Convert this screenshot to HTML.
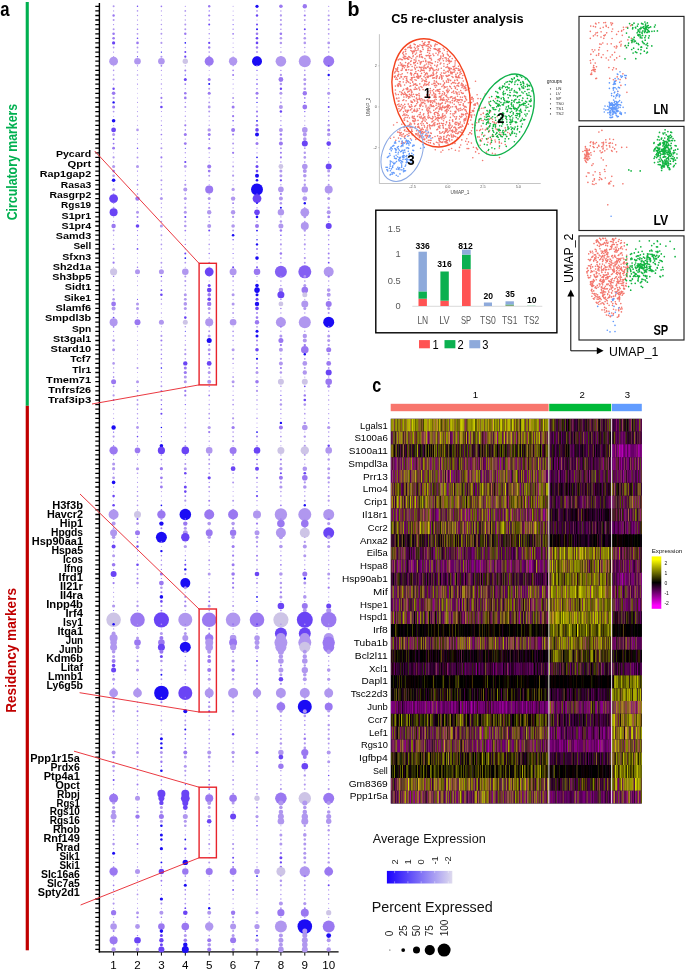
<!DOCTYPE html>
<html lang="en"><head><meta charset="utf-8"><title>Figure</title>
<style>html,body{margin:0;padding:0;background:#fff}body{width:685px;height:971px;overflow:hidden;font-family:"Liberation Sans",Arial,sans-serif}svg{display:block}</style>
</head><body><svg width="685" height="971" viewBox="0 0 685 971"><g id="pa">
<rect x="25.7" y="2" width="3.1" height="403.8" fill="#00b050"/>
<rect x="25.7" y="405.8" width="3.2" height="544.5" fill="#c00000"/>
<text x="0.3" y="15.5" font-family="Liberation Sans, Arial, sans-serif" font-weight="700" font-size="20" textLength="9.3" lengthAdjust="spacingAndGlyphs">a</text>
<text transform="translate(17.3,220.3) rotate(-90)" font-family="Liberation Sans, Arial, sans-serif" font-weight="700" font-size="13.8" fill="#00b050" textLength="116.5" lengthAdjust="spacingAndGlyphs">Circulatory markers</text>
<text transform="translate(16,712.8) rotate(-90)" font-family="Liberation Sans, Arial, sans-serif" font-weight="700" font-size="14" fill="#c00000" textLength="124.8" lengthAdjust="spacingAndGlyphs">Residency markers</text>
<path d="M99.4 3V952.4" stroke="#000" stroke-width="1.4" fill="none"/>
<path d="M95.3 6.3H99M95.3 10.9H99M95.3 15.5H99M95.3 20H99M95.3 24.6H99M95.3 29.2H99M95.3 33.8H99M95.3 38.3H99M95.3 42.9H99M95.3 47.5H99M95.3 52.1H99M95.3 56.7H99M95.3 61.2H99M95.3 65.8H99M95.3 70.4H99M95.3 75H99M95.3 79.5H99M95.3 84.1H99M95.3 88.7H99M95.3 93.3H99M95.3 97.9H99M95.3 102.4H99M95.3 107H99M95.3 111.6H99M95.3 116.2H99M95.3 120.8H99M95.3 125.3H99M95.3 129.9H99M95.3 134.5H99M95.3 139.1H99M95.3 143.6H99M95.3 148.2H99M95.3 152.8H99M95.3 157.4H99M95.3 162H99M95.3 166.5H99M95.3 171.1H99M95.3 175.7H99M95.3 180.3H99M95.3 184.8H99M95.3 189.4H99M95.3 194H99M95.3 198.6H99M95.3 203.2H99M95.3 207.7H99M95.3 212.3H99M95.3 216.9H99M95.3 221.5H99M95.3 226H99M95.3 230.6H99M95.3 235.2H99M95.3 239.8H99M95.3 244.4H99M95.3 248.9H99M95.3 253.5H99M95.3 258.1H99M95.3 262.7H99M95.3 267.2H99M95.3 271.8H99M95.3 276.4H99M95.3 281H99M95.3 285.6H99M95.3 290.1H99M95.3 294.7H99M95.3 299.3H99M95.3 303.9H99M95.3 308.4H99M95.3 313H99M95.3 317.6H99M95.3 322.2H99M95.3 326.8H99M95.3 331.3H99M95.3 335.9H99M95.3 340.5H99M95.3 345.1H99M95.3 349.7H99M95.3 354.2H99M95.3 358.8H99M95.3 363.4H99M95.3 368H99M95.3 372.5H99M95.3 377.1H99M95.3 381.7H99M95.3 386.3H99M95.3 390.9H99M95.3 395.4H99M95.3 400H99M95.3 404.6H99M95.3 409.2H99M95.3 413.7H99M95.3 418.3H99M95.3 422.9H99M95.3 427.5H99M95.3 432.1H99M95.3 436.6H99M95.3 441.2H99M95.3 445.8H99M95.3 450.4H99M95.3 454.9H99M95.3 459.5H99M95.3 464.1H99M95.3 468.7H99M95.3 473.3H99M95.3 477.8H99M95.3 482.4H99M95.3 487H99M95.3 491.6H99M95.3 496.1H99M95.3 500.7H99M95.3 505.3H99M95.3 509.9H99M95.3 514.5H99M95.3 519H99M95.3 523.6H99M95.3 528.2H99M95.3 532.8H99M95.3 537.3H99M95.3 541.9H99M95.3 546.5H99M95.3 551.1H99M95.3 555.7H99M95.3 560.2H99M95.3 564.8H99M95.3 569.4H99M95.3 574H99M95.3 578.5H99M95.3 583.1H99M95.3 587.7H99M95.3 592.3H99M95.3 596.9H99M95.3 601.4H99M95.3 606H99M95.3 610.6H99M95.3 615.2H99M95.3 619.8H99M95.3 624.3H99M95.3 628.9H99M95.3 633.5H99M95.3 638.1H99M95.3 642.6H99M95.3 647.2H99M95.3 651.8H99M95.3 656.4H99M95.3 661H99M95.3 665.5H99M95.3 670.1H99M95.3 674.7H99M95.3 679.3H99M95.3 683.8H99M95.3 688.4H99M95.3 693H99M95.3 697.6H99M95.3 702.2H99M95.3 706.7H99M95.3 711.3H99M95.3 715.9H99M95.3 720.5H99M95.3 725H99M95.3 729.6H99M95.3 734.2H99M95.3 738.8H99M95.3 743.4H99M95.3 747.9H99M95.3 752.5H99M95.3 757.1H99M95.3 761.7H99M95.3 766.2H99M95.3 770.8H99M95.3 775.4H99M95.3 780H99M95.3 784.6H99M95.3 789.1H99M95.3 793.7H99M95.3 798.3H99M95.3 802.9H99M95.3 807.5H99M95.3 812H99M95.3 816.6H99M95.3 821.2H99M95.3 825.8H99M95.3 830.3H99M95.3 834.9H99M95.3 839.5H99M95.3 844.1H99M95.3 848.7H99M95.3 853.2H99M95.3 857.8H99M95.3 862.4H99M95.3 867H99M95.3 871.5H99M95.3 876.1H99M95.3 880.7H99M95.3 885.3H99M95.3 889.9H99M95.3 894.4H99M95.3 899H99M95.3 903.6H99M95.3 908.2H99M95.3 912.7H99M95.3 917.3H99M95.3 921.9H99M95.3 926.5H99M95.3 931.1H99M95.3 935.6H99M95.3 940.2H99M95.3 944.8H99M95.3 949.4H99" stroke="#000" stroke-width="1.3" fill="none"/>
<path d="M98.7 951.9H338.6" stroke="#000" stroke-width="1.1" fill="none"/>
<path d="M113.6 951.9V955.6M137.5 951.9V955.6M161.4 951.9V955.6M185.3 951.9V955.6M209.2 951.9V955.6M233.1 951.9V955.6M257 951.9V955.6M280.9 951.9V955.6M304.8 951.9V955.6M328.7 951.9V955.6" stroke="#000" stroke-width="1" fill="none"/>
<text x="113.6" y="969.4" font-family="Liberation Sans, Arial, sans-serif" font-size="11.6" text-anchor="middle">1</text>
<text x="137.5" y="969.4" font-family="Liberation Sans, Arial, sans-serif" font-size="11.6" text-anchor="middle">2</text>
<text x="161.4" y="969.4" font-family="Liberation Sans, Arial, sans-serif" font-size="11.6" text-anchor="middle">3</text>
<text x="185.3" y="969.4" font-family="Liberation Sans, Arial, sans-serif" font-size="11.6" text-anchor="middle">4</text>
<text x="209.2" y="969.4" font-family="Liberation Sans, Arial, sans-serif" font-size="11.6" text-anchor="middle">5</text>
<text x="233.1" y="969.4" font-family="Liberation Sans, Arial, sans-serif" font-size="11.6" text-anchor="middle">6</text>
<text x="257" y="969.4" font-family="Liberation Sans, Arial, sans-serif" font-size="11.6" text-anchor="middle">7</text>
<text x="280.9" y="969.4" font-family="Liberation Sans, Arial, sans-serif" font-size="11.6" text-anchor="middle">8</text>
<text x="304.8" y="969.4" font-family="Liberation Sans, Arial, sans-serif" font-size="11.6" text-anchor="middle">9</text>
<text x="328.7" y="969.4" font-family="Liberation Sans, Arial, sans-serif" font-size="11.6" text-anchor="middle">10</text>
<circle cx="113.6" cy="6.3" r="1.00" fill="#b097ef"/>
<circle cx="137.5" cy="6.3" r="0.72" fill="#6a44f5"/>
<circle cx="161.4" cy="6.3" r="0.85" fill="#9a78f1"/>
<circle cx="185.3" cy="6.3" r="0.55" fill="#9a78f1"/>
<circle cx="209.2" cy="6.3" r="1.20" fill="#9a78f1"/>
<circle cx="233.1" cy="6.3" r="0.55" fill="#b097ef"/>
<circle cx="257" cy="6.3" r="1.60" fill="#1b0cf4"/>
<circle cx="280.9" cy="6.3" r="1.80" fill="#9a78f1"/>
<circle cx="304.8" cy="6.3" r="2.20" fill="#9a78f1"/>
<circle cx="328.7" cy="6.3" r="0.55" fill="#9a78f1"/>
<circle cx="113.6" cy="10.9" r="0.65" fill="#b097ef"/>
<circle cx="137.5" cy="10.9" r="0.81" fill="#b097ef"/>
<circle cx="161.4" cy="10.9" r="0.62" fill="#b097ef"/>
<circle cx="185.3" cy="10.9" r="0.90" fill="#b097ef"/>
<circle cx="209.2" cy="10.9" r="0.55" fill="#6a44f5"/>
<circle cx="233.1" cy="10.9" r="0.50" fill="#b097ef"/>
<circle cx="257" cy="10.9" r="0.90" fill="#b097ef"/>
<circle cx="280.9" cy="10.9" r="0.75" fill="#b097ef"/>
<circle cx="304.8" cy="10.9" r="0.72" fill="#b097ef"/>
<circle cx="328.7" cy="10.9" r="0.66" fill="#b097ef"/>
<circle cx="113.6" cy="15.5" r="1.20" fill="#9a78f1"/>
<circle cx="137.5" cy="15.5" r="0.63" fill="#b097ef"/>
<circle cx="161.4" cy="15.5" r="0.57" fill="#b097ef"/>
<circle cx="185.3" cy="15.5" r="0.65" fill="#b097ef"/>
<circle cx="209.2" cy="15.5" r="1.10" fill="#9a78f1"/>
<circle cx="233.1" cy="15.5" r="0.50" fill="#b097ef"/>
<circle cx="257" cy="15.5" r="1.20" fill="#6a44f5"/>
<circle cx="280.9" cy="15.5" r="1.15" fill="#b097ef"/>
<circle cx="304.8" cy="15.5" r="1.08" fill="#9a78f1"/>
<circle cx="328.7" cy="15.5" r="1.10" fill="#b097ef"/>
<circle cx="113.6" cy="20" r="1.00" fill="#b097ef"/>
<circle cx="137.5" cy="20" r="0.59" fill="#9a78f1"/>
<circle cx="161.4" cy="20" r="0.62" fill="#b097ef"/>
<circle cx="185.3" cy="20" r="0.70" fill="#b097ef"/>
<circle cx="209.2" cy="20" r="0.80" fill="#9a78f1"/>
<circle cx="233.1" cy="20" r="0.70" fill="#b097ef"/>
<circle cx="257" cy="20" r="0.55" fill="#b097ef"/>
<circle cx="280.9" cy="20" r="1.03" fill="#b097ef"/>
<circle cx="304.8" cy="20" r="0.96" fill="#b097ef"/>
<circle cx="328.7" cy="20" r="1.10" fill="#b097ef"/>
<circle cx="113.6" cy="24.6" r="0.55" fill="#9a78f1"/>
<circle cx="137.5" cy="24.6" r="0.72" fill="#b097ef"/>
<circle cx="161.4" cy="24.6" r="0.76" fill="#b097ef"/>
<circle cx="185.3" cy="24.6" r="1.00" fill="#b097ef"/>
<circle cx="209.2" cy="24.6" r="1.00" fill="#6a44f5"/>
<circle cx="233.1" cy="24.6" r="0.55" fill="#6a44f5"/>
<circle cx="257" cy="24.6" r="1.00" fill="#6a44f5"/>
<circle cx="280.9" cy="24.6" r="1.15" fill="#b097ef"/>
<circle cx="304.8" cy="24.6" r="0.66" fill="#b097ef"/>
<circle cx="328.7" cy="24.6" r="0.77" fill="#b097ef"/>
<circle cx="113.6" cy="29.2" r="1.00" fill="#b097ef"/>
<circle cx="137.5" cy="29.2" r="0.81" fill="#9a78f1"/>
<circle cx="161.4" cy="29.2" r="0.76" fill="#b097ef"/>
<circle cx="185.3" cy="29.2" r="1.00" fill="#b097ef"/>
<circle cx="209.2" cy="29.2" r="0.55" fill="#b097ef"/>
<circle cx="233.1" cy="29.2" r="0.65" fill="#9a78f1"/>
<circle cx="257" cy="29.2" r="1.00" fill="#1b0cf4"/>
<circle cx="280.9" cy="29.2" r="0.69" fill="#9a78f1"/>
<circle cx="304.8" cy="29.2" r="1.00" fill="#6a44f5"/>
<circle cx="328.7" cy="29.2" r="0.99" fill="#b097ef"/>
<circle cx="113.6" cy="33.8" r="1.30" fill="#9a78f1"/>
<circle cx="137.5" cy="33.8" r="0.90" fill="#b097ef"/>
<circle cx="161.4" cy="33.8" r="0.95" fill="#b097ef"/>
<circle cx="185.3" cy="33.8" r="1.20" fill="#9a78f1"/>
<circle cx="209.2" cy="33.8" r="0.70" fill="#9a78f1"/>
<circle cx="233.1" cy="33.8" r="0.90" fill="#9a78f1"/>
<circle cx="257" cy="33.8" r="1.30" fill="#9a78f1"/>
<circle cx="280.9" cy="33.8" r="1.30" fill="#9a78f1"/>
<circle cx="304.8" cy="33.8" r="0.84" fill="#9a78f1"/>
<circle cx="328.7" cy="33.8" r="0.88" fill="#b097ef"/>
<circle cx="113.6" cy="38.3" r="1.30" fill="#9a78f1"/>
<circle cx="137.5" cy="38.3" r="0.81" fill="#6a44f5"/>
<circle cx="161.4" cy="38.3" r="0.57" fill="#b097ef"/>
<circle cx="185.3" cy="38.3" r="0.60" fill="#b097ef"/>
<circle cx="209.2" cy="38.3" r="0.65" fill="#b097ef"/>
<circle cx="233.1" cy="38.3" r="0.60" fill="#b097ef"/>
<circle cx="257" cy="38.3" r="1.30" fill="#6a44f5"/>
<circle cx="280.9" cy="38.3" r="1.30" fill="#b097ef"/>
<circle cx="304.8" cy="38.3" r="1.30" fill="#b097ef"/>
<circle cx="328.7" cy="38.3" r="0.55" fill="#b097ef"/>
<circle cx="113.6" cy="42.9" r="1.60" fill="#6a44f5"/>
<circle cx="137.5" cy="42.9" r="1.30" fill="#9a78f1"/>
<circle cx="161.4" cy="42.9" r="1.04" fill="#b097ef"/>
<circle cx="185.3" cy="42.9" r="0.80" fill="#1b0cf4"/>
<circle cx="209.2" cy="42.9" r="1.10" fill="#6a44f5"/>
<circle cx="233.1" cy="42.9" r="0.50" fill="#b097ef"/>
<circle cx="257" cy="42.9" r="1.30" fill="#6a44f5"/>
<circle cx="280.9" cy="42.9" r="1.26" fill="#b097ef"/>
<circle cx="304.8" cy="42.9" r="1.30" fill="#b097ef"/>
<circle cx="328.7" cy="42.9" r="1.40" fill="#b097ef"/>
<circle cx="113.6" cy="47.5" r="0.90" fill="#b097ef"/>
<circle cx="137.5" cy="47.5" r="0.90" fill="#b097ef"/>
<circle cx="161.4" cy="47.5" r="0.47" fill="#b097ef"/>
<circle cx="185.3" cy="47.5" r="0.65" fill="#b097ef"/>
<circle cx="209.2" cy="47.5" r="1.20" fill="#9a78f1"/>
<circle cx="233.1" cy="47.5" r="0.55" fill="#b097ef"/>
<circle cx="257" cy="47.5" r="1.20" fill="#9a78f1"/>
<circle cx="280.9" cy="47.5" r="0.57" fill="#b097ef"/>
<circle cx="304.8" cy="47.5" r="0.72" fill="#b097ef"/>
<circle cx="328.7" cy="47.5" r="0.88" fill="#b097ef"/>
<circle cx="113.6" cy="52.1" r="0.55" fill="#9a78f1"/>
<circle cx="137.5" cy="52.1" r="0.81" fill="#b097ef"/>
<circle cx="161.4" cy="52.1" r="0.66" fill="#1b0cf4"/>
<circle cx="185.3" cy="52.1" r="1.00" fill="#6a44f5"/>
<circle cx="209.2" cy="52.1" r="0.80" fill="#b097ef"/>
<circle cx="233.1" cy="52.1" r="0.55" fill="#9a78f1"/>
<circle cx="257" cy="52.1" r="1.00" fill="#b097ef"/>
<circle cx="280.9" cy="52.1" r="0.80" fill="#b097ef"/>
<circle cx="304.8" cy="52.1" r="0.66" fill="#9a78f1"/>
<circle cx="328.7" cy="52.1" r="0.77" fill="#b097ef"/>
<circle cx="113.6" cy="56.7" r="0.60" fill="#b097ef"/>
<circle cx="137.5" cy="56.7" r="0.59" fill="#6a44f5"/>
<circle cx="161.4" cy="56.7" r="1.04" fill="#b097ef"/>
<circle cx="185.3" cy="56.7" r="1.10" fill="#6a44f5"/>
<circle cx="209.2" cy="56.7" r="1.10" fill="#b097ef"/>
<circle cx="233.1" cy="56.7" r="0.55" fill="#b097ef"/>
<circle cx="257" cy="56.7" r="0.70" fill="#9a78f1"/>
<circle cx="280.9" cy="56.7" r="0.69" fill="#b097ef"/>
<circle cx="304.8" cy="56.7" r="0.78" fill="#b097ef"/>
<circle cx="328.7" cy="56.7" r="1.21" fill="#b097ef"/>
<circle cx="113.6" cy="61.2" r="4.40" fill="#b097ef"/>
<circle cx="137.5" cy="61.2" r="3.30" fill="#b097ef"/>
<circle cx="161.4" cy="61.2" r="3.30" fill="#b097ef"/>
<circle cx="185.3" cy="61.2" r="2.70" fill="#cdc4e6"/>
<circle cx="209.2" cy="61.2" r="4.50" fill="#9a78f1"/>
<circle cx="233.1" cy="61.2" r="4.20" fill="#b097ef"/>
<circle cx="257" cy="61.2" r="5.00" fill="#1b0cf4"/>
<circle cx="280.9" cy="61.2" r="5.30" fill="#b097ef"/>
<circle cx="304.8" cy="61.2" r="6.00" fill="#b097ef"/>
<circle cx="328.7" cy="61.2" r="5.50" fill="#9a78f1"/>
<circle cx="113.6" cy="65.8" r="0.65" fill="#b097ef"/>
<circle cx="137.5" cy="65.8" r="0.59" fill="#9a78f1"/>
<circle cx="161.4" cy="65.8" r="0.85" fill="#9a78f1"/>
<circle cx="185.3" cy="65.8" r="0.65" fill="#b097ef"/>
<circle cx="209.2" cy="65.8" r="1.00" fill="#b097ef"/>
<circle cx="233.1" cy="65.8" r="0.50" fill="#6a44f5"/>
<circle cx="257" cy="65.8" r="0.70" fill="#b097ef"/>
<circle cx="280.9" cy="65.8" r="0.75" fill="#b097ef"/>
<circle cx="304.8" cy="65.8" r="0.96" fill="#b097ef"/>
<circle cx="328.7" cy="65.8" r="0.88" fill="#6a44f5"/>
<circle cx="113.6" cy="70.4" r="0.80" fill="#b097ef"/>
<circle cx="137.5" cy="70.4" r="0.50" fill="#b097ef"/>
<circle cx="161.4" cy="70.4" r="0.62" fill="#b097ef"/>
<circle cx="185.3" cy="70.4" r="1.00" fill="#9a78f1"/>
<circle cx="209.2" cy="70.4" r="0.50" fill="#b097ef"/>
<circle cx="233.1" cy="70.4" r="0.80" fill="#9a78f1"/>
<circle cx="257" cy="70.4" r="0.55" fill="#6a44f5"/>
<circle cx="280.9" cy="70.4" r="0.63" fill="#9a78f1"/>
<circle cx="304.8" cy="70.4" r="0.78" fill="#b097ef"/>
<circle cx="328.7" cy="70.4" r="0.66" fill="#b097ef"/>
<circle cx="113.6" cy="75" r="0.80" fill="#b097ef"/>
<circle cx="137.5" cy="75" r="0.81" fill="#b097ef"/>
<circle cx="161.4" cy="75" r="0.52" fill="#9a78f1"/>
<circle cx="185.3" cy="75" r="0.60" fill="#1b0cf4"/>
<circle cx="209.2" cy="75" r="0.50" fill="#b097ef"/>
<circle cx="233.1" cy="75" r="1.00" fill="#9a78f1"/>
<circle cx="257" cy="75" r="0.60" fill="#9a78f1"/>
<circle cx="280.9" cy="75" r="1.15" fill="#b097ef"/>
<circle cx="304.8" cy="75" r="0.96" fill="#b097ef"/>
<circle cx="328.7" cy="75" r="1.20" fill="#1b0cf4"/>
<circle cx="113.6" cy="79.5" r="1.10" fill="#b097ef"/>
<circle cx="137.5" cy="79.5" r="0.45" fill="#9a78f1"/>
<circle cx="161.4" cy="79.5" r="0.52" fill="#b097ef"/>
<circle cx="185.3" cy="79.5" r="1.50" fill="#6a44f5"/>
<circle cx="209.2" cy="79.5" r="1.50" fill="#9a78f1"/>
<circle cx="233.1" cy="79.5" r="0.60" fill="#b097ef"/>
<circle cx="257" cy="79.5" r="0.65" fill="#6a44f5"/>
<circle cx="280.9" cy="79.5" r="2.40" fill="#9a78f1"/>
<circle cx="304.8" cy="79.5" r="1.50" fill="#b097ef"/>
<circle cx="328.7" cy="79.5" r="0.72" fill="#b097ef"/>
<circle cx="113.6" cy="84.1" r="0.65" fill="#b097ef"/>
<circle cx="137.5" cy="84.1" r="0.59" fill="#9a78f1"/>
<circle cx="161.4" cy="84.1" r="0.76" fill="#b097ef"/>
<circle cx="185.3" cy="84.1" r="0.90" fill="#9a78f1"/>
<circle cx="209.2" cy="84.1" r="1.00" fill="#1b0cf4"/>
<circle cx="233.1" cy="84.1" r="0.50" fill="#9a78f1"/>
<circle cx="257" cy="84.1" r="0.80" fill="#6a44f5"/>
<circle cx="280.9" cy="84.1" r="1.26" fill="#b097ef"/>
<circle cx="304.8" cy="84.1" r="1.32" fill="#b097ef"/>
<circle cx="328.7" cy="84.1" r="0.66" fill="#b097ef"/>
<circle cx="113.6" cy="88.7" r="1.20" fill="#6a44f5"/>
<circle cx="137.5" cy="88.7" r="0.45" fill="#9a78f1"/>
<circle cx="161.4" cy="88.7" r="0.57" fill="#9a78f1"/>
<circle cx="185.3" cy="88.7" r="0.60" fill="#b097ef"/>
<circle cx="209.2" cy="88.7" r="1.00" fill="#b097ef"/>
<circle cx="233.1" cy="88.7" r="0.55" fill="#b097ef"/>
<circle cx="257" cy="88.7" r="0.80" fill="#9a78f1"/>
<circle cx="280.9" cy="88.7" r="1.20" fill="#6a44f5"/>
<circle cx="304.8" cy="88.7" r="1.32" fill="#b097ef"/>
<circle cx="328.7" cy="88.7" r="0.61" fill="#9a78f1"/>
<circle cx="113.6" cy="93.3" r="1.80" fill="#9a78f1"/>
<circle cx="137.5" cy="93.3" r="0.45" fill="#b097ef"/>
<circle cx="161.4" cy="93.3" r="0.66" fill="#b097ef"/>
<circle cx="185.3" cy="93.3" r="1.30" fill="#9a78f1"/>
<circle cx="209.2" cy="93.3" r="1.50" fill="#9a78f1"/>
<circle cx="233.1" cy="93.3" r="0.55" fill="#b097ef"/>
<circle cx="257" cy="93.3" r="1.50" fill="#9a78f1"/>
<circle cx="280.9" cy="93.3" r="1.50" fill="#b097ef"/>
<circle cx="304.8" cy="93.3" r="2.20" fill="#9a78f1"/>
<circle cx="328.7" cy="93.3" r="1.60" fill="#b097ef"/>
<circle cx="113.6" cy="97.9" r="1.10" fill="#b097ef"/>
<circle cx="137.5" cy="97.9" r="0.50" fill="#b097ef"/>
<circle cx="161.4" cy="97.9" r="1.04" fill="#9a78f1"/>
<circle cx="185.3" cy="97.9" r="1.30" fill="#9a78f1"/>
<circle cx="209.2" cy="97.9" r="0.65" fill="#b097ef"/>
<circle cx="233.1" cy="97.9" r="1.00" fill="#b097ef"/>
<circle cx="257" cy="97.9" r="1.00" fill="#9a78f1"/>
<circle cx="280.9" cy="97.9" r="0.75" fill="#b097ef"/>
<circle cx="304.8" cy="97.9" r="0.84" fill="#9a78f1"/>
<circle cx="328.7" cy="97.9" r="0.72" fill="#9a78f1"/>
<circle cx="113.6" cy="102.4" r="1.20" fill="#1b0cf4"/>
<circle cx="137.5" cy="102.4" r="0.54" fill="#b097ef"/>
<circle cx="161.4" cy="102.4" r="0.85" fill="#b097ef"/>
<circle cx="185.3" cy="102.4" r="0.55" fill="#9a78f1"/>
<circle cx="209.2" cy="102.4" r="0.90" fill="#b097ef"/>
<circle cx="233.1" cy="102.4" r="0.70" fill="#9a78f1"/>
<circle cx="257" cy="102.4" r="0.60" fill="#1b0cf4"/>
<circle cx="280.9" cy="102.4" r="0.92" fill="#b097ef"/>
<circle cx="304.8" cy="102.4" r="0.72" fill="#6a44f5"/>
<circle cx="328.7" cy="102.4" r="0.72" fill="#9a78f1"/>
<circle cx="113.6" cy="107" r="1.50" fill="#9a78f1"/>
<circle cx="137.5" cy="107" r="0.50" fill="#b097ef"/>
<circle cx="161.4" cy="107" r="1.30" fill="#6a44f5"/>
<circle cx="185.3" cy="107" r="1.00" fill="#b097ef"/>
<circle cx="209.2" cy="107" r="1.40" fill="#b097ef"/>
<circle cx="233.1" cy="107" r="1.50" fill="#9a78f1"/>
<circle cx="257" cy="107" r="0.65" fill="#b097ef"/>
<circle cx="280.9" cy="107" r="2.00" fill="#b097ef"/>
<circle cx="304.8" cy="107" r="2.40" fill="#9a78f1"/>
<circle cx="328.7" cy="107" r="0.99" fill="#6a44f5"/>
<circle cx="113.6" cy="111.6" r="0.90" fill="#b097ef"/>
<circle cx="137.5" cy="111.6" r="0.59" fill="#b097ef"/>
<circle cx="161.4" cy="111.6" r="0.52" fill="#9a78f1"/>
<circle cx="185.3" cy="111.6" r="0.50" fill="#b097ef"/>
<circle cx="209.2" cy="111.6" r="1.00" fill="#b097ef"/>
<circle cx="233.1" cy="111.6" r="0.50" fill="#b097ef"/>
<circle cx="257" cy="111.6" r="1.10" fill="#9a78f1"/>
<circle cx="280.9" cy="111.6" r="1.26" fill="#6a44f5"/>
<circle cx="304.8" cy="111.6" r="0.66" fill="#6a44f5"/>
<circle cx="328.7" cy="111.6" r="0.72" fill="#6a44f5"/>
<circle cx="113.6" cy="116.2" r="0.55" fill="#b097ef"/>
<circle cx="137.5" cy="116.2" r="0.63" fill="#b097ef"/>
<circle cx="161.4" cy="116.2" r="0.57" fill="#b097ef"/>
<circle cx="185.3" cy="116.2" r="0.60" fill="#9a78f1"/>
<circle cx="209.2" cy="116.2" r="0.70" fill="#b097ef"/>
<circle cx="233.1" cy="116.2" r="1.10" fill="#9a78f1"/>
<circle cx="257" cy="116.2" r="1.00" fill="#9a78f1"/>
<circle cx="280.9" cy="116.2" r="0.63" fill="#b097ef"/>
<circle cx="304.8" cy="116.2" r="0.72" fill="#b097ef"/>
<circle cx="328.7" cy="116.2" r="0.61" fill="#b097ef"/>
<circle cx="113.6" cy="120.8" r="1.80" fill="#1b0cf4"/>
<circle cx="137.5" cy="120.8" r="0.45" fill="#b097ef"/>
<circle cx="161.4" cy="120.8" r="0.66" fill="#b097ef"/>
<circle cx="185.3" cy="120.8" r="0.65" fill="#b097ef"/>
<circle cx="209.2" cy="120.8" r="0.55" fill="#b097ef"/>
<circle cx="233.1" cy="120.8" r="0.80" fill="#6a44f5"/>
<circle cx="257" cy="120.8" r="0.90" fill="#1b0cf4"/>
<circle cx="280.9" cy="120.8" r="0.80" fill="#b097ef"/>
<circle cx="304.8" cy="120.8" r="0.60" fill="#b097ef"/>
<circle cx="328.7" cy="120.8" r="0.72" fill="#6a44f5"/>
<circle cx="113.6" cy="125.3" r="0.60" fill="#b097ef"/>
<circle cx="137.5" cy="125.3" r="0.54" fill="#b097ef"/>
<circle cx="161.4" cy="125.3" r="0.66" fill="#9a78f1"/>
<circle cx="185.3" cy="125.3" r="1.10" fill="#9a78f1"/>
<circle cx="209.2" cy="125.3" r="0.70" fill="#b097ef"/>
<circle cx="233.1" cy="125.3" r="0.60" fill="#b097ef"/>
<circle cx="257" cy="125.3" r="1.30" fill="#9a78f1"/>
<circle cx="280.9" cy="125.3" r="0.57" fill="#6a44f5"/>
<circle cx="304.8" cy="125.3" r="0.60" fill="#b097ef"/>
<circle cx="328.7" cy="125.3" r="1.21" fill="#b097ef"/>
<circle cx="113.6" cy="129.9" r="2.40" fill="#6a44f5"/>
<circle cx="137.5" cy="129.9" r="1.30" fill="#b097ef"/>
<circle cx="161.4" cy="129.9" r="0.62" fill="#b097ef"/>
<circle cx="185.3" cy="129.9" r="0.65" fill="#6a44f5"/>
<circle cx="209.2" cy="129.9" r="1.70" fill="#b097ef"/>
<circle cx="233.1" cy="129.9" r="2.00" fill="#9a78f1"/>
<circle cx="257" cy="129.9" r="1.80" fill="#6a44f5"/>
<circle cx="280.9" cy="129.9" r="2.00" fill="#b097ef"/>
<circle cx="304.8" cy="129.9" r="2.80" fill="#b097ef"/>
<circle cx="328.7" cy="129.9" r="1.50" fill="#9a78f1"/>
<circle cx="113.6" cy="134.5" r="1.50" fill="#b097ef"/>
<circle cx="137.5" cy="134.5" r="0.50" fill="#b097ef"/>
<circle cx="161.4" cy="134.5" r="0.85" fill="#9a78f1"/>
<circle cx="185.3" cy="134.5" r="1.50" fill="#9a78f1"/>
<circle cx="209.2" cy="134.5" r="1.50" fill="#9a78f1"/>
<circle cx="233.1" cy="134.5" r="1.10" fill="#9a78f1"/>
<circle cx="257" cy="134.5" r="2.00" fill="#1b0cf4"/>
<circle cx="280.9" cy="134.5" r="1.30" fill="#9a78f1"/>
<circle cx="304.8" cy="134.5" r="2.00" fill="#b097ef"/>
<circle cx="328.7" cy="134.5" r="1.70" fill="#b097ef"/>
<circle cx="113.6" cy="139.1" r="0.90" fill="#6a44f5"/>
<circle cx="137.5" cy="139.1" r="0.63" fill="#b097ef"/>
<circle cx="161.4" cy="139.1" r="0.62" fill="#b097ef"/>
<circle cx="185.3" cy="139.1" r="0.60" fill="#b097ef"/>
<circle cx="209.2" cy="139.1" r="0.80" fill="#6a44f5"/>
<circle cx="233.1" cy="139.1" r="0.60" fill="#b097ef"/>
<circle cx="257" cy="139.1" r="0.70" fill="#b097ef"/>
<circle cx="280.9" cy="139.1" r="1.30" fill="#b097ef"/>
<circle cx="304.8" cy="139.1" r="1.80" fill="#b097ef"/>
<circle cx="328.7" cy="139.1" r="0.55" fill="#b097ef"/>
<circle cx="113.6" cy="143.6" r="0.90" fill="#9a78f1"/>
<circle cx="137.5" cy="143.6" r="0.63" fill="#b097ef"/>
<circle cx="161.4" cy="143.6" r="0.66" fill="#b097ef"/>
<circle cx="185.3" cy="143.6" r="1.40" fill="#9a78f1"/>
<circle cx="209.2" cy="143.6" r="0.60" fill="#b097ef"/>
<circle cx="233.1" cy="143.6" r="1.00" fill="#b097ef"/>
<circle cx="257" cy="143.6" r="1.50" fill="#9a78f1"/>
<circle cx="280.9" cy="143.6" r="2.00" fill="#9a78f1"/>
<circle cx="304.8" cy="143.6" r="3.00" fill="#6a44f5"/>
<circle cx="328.7" cy="143.6" r="2.30" fill="#6a44f5"/>
<circle cx="113.6" cy="148.2" r="1.40" fill="#9a78f1"/>
<circle cx="137.5" cy="148.2" r="0.72" fill="#6a44f5"/>
<circle cx="161.4" cy="148.2" r="1.04" fill="#b097ef"/>
<circle cx="185.3" cy="148.2" r="0.50" fill="#1b0cf4"/>
<circle cx="209.2" cy="148.2" r="1.30" fill="#9a78f1"/>
<circle cx="233.1" cy="148.2" r="0.70" fill="#b097ef"/>
<circle cx="257" cy="148.2" r="0.60" fill="#b097ef"/>
<circle cx="280.9" cy="148.2" r="1.03" fill="#b097ef"/>
<circle cx="304.8" cy="148.2" r="0.84" fill="#b097ef"/>
<circle cx="328.7" cy="148.2" r="0.72" fill="#b097ef"/>
<circle cx="113.6" cy="152.8" r="0.50" fill="#b097ef"/>
<circle cx="137.5" cy="152.8" r="0.50" fill="#b097ef"/>
<circle cx="161.4" cy="152.8" r="0.47" fill="#b097ef"/>
<circle cx="185.3" cy="152.8" r="0.70" fill="#b097ef"/>
<circle cx="209.2" cy="152.8" r="0.65" fill="#b097ef"/>
<circle cx="233.1" cy="152.8" r="1.10" fill="#9a78f1"/>
<circle cx="257" cy="152.8" r="0.60" fill="#9a78f1"/>
<circle cx="280.9" cy="152.8" r="1.03" fill="#9a78f1"/>
<circle cx="304.8" cy="152.8" r="1.20" fill="#b097ef"/>
<circle cx="328.7" cy="152.8" r="0.66" fill="#b097ef"/>
<circle cx="113.6" cy="157.4" r="1.10" fill="#b097ef"/>
<circle cx="137.5" cy="157.4" r="0.99" fill="#b097ef"/>
<circle cx="161.4" cy="157.4" r="1.04" fill="#9a78f1"/>
<circle cx="185.3" cy="157.4" r="0.50" fill="#9a78f1"/>
<circle cx="209.2" cy="157.4" r="0.65" fill="#b097ef"/>
<circle cx="233.1" cy="157.4" r="0.50" fill="#b097ef"/>
<circle cx="257" cy="157.4" r="0.80" fill="#1b0cf4"/>
<circle cx="280.9" cy="157.4" r="1.03" fill="#9a78f1"/>
<circle cx="304.8" cy="157.4" r="1.32" fill="#b097ef"/>
<circle cx="328.7" cy="157.4" r="0.55" fill="#b097ef"/>
<circle cx="113.6" cy="162" r="0.65" fill="#b097ef"/>
<circle cx="137.5" cy="162" r="0.45" fill="#b097ef"/>
<circle cx="161.4" cy="162" r="0.52" fill="#9a78f1"/>
<circle cx="185.3" cy="162" r="1.10" fill="#6a44f5"/>
<circle cx="209.2" cy="162" r="0.55" fill="#b097ef"/>
<circle cx="233.1" cy="162" r="0.55" fill="#9a78f1"/>
<circle cx="257" cy="162" r="1.00" fill="#b097ef"/>
<circle cx="280.9" cy="162" r="0.63" fill="#9a78f1"/>
<circle cx="304.8" cy="162" r="0.78" fill="#9a78f1"/>
<circle cx="328.7" cy="162" r="0.72" fill="#b097ef"/>
<circle cx="113.6" cy="166.5" r="1.50" fill="#b097ef"/>
<circle cx="137.5" cy="166.5" r="1.50" fill="#b097ef"/>
<circle cx="161.4" cy="166.5" r="0.95" fill="#b097ef"/>
<circle cx="185.3" cy="166.5" r="1.40" fill="#b097ef"/>
<circle cx="209.2" cy="166.5" r="2.00" fill="#9a78f1"/>
<circle cx="233.1" cy="166.5" r="0.90" fill="#b097ef"/>
<circle cx="257" cy="166.5" r="1.50" fill="#6a44f5"/>
<circle cx="280.9" cy="166.5" r="2.40" fill="#cdc4e6"/>
<circle cx="304.8" cy="166.5" r="2.80" fill="#b097ef"/>
<circle cx="328.7" cy="166.5" r="3.00" fill="#6a44f5"/>
<circle cx="113.6" cy="171.1" r="1.30" fill="#9a78f1"/>
<circle cx="137.5" cy="171.1" r="0.63" fill="#9a78f1"/>
<circle cx="161.4" cy="171.1" r="0.62" fill="#b097ef"/>
<circle cx="185.3" cy="171.1" r="0.60" fill="#b097ef"/>
<circle cx="209.2" cy="171.1" r="1.40" fill="#9a78f1"/>
<circle cx="233.1" cy="171.1" r="0.70" fill="#b097ef"/>
<circle cx="257" cy="171.1" r="1.30" fill="#6a44f5"/>
<circle cx="280.9" cy="171.1" r="1.50" fill="#b097ef"/>
<circle cx="304.8" cy="171.1" r="2.00" fill="#b097ef"/>
<circle cx="328.7" cy="171.1" r="1.50" fill="#b097ef"/>
<circle cx="113.6" cy="175.7" r="1.30" fill="#b097ef"/>
<circle cx="137.5" cy="175.7" r="0.54" fill="#b097ef"/>
<circle cx="161.4" cy="175.7" r="0.47" fill="#b097ef"/>
<circle cx="185.3" cy="175.7" r="0.55" fill="#9a78f1"/>
<circle cx="209.2" cy="175.7" r="1.00" fill="#b097ef"/>
<circle cx="233.1" cy="175.7" r="1.10" fill="#b097ef"/>
<circle cx="257" cy="175.7" r="2.00" fill="#1b0cf4"/>
<circle cx="280.9" cy="175.7" r="1.50" fill="#b097ef"/>
<circle cx="304.8" cy="175.7" r="1.80" fill="#b097ef"/>
<circle cx="328.7" cy="175.7" r="1.10" fill="#b097ef"/>
<circle cx="113.6" cy="180.3" r="1.80" fill="#1b0cf4"/>
<circle cx="137.5" cy="180.3" r="0.50" fill="#6a44f5"/>
<circle cx="161.4" cy="180.3" r="1.04" fill="#b097ef"/>
<circle cx="185.3" cy="180.3" r="0.55" fill="#6a44f5"/>
<circle cx="209.2" cy="180.3" r="0.50" fill="#b097ef"/>
<circle cx="233.1" cy="180.3" r="0.55" fill="#9a78f1"/>
<circle cx="257" cy="180.3" r="1.30" fill="#1b0cf4"/>
<circle cx="280.9" cy="180.3" r="1.15" fill="#6a44f5"/>
<circle cx="304.8" cy="180.3" r="1.08" fill="#b097ef"/>
<circle cx="328.7" cy="180.3" r="0.72" fill="#b097ef"/>
<circle cx="113.6" cy="184.8" r="0.55" fill="#b097ef"/>
<circle cx="137.5" cy="184.8" r="0.99" fill="#b097ef"/>
<circle cx="161.4" cy="184.8" r="0.76" fill="#b097ef"/>
<circle cx="185.3" cy="184.8" r="1.10" fill="#b097ef"/>
<circle cx="209.2" cy="184.8" r="0.55" fill="#9a78f1"/>
<circle cx="233.1" cy="184.8" r="0.65" fill="#b097ef"/>
<circle cx="257" cy="184.8" r="1.00" fill="#b097ef"/>
<circle cx="280.9" cy="184.8" r="0.69" fill="#b097ef"/>
<circle cx="304.8" cy="184.8" r="1.20" fill="#b097ef"/>
<circle cx="328.7" cy="184.8" r="0.99" fill="#b097ef"/>
<circle cx="113.6" cy="189.4" r="1.50" fill="#b097ef"/>
<circle cx="137.5" cy="189.4" r="0.54" fill="#b097ef"/>
<circle cx="161.4" cy="189.4" r="0.85" fill="#b097ef"/>
<circle cx="185.3" cy="189.4" r="2.00" fill="#b097ef"/>
<circle cx="209.2" cy="189.4" r="4.00" fill="#9a78f1"/>
<circle cx="233.1" cy="189.4" r="1.60" fill="#b097ef"/>
<circle cx="257" cy="189.4" r="6.00" fill="#1b0cf4"/>
<circle cx="280.9" cy="189.4" r="2.80" fill="#b097ef"/>
<circle cx="304.8" cy="189.4" r="3.20" fill="#b097ef"/>
<circle cx="328.7" cy="189.4" r="4.00" fill="#b097ef"/>
<circle cx="113.6" cy="194" r="0.80" fill="#b097ef"/>
<circle cx="137.5" cy="194" r="0.72" fill="#9a78f1"/>
<circle cx="161.4" cy="194" r="0.52" fill="#6a44f5"/>
<circle cx="185.3" cy="194" r="0.65" fill="#9a78f1"/>
<circle cx="209.2" cy="194" r="0.70" fill="#b097ef"/>
<circle cx="233.1" cy="194" r="0.55" fill="#b097ef"/>
<circle cx="257" cy="194" r="0.55" fill="#b097ef"/>
<circle cx="280.9" cy="194" r="1.03" fill="#9a78f1"/>
<circle cx="304.8" cy="194" r="0.60" fill="#b097ef"/>
<circle cx="328.7" cy="194" r="0.55" fill="#9a78f1"/>
<circle cx="113.6" cy="198.6" r="4.40" fill="#6a44f5"/>
<circle cx="137.5" cy="198.6" r="2.20" fill="#9a78f1"/>
<circle cx="161.4" cy="198.6" r="1.50" fill="#b097ef"/>
<circle cx="185.3" cy="198.6" r="1.50" fill="#b097ef"/>
<circle cx="209.2" cy="198.6" r="1.50" fill="#b097ef"/>
<circle cx="233.1" cy="198.6" r="2.20" fill="#b097ef"/>
<circle cx="257" cy="198.6" r="4.40" fill="#6a44f5"/>
<circle cx="280.9" cy="198.6" r="2.00" fill="#b097ef"/>
<circle cx="304.8" cy="198.6" r="2.40" fill="#b097ef"/>
<circle cx="328.7" cy="198.6" r="1.50" fill="#b097ef"/>
<circle cx="113.6" cy="203.2" r="0.70" fill="#b097ef"/>
<circle cx="137.5" cy="203.2" r="0.54" fill="#b097ef"/>
<circle cx="161.4" cy="203.2" r="0.66" fill="#b097ef"/>
<circle cx="185.3" cy="203.2" r="0.80" fill="#b097ef"/>
<circle cx="209.2" cy="203.2" r="0.80" fill="#9a78f1"/>
<circle cx="233.1" cy="203.2" r="0.90" fill="#9a78f1"/>
<circle cx="257" cy="203.2" r="0.90" fill="#1b0cf4"/>
<circle cx="280.9" cy="203.2" r="1.26" fill="#b097ef"/>
<circle cx="304.8" cy="203.2" r="1.20" fill="#1b0cf4"/>
<circle cx="328.7" cy="203.2" r="0.61" fill="#b097ef"/>
<circle cx="113.6" cy="207.7" r="0.90" fill="#b097ef"/>
<circle cx="137.5" cy="207.7" r="0.54" fill="#b097ef"/>
<circle cx="161.4" cy="207.7" r="0.66" fill="#b097ef"/>
<circle cx="185.3" cy="207.7" r="1.10" fill="#b097ef"/>
<circle cx="209.2" cy="207.7" r="1.00" fill="#b097ef"/>
<circle cx="233.1" cy="207.7" r="0.70" fill="#b097ef"/>
<circle cx="257" cy="207.7" r="0.70" fill="#b097ef"/>
<circle cx="280.9" cy="207.7" r="1.00" fill="#1b0cf4"/>
<circle cx="304.8" cy="207.7" r="0.78" fill="#b097ef"/>
<circle cx="328.7" cy="207.7" r="1.21" fill="#b097ef"/>
<circle cx="113.6" cy="212.3" r="4.00" fill="#6a44f5"/>
<circle cx="137.5" cy="212.3" r="1.50" fill="#b097ef"/>
<circle cx="161.4" cy="212.3" r="0.52" fill="#b097ef"/>
<circle cx="185.3" cy="212.3" r="1.50" fill="#b097ef"/>
<circle cx="209.2" cy="212.3" r="2.20" fill="#b097ef"/>
<circle cx="233.1" cy="212.3" r="2.20" fill="#b097ef"/>
<circle cx="257" cy="212.3" r="2.80" fill="#6a44f5"/>
<circle cx="280.9" cy="212.3" r="3.20" fill="#b097ef"/>
<circle cx="304.8" cy="212.3" r="4.40" fill="#b097ef"/>
<circle cx="328.7" cy="212.3" r="2.00" fill="#b097ef"/>
<circle cx="113.6" cy="216.9" r="0.60" fill="#b097ef"/>
<circle cx="137.5" cy="216.9" r="0.99" fill="#9a78f1"/>
<circle cx="161.4" cy="216.9" r="0.95" fill="#b097ef"/>
<circle cx="185.3" cy="216.9" r="1.00" fill="#6a44f5"/>
<circle cx="209.2" cy="216.9" r="1.00" fill="#b097ef"/>
<circle cx="233.1" cy="216.9" r="1.10" fill="#b097ef"/>
<circle cx="257" cy="216.9" r="1.30" fill="#1b0cf4"/>
<circle cx="280.9" cy="216.9" r="0.63" fill="#b097ef"/>
<circle cx="304.8" cy="216.9" r="1.32" fill="#b097ef"/>
<circle cx="328.7" cy="216.9" r="1.30" fill="#9a78f1"/>
<circle cx="113.6" cy="221.5" r="0.65" fill="#b097ef"/>
<circle cx="137.5" cy="221.5" r="0.59" fill="#9a78f1"/>
<circle cx="161.4" cy="221.5" r="0.85" fill="#b097ef"/>
<circle cx="185.3" cy="221.5" r="1.10" fill="#b097ef"/>
<circle cx="209.2" cy="221.5" r="0.70" fill="#b097ef"/>
<circle cx="233.1" cy="221.5" r="0.50" fill="#b097ef"/>
<circle cx="257" cy="221.5" r="0.80" fill="#b097ef"/>
<circle cx="280.9" cy="221.5" r="1.26" fill="#b097ef"/>
<circle cx="304.8" cy="221.5" r="0.78" fill="#b097ef"/>
<circle cx="328.7" cy="221.5" r="0.72" fill="#b097ef"/>
<circle cx="113.6" cy="226" r="2.20" fill="#9a78f1"/>
<circle cx="137.5" cy="226" r="1.80" fill="#6a44f5"/>
<circle cx="161.4" cy="226" r="1.50" fill="#b097ef"/>
<circle cx="185.3" cy="226" r="1.30" fill="#b097ef"/>
<circle cx="209.2" cy="226" r="2.00" fill="#b097ef"/>
<circle cx="233.1" cy="226" r="1.80" fill="#b097ef"/>
<circle cx="257" cy="226" r="2.00" fill="#9a78f1"/>
<circle cx="280.9" cy="226" r="2.50" fill="#b097ef"/>
<circle cx="304.8" cy="226" r="4.00" fill="#b097ef"/>
<circle cx="328.7" cy="226" r="3.00" fill="#6a44f5"/>
<circle cx="113.6" cy="230.6" r="1.00" fill="#b097ef"/>
<circle cx="137.5" cy="230.6" r="0.63" fill="#9a78f1"/>
<circle cx="161.4" cy="230.6" r="0.47" fill="#b097ef"/>
<circle cx="185.3" cy="230.6" r="0.90" fill="#9a78f1"/>
<circle cx="209.2" cy="230.6" r="1.00" fill="#6a44f5"/>
<circle cx="233.1" cy="230.6" r="1.00" fill="#b097ef"/>
<circle cx="257" cy="230.6" r="0.90" fill="#1b0cf4"/>
<circle cx="280.9" cy="230.6" r="1.26" fill="#9a78f1"/>
<circle cx="304.8" cy="230.6" r="1.20" fill="#b097ef"/>
<circle cx="328.7" cy="230.6" r="0.61" fill="#b097ef"/>
<circle cx="113.6" cy="235.2" r="0.60" fill="#b097ef"/>
<circle cx="137.5" cy="235.2" r="0.50" fill="#6a44f5"/>
<circle cx="161.4" cy="235.2" r="0.95" fill="#b097ef"/>
<circle cx="185.3" cy="235.2" r="0.50" fill="#b097ef"/>
<circle cx="209.2" cy="235.2" r="0.60" fill="#b097ef"/>
<circle cx="233.1" cy="235.2" r="1.30" fill="#1b0cf4"/>
<circle cx="257" cy="235.2" r="0.50" fill="#9a78f1"/>
<circle cx="280.9" cy="235.2" r="0.80" fill="#6a44f5"/>
<circle cx="304.8" cy="235.2" r="0.84" fill="#b097ef"/>
<circle cx="328.7" cy="235.2" r="0.99" fill="#b097ef"/>
<circle cx="113.6" cy="239.8" r="0.55" fill="#b097ef"/>
<circle cx="137.5" cy="239.8" r="0.63" fill="#b097ef"/>
<circle cx="161.4" cy="239.8" r="0.62" fill="#b097ef"/>
<circle cx="185.3" cy="239.8" r="0.65" fill="#9a78f1"/>
<circle cx="209.2" cy="239.8" r="0.50" fill="#b097ef"/>
<circle cx="233.1" cy="239.8" r="0.70" fill="#6a44f5"/>
<circle cx="257" cy="239.8" r="0.70" fill="#1b0cf4"/>
<circle cx="280.9" cy="239.8" r="0.75" fill="#b097ef"/>
<circle cx="304.8" cy="239.8" r="0.78" fill="#b097ef"/>
<circle cx="328.7" cy="239.8" r="0.55" fill="#6a44f5"/>
<circle cx="113.6" cy="244.4" r="0.70" fill="#b097ef"/>
<circle cx="137.5" cy="244.4" r="0.59" fill="#b097ef"/>
<circle cx="161.4" cy="244.4" r="0.85" fill="#b097ef"/>
<circle cx="185.3" cy="244.4" r="0.65" fill="#9a78f1"/>
<circle cx="209.2" cy="244.4" r="0.80" fill="#b097ef"/>
<circle cx="233.1" cy="244.4" r="0.50" fill="#b097ef"/>
<circle cx="257" cy="244.4" r="1.20" fill="#1b0cf4"/>
<circle cx="280.9" cy="244.4" r="1.03" fill="#b097ef"/>
<circle cx="304.8" cy="244.4" r="1.08" fill="#b097ef"/>
<circle cx="328.7" cy="244.4" r="0.77" fill="#9a78f1"/>
<circle cx="113.6" cy="248.9" r="1.10" fill="#b097ef"/>
<circle cx="137.5" cy="248.9" r="0.90" fill="#6a44f5"/>
<circle cx="161.4" cy="248.9" r="0.66" fill="#9a78f1"/>
<circle cx="185.3" cy="248.9" r="0.65" fill="#b097ef"/>
<circle cx="209.2" cy="248.9" r="0.65" fill="#b097ef"/>
<circle cx="233.1" cy="248.9" r="0.70" fill="#b097ef"/>
<circle cx="257" cy="248.9" r="1.00" fill="#9a78f1"/>
<circle cx="280.9" cy="248.9" r="0.75" fill="#b097ef"/>
<circle cx="304.8" cy="248.9" r="0.60" fill="#6a44f5"/>
<circle cx="328.7" cy="248.9" r="0.66" fill="#9a78f1"/>
<circle cx="113.6" cy="253.5" r="0.50" fill="#b097ef"/>
<circle cx="137.5" cy="253.5" r="0.54" fill="#b097ef"/>
<circle cx="161.4" cy="253.5" r="0.47" fill="#b097ef"/>
<circle cx="185.3" cy="253.5" r="1.00" fill="#6a44f5"/>
<circle cx="209.2" cy="253.5" r="0.80" fill="#9a78f1"/>
<circle cx="233.1" cy="253.5" r="0.55" fill="#6a44f5"/>
<circle cx="257" cy="253.5" r="0.80" fill="#b097ef"/>
<circle cx="280.9" cy="253.5" r="1.26" fill="#9a78f1"/>
<circle cx="304.8" cy="253.5" r="0.60" fill="#b097ef"/>
<circle cx="328.7" cy="253.5" r="0.99" fill="#9a78f1"/>
<circle cx="113.6" cy="258.1" r="0.80" fill="#b097ef"/>
<circle cx="137.5" cy="258.1" r="0.50" fill="#b097ef"/>
<circle cx="161.4" cy="258.1" r="0.66" fill="#b097ef"/>
<circle cx="185.3" cy="258.1" r="0.90" fill="#1b0cf4"/>
<circle cx="209.2" cy="258.1" r="0.55" fill="#b097ef"/>
<circle cx="233.1" cy="258.1" r="0.65" fill="#b097ef"/>
<circle cx="257" cy="258.1" r="1.80" fill="#1b0cf4"/>
<circle cx="280.9" cy="258.1" r="0.80" fill="#9a78f1"/>
<circle cx="304.8" cy="258.1" r="1.08" fill="#b097ef"/>
<circle cx="328.7" cy="258.1" r="1.10" fill="#b097ef"/>
<circle cx="113.6" cy="262.7" r="1.10" fill="#9a78f1"/>
<circle cx="137.5" cy="262.7" r="0.59" fill="#b097ef"/>
<circle cx="161.4" cy="262.7" r="0.95" fill="#b097ef"/>
<circle cx="185.3" cy="262.7" r="0.90" fill="#b097ef"/>
<circle cx="209.2" cy="262.7" r="0.90" fill="#b097ef"/>
<circle cx="233.1" cy="262.7" r="0.50" fill="#b097ef"/>
<circle cx="257" cy="262.7" r="0.50" fill="#b097ef"/>
<circle cx="280.9" cy="262.7" r="0.63" fill="#9a78f1"/>
<circle cx="304.8" cy="262.7" r="0.96" fill="#b097ef"/>
<circle cx="328.7" cy="262.7" r="0.88" fill="#6a44f5"/>
<circle cx="113.6" cy="267.2" r="0.50" fill="#b097ef"/>
<circle cx="137.5" cy="267.2" r="0.72" fill="#9a78f1"/>
<circle cx="161.4" cy="267.2" r="0.66" fill="#b097ef"/>
<circle cx="185.3" cy="267.2" r="0.55" fill="#b097ef"/>
<circle cx="209.2" cy="267.2" r="0.65" fill="#b097ef"/>
<circle cx="233.1" cy="267.2" r="1.00" fill="#6a44f5"/>
<circle cx="257" cy="267.2" r="0.90" fill="#6a44f5"/>
<circle cx="280.9" cy="267.2" r="1.03" fill="#9a78f1"/>
<circle cx="304.8" cy="267.2" r="0.72" fill="#9a78f1"/>
<circle cx="328.7" cy="267.2" r="0.66" fill="#b097ef"/>
<circle cx="113.6" cy="271.8" r="3.60" fill="#cdc4e6"/>
<circle cx="137.5" cy="271.8" r="2.50" fill="#b097ef"/>
<circle cx="161.4" cy="271.8" r="2.50" fill="#b097ef"/>
<circle cx="185.3" cy="271.8" r="3.30" fill="#b097ef"/>
<circle cx="209.2" cy="271.8" r="4.40" fill="#6a44f5"/>
<circle cx="233.1" cy="271.8" r="3.50" fill="#b097ef"/>
<circle cx="257" cy="271.8" r="3.30" fill="#9a78f1"/>
<circle cx="280.9" cy="271.8" r="6.00" fill="#8460f3"/>
<circle cx="304.8" cy="271.8" r="6.50" fill="#8460f3"/>
<circle cx="328.7" cy="271.8" r="5.00" fill="#b097ef"/>
<circle cx="113.6" cy="276.4" r="0.70" fill="#9a78f1"/>
<circle cx="137.5" cy="276.4" r="0.54" fill="#b097ef"/>
<circle cx="161.4" cy="276.4" r="0.76" fill="#6a44f5"/>
<circle cx="185.3" cy="276.4" r="1.00" fill="#b097ef"/>
<circle cx="209.2" cy="276.4" r="0.55" fill="#b097ef"/>
<circle cx="233.1" cy="276.4" r="0.90" fill="#9a78f1"/>
<circle cx="257" cy="276.4" r="0.65" fill="#b097ef"/>
<circle cx="280.9" cy="276.4" r="0.57" fill="#b097ef"/>
<circle cx="304.8" cy="276.4" r="1.32" fill="#b097ef"/>
<circle cx="328.7" cy="276.4" r="0.99" fill="#9a78f1"/>
<circle cx="113.6" cy="281" r="0.55" fill="#b097ef"/>
<circle cx="137.5" cy="281" r="0.50" fill="#b097ef"/>
<circle cx="161.4" cy="281" r="0.85" fill="#b097ef"/>
<circle cx="185.3" cy="281" r="1.00" fill="#b097ef"/>
<circle cx="209.2" cy="281" r="0.60" fill="#b097ef"/>
<circle cx="233.1" cy="281" r="0.65" fill="#9a78f1"/>
<circle cx="257" cy="281" r="0.55" fill="#6a44f5"/>
<circle cx="280.9" cy="281" r="0.80" fill="#b097ef"/>
<circle cx="304.8" cy="281" r="0.84" fill="#b097ef"/>
<circle cx="328.7" cy="281" r="0.77" fill="#b097ef"/>
<circle cx="113.6" cy="285.6" r="0.65" fill="#b097ef"/>
<circle cx="137.5" cy="285.6" r="0.59" fill="#b097ef"/>
<circle cx="161.4" cy="285.6" r="0.62" fill="#b097ef"/>
<circle cx="185.3" cy="285.6" r="0.90" fill="#b097ef"/>
<circle cx="209.2" cy="285.6" r="1.50" fill="#6a44f5"/>
<circle cx="233.1" cy="285.6" r="0.65" fill="#b097ef"/>
<circle cx="257" cy="285.6" r="1.80" fill="#1b0cf4"/>
<circle cx="280.9" cy="285.6" r="0.75" fill="#b097ef"/>
<circle cx="304.8" cy="285.6" r="1.50" fill="#b097ef"/>
<circle cx="328.7" cy="285.6" r="0.61" fill="#b097ef"/>
<circle cx="113.6" cy="290.1" r="1.30" fill="#b097ef"/>
<circle cx="137.5" cy="290.1" r="0.45" fill="#b097ef"/>
<circle cx="161.4" cy="290.1" r="0.95" fill="#6a44f5"/>
<circle cx="185.3" cy="290.1" r="0.65" fill="#9a78f1"/>
<circle cx="209.2" cy="290.1" r="2.30" fill="#6a44f5"/>
<circle cx="233.1" cy="290.1" r="0.80" fill="#b097ef"/>
<circle cx="257" cy="290.1" r="2.80" fill="#1b0cf4"/>
<circle cx="280.9" cy="290.1" r="2.30" fill="#b097ef"/>
<circle cx="304.8" cy="290.1" r="3.30" fill="#9a78f1"/>
<circle cx="328.7" cy="290.1" r="1.80" fill="#b097ef"/>
<circle cx="113.6" cy="294.7" r="0.70" fill="#b097ef"/>
<circle cx="137.5" cy="294.7" r="0.45" fill="#b097ef"/>
<circle cx="161.4" cy="294.7" r="1.30" fill="#6a44f5"/>
<circle cx="185.3" cy="294.7" r="1.50" fill="#b097ef"/>
<circle cx="209.2" cy="294.7" r="1.80" fill="#9a78f1"/>
<circle cx="233.1" cy="294.7" r="1.50" fill="#b097ef"/>
<circle cx="257" cy="294.7" r="1.50" fill="#1b0cf4"/>
<circle cx="280.9" cy="294.7" r="3.50" fill="#6a44f5"/>
<circle cx="304.8" cy="294.7" r="2.50" fill="#cdc4e6"/>
<circle cx="328.7" cy="294.7" r="2.00" fill="#b097ef"/>
<circle cx="113.6" cy="299.3" r="1.30" fill="#b097ef"/>
<circle cx="137.5" cy="299.3" r="0.59" fill="#6a44f5"/>
<circle cx="161.4" cy="299.3" r="0.76" fill="#b097ef"/>
<circle cx="185.3" cy="299.3" r="1.40" fill="#b097ef"/>
<circle cx="209.2" cy="299.3" r="1.80" fill="#6a44f5"/>
<circle cx="233.1" cy="299.3" r="0.60" fill="#b097ef"/>
<circle cx="257" cy="299.3" r="1.50" fill="#6a44f5"/>
<circle cx="280.9" cy="299.3" r="0.80" fill="#9a78f1"/>
<circle cx="304.8" cy="299.3" r="0.60" fill="#b097ef"/>
<circle cx="328.7" cy="299.3" r="0.88" fill="#b097ef"/>
<circle cx="113.6" cy="303.9" r="2.40" fill="#9a78f1"/>
<circle cx="137.5" cy="303.9" r="1.50" fill="#b097ef"/>
<circle cx="161.4" cy="303.9" r="0.76" fill="#b097ef"/>
<circle cx="185.3" cy="303.9" r="1.80" fill="#b097ef"/>
<circle cx="209.2" cy="303.9" r="2.20" fill="#9a78f1"/>
<circle cx="233.1" cy="303.9" r="1.50" fill="#b097ef"/>
<circle cx="257" cy="303.9" r="2.20" fill="#1b0cf4"/>
<circle cx="280.9" cy="303.9" r="2.40" fill="#cdc4e6"/>
<circle cx="304.8" cy="303.9" r="3.50" fill="#b097ef"/>
<circle cx="328.7" cy="303.9" r="3.00" fill="#9a78f1"/>
<circle cx="113.6" cy="308.4" r="2.00" fill="#b097ef"/>
<circle cx="137.5" cy="308.4" r="1.50" fill="#b097ef"/>
<circle cx="161.4" cy="308.4" r="0.47" fill="#b097ef"/>
<circle cx="185.3" cy="308.4" r="1.50" fill="#b097ef"/>
<circle cx="209.2" cy="308.4" r="1.50" fill="#b097ef"/>
<circle cx="233.1" cy="308.4" r="0.70" fill="#b097ef"/>
<circle cx="257" cy="308.4" r="1.80" fill="#6a44f5"/>
<circle cx="280.9" cy="308.4" r="0.75" fill="#9a78f1"/>
<circle cx="304.8" cy="308.4" r="1.50" fill="#b097ef"/>
<circle cx="328.7" cy="308.4" r="1.50" fill="#b097ef"/>
<circle cx="113.6" cy="313" r="0.80" fill="#b097ef"/>
<circle cx="137.5" cy="313" r="0.72" fill="#b097ef"/>
<circle cx="161.4" cy="313" r="0.66" fill="#b097ef"/>
<circle cx="185.3" cy="313" r="0.50" fill="#9a78f1"/>
<circle cx="209.2" cy="313" r="1.10" fill="#b097ef"/>
<circle cx="233.1" cy="313" r="0.90" fill="#b097ef"/>
<circle cx="257" cy="313" r="0.90" fill="#9a78f1"/>
<circle cx="280.9" cy="313" r="0.69" fill="#b097ef"/>
<circle cx="304.8" cy="313" r="0.66" fill="#b097ef"/>
<circle cx="328.7" cy="313" r="0.99" fill="#b097ef"/>
<circle cx="113.6" cy="317.6" r="0.90" fill="#6a44f5"/>
<circle cx="137.5" cy="317.6" r="0.63" fill="#b097ef"/>
<circle cx="161.4" cy="317.6" r="0.47" fill="#b097ef"/>
<circle cx="185.3" cy="317.6" r="1.30" fill="#6a44f5"/>
<circle cx="209.2" cy="317.6" r="0.80" fill="#b097ef"/>
<circle cx="233.1" cy="317.6" r="0.50" fill="#9a78f1"/>
<circle cx="257" cy="317.6" r="1.30" fill="#9a78f1"/>
<circle cx="280.9" cy="317.6" r="0.92" fill="#b097ef"/>
<circle cx="304.8" cy="317.6" r="1.08" fill="#9a78f1"/>
<circle cx="328.7" cy="317.6" r="0.72" fill="#6a44f5"/>
<circle cx="113.6" cy="322.2" r="4.00" fill="#b097ef"/>
<circle cx="137.5" cy="322.2" r="3.00" fill="#9a78f1"/>
<circle cx="161.4" cy="322.2" r="2.50" fill="#b097ef"/>
<circle cx="185.3" cy="322.2" r="2.50" fill="#cdc4e6"/>
<circle cx="209.2" cy="322.2" r="4.00" fill="#b097ef"/>
<circle cx="233.1" cy="322.2" r="3.30" fill="#b097ef"/>
<circle cx="257" cy="322.2" r="2.20" fill="#9a78f1"/>
<circle cx="280.9" cy="322.2" r="5.00" fill="#b097ef"/>
<circle cx="304.8" cy="322.2" r="6.00" fill="#b097ef"/>
<circle cx="328.7" cy="322.2" r="5.50" fill="#1b0cf4"/>
<circle cx="113.6" cy="326.8" r="0.90" fill="#9a78f1"/>
<circle cx="137.5" cy="326.8" r="0.81" fill="#b097ef"/>
<circle cx="161.4" cy="326.8" r="0.52" fill="#b097ef"/>
<circle cx="185.3" cy="326.8" r="0.80" fill="#b097ef"/>
<circle cx="209.2" cy="326.8" r="0.60" fill="#b097ef"/>
<circle cx="233.1" cy="326.8" r="0.50" fill="#b097ef"/>
<circle cx="257" cy="326.8" r="0.90" fill="#b097ef"/>
<circle cx="280.9" cy="326.8" r="0.92" fill="#9a78f1"/>
<circle cx="304.8" cy="326.8" r="0.72" fill="#b097ef"/>
<circle cx="328.7" cy="326.8" r="0.77" fill="#b097ef"/>
<circle cx="113.6" cy="331.3" r="0.60" fill="#9a78f1"/>
<circle cx="137.5" cy="331.3" r="0.50" fill="#b097ef"/>
<circle cx="161.4" cy="331.3" r="0.62" fill="#b097ef"/>
<circle cx="185.3" cy="331.3" r="0.50" fill="#1b0cf4"/>
<circle cx="209.2" cy="331.3" r="1.00" fill="#b097ef"/>
<circle cx="233.1" cy="331.3" r="0.90" fill="#b097ef"/>
<circle cx="257" cy="331.3" r="1.50" fill="#1b0cf4"/>
<circle cx="280.9" cy="331.3" r="0.69" fill="#b097ef"/>
<circle cx="304.8" cy="331.3" r="0.78" fill="#b097ef"/>
<circle cx="328.7" cy="331.3" r="0.72" fill="#9a78f1"/>
<circle cx="113.6" cy="335.9" r="0.60" fill="#b097ef"/>
<circle cx="137.5" cy="335.9" r="0.45" fill="#b097ef"/>
<circle cx="161.4" cy="335.9" r="1.04" fill="#b097ef"/>
<circle cx="185.3" cy="335.9" r="0.80" fill="#b097ef"/>
<circle cx="209.2" cy="335.9" r="1.50" fill="#b097ef"/>
<circle cx="233.1" cy="335.9" r="0.65" fill="#6a44f5"/>
<circle cx="257" cy="335.9" r="1.50" fill="#1b0cf4"/>
<circle cx="280.9" cy="335.9" r="1.50" fill="#b097ef"/>
<circle cx="304.8" cy="335.9" r="2.20" fill="#b097ef"/>
<circle cx="328.7" cy="335.9" r="1.50" fill="#b097ef"/>
<circle cx="113.6" cy="340.5" r="1.30" fill="#b097ef"/>
<circle cx="137.5" cy="340.5" r="0.59" fill="#b097ef"/>
<circle cx="161.4" cy="340.5" r="1.04" fill="#9a78f1"/>
<circle cx="185.3" cy="340.5" r="0.50" fill="#9a78f1"/>
<circle cx="209.2" cy="340.5" r="2.50" fill="#1b0cf4"/>
<circle cx="233.1" cy="340.5" r="0.80" fill="#b097ef"/>
<circle cx="257" cy="340.5" r="1.00" fill="#9a78f1"/>
<circle cx="280.9" cy="340.5" r="2.50" fill="#9a78f1"/>
<circle cx="304.8" cy="340.5" r="2.00" fill="#b097ef"/>
<circle cx="328.7" cy="340.5" r="1.50" fill="#b097ef"/>
<circle cx="113.6" cy="345.1" r="0.70" fill="#b097ef"/>
<circle cx="137.5" cy="345.1" r="0.63" fill="#b097ef"/>
<circle cx="161.4" cy="345.1" r="0.85" fill="#b097ef"/>
<circle cx="185.3" cy="345.1" r="0.80" fill="#b097ef"/>
<circle cx="209.2" cy="345.1" r="1.00" fill="#b097ef"/>
<circle cx="233.1" cy="345.1" r="0.50" fill="#b097ef"/>
<circle cx="257" cy="345.1" r="1.00" fill="#b097ef"/>
<circle cx="280.9" cy="345.1" r="1.15" fill="#9a78f1"/>
<circle cx="304.8" cy="345.1" r="1.20" fill="#9a78f1"/>
<circle cx="328.7" cy="345.1" r="1.10" fill="#b097ef"/>
<circle cx="113.6" cy="349.7" r="1.50" fill="#b097ef"/>
<circle cx="137.5" cy="349.7" r="0.50" fill="#b097ef"/>
<circle cx="161.4" cy="349.7" r="0.85" fill="#b097ef"/>
<circle cx="185.3" cy="349.7" r="1.00" fill="#b097ef"/>
<circle cx="209.2" cy="349.7" r="1.50" fill="#b097ef"/>
<circle cx="233.1" cy="349.7" r="1.50" fill="#b097ef"/>
<circle cx="257" cy="349.7" r="1.80" fill="#6a44f5"/>
<circle cx="280.9" cy="349.7" r="2.00" fill="#b097ef"/>
<circle cx="304.8" cy="349.7" r="3.80" fill="#9a78f1"/>
<circle cx="328.7" cy="349.7" r="2.50" fill="#9a78f1"/>
<circle cx="113.6" cy="354.2" r="0.50" fill="#b097ef"/>
<circle cx="137.5" cy="354.2" r="0.54" fill="#b097ef"/>
<circle cx="161.4" cy="354.2" r="0.76" fill="#9a78f1"/>
<circle cx="185.3" cy="354.2" r="1.10" fill="#b097ef"/>
<circle cx="209.2" cy="354.2" r="1.10" fill="#9a78f1"/>
<circle cx="233.1" cy="354.2" r="0.60" fill="#b097ef"/>
<circle cx="257" cy="354.2" r="0.55" fill="#1b0cf4"/>
<circle cx="280.9" cy="354.2" r="0.63" fill="#b097ef"/>
<circle cx="304.8" cy="354.2" r="1.20" fill="#1b0cf4"/>
<circle cx="328.7" cy="354.2" r="1.10" fill="#b097ef"/>
<circle cx="113.6" cy="358.8" r="0.60" fill="#b097ef"/>
<circle cx="137.5" cy="358.8" r="0.59" fill="#b097ef"/>
<circle cx="161.4" cy="358.8" r="0.76" fill="#9a78f1"/>
<circle cx="185.3" cy="358.8" r="0.70" fill="#b097ef"/>
<circle cx="209.2" cy="358.8" r="0.70" fill="#9a78f1"/>
<circle cx="233.1" cy="358.8" r="1.00" fill="#b097ef"/>
<circle cx="257" cy="358.8" r="1.10" fill="#1b0cf4"/>
<circle cx="280.9" cy="358.8" r="1.15" fill="#b097ef"/>
<circle cx="304.8" cy="358.8" r="0.84" fill="#b097ef"/>
<circle cx="328.7" cy="358.8" r="0.72" fill="#b097ef"/>
<circle cx="113.6" cy="363.4" r="1.30" fill="#b097ef"/>
<circle cx="137.5" cy="363.4" r="0.45" fill="#b097ef"/>
<circle cx="161.4" cy="363.4" r="0.85" fill="#b097ef"/>
<circle cx="185.3" cy="363.4" r="2.20" fill="#6a44f5"/>
<circle cx="209.2" cy="363.4" r="2.40" fill="#6a44f5"/>
<circle cx="233.1" cy="363.4" r="0.70" fill="#b097ef"/>
<circle cx="257" cy="363.4" r="0.90" fill="#b097ef"/>
<circle cx="280.9" cy="363.4" r="2.00" fill="#b097ef"/>
<circle cx="304.8" cy="363.4" r="2.40" fill="#b097ef"/>
<circle cx="328.7" cy="363.4" r="2.40" fill="#9a78f1"/>
<circle cx="113.6" cy="368" r="0.70" fill="#b097ef"/>
<circle cx="137.5" cy="368" r="0.99" fill="#b097ef"/>
<circle cx="161.4" cy="368" r="0.76" fill="#1b0cf4"/>
<circle cx="185.3" cy="368" r="1.50" fill="#9a78f1"/>
<circle cx="209.2" cy="368" r="1.00" fill="#b097ef"/>
<circle cx="233.1" cy="368" r="0.55" fill="#b097ef"/>
<circle cx="257" cy="368" r="1.10" fill="#9a78f1"/>
<circle cx="280.9" cy="368" r="1.03" fill="#9a78f1"/>
<circle cx="304.8" cy="368" r="0.96" fill="#b097ef"/>
<circle cx="328.7" cy="368" r="0.88" fill="#b097ef"/>
<circle cx="113.6" cy="372.5" r="0.80" fill="#b097ef"/>
<circle cx="137.5" cy="372.5" r="0.50" fill="#b097ef"/>
<circle cx="161.4" cy="372.5" r="0.57" fill="#9a78f1"/>
<circle cx="185.3" cy="372.5" r="1.60" fill="#9a78f1"/>
<circle cx="209.2" cy="372.5" r="1.50" fill="#b097ef"/>
<circle cx="233.1" cy="372.5" r="0.50" fill="#b097ef"/>
<circle cx="257" cy="372.5" r="1.50" fill="#b097ef"/>
<circle cx="280.9" cy="372.5" r="1.26" fill="#b097ef"/>
<circle cx="304.8" cy="372.5" r="2.20" fill="#b097ef"/>
<circle cx="328.7" cy="372.5" r="3.00" fill="#6a44f5"/>
<circle cx="113.6" cy="377.1" r="0.80" fill="#9a78f1"/>
<circle cx="137.5" cy="377.1" r="0.45" fill="#b097ef"/>
<circle cx="161.4" cy="377.1" r="0.66" fill="#9a78f1"/>
<circle cx="185.3" cy="377.1" r="1.50" fill="#b097ef"/>
<circle cx="209.2" cy="377.1" r="0.90" fill="#b097ef"/>
<circle cx="233.1" cy="377.1" r="0.80" fill="#9a78f1"/>
<circle cx="257" cy="377.1" r="0.60" fill="#b097ef"/>
<circle cx="280.9" cy="377.1" r="0.57" fill="#b097ef"/>
<circle cx="304.8" cy="377.1" r="0.60" fill="#b097ef"/>
<circle cx="328.7" cy="377.1" r="0.77" fill="#b097ef"/>
<circle cx="113.6" cy="381.7" r="2.50" fill="#9a78f1"/>
<circle cx="137.5" cy="381.7" r="1.50" fill="#b097ef"/>
<circle cx="161.4" cy="381.7" r="0.76" fill="#b097ef"/>
<circle cx="185.3" cy="381.7" r="1.50" fill="#b097ef"/>
<circle cx="209.2" cy="381.7" r="2.00" fill="#b097ef"/>
<circle cx="233.1" cy="381.7" r="1.50" fill="#b097ef"/>
<circle cx="257" cy="381.7" r="1.80" fill="#9a78f1"/>
<circle cx="280.9" cy="381.7" r="3.00" fill="#cdc4e6"/>
<circle cx="304.8" cy="381.7" r="3.00" fill="#cdc4e6"/>
<circle cx="328.7" cy="381.7" r="3.30" fill="#9a78f1"/>
<circle cx="113.6" cy="386.3" r="0.90" fill="#b097ef"/>
<circle cx="137.5" cy="386.3" r="0.54" fill="#b097ef"/>
<circle cx="161.4" cy="386.3" r="0.95" fill="#b097ef"/>
<circle cx="185.3" cy="386.3" r="0.50" fill="#6a44f5"/>
<circle cx="209.2" cy="386.3" r="0.65" fill="#9a78f1"/>
<circle cx="233.1" cy="386.3" r="1.00" fill="#b097ef"/>
<circle cx="257" cy="386.3" r="0.60" fill="#6a44f5"/>
<circle cx="280.9" cy="386.3" r="0.80" fill="#b097ef"/>
<circle cx="304.8" cy="386.3" r="0.84" fill="#6a44f5"/>
<circle cx="328.7" cy="386.3" r="1.50" fill="#9a78f1"/>
<circle cx="113.6" cy="390.9" r="0.50" fill="#b097ef"/>
<circle cx="137.5" cy="390.9" r="0.99" fill="#9a78f1"/>
<circle cx="161.4" cy="390.9" r="0.95" fill="#9a78f1"/>
<circle cx="185.3" cy="390.9" r="1.10" fill="#9a78f1"/>
<circle cx="209.2" cy="390.9" r="0.65" fill="#b097ef"/>
<circle cx="233.1" cy="390.9" r="0.50" fill="#b097ef"/>
<circle cx="257" cy="390.9" r="1.10" fill="#b097ef"/>
<circle cx="280.9" cy="390.9" r="0.69" fill="#b097ef"/>
<circle cx="304.8" cy="390.9" r="0.60" fill="#9a78f1"/>
<circle cx="328.7" cy="390.9" r="0.61" fill="#b097ef"/>
<circle cx="113.6" cy="395.4" r="1.10" fill="#b097ef"/>
<circle cx="137.5" cy="395.4" r="0.59" fill="#b097ef"/>
<circle cx="161.4" cy="395.4" r="0.62" fill="#b097ef"/>
<circle cx="185.3" cy="395.4" r="1.10" fill="#9a78f1"/>
<circle cx="209.2" cy="395.4" r="0.90" fill="#9a78f1"/>
<circle cx="233.1" cy="395.4" r="0.60" fill="#b097ef"/>
<circle cx="257" cy="395.4" r="0.55" fill="#b097ef"/>
<circle cx="280.9" cy="395.4" r="0.57" fill="#6a44f5"/>
<circle cx="304.8" cy="395.4" r="1.20" fill="#9a78f1"/>
<circle cx="328.7" cy="395.4" r="0.55" fill="#b097ef"/>
<circle cx="113.6" cy="400" r="0.90" fill="#9a78f1"/>
<circle cx="137.5" cy="400" r="0.90" fill="#b097ef"/>
<circle cx="161.4" cy="400" r="0.95" fill="#b097ef"/>
<circle cx="185.3" cy="400" r="0.55" fill="#b097ef"/>
<circle cx="209.2" cy="400" r="0.50" fill="#b097ef"/>
<circle cx="233.1" cy="400" r="0.70" fill="#9a78f1"/>
<circle cx="257" cy="400" r="0.70" fill="#9a78f1"/>
<circle cx="280.9" cy="400" r="1.03" fill="#b097ef"/>
<circle cx="304.8" cy="400" r="1.32" fill="#6a44f5"/>
<circle cx="328.7" cy="400" r="0.77" fill="#b097ef"/>
<circle cx="113.6" cy="404.6" r="0.65" fill="#b097ef"/>
<circle cx="137.5" cy="404.6" r="0.99" fill="#b097ef"/>
<circle cx="161.4" cy="404.6" r="0.66" fill="#6a44f5"/>
<circle cx="185.3" cy="404.6" r="0.65" fill="#6a44f5"/>
<circle cx="209.2" cy="404.6" r="0.80" fill="#b097ef"/>
<circle cx="233.1" cy="404.6" r="0.90" fill="#b097ef"/>
<circle cx="257" cy="404.6" r="0.65" fill="#b097ef"/>
<circle cx="280.9" cy="404.6" r="1.26" fill="#b097ef"/>
<circle cx="304.8" cy="404.6" r="1.32" fill="#b097ef"/>
<circle cx="328.7" cy="404.6" r="0.55" fill="#b097ef"/>
<circle cx="113.6" cy="409.2" r="0.65" fill="#b097ef"/>
<circle cx="137.5" cy="409.2" r="0.63" fill="#9a78f1"/>
<circle cx="161.4" cy="409.2" r="0.85" fill="#9a78f1"/>
<circle cx="185.3" cy="409.2" r="0.55" fill="#b097ef"/>
<circle cx="209.2" cy="409.2" r="0.60" fill="#b097ef"/>
<circle cx="233.1" cy="409.2" r="0.50" fill="#b097ef"/>
<circle cx="257" cy="409.2" r="0.60" fill="#b097ef"/>
<circle cx="280.9" cy="409.2" r="0.69" fill="#9a78f1"/>
<circle cx="304.8" cy="409.2" r="0.60" fill="#b097ef"/>
<circle cx="328.7" cy="409.2" r="0.55" fill="#b097ef"/>
<circle cx="113.6" cy="413.7" r="0.50" fill="#b097ef"/>
<circle cx="137.5" cy="413.7" r="0.72" fill="#b097ef"/>
<circle cx="161.4" cy="413.7" r="1.04" fill="#6a44f5"/>
<circle cx="185.3" cy="413.7" r="0.55" fill="#6a44f5"/>
<circle cx="209.2" cy="413.7" r="0.90" fill="#b097ef"/>
<circle cx="233.1" cy="413.7" r="0.65" fill="#b097ef"/>
<circle cx="257" cy="413.7" r="0.50" fill="#b097ef"/>
<circle cx="280.9" cy="413.7" r="0.63" fill="#9a78f1"/>
<circle cx="304.8" cy="413.7" r="0.84" fill="#b097ef"/>
<circle cx="328.7" cy="413.7" r="0.66" fill="#b097ef"/>
<circle cx="113.6" cy="418.3" r="0.65" fill="#b097ef"/>
<circle cx="137.5" cy="418.3" r="0.72" fill="#b097ef"/>
<circle cx="161.4" cy="418.3" r="0.47" fill="#b097ef"/>
<circle cx="185.3" cy="418.3" r="0.70" fill="#b097ef"/>
<circle cx="209.2" cy="418.3" r="0.80" fill="#9a78f1"/>
<circle cx="233.1" cy="418.3" r="1.10" fill="#b097ef"/>
<circle cx="257" cy="418.3" r="0.70" fill="#9a78f1"/>
<circle cx="280.9" cy="418.3" r="0.57" fill="#9a78f1"/>
<circle cx="304.8" cy="418.3" r="0.60" fill="#b097ef"/>
<circle cx="328.7" cy="418.3" r="0.61" fill="#b097ef"/>
<circle cx="113.6" cy="422.9" r="0.50" fill="#b097ef"/>
<circle cx="137.5" cy="422.9" r="0.59" fill="#9a78f1"/>
<circle cx="161.4" cy="422.9" r="0.52" fill="#b097ef"/>
<circle cx="185.3" cy="422.9" r="0.70" fill="#b097ef"/>
<circle cx="209.2" cy="422.9" r="0.50" fill="#b097ef"/>
<circle cx="233.1" cy="422.9" r="0.70" fill="#9a78f1"/>
<circle cx="257" cy="422.9" r="0.50" fill="#b097ef"/>
<circle cx="280.9" cy="422.9" r="1.20" fill="#1b0cf4"/>
<circle cx="304.8" cy="422.9" r="1.20" fill="#b097ef"/>
<circle cx="328.7" cy="422.9" r="0.66" fill="#6a44f5"/>
<circle cx="113.6" cy="427.5" r="2.20" fill="#1b0cf4"/>
<circle cx="137.5" cy="427.5" r="1.40" fill="#b097ef"/>
<circle cx="161.4" cy="427.5" r="0.76" fill="#1b0cf4"/>
<circle cx="185.3" cy="427.5" r="1.10" fill="#b097ef"/>
<circle cx="209.2" cy="427.5" r="1.60" fill="#b097ef"/>
<circle cx="233.1" cy="427.5" r="1.60" fill="#9a78f1"/>
<circle cx="257" cy="427.5" r="0.60" fill="#b097ef"/>
<circle cx="280.9" cy="427.5" r="2.00" fill="#9a78f1"/>
<circle cx="304.8" cy="427.5" r="2.80" fill="#b097ef"/>
<circle cx="328.7" cy="427.5" r="1.60" fill="#b097ef"/>
<circle cx="113.6" cy="432.1" r="0.65" fill="#6a44f5"/>
<circle cx="137.5" cy="432.1" r="0.59" fill="#b097ef"/>
<circle cx="161.4" cy="432.1" r="0.52" fill="#6a44f5"/>
<circle cx="185.3" cy="432.1" r="0.55" fill="#b097ef"/>
<circle cx="209.2" cy="432.1" r="1.10" fill="#9a78f1"/>
<circle cx="233.1" cy="432.1" r="0.80" fill="#b097ef"/>
<circle cx="257" cy="432.1" r="0.90" fill="#1b0cf4"/>
<circle cx="280.9" cy="432.1" r="0.63" fill="#b097ef"/>
<circle cx="304.8" cy="432.1" r="0.60" fill="#b097ef"/>
<circle cx="328.7" cy="432.1" r="0.77" fill="#b097ef"/>
<circle cx="113.6" cy="436.6" r="1.10" fill="#b097ef"/>
<circle cx="137.5" cy="436.6" r="0.81" fill="#6a44f5"/>
<circle cx="161.4" cy="436.6" r="0.62" fill="#6a44f5"/>
<circle cx="185.3" cy="436.6" r="0.60" fill="#b097ef"/>
<circle cx="209.2" cy="436.6" r="0.50" fill="#b097ef"/>
<circle cx="233.1" cy="436.6" r="0.80" fill="#b097ef"/>
<circle cx="257" cy="436.6" r="1.00" fill="#9a78f1"/>
<circle cx="280.9" cy="436.6" r="0.92" fill="#b097ef"/>
<circle cx="304.8" cy="436.6" r="1.20" fill="#b097ef"/>
<circle cx="328.7" cy="436.6" r="0.77" fill="#b097ef"/>
<circle cx="113.6" cy="441.2" r="0.60" fill="#b097ef"/>
<circle cx="137.5" cy="441.2" r="0.59" fill="#b097ef"/>
<circle cx="161.4" cy="441.2" r="0.66" fill="#b097ef"/>
<circle cx="185.3" cy="441.2" r="0.60" fill="#9a78f1"/>
<circle cx="209.2" cy="441.2" r="0.65" fill="#9a78f1"/>
<circle cx="233.1" cy="441.2" r="1.10" fill="#b097ef"/>
<circle cx="257" cy="441.2" r="0.65" fill="#b097ef"/>
<circle cx="280.9" cy="441.2" r="0.75" fill="#b097ef"/>
<circle cx="304.8" cy="441.2" r="0.66" fill="#b097ef"/>
<circle cx="328.7" cy="441.2" r="0.61" fill="#b097ef"/>
<circle cx="113.6" cy="445.8" r="0.60" fill="#6a44f5"/>
<circle cx="137.5" cy="445.8" r="0.63" fill="#9a78f1"/>
<circle cx="161.4" cy="445.8" r="1.80" fill="#1b0cf4"/>
<circle cx="185.3" cy="445.8" r="0.90" fill="#b097ef"/>
<circle cx="209.2" cy="445.8" r="0.55" fill="#b097ef"/>
<circle cx="233.1" cy="445.8" r="0.55" fill="#b097ef"/>
<circle cx="257" cy="445.8" r="0.90" fill="#b097ef"/>
<circle cx="280.9" cy="445.8" r="0.57" fill="#b097ef"/>
<circle cx="304.8" cy="445.8" r="1.08" fill="#b097ef"/>
<circle cx="328.7" cy="445.8" r="1.21" fill="#6a44f5"/>
<circle cx="113.6" cy="450.4" r="4.20" fill="#9a78f1"/>
<circle cx="137.5" cy="450.4" r="2.80" fill="#9a78f1"/>
<circle cx="161.4" cy="450.4" r="3.60" fill="#6a44f5"/>
<circle cx="185.3" cy="450.4" r="3.80" fill="#6a44f5"/>
<circle cx="209.2" cy="450.4" r="3.30" fill="#b097ef"/>
<circle cx="233.1" cy="450.4" r="3.50" fill="#9a78f1"/>
<circle cx="257" cy="450.4" r="3.30" fill="#6a44f5"/>
<circle cx="280.9" cy="450.4" r="3.50" fill="#cdc4e6"/>
<circle cx="304.8" cy="450.4" r="4.20" fill="#cdc4e6"/>
<circle cx="328.7" cy="450.4" r="3.30" fill="#b097ef"/>
<circle cx="113.6" cy="454.9" r="0.70" fill="#b097ef"/>
<circle cx="137.5" cy="454.9" r="0.54" fill="#b097ef"/>
<circle cx="161.4" cy="454.9" r="0.85" fill="#b097ef"/>
<circle cx="185.3" cy="454.9" r="0.65" fill="#6a44f5"/>
<circle cx="209.2" cy="454.9" r="0.90" fill="#9a78f1"/>
<circle cx="233.1" cy="454.9" r="0.90" fill="#9a78f1"/>
<circle cx="257" cy="454.9" r="0.65" fill="#9a78f1"/>
<circle cx="280.9" cy="454.9" r="0.63" fill="#b097ef"/>
<circle cx="304.8" cy="454.9" r="0.96" fill="#b097ef"/>
<circle cx="328.7" cy="454.9" r="0.61" fill="#9a78f1"/>
<circle cx="113.6" cy="459.5" r="0.65" fill="#9a78f1"/>
<circle cx="137.5" cy="459.5" r="0.54" fill="#b097ef"/>
<circle cx="161.4" cy="459.5" r="0.85" fill="#b097ef"/>
<circle cx="185.3" cy="459.5" r="0.50" fill="#9a78f1"/>
<circle cx="209.2" cy="459.5" r="0.90" fill="#b097ef"/>
<circle cx="233.1" cy="459.5" r="0.60" fill="#9a78f1"/>
<circle cx="257" cy="459.5" r="0.80" fill="#6a44f5"/>
<circle cx="280.9" cy="459.5" r="1.03" fill="#9a78f1"/>
<circle cx="304.8" cy="459.5" r="0.66" fill="#b097ef"/>
<circle cx="328.7" cy="459.5" r="1.21" fill="#b097ef"/>
<circle cx="113.6" cy="464.1" r="1.50" fill="#b097ef"/>
<circle cx="137.5" cy="464.1" r="0.59" fill="#b097ef"/>
<circle cx="161.4" cy="464.1" r="0.52" fill="#9a78f1"/>
<circle cx="185.3" cy="464.1" r="1.00" fill="#b097ef"/>
<circle cx="209.2" cy="464.1" r="1.00" fill="#b097ef"/>
<circle cx="233.1" cy="464.1" r="0.80" fill="#b097ef"/>
<circle cx="257" cy="464.1" r="0.90" fill="#9a78f1"/>
<circle cx="280.9" cy="464.1" r="1.15" fill="#b097ef"/>
<circle cx="304.8" cy="464.1" r="0.72" fill="#b097ef"/>
<circle cx="328.7" cy="464.1" r="0.61" fill="#9a78f1"/>
<circle cx="113.6" cy="468.7" r="1.60" fill="#b097ef"/>
<circle cx="137.5" cy="468.7" r="1.50" fill="#b097ef"/>
<circle cx="161.4" cy="468.7" r="1.60" fill="#9a78f1"/>
<circle cx="185.3" cy="468.7" r="1.50" fill="#b097ef"/>
<circle cx="209.2" cy="468.7" r="0.80" fill="#b097ef"/>
<circle cx="233.1" cy="468.7" r="2.40" fill="#6a44f5"/>
<circle cx="257" cy="468.7" r="2.00" fill="#6a44f5"/>
<circle cx="280.9" cy="468.7" r="1.60" fill="#b097ef"/>
<circle cx="304.8" cy="468.7" r="2.30" fill="#b097ef"/>
<circle cx="328.7" cy="468.7" r="1.50" fill="#b097ef"/>
<circle cx="113.6" cy="473.3" r="0.70" fill="#b097ef"/>
<circle cx="137.5" cy="473.3" r="0.81" fill="#b097ef"/>
<circle cx="161.4" cy="473.3" r="0.52" fill="#b097ef"/>
<circle cx="185.3" cy="473.3" r="1.30" fill="#6a44f5"/>
<circle cx="209.2" cy="473.3" r="0.90" fill="#b097ef"/>
<circle cx="233.1" cy="473.3" r="0.80" fill="#b097ef"/>
<circle cx="257" cy="473.3" r="0.55" fill="#b097ef"/>
<circle cx="280.9" cy="473.3" r="1.03" fill="#6a44f5"/>
<circle cx="304.8" cy="473.3" r="1.32" fill="#6a44f5"/>
<circle cx="328.7" cy="473.3" r="0.99" fill="#b097ef"/>
<circle cx="113.6" cy="477.8" r="1.40" fill="#b097ef"/>
<circle cx="137.5" cy="477.8" r="0.54" fill="#b097ef"/>
<circle cx="161.4" cy="477.8" r="1.40" fill="#9a78f1"/>
<circle cx="185.3" cy="477.8" r="0.55" fill="#9a78f1"/>
<circle cx="209.2" cy="477.8" r="1.60" fill="#6a44f5"/>
<circle cx="233.1" cy="477.8" r="0.65" fill="#b097ef"/>
<circle cx="257" cy="477.8" r="1.10" fill="#9a78f1"/>
<circle cx="280.9" cy="477.8" r="2.00" fill="#9a78f1"/>
<circle cx="304.8" cy="477.8" r="2.80" fill="#9a78f1"/>
<circle cx="328.7" cy="477.8" r="1.50" fill="#b097ef"/>
<circle cx="113.6" cy="482.4" r="1.80" fill="#1b0cf4"/>
<circle cx="137.5" cy="482.4" r="0.54" fill="#b097ef"/>
<circle cx="161.4" cy="482.4" r="0.85" fill="#b097ef"/>
<circle cx="185.3" cy="482.4" r="0.70" fill="#9a78f1"/>
<circle cx="209.2" cy="482.4" r="0.60" fill="#9a78f1"/>
<circle cx="233.1" cy="482.4" r="1.00" fill="#b097ef"/>
<circle cx="257" cy="482.4" r="0.65" fill="#b097ef"/>
<circle cx="280.9" cy="482.4" r="1.03" fill="#b097ef"/>
<circle cx="304.8" cy="482.4" r="1.08" fill="#b097ef"/>
<circle cx="328.7" cy="482.4" r="1.10" fill="#b097ef"/>
<circle cx="113.6" cy="487" r="0.70" fill="#b097ef"/>
<circle cx="137.5" cy="487" r="0.63" fill="#b097ef"/>
<circle cx="161.4" cy="487" r="1.40" fill="#9a78f1"/>
<circle cx="185.3" cy="487" r="1.50" fill="#6a44f5"/>
<circle cx="209.2" cy="487" r="1.00" fill="#b097ef"/>
<circle cx="233.1" cy="487" r="0.55" fill="#b097ef"/>
<circle cx="257" cy="487" r="0.80" fill="#b097ef"/>
<circle cx="280.9" cy="487" r="1.60" fill="#b097ef"/>
<circle cx="304.8" cy="487" r="1.80" fill="#b097ef"/>
<circle cx="328.7" cy="487" r="0.77" fill="#9a78f1"/>
<circle cx="113.6" cy="491.6" r="0.50" fill="#b097ef"/>
<circle cx="137.5" cy="491.6" r="0.72" fill="#9a78f1"/>
<circle cx="161.4" cy="491.6" r="0.57" fill="#b097ef"/>
<circle cx="185.3" cy="491.6" r="1.30" fill="#6a44f5"/>
<circle cx="209.2" cy="491.6" r="0.80" fill="#b097ef"/>
<circle cx="233.1" cy="491.6" r="0.50" fill="#b097ef"/>
<circle cx="257" cy="491.6" r="0.65" fill="#1b0cf4"/>
<circle cx="280.9" cy="491.6" r="0.80" fill="#b097ef"/>
<circle cx="304.8" cy="491.6" r="0.66" fill="#b097ef"/>
<circle cx="328.7" cy="491.6" r="0.72" fill="#b097ef"/>
<circle cx="113.6" cy="496.1" r="1.30" fill="#6a44f5"/>
<circle cx="137.5" cy="496.1" r="0.90" fill="#b097ef"/>
<circle cx="161.4" cy="496.1" r="0.57" fill="#b097ef"/>
<circle cx="185.3" cy="496.1" r="0.90" fill="#9a78f1"/>
<circle cx="209.2" cy="496.1" r="0.60" fill="#b097ef"/>
<circle cx="233.1" cy="496.1" r="0.55" fill="#b097ef"/>
<circle cx="257" cy="496.1" r="1.10" fill="#6a44f5"/>
<circle cx="280.9" cy="496.1" r="0.80" fill="#b097ef"/>
<circle cx="304.8" cy="496.1" r="0.78" fill="#b097ef"/>
<circle cx="328.7" cy="496.1" r="1.10" fill="#b097ef"/>
<circle cx="113.6" cy="500.7" r="0.55" fill="#b097ef"/>
<circle cx="137.5" cy="500.7" r="0.63" fill="#b097ef"/>
<circle cx="161.4" cy="500.7" r="0.57" fill="#b097ef"/>
<circle cx="185.3" cy="500.7" r="1.10" fill="#b097ef"/>
<circle cx="209.2" cy="500.7" r="1.00" fill="#9a78f1"/>
<circle cx="233.1" cy="500.7" r="1.00" fill="#b097ef"/>
<circle cx="257" cy="500.7" r="0.60" fill="#9a78f1"/>
<circle cx="280.9" cy="500.7" r="0.57" fill="#b097ef"/>
<circle cx="304.8" cy="500.7" r="0.96" fill="#b097ef"/>
<circle cx="328.7" cy="500.7" r="1.10" fill="#b097ef"/>
<circle cx="113.6" cy="505.3" r="1.30" fill="#6a44f5"/>
<circle cx="137.5" cy="505.3" r="0.90" fill="#b097ef"/>
<circle cx="161.4" cy="505.3" r="0.85" fill="#1b0cf4"/>
<circle cx="185.3" cy="505.3" r="0.55" fill="#b097ef"/>
<circle cx="209.2" cy="505.3" r="0.80" fill="#b097ef"/>
<circle cx="233.1" cy="505.3" r="0.50" fill="#b097ef"/>
<circle cx="257" cy="505.3" r="0.50" fill="#9a78f1"/>
<circle cx="280.9" cy="505.3" r="0.92" fill="#9a78f1"/>
<circle cx="304.8" cy="505.3" r="1.20" fill="#1b0cf4"/>
<circle cx="328.7" cy="505.3" r="0.61" fill="#b097ef"/>
<circle cx="113.6" cy="509.9" r="1.00" fill="#9a78f1"/>
<circle cx="137.5" cy="509.9" r="0.54" fill="#b097ef"/>
<circle cx="161.4" cy="509.9" r="0.85" fill="#9a78f1"/>
<circle cx="185.3" cy="509.9" r="0.80" fill="#b097ef"/>
<circle cx="209.2" cy="509.9" r="0.80" fill="#b097ef"/>
<circle cx="233.1" cy="509.9" r="1.10" fill="#b097ef"/>
<circle cx="257" cy="509.9" r="0.65" fill="#b097ef"/>
<circle cx="280.9" cy="509.9" r="0.92" fill="#b097ef"/>
<circle cx="304.8" cy="509.9" r="1.32" fill="#b097ef"/>
<circle cx="328.7" cy="509.9" r="0.77" fill="#b097ef"/>
<circle cx="113.6" cy="514.5" r="5.00" fill="#b097ef"/>
<circle cx="137.5" cy="514.5" r="3.50" fill="#cdc4e6"/>
<circle cx="161.4" cy="514.5" r="4.20" fill="#9a78f1"/>
<circle cx="185.3" cy="514.5" r="5.80" fill="#1b0cf4"/>
<circle cx="209.2" cy="514.5" r="5.00" fill="#9a78f1"/>
<circle cx="233.1" cy="514.5" r="5.00" fill="#9a78f1"/>
<circle cx="257" cy="514.5" r="4.00" fill="#b097ef"/>
<circle cx="280.9" cy="514.5" r="6.20" fill="#b097ef"/>
<circle cx="304.8" cy="514.5" r="6.50" fill="#b097ef"/>
<circle cx="328.7" cy="514.5" r="5.50" fill="#b097ef"/>
<circle cx="113.6" cy="519" r="1.00" fill="#b097ef"/>
<circle cx="137.5" cy="519" r="0.99" fill="#6a44f5"/>
<circle cx="161.4" cy="519" r="1.04" fill="#b097ef"/>
<circle cx="185.3" cy="519" r="0.65" fill="#9a78f1"/>
<circle cx="209.2" cy="519" r="0.55" fill="#b097ef"/>
<circle cx="233.1" cy="519" r="0.80" fill="#9a78f1"/>
<circle cx="257" cy="519" r="0.60" fill="#9a78f1"/>
<circle cx="280.9" cy="519" r="0.63" fill="#9a78f1"/>
<circle cx="304.8" cy="519" r="0.60" fill="#b097ef"/>
<circle cx="328.7" cy="519" r="1.21" fill="#9a78f1"/>
<circle cx="113.6" cy="523.6" r="2.00" fill="#b097ef"/>
<circle cx="137.5" cy="523.6" r="1.40" fill="#b097ef"/>
<circle cx="161.4" cy="523.6" r="2.20" fill="#1b0cf4"/>
<circle cx="185.3" cy="523.6" r="2.20" fill="#9a78f1"/>
<circle cx="209.2" cy="523.6" r="1.80" fill="#b097ef"/>
<circle cx="233.1" cy="523.6" r="1.80" fill="#b097ef"/>
<circle cx="257" cy="523.6" r="1.10" fill="#9a78f1"/>
<circle cx="280.9" cy="523.6" r="3.80" fill="#9a78f1"/>
<circle cx="304.8" cy="523.6" r="3.80" fill="#9a78f1"/>
<circle cx="328.7" cy="523.6" r="1.60" fill="#b097ef"/>
<circle cx="113.6" cy="528.2" r="0.90" fill="#b097ef"/>
<circle cx="137.5" cy="528.2" r="0.45" fill="#b097ef"/>
<circle cx="161.4" cy="528.2" r="0.95" fill="#9a78f1"/>
<circle cx="185.3" cy="528.2" r="1.50" fill="#b097ef"/>
<circle cx="209.2" cy="528.2" r="0.50" fill="#9a78f1"/>
<circle cx="233.1" cy="528.2" r="1.10" fill="#b097ef"/>
<circle cx="257" cy="528.2" r="0.60" fill="#9a78f1"/>
<circle cx="280.9" cy="528.2" r="0.63" fill="#b097ef"/>
<circle cx="304.8" cy="528.2" r="1.20" fill="#b097ef"/>
<circle cx="328.7" cy="528.2" r="0.66" fill="#b097ef"/>
<circle cx="113.6" cy="532.8" r="3.50" fill="#b097ef"/>
<circle cx="137.5" cy="532.8" r="2.50" fill="#9a78f1"/>
<circle cx="161.4" cy="532.8" r="0.57" fill="#6a44f5"/>
<circle cx="185.3" cy="532.8" r="2.50" fill="#b097ef"/>
<circle cx="209.2" cy="532.8" r="3.50" fill="#9a78f1"/>
<circle cx="233.1" cy="532.8" r="3.20" fill="#9a78f1"/>
<circle cx="257" cy="532.8" r="2.50" fill="#b097ef"/>
<circle cx="280.9" cy="532.8" r="5.00" fill="#b097ef"/>
<circle cx="304.8" cy="532.8" r="5.00" fill="#cdc4e6"/>
<circle cx="328.7" cy="532.8" r="5.50" fill="#6a44f5"/>
<circle cx="113.6" cy="537.3" r="1.80" fill="#b097ef"/>
<circle cx="137.5" cy="537.3" r="0.81" fill="#9a78f1"/>
<circle cx="161.4" cy="537.3" r="5.50" fill="#1b0cf4"/>
<circle cx="185.3" cy="537.3" r="4.20" fill="#6a44f5"/>
<circle cx="209.2" cy="537.3" r="1.80" fill="#b097ef"/>
<circle cx="233.1" cy="537.3" r="1.80" fill="#b097ef"/>
<circle cx="257" cy="537.3" r="1.50" fill="#b097ef"/>
<circle cx="280.9" cy="537.3" r="2.00" fill="#b097ef"/>
<circle cx="304.8" cy="537.3" r="0.60" fill="#b097ef"/>
<circle cx="328.7" cy="537.3" r="2.00" fill="#b097ef"/>
<circle cx="113.6" cy="541.9" r="0.60" fill="#9a78f1"/>
<circle cx="137.5" cy="541.9" r="0.99" fill="#9a78f1"/>
<circle cx="161.4" cy="541.9" r="0.66" fill="#b097ef"/>
<circle cx="185.3" cy="541.9" r="0.50" fill="#b097ef"/>
<circle cx="209.2" cy="541.9" r="0.90" fill="#b097ef"/>
<circle cx="233.1" cy="541.9" r="0.50" fill="#b097ef"/>
<circle cx="257" cy="541.9" r="1.10" fill="#b097ef"/>
<circle cx="280.9" cy="541.9" r="0.63" fill="#9a78f1"/>
<circle cx="304.8" cy="541.9" r="1.08" fill="#b097ef"/>
<circle cx="328.7" cy="541.9" r="0.99" fill="#b097ef"/>
<circle cx="113.6" cy="546.5" r="2.00" fill="#6a44f5"/>
<circle cx="137.5" cy="546.5" r="1.20" fill="#6a44f5"/>
<circle cx="161.4" cy="546.5" r="0.47" fill="#9a78f1"/>
<circle cx="185.3" cy="546.5" r="1.60" fill="#b097ef"/>
<circle cx="209.2" cy="546.5" r="0.60" fill="#b097ef"/>
<circle cx="233.1" cy="546.5" r="1.50" fill="#9a78f1"/>
<circle cx="257" cy="546.5" r="0.90" fill="#9a78f1"/>
<circle cx="280.9" cy="546.5" r="1.80" fill="#b097ef"/>
<circle cx="304.8" cy="546.5" r="2.00" fill="#b097ef"/>
<circle cx="328.7" cy="546.5" r="1.50" fill="#b097ef"/>
<circle cx="113.6" cy="551.1" r="0.55" fill="#b097ef"/>
<circle cx="137.5" cy="551.1" r="0.59" fill="#9a78f1"/>
<circle cx="161.4" cy="551.1" r="1.20" fill="#1b0cf4"/>
<circle cx="185.3" cy="551.1" r="0.50" fill="#b097ef"/>
<circle cx="209.2" cy="551.1" r="0.50" fill="#b097ef"/>
<circle cx="233.1" cy="551.1" r="0.55" fill="#6a44f5"/>
<circle cx="257" cy="551.1" r="0.55" fill="#b097ef"/>
<circle cx="280.9" cy="551.1" r="0.63" fill="#b097ef"/>
<circle cx="304.8" cy="551.1" r="0.60" fill="#b097ef"/>
<circle cx="328.7" cy="551.1" r="0.72" fill="#b097ef"/>
<circle cx="113.6" cy="555.7" r="1.50" fill="#b097ef"/>
<circle cx="137.5" cy="555.7" r="0.54" fill="#9a78f1"/>
<circle cx="161.4" cy="555.7" r="0.76" fill="#9a78f1"/>
<circle cx="185.3" cy="555.7" r="0.60" fill="#9a78f1"/>
<circle cx="209.2" cy="555.7" r="0.55" fill="#b097ef"/>
<circle cx="233.1" cy="555.7" r="1.10" fill="#9a78f1"/>
<circle cx="257" cy="555.7" r="1.00" fill="#9a78f1"/>
<circle cx="280.9" cy="555.7" r="0.80" fill="#9a78f1"/>
<circle cx="304.8" cy="555.7" r="1.50" fill="#b097ef"/>
<circle cx="328.7" cy="555.7" r="0.55" fill="#9a78f1"/>
<circle cx="113.6" cy="560.2" r="0.50" fill="#b097ef"/>
<circle cx="137.5" cy="560.2" r="0.50" fill="#b097ef"/>
<circle cx="161.4" cy="560.2" r="0.66" fill="#9a78f1"/>
<circle cx="185.3" cy="560.2" r="0.60" fill="#1b0cf4"/>
<circle cx="209.2" cy="560.2" r="1.00" fill="#b097ef"/>
<circle cx="233.1" cy="560.2" r="0.80" fill="#b097ef"/>
<circle cx="257" cy="560.2" r="1.00" fill="#b097ef"/>
<circle cx="280.9" cy="560.2" r="0.69" fill="#b097ef"/>
<circle cx="304.8" cy="560.2" r="0.66" fill="#b097ef"/>
<circle cx="328.7" cy="560.2" r="0.66" fill="#b097ef"/>
<circle cx="113.6" cy="564.8" r="1.80" fill="#9a78f1"/>
<circle cx="137.5" cy="564.8" r="1.30" fill="#6a44f5"/>
<circle cx="161.4" cy="564.8" r="0.85" fill="#b097ef"/>
<circle cx="185.3" cy="564.8" r="1.00" fill="#6a44f5"/>
<circle cx="209.2" cy="564.8" r="0.80" fill="#b097ef"/>
<circle cx="233.1" cy="564.8" r="1.50" fill="#9a78f1"/>
<circle cx="257" cy="564.8" r="0.50" fill="#9a78f1"/>
<circle cx="280.9" cy="564.8" r="0.92" fill="#9a78f1"/>
<circle cx="304.8" cy="564.8" r="0.60" fill="#9a78f1"/>
<circle cx="328.7" cy="564.8" r="0.77" fill="#b097ef"/>
<circle cx="113.6" cy="569.4" r="0.65" fill="#b097ef"/>
<circle cx="137.5" cy="569.4" r="0.81" fill="#b097ef"/>
<circle cx="161.4" cy="569.4" r="0.62" fill="#9a78f1"/>
<circle cx="185.3" cy="569.4" r="1.20" fill="#1b0cf4"/>
<circle cx="209.2" cy="569.4" r="0.70" fill="#b097ef"/>
<circle cx="233.1" cy="569.4" r="0.80" fill="#b097ef"/>
<circle cx="257" cy="569.4" r="0.90" fill="#b097ef"/>
<circle cx="280.9" cy="569.4" r="0.57" fill="#b097ef"/>
<circle cx="304.8" cy="569.4" r="0.72" fill="#9a78f1"/>
<circle cx="328.7" cy="569.4" r="0.66" fill="#b097ef"/>
<circle cx="113.6" cy="574" r="3.00" fill="#6a44f5"/>
<circle cx="137.5" cy="574" r="0.99" fill="#b097ef"/>
<circle cx="161.4" cy="574" r="1.50" fill="#9a78f1"/>
<circle cx="185.3" cy="574" r="1.00" fill="#b097ef"/>
<circle cx="209.2" cy="574" r="1.50" fill="#b097ef"/>
<circle cx="233.1" cy="574" r="1.80" fill="#9a78f1"/>
<circle cx="257" cy="574" r="2.30" fill="#6a44f5"/>
<circle cx="280.9" cy="574" r="1.80" fill="#b097ef"/>
<circle cx="304.8" cy="574" r="2.50" fill="#9a78f1"/>
<circle cx="328.7" cy="574" r="1.50" fill="#b097ef"/>
<circle cx="113.6" cy="578.5" r="0.55" fill="#b097ef"/>
<circle cx="137.5" cy="578.5" r="0.90" fill="#9a78f1"/>
<circle cx="161.4" cy="578.5" r="0.62" fill="#9a78f1"/>
<circle cx="185.3" cy="578.5" r="0.65" fill="#b097ef"/>
<circle cx="209.2" cy="578.5" r="0.50" fill="#b097ef"/>
<circle cx="233.1" cy="578.5" r="1.00" fill="#9a78f1"/>
<circle cx="257" cy="578.5" r="0.70" fill="#9a78f1"/>
<circle cx="280.9" cy="578.5" r="0.57" fill="#9a78f1"/>
<circle cx="304.8" cy="578.5" r="1.20" fill="#1b0cf4"/>
<circle cx="328.7" cy="578.5" r="1.10" fill="#b097ef"/>
<circle cx="113.6" cy="583.1" r="1.10" fill="#9a78f1"/>
<circle cx="137.5" cy="583.1" r="1.30" fill="#b097ef"/>
<circle cx="161.4" cy="583.1" r="2.40" fill="#9a78f1"/>
<circle cx="185.3" cy="583.1" r="5.00" fill="#1b0cf4"/>
<circle cx="209.2" cy="583.1" r="0.55" fill="#b097ef"/>
<circle cx="233.1" cy="583.1" r="1.10" fill="#9a78f1"/>
<circle cx="257" cy="583.1" r="1.10" fill="#b097ef"/>
<circle cx="280.9" cy="583.1" r="1.26" fill="#b097ef"/>
<circle cx="304.8" cy="583.1" r="1.50" fill="#b097ef"/>
<circle cx="328.7" cy="583.1" r="0.72" fill="#b097ef"/>
<circle cx="113.6" cy="587.7" r="0.55" fill="#b097ef"/>
<circle cx="137.5" cy="587.7" r="0.63" fill="#b097ef"/>
<circle cx="161.4" cy="587.7" r="1.30" fill="#b097ef"/>
<circle cx="185.3" cy="587.7" r="1.50" fill="#b097ef"/>
<circle cx="209.2" cy="587.7" r="0.80" fill="#b097ef"/>
<circle cx="233.1" cy="587.7" r="1.10" fill="#9a78f1"/>
<circle cx="257" cy="587.7" r="0.65" fill="#b097ef"/>
<circle cx="280.9" cy="587.7" r="1.15" fill="#b097ef"/>
<circle cx="304.8" cy="587.7" r="0.66" fill="#b097ef"/>
<circle cx="328.7" cy="587.7" r="1.10" fill="#9a78f1"/>
<circle cx="113.6" cy="592.3" r="0.60" fill="#b097ef"/>
<circle cx="137.5" cy="592.3" r="0.45" fill="#b097ef"/>
<circle cx="161.4" cy="592.3" r="1.04" fill="#9a78f1"/>
<circle cx="185.3" cy="592.3" r="0.55" fill="#b097ef"/>
<circle cx="209.2" cy="592.3" r="1.00" fill="#b097ef"/>
<circle cx="233.1" cy="592.3" r="0.65" fill="#b097ef"/>
<circle cx="257" cy="592.3" r="0.70" fill="#b097ef"/>
<circle cx="280.9" cy="592.3" r="1.15" fill="#9a78f1"/>
<circle cx="304.8" cy="592.3" r="0.72" fill="#b097ef"/>
<circle cx="328.7" cy="592.3" r="0.55" fill="#b097ef"/>
<circle cx="113.6" cy="596.9" r="0.60" fill="#b097ef"/>
<circle cx="137.5" cy="596.9" r="0.45" fill="#b097ef"/>
<circle cx="161.4" cy="596.9" r="1.80" fill="#1b0cf4"/>
<circle cx="185.3" cy="596.9" r="1.10" fill="#b097ef"/>
<circle cx="209.2" cy="596.9" r="1.00" fill="#b097ef"/>
<circle cx="233.1" cy="596.9" r="0.55" fill="#9a78f1"/>
<circle cx="257" cy="596.9" r="0.90" fill="#1b0cf4"/>
<circle cx="280.9" cy="596.9" r="1.50" fill="#b097ef"/>
<circle cx="304.8" cy="596.9" r="1.80" fill="#b097ef"/>
<circle cx="328.7" cy="596.9" r="0.61" fill="#b097ef"/>
<circle cx="113.6" cy="601.4" r="0.65" fill="#b097ef"/>
<circle cx="137.5" cy="601.4" r="0.99" fill="#b097ef"/>
<circle cx="161.4" cy="601.4" r="1.30" fill="#6a44f5"/>
<circle cx="185.3" cy="601.4" r="1.00" fill="#9a78f1"/>
<circle cx="209.2" cy="601.4" r="0.80" fill="#6a44f5"/>
<circle cx="233.1" cy="601.4" r="0.65" fill="#b097ef"/>
<circle cx="257" cy="601.4" r="0.70" fill="#1b0cf4"/>
<circle cx="280.9" cy="601.4" r="0.57" fill="#9a78f1"/>
<circle cx="304.8" cy="601.4" r="0.60" fill="#9a78f1"/>
<circle cx="328.7" cy="601.4" r="0.55" fill="#b097ef"/>
<circle cx="113.6" cy="606" r="1.60" fill="#b097ef"/>
<circle cx="137.5" cy="606" r="1.20" fill="#b097ef"/>
<circle cx="161.4" cy="606" r="1.04" fill="#9a78f1"/>
<circle cx="185.3" cy="606" r="1.30" fill="#b097ef"/>
<circle cx="209.2" cy="606" r="1.50" fill="#b097ef"/>
<circle cx="233.1" cy="606" r="1.00" fill="#b097ef"/>
<circle cx="257" cy="606" r="0.60" fill="#b097ef"/>
<circle cx="280.9" cy="606" r="3.30" fill="#6a44f5"/>
<circle cx="304.8" cy="606" r="3.00" fill="#9a78f1"/>
<circle cx="328.7" cy="606" r="2.50" fill="#6a44f5"/>
<circle cx="113.6" cy="610.6" r="0.50" fill="#6a44f5"/>
<circle cx="137.5" cy="610.6" r="0.63" fill="#b097ef"/>
<circle cx="161.4" cy="610.6" r="0.95" fill="#9a78f1"/>
<circle cx="185.3" cy="610.6" r="0.55" fill="#b097ef"/>
<circle cx="209.2" cy="610.6" r="0.80" fill="#b097ef"/>
<circle cx="233.1" cy="610.6" r="0.55" fill="#b097ef"/>
<circle cx="257" cy="610.6" r="0.90" fill="#b097ef"/>
<circle cx="280.9" cy="610.6" r="0.75" fill="#9a78f1"/>
<circle cx="304.8" cy="610.6" r="2.00" fill="#b097ef"/>
<circle cx="328.7" cy="610.6" r="2.50" fill="#b097ef"/>
<circle cx="113.6" cy="615.2" r="0.50" fill="#b097ef"/>
<circle cx="137.5" cy="615.2" r="0.59" fill="#9a78f1"/>
<circle cx="161.4" cy="615.2" r="0.57" fill="#6a44f5"/>
<circle cx="185.3" cy="615.2" r="0.65" fill="#b097ef"/>
<circle cx="209.2" cy="615.2" r="0.80" fill="#9a78f1"/>
<circle cx="233.1" cy="615.2" r="0.60" fill="#9a78f1"/>
<circle cx="257" cy="615.2" r="0.55" fill="#1b0cf4"/>
<circle cx="280.9" cy="615.2" r="1.03" fill="#9a78f1"/>
<circle cx="304.8" cy="615.2" r="0.66" fill="#b097ef"/>
<circle cx="328.7" cy="615.2" r="0.88" fill="#b097ef"/>
<circle cx="113.6" cy="619.8" r="7.30" fill="#cdc4e6"/>
<circle cx="137.5" cy="619.8" r="7.30" fill="#9a78f1"/>
<circle cx="161.4" cy="619.8" r="7.60" fill="#6a44f5"/>
<circle cx="185.3" cy="619.8" r="7.00" fill="#b097ef"/>
<circle cx="209.2" cy="619.8" r="7.30" fill="#9a78f1"/>
<circle cx="233.1" cy="619.8" r="7.30" fill="#b097ef"/>
<circle cx="257" cy="619.8" r="7.30" fill="#9a78f1"/>
<circle cx="280.9" cy="619.8" r="7.60" fill="#cdc4e6"/>
<circle cx="304.8" cy="619.8" r="8.00" fill="#6a44f5"/>
<circle cx="328.7" cy="619.8" r="7.80" fill="#9a78f1"/>
<circle cx="113.6" cy="624.3" r="1.20" fill="#1b0cf4"/>
<circle cx="137.5" cy="624.3" r="0.59" fill="#b097ef"/>
<circle cx="161.4" cy="624.3" r="0.76" fill="#b097ef"/>
<circle cx="185.3" cy="624.3" r="0.65" fill="#9a78f1"/>
<circle cx="209.2" cy="624.3" r="0.60" fill="#9a78f1"/>
<circle cx="233.1" cy="624.3" r="1.10" fill="#9a78f1"/>
<circle cx="257" cy="624.3" r="1.00" fill="#6a44f5"/>
<circle cx="280.9" cy="624.3" r="0.80" fill="#b097ef"/>
<circle cx="304.8" cy="624.3" r="0.78" fill="#b097ef"/>
<circle cx="328.7" cy="624.3" r="0.77" fill="#b097ef"/>
<circle cx="113.6" cy="628.9" r="0.70" fill="#b097ef"/>
<circle cx="137.5" cy="628.9" r="0.54" fill="#b097ef"/>
<circle cx="161.4" cy="628.9" r="0.52" fill="#b097ef"/>
<circle cx="185.3" cy="628.9" r="1.00" fill="#b097ef"/>
<circle cx="209.2" cy="628.9" r="1.10" fill="#b097ef"/>
<circle cx="233.1" cy="628.9" r="0.65" fill="#b097ef"/>
<circle cx="257" cy="628.9" r="0.70" fill="#b097ef"/>
<circle cx="280.9" cy="628.9" r="0.75" fill="#6a44f5"/>
<circle cx="304.8" cy="628.9" r="1.08" fill="#6a44f5"/>
<circle cx="328.7" cy="628.9" r="0.72" fill="#9a78f1"/>
<circle cx="113.6" cy="633.5" r="2.00" fill="#b097ef"/>
<circle cx="137.5" cy="633.5" r="0.50" fill="#b097ef"/>
<circle cx="161.4" cy="633.5" r="1.50" fill="#b097ef"/>
<circle cx="185.3" cy="633.5" r="1.50" fill="#b097ef"/>
<circle cx="209.2" cy="633.5" r="0.90" fill="#9a78f1"/>
<circle cx="233.1" cy="633.5" r="0.50" fill="#9a78f1"/>
<circle cx="257" cy="633.5" r="0.70" fill="#b097ef"/>
<circle cx="280.9" cy="633.5" r="6.00" fill="#6a44f5"/>
<circle cx="304.8" cy="633.5" r="6.00" fill="#6a44f5"/>
<circle cx="328.7" cy="633.5" r="0.55" fill="#b097ef"/>
<circle cx="113.6" cy="638.1" r="4.00" fill="#b097ef"/>
<circle cx="137.5" cy="638.1" r="1.50" fill="#b097ef"/>
<circle cx="161.4" cy="638.1" r="2.00" fill="#9a78f1"/>
<circle cx="185.3" cy="638.1" r="3.00" fill="#b097ef"/>
<circle cx="209.2" cy="638.1" r="4.20" fill="#9a78f1"/>
<circle cx="233.1" cy="638.1" r="3.30" fill="#b097ef"/>
<circle cx="257" cy="638.1" r="2.80" fill="#b097ef"/>
<circle cx="280.9" cy="638.1" r="5.00" fill="#b097ef"/>
<circle cx="304.8" cy="638.1" r="5.00" fill="#b097ef"/>
<circle cx="328.7" cy="638.1" r="5.00" fill="#b097ef"/>
<circle cx="113.6" cy="642.6" r="3.30" fill="#b097ef"/>
<circle cx="137.5" cy="642.6" r="3.30" fill="#9a78f1"/>
<circle cx="161.4" cy="642.6" r="3.30" fill="#9a78f1"/>
<circle cx="185.3" cy="642.6" r="1.10" fill="#b097ef"/>
<circle cx="209.2" cy="642.6" r="4.00" fill="#b097ef"/>
<circle cx="233.1" cy="642.6" r="4.00" fill="#9a78f1"/>
<circle cx="257" cy="642.6" r="2.50" fill="#b097ef"/>
<circle cx="280.9" cy="642.6" r="6.50" fill="#b097ef"/>
<circle cx="304.8" cy="642.6" r="6.50" fill="#b097ef"/>
<circle cx="328.7" cy="642.6" r="6.20" fill="#9a78f1"/>
<circle cx="113.6" cy="647.2" r="3.50" fill="#b097ef"/>
<circle cx="137.5" cy="647.2" r="2.00" fill="#b097ef"/>
<circle cx="161.4" cy="647.2" r="3.50" fill="#6a44f5"/>
<circle cx="185.3" cy="647.2" r="5.50" fill="#1b0cf4"/>
<circle cx="209.2" cy="647.2" r="3.80" fill="#b097ef"/>
<circle cx="233.1" cy="647.2" r="3.00" fill="#b097ef"/>
<circle cx="257" cy="647.2" r="2.20" fill="#b097ef"/>
<circle cx="280.9" cy="647.2" r="5.50" fill="#b097ef"/>
<circle cx="304.8" cy="647.2" r="5.50" fill="#cdc4e6"/>
<circle cx="328.7" cy="647.2" r="5.50" fill="#9a78f1"/>
<circle cx="113.6" cy="651.8" r="1.80" fill="#b097ef"/>
<circle cx="137.5" cy="651.8" r="0.54" fill="#b097ef"/>
<circle cx="161.4" cy="651.8" r="2.00" fill="#9a78f1"/>
<circle cx="185.3" cy="651.8" r="1.30" fill="#b097ef"/>
<circle cx="209.2" cy="651.8" r="2.00" fill="#b097ef"/>
<circle cx="233.1" cy="651.8" r="1.10" fill="#b097ef"/>
<circle cx="257" cy="651.8" r="0.80" fill="#b097ef"/>
<circle cx="280.9" cy="651.8" r="3.00" fill="#b097ef"/>
<circle cx="304.8" cy="651.8" r="2.00" fill="#b097ef"/>
<circle cx="328.7" cy="651.8" r="2.20" fill="#b097ef"/>
<circle cx="113.6" cy="656.4" r="1.50" fill="#b097ef"/>
<circle cx="137.5" cy="656.4" r="0.81" fill="#b097ef"/>
<circle cx="161.4" cy="656.4" r="1.50" fill="#6a44f5"/>
<circle cx="185.3" cy="656.4" r="0.60" fill="#b097ef"/>
<circle cx="209.2" cy="656.4" r="1.50" fill="#9a78f1"/>
<circle cx="233.1" cy="656.4" r="0.60" fill="#b097ef"/>
<circle cx="257" cy="656.4" r="0.65" fill="#9a78f1"/>
<circle cx="280.9" cy="656.4" r="2.20" fill="#b097ef"/>
<circle cx="304.8" cy="656.4" r="2.20" fill="#b097ef"/>
<circle cx="328.7" cy="656.4" r="0.72" fill="#b097ef"/>
<circle cx="113.6" cy="661" r="2.00" fill="#9a78f1"/>
<circle cx="137.5" cy="661" r="1.30" fill="#b097ef"/>
<circle cx="161.4" cy="661" r="1.30" fill="#b097ef"/>
<circle cx="185.3" cy="661" r="0.55" fill="#6a44f5"/>
<circle cx="209.2" cy="661" r="2.00" fill="#9a78f1"/>
<circle cx="233.1" cy="661" r="1.60" fill="#b097ef"/>
<circle cx="257" cy="661" r="1.00" fill="#6a44f5"/>
<circle cx="280.9" cy="661" r="2.80" fill="#b097ef"/>
<circle cx="304.8" cy="661" r="2.80" fill="#b097ef"/>
<circle cx="328.7" cy="661" r="0.66" fill="#b097ef"/>
<circle cx="113.6" cy="665.5" r="1.80" fill="#6a44f5"/>
<circle cx="137.5" cy="665.5" r="0.59" fill="#b097ef"/>
<circle cx="161.4" cy="665.5" r="0.62" fill="#b097ef"/>
<circle cx="185.3" cy="665.5" r="1.10" fill="#b097ef"/>
<circle cx="209.2" cy="665.5" r="0.50" fill="#b097ef"/>
<circle cx="233.1" cy="665.5" r="0.80" fill="#b097ef"/>
<circle cx="257" cy="665.5" r="1.00" fill="#b097ef"/>
<circle cx="280.9" cy="665.5" r="1.03" fill="#9a78f1"/>
<circle cx="304.8" cy="665.5" r="1.20" fill="#b097ef"/>
<circle cx="328.7" cy="665.5" r="0.77" fill="#b097ef"/>
<circle cx="113.6" cy="670.1" r="2.50" fill="#6a44f5"/>
<circle cx="137.5" cy="670.1" r="1.50" fill="#b097ef"/>
<circle cx="161.4" cy="670.1" r="1.30" fill="#b097ef"/>
<circle cx="185.3" cy="670.1" r="1.20" fill="#b097ef"/>
<circle cx="209.2" cy="670.1" r="2.00" fill="#9a78f1"/>
<circle cx="233.1" cy="670.1" r="1.80" fill="#9a78f1"/>
<circle cx="257" cy="670.1" r="0.80" fill="#b097ef"/>
<circle cx="280.9" cy="670.1" r="2.50" fill="#b097ef"/>
<circle cx="304.8" cy="670.1" r="3.20" fill="#b097ef"/>
<circle cx="328.7" cy="670.1" r="1.80" fill="#b097ef"/>
<circle cx="113.6" cy="674.7" r="0.80" fill="#b097ef"/>
<circle cx="137.5" cy="674.7" r="0.45" fill="#b097ef"/>
<circle cx="161.4" cy="674.7" r="0.95" fill="#1b0cf4"/>
<circle cx="185.3" cy="674.7" r="0.55" fill="#b097ef"/>
<circle cx="209.2" cy="674.7" r="0.65" fill="#9a78f1"/>
<circle cx="233.1" cy="674.7" r="0.80" fill="#9a78f1"/>
<circle cx="257" cy="674.7" r="0.90" fill="#9a78f1"/>
<circle cx="280.9" cy="674.7" r="1.50" fill="#b097ef"/>
<circle cx="304.8" cy="674.7" r="1.80" fill="#b097ef"/>
<circle cx="328.7" cy="674.7" r="0.55" fill="#b097ef"/>
<circle cx="113.6" cy="679.3" r="1.50" fill="#b097ef"/>
<circle cx="137.5" cy="679.3" r="0.50" fill="#6a44f5"/>
<circle cx="161.4" cy="679.3" r="0.95" fill="#b097ef"/>
<circle cx="185.3" cy="679.3" r="0.50" fill="#b097ef"/>
<circle cx="209.2" cy="679.3" r="1.50" fill="#b097ef"/>
<circle cx="233.1" cy="679.3" r="1.30" fill="#b097ef"/>
<circle cx="257" cy="679.3" r="1.10" fill="#b097ef"/>
<circle cx="280.9" cy="679.3" r="2.30" fill="#6a44f5"/>
<circle cx="304.8" cy="679.3" r="2.00" fill="#b097ef"/>
<circle cx="328.7" cy="679.3" r="1.60" fill="#b097ef"/>
<circle cx="113.6" cy="683.8" r="0.65" fill="#6a44f5"/>
<circle cx="137.5" cy="683.8" r="0.59" fill="#b097ef"/>
<circle cx="161.4" cy="683.8" r="0.57" fill="#b097ef"/>
<circle cx="185.3" cy="683.8" r="0.70" fill="#b097ef"/>
<circle cx="209.2" cy="683.8" r="0.50" fill="#b097ef"/>
<circle cx="233.1" cy="683.8" r="0.65" fill="#b097ef"/>
<circle cx="257" cy="683.8" r="1.00" fill="#9a78f1"/>
<circle cx="280.9" cy="683.8" r="1.15" fill="#b097ef"/>
<circle cx="304.8" cy="683.8" r="0.66" fill="#9a78f1"/>
<circle cx="328.7" cy="683.8" r="0.55" fill="#b097ef"/>
<circle cx="113.6" cy="688.4" r="1.00" fill="#b097ef"/>
<circle cx="137.5" cy="688.4" r="0.99" fill="#9a78f1"/>
<circle cx="161.4" cy="688.4" r="0.52" fill="#b097ef"/>
<circle cx="185.3" cy="688.4" r="0.90" fill="#6a44f5"/>
<circle cx="209.2" cy="688.4" r="1.10" fill="#b097ef"/>
<circle cx="233.1" cy="688.4" r="0.65" fill="#b097ef"/>
<circle cx="257" cy="688.4" r="1.00" fill="#9a78f1"/>
<circle cx="280.9" cy="688.4" r="0.69" fill="#6a44f5"/>
<circle cx="304.8" cy="688.4" r="0.60" fill="#6a44f5"/>
<circle cx="328.7" cy="688.4" r="0.99" fill="#b097ef"/>
<circle cx="113.6" cy="693" r="4.40" fill="#b097ef"/>
<circle cx="137.5" cy="693" r="4.40" fill="#b097ef"/>
<circle cx="161.4" cy="693" r="7.30" fill="#1b0cf4"/>
<circle cx="185.3" cy="693" r="7.00" fill="#6a44f5"/>
<circle cx="209.2" cy="693" r="4.50" fill="#b097ef"/>
<circle cx="233.1" cy="693" r="5.00" fill="#b097ef"/>
<circle cx="257" cy="693" r="4.20" fill="#b097ef"/>
<circle cx="280.9" cy="693" r="5.00" fill="#b097ef"/>
<circle cx="304.8" cy="693" r="5.00" fill="#b097ef"/>
<circle cx="328.7" cy="693" r="4.50" fill="#b097ef"/>
<circle cx="113.6" cy="697.6" r="1.10" fill="#b097ef"/>
<circle cx="137.5" cy="697.6" r="0.45" fill="#9a78f1"/>
<circle cx="161.4" cy="697.6" r="0.76" fill="#b097ef"/>
<circle cx="185.3" cy="697.6" r="0.80" fill="#9a78f1"/>
<circle cx="209.2" cy="697.6" r="0.80" fill="#9a78f1"/>
<circle cx="233.1" cy="697.6" r="1.10" fill="#b097ef"/>
<circle cx="257" cy="697.6" r="1.10" fill="#b097ef"/>
<circle cx="280.9" cy="697.6" r="0.92" fill="#b097ef"/>
<circle cx="304.8" cy="697.6" r="1.08" fill="#b097ef"/>
<circle cx="328.7" cy="697.6" r="0.55" fill="#b097ef"/>
<circle cx="113.6" cy="702.2" r="1.10" fill="#b097ef"/>
<circle cx="137.5" cy="702.2" r="0.72" fill="#b097ef"/>
<circle cx="161.4" cy="702.2" r="1.04" fill="#9a78f1"/>
<circle cx="185.3" cy="702.2" r="0.65" fill="#b097ef"/>
<circle cx="209.2" cy="702.2" r="0.90" fill="#9a78f1"/>
<circle cx="233.1" cy="702.2" r="1.00" fill="#b097ef"/>
<circle cx="257" cy="702.2" r="0.50" fill="#b097ef"/>
<circle cx="280.9" cy="702.2" r="0.80" fill="#9a78f1"/>
<circle cx="304.8" cy="702.2" r="0.84" fill="#b097ef"/>
<circle cx="328.7" cy="702.2" r="0.55" fill="#b097ef"/>
<circle cx="113.6" cy="706.7" r="1.30" fill="#b097ef"/>
<circle cx="137.5" cy="706.7" r="0.63" fill="#b097ef"/>
<circle cx="161.4" cy="706.7" r="0.47" fill="#b097ef"/>
<circle cx="185.3" cy="706.7" r="0.50" fill="#b097ef"/>
<circle cx="209.2" cy="706.7" r="1.30" fill="#b097ef"/>
<circle cx="233.1" cy="706.7" r="0.70" fill="#b097ef"/>
<circle cx="257" cy="706.7" r="0.60" fill="#b097ef"/>
<circle cx="280.9" cy="706.7" r="4.40" fill="#9a78f1"/>
<circle cx="304.8" cy="706.7" r="7.00" fill="#1b0cf4"/>
<circle cx="328.7" cy="706.7" r="4.00" fill="#9a78f1"/>
<circle cx="113.6" cy="711.3" r="1.40" fill="#b097ef"/>
<circle cx="137.5" cy="711.3" r="0.99" fill="#9a78f1"/>
<circle cx="161.4" cy="711.3" r="0.52" fill="#b097ef"/>
<circle cx="185.3" cy="711.3" r="2.00" fill="#1b0cf4"/>
<circle cx="209.2" cy="711.3" r="1.10" fill="#6a44f5"/>
<circle cx="233.1" cy="711.3" r="1.30" fill="#b097ef"/>
<circle cx="257" cy="711.3" r="1.00" fill="#b097ef"/>
<circle cx="280.9" cy="711.3" r="1.50" fill="#b097ef"/>
<circle cx="304.8" cy="711.3" r="2.00" fill="#b097ef"/>
<circle cx="328.7" cy="711.3" r="1.30" fill="#b097ef"/>
<circle cx="113.6" cy="715.9" r="0.60" fill="#9a78f1"/>
<circle cx="137.5" cy="715.9" r="0.81" fill="#b097ef"/>
<circle cx="161.4" cy="715.9" r="0.66" fill="#b097ef"/>
<circle cx="185.3" cy="715.9" r="0.55" fill="#9a78f1"/>
<circle cx="209.2" cy="715.9" r="0.70" fill="#9a78f1"/>
<circle cx="233.1" cy="715.9" r="0.65" fill="#b097ef"/>
<circle cx="257" cy="715.9" r="0.65" fill="#9a78f1"/>
<circle cx="280.9" cy="715.9" r="0.92" fill="#b097ef"/>
<circle cx="304.8" cy="715.9" r="1.32" fill="#b097ef"/>
<circle cx="328.7" cy="715.9" r="1.10" fill="#b097ef"/>
<circle cx="113.6" cy="720.5" r="0.70" fill="#b097ef"/>
<circle cx="137.5" cy="720.5" r="0.72" fill="#b097ef"/>
<circle cx="161.4" cy="720.5" r="1.04" fill="#b097ef"/>
<circle cx="185.3" cy="720.5" r="0.90" fill="#b097ef"/>
<circle cx="209.2" cy="720.5" r="0.80" fill="#b097ef"/>
<circle cx="233.1" cy="720.5" r="0.65" fill="#b097ef"/>
<circle cx="257" cy="720.5" r="0.80" fill="#b097ef"/>
<circle cx="280.9" cy="720.5" r="0.80" fill="#9a78f1"/>
<circle cx="304.8" cy="720.5" r="0.78" fill="#b097ef"/>
<circle cx="328.7" cy="720.5" r="0.55" fill="#b097ef"/>
<circle cx="113.6" cy="725" r="0.55" fill="#b097ef"/>
<circle cx="137.5" cy="725" r="0.72" fill="#b097ef"/>
<circle cx="161.4" cy="725" r="0.47" fill="#b097ef"/>
<circle cx="185.3" cy="725" r="1.00" fill="#b097ef"/>
<circle cx="209.2" cy="725" r="0.55" fill="#b097ef"/>
<circle cx="233.1" cy="725" r="0.60" fill="#b097ef"/>
<circle cx="257" cy="725" r="0.80" fill="#b097ef"/>
<circle cx="280.9" cy="725" r="0.75" fill="#b097ef"/>
<circle cx="304.8" cy="725" r="0.84" fill="#9a78f1"/>
<circle cx="328.7" cy="725" r="1.21" fill="#b097ef"/>
<circle cx="113.6" cy="729.6" r="1.00" fill="#b097ef"/>
<circle cx="137.5" cy="729.6" r="0.54" fill="#b097ef"/>
<circle cx="161.4" cy="729.6" r="0.52" fill="#b097ef"/>
<circle cx="185.3" cy="729.6" r="1.00" fill="#1b0cf4"/>
<circle cx="209.2" cy="729.6" r="1.10" fill="#b097ef"/>
<circle cx="233.1" cy="729.6" r="1.00" fill="#b097ef"/>
<circle cx="257" cy="729.6" r="0.60" fill="#b097ef"/>
<circle cx="280.9" cy="729.6" r="0.80" fill="#9a78f1"/>
<circle cx="304.8" cy="729.6" r="0.66" fill="#b097ef"/>
<circle cx="328.7" cy="729.6" r="1.10" fill="#b097ef"/>
<circle cx="113.6" cy="734.2" r="0.70" fill="#9a78f1"/>
<circle cx="137.5" cy="734.2" r="0.63" fill="#b097ef"/>
<circle cx="161.4" cy="734.2" r="1.04" fill="#b097ef"/>
<circle cx="185.3" cy="734.2" r="0.90" fill="#9a78f1"/>
<circle cx="209.2" cy="734.2" r="0.50" fill="#9a78f1"/>
<circle cx="233.1" cy="734.2" r="1.20" fill="#6a44f5"/>
<circle cx="257" cy="734.2" r="1.00" fill="#b097ef"/>
<circle cx="280.9" cy="734.2" r="0.80" fill="#b097ef"/>
<circle cx="304.8" cy="734.2" r="0.84" fill="#9a78f1"/>
<circle cx="328.7" cy="734.2" r="0.99" fill="#b097ef"/>
<circle cx="113.6" cy="738.8" r="0.65" fill="#b097ef"/>
<circle cx="137.5" cy="738.8" r="0.72" fill="#b097ef"/>
<circle cx="161.4" cy="738.8" r="1.50" fill="#1b0cf4"/>
<circle cx="185.3" cy="738.8" r="0.65" fill="#1b0cf4"/>
<circle cx="209.2" cy="738.8" r="0.65" fill="#6a44f5"/>
<circle cx="233.1" cy="738.8" r="0.50" fill="#b097ef"/>
<circle cx="257" cy="738.8" r="0.70" fill="#9a78f1"/>
<circle cx="280.9" cy="738.8" r="1.15" fill="#b097ef"/>
<circle cx="304.8" cy="738.8" r="1.32" fill="#9a78f1"/>
<circle cx="328.7" cy="738.8" r="1.21" fill="#b097ef"/>
<circle cx="113.6" cy="743.4" r="0.90" fill="#b097ef"/>
<circle cx="137.5" cy="743.4" r="0.99" fill="#9a78f1"/>
<circle cx="161.4" cy="743.4" r="1.20" fill="#1b0cf4"/>
<circle cx="185.3" cy="743.4" r="0.90" fill="#b097ef"/>
<circle cx="209.2" cy="743.4" r="0.80" fill="#b097ef"/>
<circle cx="233.1" cy="743.4" r="0.80" fill="#b097ef"/>
<circle cx="257" cy="743.4" r="0.50" fill="#9a78f1"/>
<circle cx="280.9" cy="743.4" r="1.26" fill="#b097ef"/>
<circle cx="304.8" cy="743.4" r="1.08" fill="#b097ef"/>
<circle cx="328.7" cy="743.4" r="0.99" fill="#b097ef"/>
<circle cx="113.6" cy="747.9" r="0.60" fill="#9a78f1"/>
<circle cx="137.5" cy="747.9" r="0.81" fill="#b097ef"/>
<circle cx="161.4" cy="747.9" r="1.20" fill="#1b0cf4"/>
<circle cx="185.3" cy="747.9" r="1.00" fill="#9a78f1"/>
<circle cx="209.2" cy="747.9" r="0.80" fill="#b097ef"/>
<circle cx="233.1" cy="747.9" r="0.55" fill="#b097ef"/>
<circle cx="257" cy="747.9" r="0.80" fill="#b097ef"/>
<circle cx="280.9" cy="747.9" r="0.63" fill="#9a78f1"/>
<circle cx="304.8" cy="747.9" r="1.32" fill="#b097ef"/>
<circle cx="328.7" cy="747.9" r="0.77" fill="#b097ef"/>
<circle cx="113.6" cy="752.5" r="2.00" fill="#b097ef"/>
<circle cx="137.5" cy="752.5" r="1.50" fill="#b097ef"/>
<circle cx="161.4" cy="752.5" r="1.50" fill="#b097ef"/>
<circle cx="185.3" cy="752.5" r="2.00" fill="#9a78f1"/>
<circle cx="209.2" cy="752.5" r="2.00" fill="#b097ef"/>
<circle cx="233.1" cy="752.5" r="1.70" fill="#b097ef"/>
<circle cx="257" cy="752.5" r="1.60" fill="#9a78f1"/>
<circle cx="280.9" cy="752.5" r="2.70" fill="#b097ef"/>
<circle cx="304.8" cy="752.5" r="3.60" fill="#9a78f1"/>
<circle cx="328.7" cy="752.5" r="2.00" fill="#b097ef"/>
<circle cx="113.6" cy="757.1" r="1.10" fill="#9a78f1"/>
<circle cx="137.5" cy="757.1" r="0.81" fill="#b097ef"/>
<circle cx="161.4" cy="757.1" r="1.04" fill="#b097ef"/>
<circle cx="185.3" cy="757.1" r="1.50" fill="#b097ef"/>
<circle cx="209.2" cy="757.1" r="1.50" fill="#b097ef"/>
<circle cx="233.1" cy="757.1" r="1.10" fill="#b097ef"/>
<circle cx="257" cy="757.1" r="0.65" fill="#b097ef"/>
<circle cx="280.9" cy="757.1" r="2.40" fill="#6a44f5"/>
<circle cx="304.8" cy="757.1" r="2.00" fill="#9a78f1"/>
<circle cx="328.7" cy="757.1" r="0.55" fill="#b097ef"/>
<circle cx="113.6" cy="761.7" r="0.55" fill="#b097ef"/>
<circle cx="137.5" cy="761.7" r="0.45" fill="#b097ef"/>
<circle cx="161.4" cy="761.7" r="1.20" fill="#9a78f1"/>
<circle cx="185.3" cy="761.7" r="0.50" fill="#9a78f1"/>
<circle cx="209.2" cy="761.7" r="0.70" fill="#9a78f1"/>
<circle cx="233.1" cy="761.7" r="1.10" fill="#b097ef"/>
<circle cx="257" cy="761.7" r="0.70" fill="#b097ef"/>
<circle cx="280.9" cy="761.7" r="0.63" fill="#b097ef"/>
<circle cx="304.8" cy="761.7" r="0.60" fill="#b097ef"/>
<circle cx="328.7" cy="761.7" r="1.50" fill="#b097ef"/>
<circle cx="113.6" cy="766.2" r="1.30" fill="#b097ef"/>
<circle cx="137.5" cy="766.2" r="0.90" fill="#9a78f1"/>
<circle cx="161.4" cy="766.2" r="0.66" fill="#6a44f5"/>
<circle cx="185.3" cy="766.2" r="1.50" fill="#b097ef"/>
<circle cx="209.2" cy="766.2" r="1.10" fill="#b097ef"/>
<circle cx="233.1" cy="766.2" r="0.60" fill="#b097ef"/>
<circle cx="257" cy="766.2" r="0.90" fill="#9a78f1"/>
<circle cx="280.9" cy="766.2" r="2.70" fill="#9a78f1"/>
<circle cx="304.8" cy="766.2" r="3.30" fill="#6a44f5"/>
<circle cx="328.7" cy="766.2" r="0.66" fill="#b097ef"/>
<circle cx="113.6" cy="770.8" r="1.10" fill="#b097ef"/>
<circle cx="137.5" cy="770.8" r="0.50" fill="#b097ef"/>
<circle cx="161.4" cy="770.8" r="1.30" fill="#1b0cf4"/>
<circle cx="185.3" cy="770.8" r="1.10" fill="#b097ef"/>
<circle cx="209.2" cy="770.8" r="1.00" fill="#b097ef"/>
<circle cx="233.1" cy="770.8" r="0.50" fill="#b097ef"/>
<circle cx="257" cy="770.8" r="0.80" fill="#b097ef"/>
<circle cx="280.9" cy="770.8" r="0.75" fill="#b097ef"/>
<circle cx="304.8" cy="770.8" r="0.72" fill="#b097ef"/>
<circle cx="328.7" cy="770.8" r="0.61" fill="#9a78f1"/>
<circle cx="113.6" cy="775.4" r="0.55" fill="#b097ef"/>
<circle cx="137.5" cy="775.4" r="0.90" fill="#b097ef"/>
<circle cx="161.4" cy="775.4" r="0.47" fill="#b097ef"/>
<circle cx="185.3" cy="775.4" r="0.90" fill="#b097ef"/>
<circle cx="209.2" cy="775.4" r="0.50" fill="#b097ef"/>
<circle cx="233.1" cy="775.4" r="0.65" fill="#b097ef"/>
<circle cx="257" cy="775.4" r="0.50" fill="#b097ef"/>
<circle cx="280.9" cy="775.4" r="0.69" fill="#b097ef"/>
<circle cx="304.8" cy="775.4" r="1.20" fill="#b097ef"/>
<circle cx="328.7" cy="775.4" r="0.77" fill="#6a44f5"/>
<circle cx="113.6" cy="780" r="1.00" fill="#6a44f5"/>
<circle cx="137.5" cy="780" r="0.50" fill="#b097ef"/>
<circle cx="161.4" cy="780" r="0.85" fill="#9a78f1"/>
<circle cx="185.3" cy="780" r="0.65" fill="#b097ef"/>
<circle cx="209.2" cy="780" r="0.90" fill="#9a78f1"/>
<circle cx="233.1" cy="780" r="1.00" fill="#b097ef"/>
<circle cx="257" cy="780" r="0.65" fill="#b097ef"/>
<circle cx="280.9" cy="780" r="0.69" fill="#b097ef"/>
<circle cx="304.8" cy="780" r="0.72" fill="#b097ef"/>
<circle cx="328.7" cy="780" r="0.77" fill="#b097ef"/>
<circle cx="113.6" cy="784.6" r="0.80" fill="#b097ef"/>
<circle cx="137.5" cy="784.6" r="0.99" fill="#9a78f1"/>
<circle cx="161.4" cy="784.6" r="0.76" fill="#b097ef"/>
<circle cx="185.3" cy="784.6" r="0.55" fill="#1b0cf4"/>
<circle cx="209.2" cy="784.6" r="0.90" fill="#9a78f1"/>
<circle cx="233.1" cy="784.6" r="0.80" fill="#b097ef"/>
<circle cx="257" cy="784.6" r="0.90" fill="#b097ef"/>
<circle cx="280.9" cy="784.6" r="0.80" fill="#b097ef"/>
<circle cx="304.8" cy="784.6" r="1.08" fill="#b097ef"/>
<circle cx="328.7" cy="784.6" r="0.55" fill="#b097ef"/>
<circle cx="113.6" cy="789.1" r="0.60" fill="#b097ef"/>
<circle cx="137.5" cy="789.1" r="0.54" fill="#b097ef"/>
<circle cx="161.4" cy="789.1" r="0.66" fill="#b097ef"/>
<circle cx="185.3" cy="789.1" r="0.60" fill="#b097ef"/>
<circle cx="209.2" cy="789.1" r="1.00" fill="#9a78f1"/>
<circle cx="233.1" cy="789.1" r="0.65" fill="#b097ef"/>
<circle cx="257" cy="789.1" r="0.80" fill="#b097ef"/>
<circle cx="280.9" cy="789.1" r="1.03" fill="#b097ef"/>
<circle cx="304.8" cy="789.1" r="0.78" fill="#b097ef"/>
<circle cx="328.7" cy="789.1" r="1.10" fill="#b097ef"/>
<circle cx="113.6" cy="793.7" r="0.65" fill="#9a78f1"/>
<circle cx="137.5" cy="793.7" r="0.54" fill="#6a44f5"/>
<circle cx="161.4" cy="793.7" r="4.00" fill="#6a44f5"/>
<circle cx="185.3" cy="793.7" r="4.00" fill="#6a44f5"/>
<circle cx="209.2" cy="793.7" r="0.70" fill="#b097ef"/>
<circle cx="233.1" cy="793.7" r="1.00" fill="#b097ef"/>
<circle cx="257" cy="793.7" r="0.80" fill="#9a78f1"/>
<circle cx="280.9" cy="793.7" r="1.03" fill="#b097ef"/>
<circle cx="304.8" cy="793.7" r="0.78" fill="#b097ef"/>
<circle cx="328.7" cy="793.7" r="0.61" fill="#b097ef"/>
<circle cx="113.6" cy="798.3" r="4.50" fill="#9a78f1"/>
<circle cx="137.5" cy="798.3" r="2.50" fill="#b097ef"/>
<circle cx="161.4" cy="798.3" r="3.00" fill="#6a44f5"/>
<circle cx="185.3" cy="798.3" r="4.40" fill="#6a44f5"/>
<circle cx="209.2" cy="798.3" r="4.00" fill="#9a78f1"/>
<circle cx="233.1" cy="798.3" r="3.80" fill="#9a78f1"/>
<circle cx="257" cy="798.3" r="2.70" fill="#cdc4e6"/>
<circle cx="280.9" cy="798.3" r="5.80" fill="#9a78f1"/>
<circle cx="304.8" cy="798.3" r="6.20" fill="#cdc4e6"/>
<circle cx="328.7" cy="798.3" r="5.50" fill="#9a78f1"/>
<circle cx="113.6" cy="802.9" r="1.50" fill="#b097ef"/>
<circle cx="137.5" cy="802.9" r="0.50" fill="#b097ef"/>
<circle cx="161.4" cy="802.9" r="2.20" fill="#6a44f5"/>
<circle cx="185.3" cy="802.9" r="3.00" fill="#6a44f5"/>
<circle cx="209.2" cy="802.9" r="2.00" fill="#b097ef"/>
<circle cx="233.1" cy="802.9" r="1.50" fill="#b097ef"/>
<circle cx="257" cy="802.9" r="0.70" fill="#9a78f1"/>
<circle cx="280.9" cy="802.9" r="2.50" fill="#b097ef"/>
<circle cx="304.8" cy="802.9" r="2.50" fill="#b097ef"/>
<circle cx="328.7" cy="802.9" r="2.00" fill="#b097ef"/>
<circle cx="113.6" cy="807.5" r="1.50" fill="#b097ef"/>
<circle cx="137.5" cy="807.5" r="0.81" fill="#b097ef"/>
<circle cx="161.4" cy="807.5" r="1.50" fill="#b097ef"/>
<circle cx="185.3" cy="807.5" r="2.40" fill="#6a44f5"/>
<circle cx="209.2" cy="807.5" r="1.50" fill="#b097ef"/>
<circle cx="233.1" cy="807.5" r="0.60" fill="#b097ef"/>
<circle cx="257" cy="807.5" r="0.90" fill="#9a78f1"/>
<circle cx="280.9" cy="807.5" r="1.80" fill="#b097ef"/>
<circle cx="304.8" cy="807.5" r="1.80" fill="#b097ef"/>
<circle cx="328.7" cy="807.5" r="0.66" fill="#9a78f1"/>
<circle cx="113.6" cy="812" r="2.20" fill="#b097ef"/>
<circle cx="137.5" cy="812" r="1.30" fill="#b097ef"/>
<circle cx="161.4" cy="812" r="1.50" fill="#b097ef"/>
<circle cx="185.3" cy="812" r="0.65" fill="#b097ef"/>
<circle cx="209.2" cy="812" r="0.55" fill="#b097ef"/>
<circle cx="233.1" cy="812" r="0.80" fill="#9a78f1"/>
<circle cx="257" cy="812" r="0.70" fill="#b097ef"/>
<circle cx="280.9" cy="812" r="2.30" fill="#b097ef"/>
<circle cx="304.8" cy="812" r="2.30" fill="#b097ef"/>
<circle cx="328.7" cy="812" r="1.80" fill="#b097ef"/>
<circle cx="113.6" cy="816.6" r="3.00" fill="#b097ef"/>
<circle cx="137.5" cy="816.6" r="2.20" fill="#9a78f1"/>
<circle cx="161.4" cy="816.6" r="2.50" fill="#9a78f1"/>
<circle cx="185.3" cy="816.6" r="2.50" fill="#b097ef"/>
<circle cx="209.2" cy="816.6" r="1.50" fill="#b097ef"/>
<circle cx="233.1" cy="816.6" r="3.00" fill="#6a44f5"/>
<circle cx="257" cy="816.6" r="1.60" fill="#b097ef"/>
<circle cx="280.9" cy="816.6" r="3.00" fill="#b097ef"/>
<circle cx="304.8" cy="816.6" r="3.20" fill="#b097ef"/>
<circle cx="328.7" cy="816.6" r="2.50" fill="#b097ef"/>
<circle cx="113.6" cy="821.2" r="1.50" fill="#b097ef"/>
<circle cx="137.5" cy="821.2" r="0.63" fill="#b097ef"/>
<circle cx="161.4" cy="821.2" r="1.50" fill="#b097ef"/>
<circle cx="185.3" cy="821.2" r="1.50" fill="#b097ef"/>
<circle cx="209.2" cy="821.2" r="2.30" fill="#6a44f5"/>
<circle cx="233.1" cy="821.2" r="0.70" fill="#b097ef"/>
<circle cx="257" cy="821.2" r="0.90" fill="#b097ef"/>
<circle cx="280.9" cy="821.2" r="3.30" fill="#b097ef"/>
<circle cx="304.8" cy="821.2" r="3.50" fill="#b097ef"/>
<circle cx="328.7" cy="821.2" r="2.70" fill="#b097ef"/>
<circle cx="113.6" cy="825.8" r="0.90" fill="#9a78f1"/>
<circle cx="137.5" cy="825.8" r="0.90" fill="#9a78f1"/>
<circle cx="161.4" cy="825.8" r="1.30" fill="#1b0cf4"/>
<circle cx="185.3" cy="825.8" r="1.30" fill="#b097ef"/>
<circle cx="209.2" cy="825.8" r="0.60" fill="#6a44f5"/>
<circle cx="233.1" cy="825.8" r="0.60" fill="#b097ef"/>
<circle cx="257" cy="825.8" r="0.80" fill="#6a44f5"/>
<circle cx="280.9" cy="825.8" r="0.57" fill="#b097ef"/>
<circle cx="304.8" cy="825.8" r="1.20" fill="#b097ef"/>
<circle cx="328.7" cy="825.8" r="0.99" fill="#b097ef"/>
<circle cx="113.6" cy="830.3" r="0.55" fill="#b097ef"/>
<circle cx="137.5" cy="830.3" r="0.50" fill="#b097ef"/>
<circle cx="161.4" cy="830.3" r="0.62" fill="#9a78f1"/>
<circle cx="185.3" cy="830.3" r="0.50" fill="#b097ef"/>
<circle cx="209.2" cy="830.3" r="0.60" fill="#b097ef"/>
<circle cx="233.1" cy="830.3" r="0.70" fill="#b097ef"/>
<circle cx="257" cy="830.3" r="0.50" fill="#9a78f1"/>
<circle cx="280.9" cy="830.3" r="0.69" fill="#b097ef"/>
<circle cx="304.8" cy="830.3" r="0.78" fill="#b097ef"/>
<circle cx="328.7" cy="830.3" r="1.21" fill="#b097ef"/>
<circle cx="113.6" cy="834.9" r="0.90" fill="#b097ef"/>
<circle cx="137.5" cy="834.9" r="0.72" fill="#6a44f5"/>
<circle cx="161.4" cy="834.9" r="1.50" fill="#1b0cf4"/>
<circle cx="185.3" cy="834.9" r="0.55" fill="#9a78f1"/>
<circle cx="209.2" cy="834.9" r="0.70" fill="#9a78f1"/>
<circle cx="233.1" cy="834.9" r="0.50" fill="#6a44f5"/>
<circle cx="257" cy="834.9" r="0.55" fill="#b097ef"/>
<circle cx="280.9" cy="834.9" r="1.50" fill="#b097ef"/>
<circle cx="304.8" cy="834.9" r="1.80" fill="#b097ef"/>
<circle cx="328.7" cy="834.9" r="0.88" fill="#b097ef"/>
<circle cx="113.6" cy="839.5" r="0.80" fill="#9a78f1"/>
<circle cx="137.5" cy="839.5" r="0.50" fill="#b097ef"/>
<circle cx="161.4" cy="839.5" r="1.20" fill="#1b0cf4"/>
<circle cx="185.3" cy="839.5" r="0.90" fill="#1b0cf4"/>
<circle cx="209.2" cy="839.5" r="0.65" fill="#b097ef"/>
<circle cx="233.1" cy="839.5" r="0.55" fill="#b097ef"/>
<circle cx="257" cy="839.5" r="0.90" fill="#b097ef"/>
<circle cx="280.9" cy="839.5" r="0.92" fill="#b097ef"/>
<circle cx="304.8" cy="839.5" r="1.20" fill="#b097ef"/>
<circle cx="328.7" cy="839.5" r="0.72" fill="#b097ef"/>
<circle cx="113.6" cy="844.1" r="1.30" fill="#b097ef"/>
<circle cx="137.5" cy="844.1" r="0.99" fill="#9a78f1"/>
<circle cx="161.4" cy="844.1" r="0.57" fill="#b097ef"/>
<circle cx="185.3" cy="844.1" r="0.65" fill="#b097ef"/>
<circle cx="209.2" cy="844.1" r="1.10" fill="#b097ef"/>
<circle cx="233.1" cy="844.1" r="1.10" fill="#b097ef"/>
<circle cx="257" cy="844.1" r="0.65" fill="#9a78f1"/>
<circle cx="280.9" cy="844.1" r="1.50" fill="#b097ef"/>
<circle cx="304.8" cy="844.1" r="1.50" fill="#b097ef"/>
<circle cx="328.7" cy="844.1" r="0.72" fill="#6a44f5"/>
<circle cx="113.6" cy="848.7" r="0.60" fill="#b097ef"/>
<circle cx="137.5" cy="848.7" r="0.81" fill="#b097ef"/>
<circle cx="161.4" cy="848.7" r="1.60" fill="#1b0cf4"/>
<circle cx="185.3" cy="848.7" r="1.30" fill="#6a44f5"/>
<circle cx="209.2" cy="848.7" r="0.70" fill="#b097ef"/>
<circle cx="233.1" cy="848.7" r="1.00" fill="#b097ef"/>
<circle cx="257" cy="848.7" r="0.65" fill="#9a78f1"/>
<circle cx="280.9" cy="848.7" r="0.57" fill="#b097ef"/>
<circle cx="304.8" cy="848.7" r="1.20" fill="#b097ef"/>
<circle cx="328.7" cy="848.7" r="0.88" fill="#b097ef"/>
<circle cx="113.6" cy="853.2" r="1.50" fill="#1b0cf4"/>
<circle cx="137.5" cy="853.2" r="0.54" fill="#9a78f1"/>
<circle cx="161.4" cy="853.2" r="0.57" fill="#b097ef"/>
<circle cx="185.3" cy="853.2" r="0.65" fill="#b097ef"/>
<circle cx="209.2" cy="853.2" r="0.55" fill="#b097ef"/>
<circle cx="233.1" cy="853.2" r="0.60" fill="#b097ef"/>
<circle cx="257" cy="853.2" r="0.60" fill="#9a78f1"/>
<circle cx="280.9" cy="853.2" r="1.15" fill="#9a78f1"/>
<circle cx="304.8" cy="853.2" r="1.50" fill="#b097ef"/>
<circle cx="328.7" cy="853.2" r="0.99" fill="#9a78f1"/>
<circle cx="113.6" cy="857.8" r="0.55" fill="#b097ef"/>
<circle cx="137.5" cy="857.8" r="0.45" fill="#b097ef"/>
<circle cx="161.4" cy="857.8" r="0.62" fill="#b097ef"/>
<circle cx="185.3" cy="857.8" r="0.70" fill="#b097ef"/>
<circle cx="209.2" cy="857.8" r="0.55" fill="#9a78f1"/>
<circle cx="233.1" cy="857.8" r="1.00" fill="#6a44f5"/>
<circle cx="257" cy="857.8" r="0.60" fill="#b097ef"/>
<circle cx="280.9" cy="857.8" r="1.50" fill="#6a44f5"/>
<circle cx="304.8" cy="857.8" r="1.50" fill="#b097ef"/>
<circle cx="328.7" cy="857.8" r="1.10" fill="#b097ef"/>
<circle cx="113.6" cy="862.4" r="0.70" fill="#b097ef"/>
<circle cx="137.5" cy="862.4" r="0.50" fill="#b097ef"/>
<circle cx="161.4" cy="862.4" r="0.95" fill="#1b0cf4"/>
<circle cx="185.3" cy="862.4" r="2.70" fill="#1b0cf4"/>
<circle cx="209.2" cy="862.4" r="1.00" fill="#b097ef"/>
<circle cx="233.1" cy="862.4" r="0.80" fill="#6a44f5"/>
<circle cx="257" cy="862.4" r="0.70" fill="#b097ef"/>
<circle cx="280.9" cy="862.4" r="1.15" fill="#6a44f5"/>
<circle cx="304.8" cy="862.4" r="1.20" fill="#b097ef"/>
<circle cx="328.7" cy="862.4" r="1.21" fill="#b097ef"/>
<circle cx="113.6" cy="867" r="0.80" fill="#9a78f1"/>
<circle cx="137.5" cy="867" r="0.63" fill="#b097ef"/>
<circle cx="161.4" cy="867" r="0.66" fill="#9a78f1"/>
<circle cx="185.3" cy="867" r="0.55" fill="#b097ef"/>
<circle cx="209.2" cy="867" r="0.50" fill="#b097ef"/>
<circle cx="233.1" cy="867" r="0.90" fill="#9a78f1"/>
<circle cx="257" cy="867" r="0.70" fill="#b097ef"/>
<circle cx="280.9" cy="867" r="1.26" fill="#9a78f1"/>
<circle cx="304.8" cy="867" r="0.72" fill="#b097ef"/>
<circle cx="328.7" cy="867" r="0.77" fill="#9a78f1"/>
<circle cx="113.6" cy="871.5" r="4.20" fill="#9a78f1"/>
<circle cx="137.5" cy="871.5" r="2.50" fill="#b097ef"/>
<circle cx="161.4" cy="871.5" r="2.70" fill="#6a44f5"/>
<circle cx="185.3" cy="871.5" r="3.20" fill="#9a78f1"/>
<circle cx="209.2" cy="871.5" r="3.50" fill="#9a78f1"/>
<circle cx="233.1" cy="871.5" r="3.40" fill="#9a78f1"/>
<circle cx="257" cy="871.5" r="2.80" fill="#b097ef"/>
<circle cx="280.9" cy="871.5" r="4.50" fill="#cdc4e6"/>
<circle cx="304.8" cy="871.5" r="5.20" fill="#b097ef"/>
<circle cx="328.7" cy="871.5" r="4.40" fill="#9a78f1"/>
<circle cx="113.6" cy="876.1" r="0.80" fill="#b097ef"/>
<circle cx="137.5" cy="876.1" r="0.72" fill="#b097ef"/>
<circle cx="161.4" cy="876.1" r="0.76" fill="#b097ef"/>
<circle cx="185.3" cy="876.1" r="0.80" fill="#9a78f1"/>
<circle cx="209.2" cy="876.1" r="0.70" fill="#b097ef"/>
<circle cx="233.1" cy="876.1" r="0.50" fill="#b097ef"/>
<circle cx="257" cy="876.1" r="0.90" fill="#1b0cf4"/>
<circle cx="280.9" cy="876.1" r="0.75" fill="#b097ef"/>
<circle cx="304.8" cy="876.1" r="1.20" fill="#9a78f1"/>
<circle cx="328.7" cy="876.1" r="0.77" fill="#b097ef"/>
<circle cx="113.6" cy="880.7" r="0.55" fill="#b097ef"/>
<circle cx="137.5" cy="880.7" r="0.59" fill="#b097ef"/>
<circle cx="161.4" cy="880.7" r="0.95" fill="#9a78f1"/>
<circle cx="185.3" cy="880.7" r="0.90" fill="#b097ef"/>
<circle cx="209.2" cy="880.7" r="0.50" fill="#9a78f1"/>
<circle cx="233.1" cy="880.7" r="1.00" fill="#b097ef"/>
<circle cx="257" cy="880.7" r="0.80" fill="#b097ef"/>
<circle cx="280.9" cy="880.7" r="1.26" fill="#b097ef"/>
<circle cx="304.8" cy="880.7" r="0.84" fill="#b097ef"/>
<circle cx="328.7" cy="880.7" r="0.55" fill="#b097ef"/>
<circle cx="113.6" cy="885.3" r="0.90" fill="#9a78f1"/>
<circle cx="137.5" cy="885.3" r="0.50" fill="#b097ef"/>
<circle cx="161.4" cy="885.3" r="0.57" fill="#6a44f5"/>
<circle cx="185.3" cy="885.3" r="1.50" fill="#1b0cf4"/>
<circle cx="209.2" cy="885.3" r="0.60" fill="#b097ef"/>
<circle cx="233.1" cy="885.3" r="0.50" fill="#b097ef"/>
<circle cx="257" cy="885.3" r="0.80" fill="#9a78f1"/>
<circle cx="280.9" cy="885.3" r="1.15" fill="#b097ef"/>
<circle cx="304.8" cy="885.3" r="0.96" fill="#b097ef"/>
<circle cx="328.7" cy="885.3" r="0.99" fill="#6a44f5"/>
<circle cx="113.6" cy="889.9" r="0.60" fill="#6a44f5"/>
<circle cx="137.5" cy="889.9" r="0.50" fill="#9a78f1"/>
<circle cx="161.4" cy="889.9" r="0.47" fill="#9a78f1"/>
<circle cx="185.3" cy="889.9" r="0.80" fill="#9a78f1"/>
<circle cx="209.2" cy="889.9" r="0.70" fill="#b097ef"/>
<circle cx="233.1" cy="889.9" r="0.90" fill="#6a44f5"/>
<circle cx="257" cy="889.9" r="1.00" fill="#9a78f1"/>
<circle cx="280.9" cy="889.9" r="0.69" fill="#b097ef"/>
<circle cx="304.8" cy="889.9" r="0.96" fill="#b097ef"/>
<circle cx="328.7" cy="889.9" r="0.55" fill="#9a78f1"/>
<circle cx="113.6" cy="894.4" r="0.65" fill="#b097ef"/>
<circle cx="137.5" cy="894.4" r="0.90" fill="#b097ef"/>
<circle cx="161.4" cy="894.4" r="0.57" fill="#9a78f1"/>
<circle cx="185.3" cy="894.4" r="0.80" fill="#b097ef"/>
<circle cx="209.2" cy="894.4" r="0.90" fill="#b097ef"/>
<circle cx="233.1" cy="894.4" r="0.65" fill="#b097ef"/>
<circle cx="257" cy="894.4" r="0.90" fill="#b097ef"/>
<circle cx="280.9" cy="894.4" r="0.75" fill="#b097ef"/>
<circle cx="304.8" cy="894.4" r="0.78" fill="#b097ef"/>
<circle cx="328.7" cy="894.4" r="0.61" fill="#b097ef"/>
<circle cx="113.6" cy="899" r="0.70" fill="#b097ef"/>
<circle cx="137.5" cy="899" r="0.59" fill="#b097ef"/>
<circle cx="161.4" cy="899" r="1.60" fill="#1b0cf4"/>
<circle cx="185.3" cy="899" r="0.70" fill="#9a78f1"/>
<circle cx="209.2" cy="899" r="0.65" fill="#b097ef"/>
<circle cx="233.1" cy="899" r="0.65" fill="#b097ef"/>
<circle cx="257" cy="899" r="0.55" fill="#9a78f1"/>
<circle cx="280.9" cy="899" r="0.63" fill="#9a78f1"/>
<circle cx="304.8" cy="899" r="0.66" fill="#9a78f1"/>
<circle cx="328.7" cy="899" r="0.66" fill="#9a78f1"/>
<circle cx="113.6" cy="903.6" r="1.10" fill="#b097ef"/>
<circle cx="137.5" cy="903.6" r="0.50" fill="#b097ef"/>
<circle cx="161.4" cy="903.6" r="1.04" fill="#b097ef"/>
<circle cx="185.3" cy="903.6" r="0.90" fill="#b097ef"/>
<circle cx="209.2" cy="903.6" r="0.65" fill="#b097ef"/>
<circle cx="233.1" cy="903.6" r="0.55" fill="#b097ef"/>
<circle cx="257" cy="903.6" r="0.50" fill="#b097ef"/>
<circle cx="280.9" cy="903.6" r="2.00" fill="#b097ef"/>
<circle cx="304.8" cy="903.6" r="1.60" fill="#b097ef"/>
<circle cx="328.7" cy="903.6" r="0.55" fill="#b097ef"/>
<circle cx="113.6" cy="908.2" r="0.50" fill="#9a78f1"/>
<circle cx="137.5" cy="908.2" r="0.59" fill="#b097ef"/>
<circle cx="161.4" cy="908.2" r="0.52" fill="#9a78f1"/>
<circle cx="185.3" cy="908.2" r="0.90" fill="#6a44f5"/>
<circle cx="209.2" cy="908.2" r="1.20" fill="#1b0cf4"/>
<circle cx="233.1" cy="908.2" r="0.55" fill="#b097ef"/>
<circle cx="257" cy="908.2" r="0.65" fill="#9a78f1"/>
<circle cx="280.9" cy="908.2" r="0.92" fill="#b097ef"/>
<circle cx="304.8" cy="908.2" r="0.96" fill="#9a78f1"/>
<circle cx="328.7" cy="908.2" r="0.55" fill="#9a78f1"/>
<circle cx="113.6" cy="912.7" r="2.60" fill="#9a78f1"/>
<circle cx="137.5" cy="912.7" r="1.50" fill="#b097ef"/>
<circle cx="161.4" cy="912.7" r="2.00" fill="#b097ef"/>
<circle cx="185.3" cy="912.7" r="2.30" fill="#6a44f5"/>
<circle cx="209.2" cy="912.7" r="2.00" fill="#b097ef"/>
<circle cx="233.1" cy="912.7" r="2.20" fill="#9a78f1"/>
<circle cx="257" cy="912.7" r="1.60" fill="#b097ef"/>
<circle cx="280.9" cy="912.7" r="3.60" fill="#9a78f1"/>
<circle cx="304.8" cy="912.7" r="4.00" fill="#9a78f1"/>
<circle cx="328.7" cy="912.7" r="2.60" fill="#cdc4e6"/>
<circle cx="113.6" cy="917.3" r="0.55" fill="#b097ef"/>
<circle cx="137.5" cy="917.3" r="0.99" fill="#9a78f1"/>
<circle cx="161.4" cy="917.3" r="0.76" fill="#9a78f1"/>
<circle cx="185.3" cy="917.3" r="0.50" fill="#9a78f1"/>
<circle cx="209.2" cy="917.3" r="0.80" fill="#b097ef"/>
<circle cx="233.1" cy="917.3" r="1.10" fill="#b097ef"/>
<circle cx="257" cy="917.3" r="0.55" fill="#b097ef"/>
<circle cx="280.9" cy="917.3" r="0.75" fill="#b097ef"/>
<circle cx="304.8" cy="917.3" r="0.78" fill="#b097ef"/>
<circle cx="328.7" cy="917.3" r="0.55" fill="#9a78f1"/>
<circle cx="113.6" cy="921.9" r="1.00" fill="#b097ef"/>
<circle cx="137.5" cy="921.9" r="0.45" fill="#b097ef"/>
<circle cx="161.4" cy="921.9" r="0.52" fill="#9a78f1"/>
<circle cx="185.3" cy="921.9" r="0.60" fill="#b097ef"/>
<circle cx="209.2" cy="921.9" r="0.70" fill="#9a78f1"/>
<circle cx="233.1" cy="921.9" r="0.90" fill="#9a78f1"/>
<circle cx="257" cy="921.9" r="0.70" fill="#9a78f1"/>
<circle cx="280.9" cy="921.9" r="0.80" fill="#6a44f5"/>
<circle cx="304.8" cy="921.9" r="0.60" fill="#b097ef"/>
<circle cx="328.7" cy="921.9" r="0.66" fill="#b097ef"/>
<circle cx="113.6" cy="926.5" r="3.30" fill="#b097ef"/>
<circle cx="137.5" cy="926.5" r="2.40" fill="#b097ef"/>
<circle cx="161.4" cy="926.5" r="3.30" fill="#9a78f1"/>
<circle cx="185.3" cy="926.5" r="3.80" fill="#9a78f1"/>
<circle cx="209.2" cy="926.5" r="4.20" fill="#b097ef"/>
<circle cx="233.1" cy="926.5" r="3.00" fill="#b097ef"/>
<circle cx="257" cy="926.5" r="2.60" fill="#b097ef"/>
<circle cx="280.9" cy="926.5" r="6.00" fill="#b097ef"/>
<circle cx="304.8" cy="926.5" r="7.30" fill="#1b0cf4"/>
<circle cx="328.7" cy="926.5" r="6.00" fill="#9a78f1"/>
<circle cx="113.6" cy="931.1" r="1.00" fill="#9a78f1"/>
<circle cx="137.5" cy="931.1" r="0.45" fill="#b097ef"/>
<circle cx="161.4" cy="931.1" r="1.80" fill="#1b0cf4"/>
<circle cx="185.3" cy="931.1" r="0.90" fill="#9a78f1"/>
<circle cx="209.2" cy="931.1" r="0.60" fill="#b097ef"/>
<circle cx="233.1" cy="931.1" r="1.00" fill="#b097ef"/>
<circle cx="257" cy="931.1" r="1.10" fill="#b097ef"/>
<circle cx="280.9" cy="931.1" r="0.92" fill="#b097ef"/>
<circle cx="304.8" cy="931.1" r="2.50" fill="#b097ef"/>
<circle cx="328.7" cy="931.1" r="0.77" fill="#9a78f1"/>
<circle cx="113.6" cy="935.6" r="0.50" fill="#b097ef"/>
<circle cx="137.5" cy="935.6" r="0.72" fill="#9a78f1"/>
<circle cx="161.4" cy="935.6" r="1.50" fill="#6a44f5"/>
<circle cx="185.3" cy="935.6" r="1.50" fill="#b097ef"/>
<circle cx="209.2" cy="935.6" r="0.80" fill="#b097ef"/>
<circle cx="233.1" cy="935.6" r="1.50" fill="#b097ef"/>
<circle cx="257" cy="935.6" r="0.90" fill="#1b0cf4"/>
<circle cx="280.9" cy="935.6" r="2.00" fill="#b097ef"/>
<circle cx="304.8" cy="935.6" r="2.50" fill="#b097ef"/>
<circle cx="328.7" cy="935.6" r="2.40" fill="#1b0cf4"/>
<circle cx="113.6" cy="940.2" r="4.00" fill="#9a78f1"/>
<circle cx="137.5" cy="940.2" r="3.30" fill="#6a44f5"/>
<circle cx="161.4" cy="940.2" r="2.20" fill="#6a44f5"/>
<circle cx="185.3" cy="940.2" r="1.80" fill="#9a78f1"/>
<circle cx="209.2" cy="940.2" r="2.00" fill="#9a78f1"/>
<circle cx="233.1" cy="940.2" r="3.00" fill="#9a78f1"/>
<circle cx="257" cy="940.2" r="1.80" fill="#b097ef"/>
<circle cx="280.9" cy="940.2" r="2.50" fill="#b097ef"/>
<circle cx="304.8" cy="940.2" r="3.00" fill="#b097ef"/>
<circle cx="328.7" cy="940.2" r="2.00" fill="#b097ef"/>
<circle cx="113.6" cy="944.8" r="0.80" fill="#b097ef"/>
<circle cx="137.5" cy="944.8" r="0.90" fill="#b097ef"/>
<circle cx="161.4" cy="944.8" r="1.50" fill="#6a44f5"/>
<circle cx="185.3" cy="944.8" r="2.20" fill="#1b0cf4"/>
<circle cx="209.2" cy="944.8" r="1.80" fill="#b097ef"/>
<circle cx="233.1" cy="944.8" r="0.50" fill="#b097ef"/>
<circle cx="257" cy="944.8" r="0.50" fill="#9a78f1"/>
<circle cx="280.9" cy="944.8" r="2.00" fill="#b097ef"/>
<circle cx="304.8" cy="944.8" r="2.80" fill="#b097ef"/>
<circle cx="328.7" cy="944.8" r="0.66" fill="#b097ef"/>
<circle cx="113.6" cy="949.4" r="2.20" fill="#b097ef"/>
<circle cx="137.5" cy="949.4" r="1.80" fill="#b097ef"/>
<circle cx="161.4" cy="949.4" r="3.00" fill="#6a44f5"/>
<circle cx="185.3" cy="949.4" r="3.50" fill="#1b0cf4"/>
<circle cx="209.2" cy="949.4" r="2.00" fill="#9a78f1"/>
<circle cx="233.1" cy="949.4" r="1.50" fill="#b097ef"/>
<circle cx="257" cy="949.4" r="1.50" fill="#b097ef"/>
<circle cx="280.9" cy="949.4" r="2.80" fill="#b097ef"/>
<circle cx="304.8" cy="949.4" r="3.00" fill="#b097ef"/>
<circle cx="328.7" cy="949.4" r="2.20" fill="#b097ef"/>
<g stroke="#e8232b" fill="none">
<rect x="199.1" y="263.3" width="17.3" height="121.6" stroke-width="1.4"/>
<rect x="199.1" y="609" width="17.3" height="103" stroke-width="1.4"/>
<rect x="199.1" y="787.2" width="17.3" height="70.6" stroke-width="1.4"/>
<path d="M94.7 151L199 263.3M92 404L199 384.9M80 494L199 609M79.6 692.7L199 712M74 751.2L199 787.2M80.6 905L199 857.8" stroke-width="0.9"/>
</g>
<text x="55.9" y="156.9" font-family="Liberation Sans, Arial, sans-serif" font-weight="700" font-size="9.9" textLength="35.3" lengthAdjust="spacingAndGlyphs">Pycard</text>
<text x="67.4" y="167.2" font-family="Liberation Sans, Arial, sans-serif" font-weight="700" font-size="9.9" textLength="23.8" lengthAdjust="spacingAndGlyphs">Qprt</text>
<text x="39.7" y="177.4" font-family="Liberation Sans, Arial, sans-serif" font-weight="700" font-size="9.9" textLength="51.5" lengthAdjust="spacingAndGlyphs">Rap1gap2</text>
<text x="60.7" y="187.7" font-family="Liberation Sans, Arial, sans-serif" font-weight="700" font-size="9.9" textLength="30.5" lengthAdjust="spacingAndGlyphs">Rasa3</text>
<text x="49.5" y="198" font-family="Liberation Sans, Arial, sans-serif" font-weight="700" font-size="9.9" textLength="41.7" lengthAdjust="spacingAndGlyphs">Rasgrp2</text>
<text x="61" y="208.2" font-family="Liberation Sans, Arial, sans-serif" font-weight="700" font-size="9.9" textLength="30.2" lengthAdjust="spacingAndGlyphs">Rgs19</text>
<text x="61.5" y="218.5" font-family="Liberation Sans, Arial, sans-serif" font-weight="700" font-size="9.9" textLength="29.7" lengthAdjust="spacingAndGlyphs">S1pr1</text>
<text x="61.5" y="228.8" font-family="Liberation Sans, Arial, sans-serif" font-weight="700" font-size="9.9" textLength="29.7" lengthAdjust="spacingAndGlyphs">S1pr4</text>
<text x="55.7" y="239.1" font-family="Liberation Sans, Arial, sans-serif" font-weight="700" font-size="9.9" textLength="35.5" lengthAdjust="spacingAndGlyphs">Samd3</text>
<text x="73.4" y="249.3" font-family="Liberation Sans, Arial, sans-serif" font-weight="700" font-size="9.9" textLength="17.8" lengthAdjust="spacingAndGlyphs">Sell</text>
<text x="62.3" y="259.6" font-family="Liberation Sans, Arial, sans-serif" font-weight="700" font-size="9.9" textLength="28.9" lengthAdjust="spacingAndGlyphs">Sfxn3</text>
<text x="52.7" y="269.9" font-family="Liberation Sans, Arial, sans-serif" font-weight="700" font-size="9.9" textLength="38.5" lengthAdjust="spacingAndGlyphs">Sh2d1a</text>
<text x="52.2" y="280.1" font-family="Liberation Sans, Arial, sans-serif" font-weight="700" font-size="9.9" textLength="39" lengthAdjust="spacingAndGlyphs">Sh3bp5</text>
<text x="64.7" y="290.4" font-family="Liberation Sans, Arial, sans-serif" font-weight="700" font-size="9.9" textLength="26.5" lengthAdjust="spacingAndGlyphs">Sidt1</text>
<text x="63.9" y="300.7" font-family="Liberation Sans, Arial, sans-serif" font-weight="700" font-size="9.9" textLength="27.3" lengthAdjust="spacingAndGlyphs">Sike1</text>
<text x="55.4" y="310.9" font-family="Liberation Sans, Arial, sans-serif" font-weight="700" font-size="9.9" textLength="35.8" lengthAdjust="spacingAndGlyphs">Slamf6</text>
<text x="45" y="321.2" font-family="Liberation Sans, Arial, sans-serif" font-weight="700" font-size="9.9" textLength="46.2" lengthAdjust="spacingAndGlyphs">Smpdl3b</text>
<text x="71.9" y="331.5" font-family="Liberation Sans, Arial, sans-serif" font-weight="700" font-size="9.9" textLength="19.3" lengthAdjust="spacingAndGlyphs">Spn</text>
<text x="53" y="341.8" font-family="Liberation Sans, Arial, sans-serif" font-weight="700" font-size="9.9" textLength="38.2" lengthAdjust="spacingAndGlyphs">St3gal1</text>
<text x="50.6" y="352" font-family="Liberation Sans, Arial, sans-serif" font-weight="700" font-size="9.9" textLength="40.6" lengthAdjust="spacingAndGlyphs">Stard10</text>
<text x="70.3" y="362.3" font-family="Liberation Sans, Arial, sans-serif" font-weight="700" font-size="9.9" textLength="20.9" lengthAdjust="spacingAndGlyphs">Tcf7</text>
<text x="72.3" y="372.6" font-family="Liberation Sans, Arial, sans-serif" font-weight="700" font-size="9.9" textLength="18.9" lengthAdjust="spacingAndGlyphs">Tlr1</text>
<text x="46.1" y="382.8" font-family="Liberation Sans, Arial, sans-serif" font-weight="700" font-size="9.9" textLength="45.1" lengthAdjust="spacingAndGlyphs">Tmem71</text>
<text x="48.2" y="393.1" font-family="Liberation Sans, Arial, sans-serif" font-weight="700" font-size="9.9" textLength="43" lengthAdjust="spacingAndGlyphs">Tnfrsf26</text>
<text x="47.9" y="403.4" font-family="Liberation Sans, Arial, sans-serif" font-weight="700" font-size="9.9" textLength="43.3" lengthAdjust="spacingAndGlyphs">Traf3ip3</text>
<text x="52.2" y="509.2" font-family="Liberation Sans, Arial, sans-serif" font-weight="700" font-size="10.3" textLength="30.8" lengthAdjust="spacingAndGlyphs">H3f3b</text>
<text x="46.9" y="518.2" font-family="Liberation Sans, Arial, sans-serif" font-weight="700" font-size="10.3" textLength="36.1" lengthAdjust="spacingAndGlyphs">Havcr2</text>
<text x="59.7" y="527.2" font-family="Liberation Sans, Arial, sans-serif" font-weight="700" font-size="10.3" textLength="23.3" lengthAdjust="spacingAndGlyphs">Hip1</text>
<text x="51.1" y="536.1" font-family="Liberation Sans, Arial, sans-serif" font-weight="700" font-size="10.3" textLength="31.9" lengthAdjust="spacingAndGlyphs">Hpgds</text>
<text x="31.8" y="545.1" font-family="Liberation Sans, Arial, sans-serif" font-weight="700" font-size="10.3" textLength="51.2" lengthAdjust="spacingAndGlyphs">Hsp90aa1</text>
<text x="51.4" y="554.1" font-family="Liberation Sans, Arial, sans-serif" font-weight="700" font-size="10.3" textLength="31.6" lengthAdjust="spacingAndGlyphs">Hspa5</text>
<text x="63.1" y="563.1" font-family="Liberation Sans, Arial, sans-serif" font-weight="700" font-size="10.3" textLength="19.9" lengthAdjust="spacingAndGlyphs">Icos</text>
<text x="63.9" y="572.1" font-family="Liberation Sans, Arial, sans-serif" font-weight="700" font-size="10.3" textLength="19.1" lengthAdjust="spacingAndGlyphs">Ifng</text>
<text x="58.6" y="581" font-family="Liberation Sans, Arial, sans-serif" font-weight="700" font-size="10.3" textLength="24.4" lengthAdjust="spacingAndGlyphs">Ifrd1</text>
<text x="59.9" y="590" font-family="Liberation Sans, Arial, sans-serif" font-weight="700" font-size="10.3" textLength="23.1" lengthAdjust="spacingAndGlyphs">Il21r</text>
<text x="59.9" y="599" font-family="Liberation Sans, Arial, sans-serif" font-weight="700" font-size="10.3" textLength="23.1" lengthAdjust="spacingAndGlyphs">Il4ra</text>
<text x="46.2" y="608" font-family="Liberation Sans, Arial, sans-serif" font-weight="700" font-size="10.3" textLength="36.8" lengthAdjust="spacingAndGlyphs">Inpp4b</text>
<text x="65.5" y="617" font-family="Liberation Sans, Arial, sans-serif" font-weight="700" font-size="10.3" textLength="17.5" lengthAdjust="spacingAndGlyphs">Irf4</text>
<text x="63.1" y="625.9" font-family="Liberation Sans, Arial, sans-serif" font-weight="700" font-size="10.3" textLength="19.9" lengthAdjust="spacingAndGlyphs">Isy1</text>
<text x="57.5" y="634.9" font-family="Liberation Sans, Arial, sans-serif" font-weight="700" font-size="10.3" textLength="25.5" lengthAdjust="spacingAndGlyphs">Itga1</text>
<text x="65.8" y="643.9" font-family="Liberation Sans, Arial, sans-serif" font-weight="700" font-size="10.3" textLength="17.2" lengthAdjust="spacingAndGlyphs">Jun</text>
<text x="59.1" y="652.9" font-family="Liberation Sans, Arial, sans-serif" font-weight="700" font-size="10.3" textLength="23.9" lengthAdjust="spacingAndGlyphs">Junb</text>
<text x="46.2" y="661.9" font-family="Liberation Sans, Arial, sans-serif" font-weight="700" font-size="10.3" textLength="36.8" lengthAdjust="spacingAndGlyphs">Kdm6b</text>
<text x="60.7" y="670.8" font-family="Liberation Sans, Arial, sans-serif" font-weight="700" font-size="10.3" textLength="22.3" lengthAdjust="spacingAndGlyphs">Litaf</text>
<text x="47.9" y="679.8" font-family="Liberation Sans, Arial, sans-serif" font-weight="700" font-size="10.3" textLength="35.1" lengthAdjust="spacingAndGlyphs">Lmnb1</text>
<text x="46.6" y="688.8" font-family="Liberation Sans, Arial, sans-serif" font-weight="700" font-size="10.3" textLength="36.4" lengthAdjust="spacingAndGlyphs">Ly6g5b</text>
<text x="30.2" y="761.7" font-family="Liberation Sans, Arial, sans-serif" font-weight="700" font-size="10.3" textLength="49.6" lengthAdjust="spacingAndGlyphs">Ppp1r15a</text>
<text x="50.6" y="770.7" font-family="Liberation Sans, Arial, sans-serif" font-weight="700" font-size="10.3" textLength="29.2" lengthAdjust="spacingAndGlyphs">Prdx6</text>
<text x="43.7" y="779.6" font-family="Liberation Sans, Arial, sans-serif" font-weight="700" font-size="10.3" textLength="36.1" lengthAdjust="spacingAndGlyphs">Ptp4a1</text>
<text x="55.4" y="788.6" font-family="Liberation Sans, Arial, sans-serif" font-weight="700" font-size="10.3" textLength="24.4" lengthAdjust="spacingAndGlyphs">Opct</text>
<text x="57" y="797.5" font-family="Liberation Sans, Arial, sans-serif" font-weight="700" font-size="10.3" textLength="22.8" lengthAdjust="spacingAndGlyphs">Rbpj</text>
<text x="56.5" y="806.5" font-family="Liberation Sans, Arial, sans-serif" font-weight="700" font-size="10.3" textLength="23.3" lengthAdjust="spacingAndGlyphs">Rgs1</text>
<text x="49.8" y="815.4" font-family="Liberation Sans, Arial, sans-serif" font-weight="700" font-size="10.3" textLength="30" lengthAdjust="spacingAndGlyphs">Rgs10</text>
<text x="49.8" y="824.4" font-family="Liberation Sans, Arial, sans-serif" font-weight="700" font-size="10.3" textLength="30" lengthAdjust="spacingAndGlyphs">Rgs16</text>
<text x="53" y="833.3" font-family="Liberation Sans, Arial, sans-serif" font-weight="700" font-size="10.3" textLength="26.8" lengthAdjust="spacingAndGlyphs">Rhob</text>
<text x="43.4" y="842.2" font-family="Liberation Sans, Arial, sans-serif" font-weight="700" font-size="10.3" textLength="36.4" lengthAdjust="spacingAndGlyphs">Rnf149</text>
<text x="55.9" y="851.2" font-family="Liberation Sans, Arial, sans-serif" font-weight="700" font-size="10.3" textLength="23.9" lengthAdjust="spacingAndGlyphs">Rrad</text>
<text x="59.4" y="860.2" font-family="Liberation Sans, Arial, sans-serif" font-weight="700" font-size="10.3" textLength="20.4" lengthAdjust="spacingAndGlyphs">Sik1</text>
<text x="59.4" y="869.1" font-family="Liberation Sans, Arial, sans-serif" font-weight="700" font-size="10.3" textLength="20.4" lengthAdjust="spacingAndGlyphs">Ski1</text>
<text x="41" y="878.1" font-family="Liberation Sans, Arial, sans-serif" font-weight="700" font-size="10.3" textLength="38.8" lengthAdjust="spacingAndGlyphs">Slc16a6</text>
<text x="46.9" y="887" font-family="Liberation Sans, Arial, sans-serif" font-weight="700" font-size="10.3" textLength="32.9" lengthAdjust="spacingAndGlyphs">Slc7a5</text>
<text x="37.8" y="896" font-family="Liberation Sans, Arial, sans-serif" font-weight="700" font-size="10.3" textLength="42" lengthAdjust="spacingAndGlyphs">Spty2d1</text>
</g>
<g id="pb">
<text x="347.5" y="15.8" font-family="Liberation Sans, Arial, sans-serif" font-weight="700" font-size="20" textLength="12" lengthAdjust="spacingAndGlyphs">b</text>
<text x="391.3" y="22.8" font-family="Liberation Sans, Arial, sans-serif" font-weight="700" font-size="13.2" textLength="132.3" lengthAdjust="spacingAndGlyphs">C5 re-cluster analysis</text>
<path d="M379.4 34.2V183.5H540.7" stroke="#8a8a8a" stroke-width="0.5" fill="none"/>
<text x="376.8" y="67" font-family="Liberation Sans, Arial, sans-serif" font-size="3.8" fill="#555" text-anchor="end">2</text>
<path d="M378.3 65.8H379.4" stroke="#8a8a8a" stroke-width="0.4"/>
<text x="376.8" y="108.1" font-family="Liberation Sans, Arial, sans-serif" font-size="3.8" fill="#555" text-anchor="end">0</text>
<path d="M378.3 106.9H379.4" stroke="#8a8a8a" stroke-width="0.4"/>
<text x="376.8" y="148.8" font-family="Liberation Sans, Arial, sans-serif" font-size="3.8" fill="#555" text-anchor="end">-2</text>
<path d="M378.3 147.6H379.4" stroke="#8a8a8a" stroke-width="0.4"/>
<text x="412.5" y="188" font-family="Liberation Sans, Arial, sans-serif" font-size="3.8" fill="#555" text-anchor="middle">-2.5</text>
<path d="M412.5 183.5V184.6" stroke="#8a8a8a" stroke-width="0.4"/>
<text x="447.8" y="188" font-family="Liberation Sans, Arial, sans-serif" font-size="3.8" fill="#555" text-anchor="middle">0.0</text>
<path d="M447.8 183.5V184.6" stroke="#8a8a8a" stroke-width="0.4"/>
<text x="483" y="188" font-family="Liberation Sans, Arial, sans-serif" font-size="3.8" fill="#555" text-anchor="middle">2.5</text>
<path d="M483 183.5V184.6" stroke="#8a8a8a" stroke-width="0.4"/>
<text x="518.3" y="188" font-family="Liberation Sans, Arial, sans-serif" font-size="3.8" fill="#555" text-anchor="middle">5.0</text>
<path d="M518.3 183.5V184.6" stroke="#8a8a8a" stroke-width="0.4"/>
<text x="460" y="193.6" font-family="Liberation Sans, Arial, sans-serif" font-size="4.7" fill="#444" text-anchor="middle">UMAP_1</text>
<text transform="translate(370,106.9) rotate(-90)" font-family="Liberation Sans, Arial, sans-serif" font-size="4.7" fill="#444" text-anchor="middle">UMAP_2</text>
<path d="M437.3 129.6h.01M439.6 131.8h.01M395.5 93.2h.01M437.3 90.7h.01M398.4 83.9h.01M443.4 54.8h.01M404.4 67.8h.01M424.8 116.7h.01M427.6 44.7h.01M453.2 69.8h.01M432.6 137.7h.01M419.5 57h.01M411.4 73.9h.01M407.4 88.4h.01M452.7 98.8h.01M428.3 142.5h.01M411.3 102.2h.01M438.6 117.4h.01M427.9 110.2h.01M463.9 86.3h.01M411.8 108.8h.01M410.7 85.9h.01M438.6 103.2h.01M432.4 121.4h.01M417.1 56.4h.01M446.6 76.4h.01M449.2 68h.01M446.7 99.8h.01M394.4 76.5h.01M421.8 133.2h.01M407.8 121.5h.01M457 101.6h.01M441.4 73h.01M433 100.7h.01M446.4 113.1h.01M420.3 71.3h.01M422.3 109.8h.01M397.7 71.3h.01M417 77.2h.01M414 44h.01M420.9 86.5h.01M430.7 45.2h.01M428.5 110.6h.01M450.1 124.9h.01M442.8 58.8h.01M442.2 78.1h.01M428 135.8h.01M410.9 70.3h.01M415.1 68.5h.01M455.1 98.8h.01M460.4 97.1h.01M427.3 127.2h.01M412.7 81.9h.01M427.6 95.3h.01M449.5 69.2h.01M439 89.7h.01M401.2 70.4h.01M429.8 108h.01M442.7 106.9h.01M428.1 77.4h.01M431.5 59.9h.01M402.8 90.5h.01M400.9 86.1h.01M410.4 79.8h.01M423 67.3h.01M412 51.6h.01M426.6 64h.01M422.3 41.6h.01M415.8 105.5h.01M396 94.7h.01M434.3 95.9h.01M405.2 106.7h.01M425.9 61.7h.01M447.1 86.8h.01M427.3 77.5h.01M444.4 92.8h.01M457.5 100h.01M415.2 89.3h.01M447.4 76.2h.01M444.4 107.9h.01M415.2 44.7h.01M436.2 99.5h.01M427.3 67.3h.01M454.2 82.3h.01M411.6 73.9h.01M429.4 58h.01M428.3 140.3h.01M461.6 114h.01M461 102.3h.01M412.4 127.5h.01M459.1 100.4h.01M410.4 126.8h.01M453.1 72.2h.01M440.8 117.4h.01M438.5 126.9h.01M439.2 115.3h.01M421.5 51.6h.01M434.1 144.3h.01M446.8 129.1h.01M459.6 127.6h.01M438 70.3h.01M418.7 46.5h.01M434.9 122.8h.01M399.9 106.1h.01M455.9 124.6h.01M406.7 78.3h.01M396.4 77.8h.01M451.9 137.1h.01M421.1 132.9h.01M436.2 73.8h.01M443.2 48.3h.01M431.6 101h.01M466 118.3h.01M464.8 86.8h.01M458.1 123.7h.01M446 101.8h.01M423 80.1h.01M424.8 139.1h.01M411.5 47.9h.01M437 90h.01M446.4 137.3h.01M426.1 84.4h.01M414.3 96.7h.01M422.9 102.7h.01M466.9 89.9h.01M429.9 140.2h.01M455.3 112.6h.01M452.8 114h.01M453.9 127.6h.01M458.4 123.2h.01M419.5 96h.01M424.2 125.5h.01M444.9 73.3h.01M451.9 139.9h.01M445 57.7h.01M434.8 114.7h.01M433.9 106.5h.01M457.5 96.2h.01M415.2 119.6h.01M429.9 97.5h.01M410.1 57.6h.01M403.7 89.3h.01M405.7 49.3h.01M443.2 56.5h.01M420.1 114.2h.01M408.1 125.5h.01M420.5 118h.01M422.9 106.3h.01M433.6 92.2h.01M396.8 69.2h.01M441.2 133h.01M423.8 113.7h.01M439.4 108.4h.01M437.7 50.6h.01M435.9 85h.01M416.9 67.4h.01M407.4 67.1h.01M430.1 142.7h.01M461 85h.01M438.1 59.8h.01M394.7 72.9h.01M444.8 132.5h.01M421.6 61.8h.01M417.5 63.2h.01M402.7 93.6h.01M415.3 69.3h.01M406.1 70.5h.01M446.4 131.1h.01M441.3 142.2h.01M404.2 108.1h.01M406.2 94.5h.01M438.6 111.2h.01M449.1 70.4h.01M404.8 94.1h.01M431.3 68.1h.01M456.9 129.8h.01M407.1 110.3h.01M434.7 46.1h.01M433.8 83.7h.01M416.6 130.8h.01M431.6 75.2h.01M446.7 111.3h.01M452.6 106.7h.01M429.8 55.8h.01M422.5 100h.01M412.3 131.5h.01M414.5 62.8h.01M402.3 107.4h.01M426.4 73h.01M414.6 67.3h.01M413.5 94.2h.01M423.2 118.3h.01M429 98.4h.01M449.1 127.5h.01M446.8 96.8h.01M420.3 67.7h.01M429.6 117.4h.01M432.7 78.1h.01M400.4 62.9h.01M446.5 122.8h.01M427.6 52.2h.01M428.2 102h.01M414.5 109.2h.01M419.3 67.1h.01M414 121.7h.01M431 62.7h.01M418.4 123.9h.01M441.8 79.1h.01M457.6 77.4h.01M419.7 128.2h.01M430 106h.01M423.3 61.3h.01M405.5 93.7h.01M448.5 60.4h.01M459 92h.01M410.5 107.2h.01M435.4 61.8h.01M401.2 109.6h.01M412.2 112.3h.01M398.9 98h.01M406.3 58.3h.01M427.1 100.4h.01M410.7 61.5h.01M422.6 47.4h.01M447.5 105.8h.01M464.6 106.9h.01M441.8 99.7h.01M421.2 54.4h.01M461.8 99.8h.01M415.9 60.1h.01M462 99.8h.01M413.4 118.4h.01M462.1 83.8h.01M436.4 76.4h.01M427.2 128h.01M465.9 85.4h.01M435.4 119.5h.01M430.9 118.5h.01M439.3 59h.01M408.2 96.7h.01M451.6 96.9h.01M442.5 53.3h.01M436.4 69.6h.01M436.5 103.4h.01M408.6 91.4h.01M409.8 107.3h.01M408.8 82.3h.01M430.1 69.9h.01M448.5 68.3h.01M451.9 96.9h.01M407.7 92.1h.01M409.9 86.3h.01M438.9 139.2h.01M435 136.5h.01M429.5 53.4h.01M402.9 115.5h.01M405.1 117.5h.01M455.6 99h.01M423.8 85.6h.01M434.3 80.9h.01M415.7 83.9h.01M449 68.7h.01M429.4 56.6h.01M407.9 59.2h.01M432.8 116.6h.01M433.5 74.4h.01M441.6 77.7h.01M442.2 99.9h.01M425 42.3h.01M412.8 120.6h.01M442.8 141.9h.01M420.7 75.9h.01M462.1 100.4h.01M464.9 96.7h.01M433.1 117.8h.01M410.3 83.3h.01M416.5 88.9h.01M443.6 73h.01M433.8 74.2h.01M428.4 41.9h.01M427.8 100.1h.01M418.6 126.4h.01M445.5 128.9h.01M455.9 106.8h.01M418.9 60.6h.01M421.8 78.7h.01M432.5 75.6h.01M455.2 60.9h.01M450.6 72.8h.01M433.9 123.4h.01M421.3 56.9h.01M438.8 83.7h.01M400.4 106.2h.01M404.4 76.9h.01M444.8 100h.01M439.9 141.9h.01M434.9 70.3h.01M435.5 87.2h.01M395.5 71.3h.01M423.6 139.2h.01M424.2 84.6h.01M427.7 125.7h.01M443.6 136.7h.01M455.5 130.1h.01M431.9 106.5h.01M419.6 89.9h.01M398.1 86.4h.01M406.4 78.6h.01M457.4 94h.01M460.3 110.2h.01M456.6 116.7h.01M425.2 121.3h.01M419 77.2h.01M459.1 131.8h.01M426.7 138h.01M440.9 63.1h.01M440.8 103.8h.01M436.4 78.5h.01M406.1 100.7h.01M455 111.6h.01M452.8 121.4h.01M409.9 97.3h.01M446.6 121.7h.01M439.4 109.4h.01M446.2 139.9h.01M398.4 101.3h.01M465.7 88.5h.01M401.4 104.6h.01M400.3 81.8h.01M447 135.7h.01M447.1 111.7h.01M454 93.3h.01M411.7 94.8h.01M436.3 81.4h.01M413.2 85.2h.01M398.9 74.3h.01M425.6 81.1h.01M442.6 132.2h.01M437.8 89.9h.01M402.1 70h.01M431.6 63.3h.01M431 58.3h.01M433.6 89.5h.01M448.4 75.3h.01M424.8 103.6h.01M444 136.3h.01M420.4 76.6h.01M428.2 110.7h.01M442.5 114.2h.01M426.5 141.5h.01M461.6 83.7h.01M408.2 104.1h.01M424 43.4h.01M420.2 52.1h.01M450.2 128.9h.01M438.2 50.8h.01M462 109.9h.01M427.6 111.8h.01M456.3 76.4h.01M425.6 74.3h.01M435 45h.01M448.9 61.4h.01M435.5 49h.01M407 80h.01M434 48.8h.01M438.5 69.1h.01M453 77.2h.01M440.6 84.1h.01M458.7 75.8h.01M443.5 139.7h.01M439 115h.01M416.7 103.8h.01M398.9 104.1h.01M408.8 56.5h.01M415.1 127.8h.01M427.7 50.2h.01M455.8 68.3h.01M424.9 103.6h.01M402.5 59.7h.01M426 130.1h.01M436.3 49.6h.01M455.5 87.3h.01M443 91.5h.01M431.3 60h.01M406.9 76.8h.01M428.5 115.4h.01M422.1 135.5h.01M412.3 77.8h.01M450.2 102.7h.01M415.3 62.4h.01M404 58.5h.01M459.7 116.3h.01M464.6 96.6h.01M445 115.3h.01M448.9 79.3h.01M449.4 139h.01M397.6 68.9h.01M418 120.4h.01M452 76.5h.01M445.6 87.2h.01M432.9 73.1h.01M430.4 92.9h.01M458.4 133h.01M404.9 114h.01M439.3 123.2h.01M457.9 109.7h.01M439.5 60.7h.01M416.8 133.8h.01M446.2 61.1h.01M460.4 104.8h.01M404.1 118.8h.01M421.6 129.5h.01M410.5 73.7h.01M401.4 94.8h.01M446 67.5h.01M419.2 137.1h.01M465.1 101.2h.01M411.1 60.9h.01M406.7 114.9h.01M446.4 59.1h.01M428.5 83.3h.01M429.9 111.3h.01M458.4 70.3h.01M455.8 119.3h.01M423.1 89.6h.01M415.4 126.9h.01M413.8 75h.01M425 65h.01M407.1 89.7h.01M457.1 79.7h.01M429.9 50.8h.01M415.7 133.8h.01M412.7 53.8h.01M434.2 113.8h.01M397.4 79.4h.01M428.7 62.4h.01M454.6 116.8h.01M437.2 75.9h.01M424.3 72.2h.01M431.1 104.7h.01M433.1 124.8h.01M461.4 73.5h.01M445.7 117.1h.01M443.3 81.1h.01M429.6 126.1h.01M449.3 105.6h.01M419.6 117.1h.01M446.8 82.2h.01M453.2 137h.01M405 115.5h.01M401.9 64.1h.01M430.8 112.6h.01M422.6 57.6h.01M400.6 85h.01M424.1 66h.01M419.8 135.9h.01M411.5 92.9h.01M413.9 77.2h.01M429.2 82.4h.01M433.8 55.6h.01M421.6 137.8h.01M436.3 118.4h.01M458.6 102.6h.01M420.3 50.7h.01M411.2 124.1h.01M450.7 107.1h.01M399.4 59h.01M403.3 66.5h.01M425.8 60.3h.01M454.4 69.2h.01M426.7 122.9h.01M430.3 62.6h.01M455.7 133.3h.01M404.7 92.3h.01M403.6 54.9h.01M450.6 111.3h.01M455 100.6h.01M399.1 101h.01M408.9 62.7h.01M415.6 120.8h.01M439.1 140.6h.01M426.2 45.5h.01M456.9 122.4h.01M421.9 56.6h.01M449.5 56.9h.01M417.1 47.1h.01M401.4 59.6h.01M459.4 119h.01M412.9 56.7h.01M433.3 106.4h.01M398.5 71.7h.01M435.2 116.8h.01M437 107.9h.01M403.5 52h.01M429.8 62.1h.01M424.6 80.7h.01M434.7 65.3h.01M458.7 86.3h.01M448.3 110.2h.01M455.9 99.4h.01M397.7 85.4h.01M464.6 96h.01M447.9 104.9h.01M411.4 75.1h.01M427.6 130h.01M449.5 135.8h.01M451.5 135.9h.01M430.7 55.5h.01M463.3 93.3h.01M457 92.7h.01M425 100.9h.01M402.3 66.7h.01M407.8 81.6h.01M403.9 97.1h.01M448.7 138.6h.01M461.7 83.2h.01M448.4 80.6h.01M440 89.2h.01M419.3 98.9h.01M407.1 112.4h.01M416 61.3h.01M428 113.8h.01M420.3 112.6h.01M452.5 131.2h.01M407.4 95.7h.01M451.5 130.9h.01M443.7 116.1h.01M399.9 84.4h.01M458.5 77.4h.01M458.2 68.7h.01M414.4 51.6h.01M448 97.8h.01M464.1 88h.01M415.4 54.3h.01M437.6 123.7h.01M454.8 123.8h.01M449.7 86.2h.01M446.6 95h.01M421.5 136.6h.01M430 58.3h.01M442.9 100.4h.01M458.5 125.2h.01M399.8 111.3h.01M450.7 61.8h.01M402.1 108.2h.01M442.3 102.9h.01M404.6 85h.01M442.3 116.5h.01M465.5 90.4h.01M409.6 47.1h.01M452.6 82.6h.01M420.1 62.1h.01M431.2 46.3h.01M434.9 96.5h.01M447.4 129.3h.01M429.6 96.9h.01M435.1 49.2h.01M424.8 97.2h.01M443.9 63.7h.01M452.2 100.6h.01M398.8 65.3h.01M404.7 104.4h.01M442.4 115.8h.01M444 70.4h.01M458.7 111h.01M446.4 106.2h.01M408.6 110.4h.01M403.2 65.7h.01M424.1 100.1h.01M426.6 81.6h.01M411.3 104.7h.01M407.1 58.5h.01M444.1 133.5h.01M413.7 62.5h.01M462.1 125.1h.01M422 87.4h.01M447.4 142.8h.01M442.6 123.8h.01M426.2 45.9h.01M402.3 65.5h.01M442.4 93.8h.01M459.8 77.7h.01M439.2 93.5h.01M446.5 141.5h.01M447.7 132.5h.01M451.3 68.8h.01M443.1 76h.01M435.3 97.8h.01M427.1 76.3h.01M457.8 77.8h.01M454.6 131.9h.01M452.5 120.6h.01M462.8 114.2h.01M448 54.7h.01M463.1 84.9h.01M397.4 85h.01M403.8 99.7h.01M398.5 74.3h.01M439.7 96.5h.01M411.1 90h.01M429.4 96.2h.01M428.8 85h.01M435 48.5h.01M420.7 100.7h.01M416.7 76.6h.01M422.8 103h.01M454.8 80.4h.01M428.2 107.2h.01M414.4 47.3h.01M433.8 77.9h.01M424 117.2h.01M426.8 73.1h.01M395.8 68.9h.01M430.3 88.6h.01M443.6 97.9h.01M411.6 58.5h.01M406.8 94.9h.01M414.6 121h.01M400.7 59h.01M415.4 48.5h.01M451.4 61.2h.01M427.5 84.5h.01M406 53.9h.01M407.3 121.1h.01M457.7 133.8h.01M408.2 115.7h.01M438.4 121h.01M426.2 119.7h.01M455.3 106.7h.01M457.4 80.4h.01M453.5 67h.01M437 44.5h.01M424.1 66.1h.01M440.1 125.7h.01M448.4 91.6h.01M447.3 54h.01M427.5 136.3h.01M423.2 44h.01M428.3 55.2h.01M463.7 114.5h.01M430.6 133h.01M421.7 125.3h.01M443.4 84.8h.01M401.6 92.4h.01M395.4 90h.01M410.9 127.2h.01M405.8 49.7h.01M448 101.8h.01M436.4 142.3h.01M449.2 90.3h.01M410.2 45.3h.01M449.6 120.3h.01M409.3 56.8h.01M418.2 48.8h.01M438.3 118.7h.01M461.4 92.5h.01M442.4 116.8h.01M455.6 76.4h.01M401.5 76.9h.01M400.9 74.8h.01M431.5 105.9h.01M435.6 94.4h.01M426.7 109.9h.01M455.9 111.2h.01M457 77.2h.01M438.8 138.4h.01M439.9 106.1h.01M432.3 125.7h.01M413.9 63.6h.01M425.4 77.7h.01M446.1 75.5h.01M432 84.3h.01M433 69.4h.01M440.2 51.6h.01M415.9 71.6h.01M446.5 90.2h.01M439.3 78.4h.01M407.8 63.9h.01M418.3 76.6h.01M441.2 103.6h.01M451.4 83.7h.01M407.5 65.5h.01M436.1 105.3h.01M464 88.6h.01M464.3 123.1h.01M420.9 130.9h.01M460.3 122.1h.01M439.3 123.8h.01M419 93.6h.01M443.9 138.3h.01M434.8 124.9h.01M426 68.4h.01M442.8 113.8h.01M421.1 117.7h.01M408.7 69.8h.01M434.1 83.1h.01M403.9 57.4h.01M434 101.5h.01M422 102.4h.01M405.8 111.3h.01M443.6 99.9h.01M417.6 99.5h.01M443.1 125.8h.01M440.2 100.1h.01M423.2 123.8h.01M450.8 71.7h.01M448.6 99.3h.01M419.7 54.9h.01M444.3 50.1h.01M434.7 77.7h.01M451 73.7h.01M437.8 113.7h.01M436.8 72.4h.01M450.1 101.8h.01M447.6 71.3h.01M426.2 79.4h.01M414.8 106.4h.01M449.8 130.7h.01M427.1 108.5h.01M454 82.9h.01M434 97.3h.01M408.7 66.8h.01M455.9 91.9h.01M419.4 56h.01M443.3 128.1h.01M402.2 73.7h.01M459.9 123.9h.01M455 70.5h.01M437.5 65.1h.01M439.7 77.1h.01M445.6 130.9h.01M436.8 82.2h.01M435 102h.01M421.1 103.3h.01M453.1 131.2h.01M395.4 76.1h.01M414.5 123.5h.01M465.7 87.7h.01M443.2 127.3h.01M396.6 98.4h.01M397.5 104.8h.01M415 79.7h.01M433.5 70.9h.01M454.4 86.4h.01M449.7 141h.01M429.5 124.8h.01M425 132h.01M453.2 91.7h.01M458.4 127.9h.01M458 85.6h.01M439.4 127.6h.01M399.7 83.9h.01M447.3 109h.01M465.1 120.5h.01M442.8 106.1h.01M403.6 94.6h.01M435.1 83.2h.01M438.2 113.3h.01M406.4 80.8h.01M410.9 126.4h.01M403.2 57.3h.01M446.4 81.1h.01M448.5 75.7h.01M466.6 99.9h.01M435.8 96h.01M433.8 120.7h.01M459.9 74.4h.01M414 116.8h.01M438.9 50.7h.01M408.8 66.7h.01M448.4 106.3h.01M407.7 64.1h.01M428.9 44.2h.01M444.4 83.6h.01M466.2 107.2h.01M415.3 87.2h.01M418.3 70.5h.01M441.3 123.2h.01M401.3 94.3h.01M463.1 105.2h.01M407.5 72.8h.01M405.6 56.6h.01M455.4 88.5h.01M407.8 57.7h.01M417.6 78h.01M457.5 73.1h.01M442.6 125.5h.01M444.6 82.7h.01M410 127.7h.01M440.6 74.8h.01M420.8 62.9h.01M405 58.9h.01M447.2 107.1h.01M442 117.5h.01M444.6 93.7h.01M417.5 116.4h.01M459.3 104.8h.01M451.9 72.5h.01M422.5 131.5h.01M420 104.8h.01M426.8 94.9h.01M419.9 76.3h.01M418 135.8h.01M421.7 45.6h.01M405.2 65.9h.01M408.4 47.3h.01M452.6 132.3h.01M432.3 118.9h.01M433 54.1h.01M439.4 49h.01M414.8 84.4h.01M457.2 89.5h.01M421.1 67.3h.01M433.7 93.8h.01M454.8 127h.01M447.8 89h.01M440.1 136.5h.01M435.7 91h.01M465.1 118.5h.01M443.2 85.6h.01M427 128.1h.01M429.7 125.3h.01M414.7 101.1h.01M441.9 95.3h.01M440.2 104.6h.01M402.4 68.6h.01M441 138.9h.01M420.3 64.1h.01M416.5 98.1h.01M449.9 70h.01M445.7 95.7h.01M415.4 65.3h.01M421.2 69.9h.01M428.2 46.7h.01M459 108.7h.01M452.5 130.1h.01M429.6 47.3h.01M436.6 108h.01M408.7 63.7h.01M445.6 107.3h.01M419 87.3h.01M414.7 77.3h.01M439 126.4h.01M399.9 91.8h.01M462.2 93.4h.01M441.9 119h.01M403.9 65.2h.01M397.7 67.6h.01M444 118.7h.01M415.8 73.2h.01M445.7 110.7h.01M422.7 45.8h.01M410.6 46h.01M428.9 64.1h.01M430.3 135.8h.01M460.1 99.6h.01M439.2 97.1h.01M417.3 94.8h.01M455 65h.01M417.7 102.4h.01M455.8 112.8h.01M409.4 94.4h.01M415.9 58h.01M428.4 76h.01M454.2 101.1h.01M414.6 100.3h.01M417.4 74.1h.01M430 127.7h.01M412.1 51.3h.01M421.9 121.9h.01M455.1 63h.01M419.8 83.9h.01M407.7 111.3h.01M432.6 102.9h.01M462.2 78.2h.01M454.2 113.7h.01M412.1 77.6h.01M463.3 103.9h.01M424.9 58.6h.01M454.2 104.2h.01M466.9 113.1h.01M451 96.8h.01M427.4 73.9h.01M440.6 99.4h.01M452.8 121.3h.01M433.2 72.8h.01M455.9 128.7h.01M416.8 111.1h.01M448.1 107.2h.01M441.9 86.6h.01M441.3 137.2h.01M448.3 55.4h.01M400.2 110.5h.01M411.8 80.2h.01M405.2 110.1h.01M424.9 75h.01M455.6 136.6h.01M463.3 114.9h.01M427.9 116.9h.01M439.9 128.1h.01M444.1 88.1h.01M436.8 66.7h.01M455.6 128.1h.01M428 113.7h.01M410.1 123h.01M440.1 58.9h.01M462 87.6h.01M397.2 69.9h.01M447.6 79.1h.01M438.9 50.3h.01M437.4 124.2h.01M422.5 118.3h.01M426 106.9h.01M449 139.8h.01M413.8 121h.01M446 57.8h.01M445.7 141.5h.01M429.5 41.9h.01M415 50.1h.01M431.3 67.4h.01M412.1 70h.01M433.5 75.3h.01M409.7 91h.01M432.4 63.4h.01M438.1 49h.01M436.8 77.2h.01M454.1 68.7h.01M408.6 59.3h.01M465.7 98.6h.01M406.1 88.8h.01M425.3 135.6h.01M424.8 44.5h.01M443.5 120.7h.01M435.6 109.1h.01M430.5 100.9h.01M429.5 68.3h.01M440.8 96.4h.01M424 70.4h.01M411.9 106.4h.01M429.1 42.7h.01M431.3 133.4h.01M443.9 66.3h.01M447.9 60.6h.01M431 140.4h.01M419 88.3h.01M397.7 75.9h.01M406.1 95.3h.01M409.7 124.6h.01M417.6 75h.01M424 120h.01M455.9 74.4h.01M463.9 121h.01M459.3 94.3h.01M409.4 118h.01M423.5 102.2h.01M398.3 94.5h.01M428 62h.01M448.1 134.9h.01M430.1 68.9h.01M447.3 51.8h.01M415.1 111h.01M409.8 47.5h.01M444.1 118.1h.01M427.5 135.2h.01M450.5 125h.01M402.9 100.5h.01M462.8 126.3h.01M456.9 85.8h.01M429.5 70.8h.01M447.2 66.7h.01M420 44.9h.01M419.9 136.2h.01M434.6 100.1h.01M398.2 101.1h.01M450.4 56.2h.01M396.9 98.7h.01M417 89.1h.01M400.9 65.1h.01M412.3 117.6h.01M437.4 120h.01M414.2 116.4h.01M421.7 98.8h.01M451.5 88.5h.01M413.1 51.4h.01M439.6 118.2h.01M416.1 94.6h.01M396.9 70.8h.01M449.1 128h.01M413.8 51h.01M412.8 53h.01M439.3 140.4h.01M436.7 85.7h.01M449.5 75.3h.01M440.8 97.7h.01M428.3 50.4h.01M453.2 115.8h.01M398.2 59.9h.01M426 135.5h.01M437.8 115.5h.01M450.4 117.4h.01M411.9 77.7h.01M445.1 110.9h.01M447.3 100.7h.01M430.3 128.8h.01M449.6 122.6h.01M404.6 120.1h.01M398.9 106.3h.01M417.1 101.1h.01M417.2 85.3h.01M438.9 103.7h.01M407.8 47.8h.01M419 114.8h.01M416.6 111.6h.01M415.1 65.3h.01M460.2 126.6h.01M428.1 91.8h.01M438.7 52.9h.01M423.2 129.6h.01M446 72.1h.01M417.1 109.1h.01M400.8 86.3h.01M414.4 44.2h.01M450.5 113.8h.01M439.4 51.4h.01M401 76.9h.01M424.6 139.7h.01M407.6 88.7h.01M440.3 107.4h.01M448.3 58.7h.01M451.8 92.5h.01M408.3 104.1h.01M419.7 135.3h.01M424.6 127.1h.01M451.2 68.6h.01M412.6 102.5h.01M417.8 124.4h.01M428.1 66.4h.01M422.7 120h.01M419.8 135.8h.01M411.7 91.2h.01M426.6 137.3h.01M456.2 124.5h.01M447 91.8h.01M464.5 101.7h.01M446.4 109.6h.01M450.2 97.6h.01M416.3 50.7h.01M452.2 58.6h.01M395.4 86.1h.01M466.3 111.4h.01M419.7 105.7h.01M417.8 45.7h.01M426 105.3h.01M443.3 55.4h.01M395.2 71.7h.01M439.8 93.6h.01M436.2 97.2h.01M413.3 55.7h.01M445.3 103.3h.01M452.3 126h.01M403 52.8h.01M419.8 137.7h.01M414.8 111.1h.01M437.5 117.6h.01M462.9 75.5h.01M421.5 73.4h.01M441.8 109.3h.01M423.2 133h.01M458.2 99.9h.01M426.1 85.2h.01M407.2 117.5h.01M406.2 82.8h.01M443.4 60.7h.01M427.3 123.4h.01M456.6 68.2h.01M448 67.3h.01M444.7 107.1h.01M417.6 127.1h.01M462.3 85.8h.01M426.9 55.7h.01M462.3 86.1h.01M412.8 121h.01M399.4 81.7h.01M410.1 127.8h.01M459.3 70.6h.01M411.4 77.9h.01M423.4 114.9h.01M449.3 60.2h.01M426.2 45.9h.01M459 82.6h.01M429.7 136.7h.01M439.9 133.2h.01M459.3 127.8h.01M413.6 99.7h.01M438 83.6h.01M453.1 66.6h.01M458.7 123.9h.01M395.8 79.3h.01M407.1 80.9h.01M438.7 84.2h.01M428.6 76.2h.01M433.8 110.4h.01M440.2 64h.01M421.5 68h.01M416.5 53h.01M456.6 108.1h.01M421.9 70.4h.01M414.7 73.5h.01M418.1 134.7h.01M458.5 66.2h.01M412.4 116.4h.01M430.5 48.5h.01M403.8 114.2h.01M411.7 129.3h.01M420.2 99.1h.01M425.7 73.5h.01M424.8 83.2h.01M455.7 83.2h.01M425.3 74.7h.01M410.8 72.9h.01M443.9 138.9h.01M456.4 93.8h.01M465 109.9h.01M434.5 85.6h.01M410.2 106.9h.01M413.6 51.7h.01M423.9 139h.01M440.9 108.9h.01M431.4 75.4h.01M449.7 123.5h.01M428.7 112.6h.01M448.5 72h.01M428.1 67h.01M441.5 76.6h.01M447.5 64.6h.01M458.7 76.6h.01M406.5 70.3h.01M437.8 62.2h.01M465.7 113.8h.01M430 50.6h.01M423.8 68.5h.01M403.5 111.8h.01M460.1 72.5h.01M456.1 124.4h.01M407.4 87.7h.01M441.9 107.6h.01M409.1 106.1h.01M437.2 124.3h.01M398.6 85.8h.01M416.3 85.2h.01M441.3 68.3h.01M460.7 71.2h.01M456.1 118.4h.01M450.3 80.6h.01M410.3 89.5h.01M447.6 92.8h.01M449.4 108.4h.01M405.7 69.9h.01M454.5 72h.01M419.7 136.7h.01M406.5 69.5h.01M440.8 56.1h.01M422.3 128.1h.01M433.6 143.6h.01M446.1 142.9h.01M434.8 94h.01M414.2 89.4h.01M419 95.3h.01M436 53.2h.01M405.5 51.5h.01M458.9 83.1h.01M430.2 90.9h.01M455.3 97.2h.01M448.5 82.2h.01M427.6 91.7h.01M409.5 125.1h.01M397.8 75.4h.01M447.1 90.5h.01M456.1 131.2h.01M465.9 115h.01M440.6 141.5h.01M410.8 95.4h.01M450.7 80.2h.01M424.8 81.2h.01M435.5 44.1h.01M461.7 114.8h.01M434.7 112.8h.01M421.2 129.2h.01M460 69.2h.01M457.9 83.8h.01M418.6 78.2h.01M417 56.5h.01M420.7 136.1h.01M435.9 112.2h.01M442.9 107.4h.01M398.3 76h.01M452.6 119.9h.01M403.3 82h.01M414.8 118.5h.01M439.7 91.8h.01M419.4 108.6h.01M425 67.6h.01M432.6 68.4h.01M456.3 106.8h.01M421.2 116.3h.01M426.1 68.5h.01M404.7 56.2h.01M410.6 109.9h.01M449.9 68.1h.01M438.3 104.1h.01M452.3 102.7h.01M460.6 108.2h.01M417.7 110.6h.01M396.8 98.2h.01M437.1 112.8h.01M431.9 122.1h.01M449.3 63.2h.01M420.9 105.4h.01M444.1 94.8h.01M437.9 54.9h.01M455.4 122.4h.01M457.6 99.7h.01M429.3 108.5h.01M417.9 50.1h.01M416.6 95.4h.01M412.1 66.5h.01M422 81.3h.01M432.3 90.7h.01M443.5 123.6h.01M438.3 106.3h.01M405.1 49.5h.01M428.2 118.1h.01M417.5 73.9h.01M414.6 124h.01M421.1 104.8h.01M458.5 102.7h.01M463.3 81h.01M456.7 108.7h.01M416.4 98.7h.01M410.8 64.6h.01M430.8 65.3h.01M454.5 66.5h.01M419.2 99.6h.01M419.4 98.1h.01M409.1 56.8h.01M394.5 77.3h.01M462.4 97.3h.01M430.3 75.6h.01M430.5 104.5h.01M399.7 78.2h.01M424 132.2h.01M420.4 130.2h.01M439 144.2h.01M429.5 94.6h.01M462.2 109.8h.01M440.9 57.3h.01M459.9 127.5h.01M424 76.6h.01M418.2 127.1h.01M438.3 91.2h.01M421.9 136.2h.01M450.4 86.9h.01M450.1 61.4h.01M440.6 58.8h.01M456.1 77.6h.01M452.3 73.8h.01M448.8 125.4h.01M412 101.5h.01M420.9 123.6h.01M413.8 84h.01M436.7 129.7h.01M408.6 98.2h.01M418.3 76.1h.01M411.9 92.4h.01M423.1 49.4h.01M426.1 55.6h.01M444.8 141.9h.01M409.4 96.5h.01M434.2 125.7h.01M410.9 50.5h.01M403.1 105.7h.01M445.6 124.8h.01M425.1 118.2h.01M421.4 132.4h.01M423.1 70.2h.01M446.5 137h.01M405.6 62.6h.01M403.4 66.2h.01M433.3 105.7h.01M429.1 101h.01M453 77.5h.01M402.8 53.4h.01M430.3 68.4h.01M429.1 108.9h.01M428 48.6h.01M410.9 101h.01M437.8 129.1h.01M410.6 48.1h.01M439.2 49.1h.01M413.7 110.9h.01M430.4 142.9h.01M441.7 109.9h.01M437.9 142.7h.01M436.6 66.2h.01M439.9 48.9h.01M420.2 106.5h.01M425.6 61.2h.01M464.1 119.4h.01M414.2 110.4h.01M412.7 82.3h.01M453.6 91.1h.01M429.5 97.3h.01M419 130.7h.01M426.9 133.3h.01M416.2 80.2h.01M460.7 90.6h.01M411.9 79.1h.01M453.2 135.1h.01M441.5 75.8h.01M403.2 79.1h.01M430.6 102.4h.01M428.5 132.8h.01M405.4 76.5h.01M447 106.1h.01M431.1 125.7h.01M419.8 135.5h.01M465.9 119.7h.01M445.9 139.5h.01M442.9 131.7h.01M428.2 101.2h.01M428 46.4h.01M439.7 138.5h.01M398.9 108.8h.01M454 98h.01M445.8 131.8h.01M424 45.3h.01M408 89h.01M430.2 76.3h.01M441.3 137.6h.01M404.2 120.3h.01M456 106.3h.01M432.1 95.1h.01M442.1 99.1h.01M422.4 121.7h.01M412.2 96.6h.01M414.2 59.9h.01M444.5 86.6h.01M406.3 97.1h.01M418.3 133.1h.01M451.9 137h.01M471.5 130.7h.01M468.3 102.7h.01M475.3 125.4h.01M483.4 113.2h.01M484.8 135.3h.01M469 114.8h.01M468.7 148.6h.01M471.6 133.9h.01M483.3 113.4h.01M472.1 124.2h.01M469.8 95.3h.01M468.3 124.1h.01M477.5 149.6h.01M461.4 127h.01M466.8 138.7h.01M481.5 120.3h.01M487.7 111.3h.01M471.8 99.2h.01M470.8 120.1h.01M481.4 140.9h.01M473.9 104.9h.01M473.3 110.3h.01M472.3 110.8h.01M469.1 117.1h.01M471.9 115h.01M465 120.6h.01M480.6 129.6h.01M471.6 97.6h.01M465.7 97h.01M470.9 112.5h.01M461.9 130h.01M463.8 105.8h.01M470.3 132.8h.01M490.6 111.7h.01M473.8 111h.01M474.4 115h.01M495.6 98.6h.01M475.1 103.9h.01M478.8 108.7h.01M480.6 98.7h.01M492.7 121.7h.01M462 130.5h.01M472.3 97.4h.01M479.5 108.8h.01M481.8 108.3h.01M483.2 120.7h.01M478.8 120.8h.01M473.1 111.6h.01M479.6 130.6h.01M472.8 157.8h.01M489.4 97.6h.01M484.6 116.8h.01M477.8 104h.01M489.1 103.4h.01M475.4 105.1h.01M491.3 140.3h.01M465.6 110h.01M478.9 110.4h.01M473.2 98.9h.01M478 98.6h.01M482.6 160.5h.01M473.4 147.2h.01M478.9 106.1h.01M473.3 101h.01M476.9 130.4h.01M483.3 113.1h.01M466.6 116.7h.01M489.2 123h.01M475.5 81.2h.01M472.6 127.7h.01M468.5 141.9h.01M471.5 102.6h.01M471.4 116.4h.01M483.9 108h.01M461.9 116.6h.01M480.1 145.3h.01M467.2 144.2h.01M481.3 126.1h.01M470 102.5h.01M468.5 134.5h.01M477.7 136.9h.01M490.3 118.4h.01M475.6 151.9h.01M465.7 110.1h.01M473.1 111.4h.01M477.1 103.3h.01M485.1 94h.01M469.6 88.2h.01M465 128.4h.01M481 114.6h.01M482.6 129h.01M471.5 117.4h.01M478.9 153.5h.01M472.5 124.6h.01M480.3 139.6h.01M479.3 137h.01M467.6 113.5h.01M460.8 117.2h.01M494.3 122.4h.01M476.7 122.8h.01M477.1 94.8h.01M470.6 115h.01M477.3 102.9h.01M475.2 105.2h.01M465.6 106.5h.01M469.7 132.9h.01M486.5 128.3h.01M474.3 108.3h.01M463.7 108.8h.01M488.3 138.4h.01M457.2 138.1h.01M455 143.4h.01M454.9 143.4h.01M447.4 140.4h.01M451.6 148.5h.01M442.8 150.2h.01M454.2 136.1h.01M455.2 141h.01M452.7 143.4h.01M449.3 126.8h.01M461.8 139.9h.01M471.4 143.1h.01M435.3 149.7h.01M448.2 144.3h.01M476.8 148.6h.01M444.3 139.3h.01M439.2 145.3h.01M460.5 132.1h.01M459.5 147.4h.01M462.9 134.8h.01M448.2 131.3h.01M442.3 142.5h.01M455.4 150.2h.01M457.7 137.5h.01M441 152.1h.01M456.6 139.8h.01M445.1 131.9h.01M461.2 132.5h.01M460.7 145h.01M451.3 127.4h.01M459 151h.01M446.9 130.2h.01M465.7 141.2h.01M448.9 149.6h.01M452.3 143.6h.01M451.1 134.2h.01M457.2 133.4h.01M437.6 135.9h.01M467.1 148.6h.01M476.3 147.8h.01M416.1 134.8h.01M402 136.2h.01M398.5 138.1h.01M401.9 134.8h.01M399.1 132.2h.01M411.7 131.6h.01M400.4 135h.01M411.1 131.8h.01M397 122.5h.01M395.8 140.3h.01M404.4 136.3h.01M412.4 135h.01M408.3 129.6h.01M393.9 137.3h.01M404.3 137h.01M397.7 132.1h.01M418.8 127.4h.01M405.7 142h.01M403.4 133.9h.01M390.4 138.3h.01M402 141.8h.01M404.4 130.6h.01M408 131.5h.01M401.5 143.5h.01M411.7 133.8h.01M410.5 138.7h.01M409 133.4h.01M405.5 135.8h.01M408.9 135.5h.01M401.2 132.6h.01M408.1 126.4h.01M404.9 138.2h.01M406.2 131.2h.01M404.8 129.8h.01M411.7 130.6h.01M393.6 125h.01M407.1 134.5h.01M401.8 124.3h.01M404 127.4h.01M400.5 133.1h.01M399.7 135.2h.01M399.9 130h.01M403.4 142.9h.01M415.8 139.4h.01M400 133.1h.01M499.3 142.9h.01M481.8 134.6h.01M487.9 142.3h.01M497.4 130h.01M507.7 132.5h.01M509.7 133.5h.01M492.4 153.3h.01M489.4 130.6h.01M503.1 134.8h.01M496.3 123.1h.01M505.3 144.6h.01M495.4 141.9h.01M489.6 130.6h.01M482.2 138.7h.01M501.5 143.3h.01M499.3 141.9h.01M486.7 122.7h.01M497.4 136.7h.01M499.8 132.5h.01M487 139.4h.01M489.2 119.5h.01M488.8 126.8h.01M485.4 129.9h.01M499.5 157.6h.01M504.8 131.2h.01M500.8 134.5h.01M495.8 128.7h.01M492.5 119.2h.01M505.3 127.9h.01M497 129.6h.01M494.9 124h.01M490.4 143.9h.01M497.1 116.7h.01M498.8 122.7h.01M495 140.1h.01M488.6 132.1h.01M491.3 139h.01M499.3 148.1h.01M495.2 154.1h.01M486.5 152.1h.01M491.2 142.5h.01M492.1 136h.01M486.7 138.9h.01M506.9 136.6h.01M492.9 135.2h.01" stroke="#f3776e" stroke-width="1.6" stroke-linecap="round" fill="none"/>
<path d="M517.9 108.1h.01M507.4 111.4h.01M514.4 128.7h.01M503 92.8h.01M502.4 123.1h.01M520.6 109.3h.01M527.1 113.9h.01M511.7 133.7h.01M522.4 118.2h.01M525.3 86.7h.01M497.3 92.3h.01M508 129.4h.01M499.7 125.8h.01M503.5 134.6h.01M500.2 89.4h.01M507.2 86.8h.01M529.4 101.3h.01M503.3 97.5h.01M521.7 104.5h.01M512.2 121.3h.01M517.5 76.5h.01M509.1 84.3h.01M528.5 104.2h.01M495 109.7h.01M516.8 92.3h.01M512.8 128.1h.01M517.7 96.5h.01M514.3 77.7h.01M509.8 116.7h.01M499.1 104.4h.01M531.1 106.1h.01M489.6 110.4h.01M508.3 97.8h.01M516.3 108.9h.01M515.1 121.7h.01M519.8 115.7h.01M486.3 117.3h.01M487.8 116.4h.01M521.8 86.5h.01M502.6 123.9h.01M497.9 104.2h.01M509.1 87.9h.01M493.3 126.4h.01M516.2 111h.01M507.5 109.6h.01M510.3 112.4h.01M488.2 114.6h.01M516.5 75.9h.01M524.9 91.5h.01M508.3 106.4h.01M498.5 114.7h.01M508.3 102.5h.01M501.2 98.8h.01M497.8 104h.01M514.2 129.4h.01M523.3 87.7h.01M512.1 128.2h.01M532 90.9h.01M511.4 103.1h.01M527.3 95.5h.01M492.5 136.5h.01M529 85.2h.01M498.8 131h.01M497.7 115.6h.01M520.7 84.7h.01M494 124.3h.01M525.3 103.5h.01M525.6 101.4h.01M511.3 108.8h.01M493.9 107.8h.01M520.4 75.9h.01M507 89.9h.01M507.9 87.9h.01M517.4 76.2h.01M517.7 113.6h.01M513.3 105h.01M511.3 104.4h.01M509.4 81.3h.01M501.7 126.1h.01M499.7 134.5h.01M497.4 97.6h.01M493.5 125.8h.01M527.8 107.2h.01M518.5 107.4h.01M499.4 101.5h.01M489.4 126.8h.01M505.9 130.7h.01M525.4 79h.01M516.6 113.5h.01M490.6 101.3h.01M506.6 136.4h.01M492.6 116.7h.01M513.4 106.8h.01M501.9 115.8h.01M509.8 122.3h.01M514.8 84.3h.01M512 132.6h.01M503.4 104.9h.01M527.6 85.7h.01M499.1 139.6h.01M517.4 97.1h.01M525.9 115.9h.01M514.3 102h.01M522.9 81.6h.01M507.5 81.8h.01M519.2 110.7h.01M529.8 85.9h.01M492.7 128.7h.01M514.2 78.5h.01M503.9 98.5h.01M498.9 130h.01M510.3 134.9h.01M519 102h.01M515 82.1h.01M511.9 132.2h.01M517 92.9h.01M512.2 119.8h.01M519.6 88.8h.01M515.9 99.4h.01M512 122h.01M516.8 102.7h.01M517.6 126.3h.01M515.1 127.1h.01M512.8 118h.01M511.6 78.9h.01M494.5 114.2h.01M517.1 115.6h.01M497.3 135.9h.01M517.6 79.6h.01M496.6 96.3h.01M510.5 124.2h.01M500.2 121.3h.01M514.2 95.2h.01M499 119.5h.01M526.6 93.9h.01M497.7 105.5h.01M531.3 100.7h.01M493.3 109.3h.01M519.2 99.7h.01M505.1 116h.01M493.3 100.5h.01M508 126.8h.01M521.5 112.2h.01M487.9 121.7h.01M522.1 100.6h.01M511.4 129.6h.01M521.7 77.3h.01M510.1 92.5h.01M500.9 102.6h.01M494.9 109.7h.01M531 99h.01M523.8 103.7h.01M515.5 108.4h.01M526.7 102.1h.01M522.7 98h.01M511.1 108.7h.01M529 89.3h.01M488.2 122.9h.01M500.7 135.7h.01M496.7 106.8h.01M502.4 136.7h.01M511.8 100.4h.01M517.2 109.6h.01M495.2 117.7h.01M499.9 87.3h.01M526 105.9h.01M502.9 112.8h.01M516.3 122.1h.01M503.5 93.7h.01M520.8 110.9h.01M495.6 120.2h.01M505.2 138.8h.01M503.6 91.2h.01M499 110.9h.01M495.5 124.9h.01M487 110.6h.01M504.5 100.2h.01M513.2 114.1h.01M489.7 126.5h.01M518.9 102.1h.01M519.8 89.9h.01M498.9 97.3h.01M511.8 111.2h.01M511.7 82.6h.01M486.8 122.8h.01M519.2 95.7h.01M516.7 122.5h.01M509.6 95.4h.01M518 118.9h.01M521.5 120.5h.01M507.7 94.7h.01M499.7 109.1h.01M506.8 119.7h.01M521.8 92h.01M514.4 90.6h.01M523.7 88.3h.01M509.8 90.3h.01M504.7 100.7h.01M525.3 110.4h.01M497.4 96.8h.01M512.4 121.2h.01M498.1 137.4h.01M519.7 114.7h.01M529 92.7h.01M514.1 92h.01M499.1 134.4h.01M493.1 130.9h.01M489.8 125.6h.01M499.9 88.9h.01M520 111.1h.01M510.2 108.4h.01M511.8 106h.01M501.2 98.4h.01M517.3 92.7h.01M501.1 136.4h.01M497.9 92.9h.01M506.3 107.1h.01M515.7 95.8h.01M508.8 108h.01M496.9 132.5h.01M521.2 84.4h.01M490.4 110.7h.01M510.4 95.7h.01M498 96.9h.01M513.5 95.7h.01M498.3 121.9h.01M512.8 121.3h.01M517.6 84.5h.01M505.6 134.6h.01M512.5 131.2h.01M508.9 115.5h.01M499.2 129.3h.01M493.5 136.3h.01M519.6 106h.01M520.6 82.4h.01M503.8 99.3h.01M530.5 106.1h.01M517.9 113.7h.01M501 117.5h.01M487.5 113.5h.01M523.5 119.7h.01M507.5 110h.01M519.8 102.5h.01M506.3 117.1h.01M502.5 113h.01M506.8 122.1h.01M503.1 94.2h.01M495.5 126.4h.01M523.1 83.1h.01M487.8 128.7h.01M522.2 87.8h.01M498.4 106.2h.01M510.5 135.3h.01M507.7 101.4h.01M530.5 101.6h.01M521.2 120h.01M500.1 130.2h.01M520.6 95.6h.01M494.4 101.7h.01M503.8 132.7h.01M486.2 114.8h.01M503.9 134.6h.01M515.6 115.5h.01M510.3 116.8h.01M503.5 103.1h.01M513.7 101.1h.01M506.1 82.2h.01M510.1 119.4h.01M519.2 88.4h.01M520.9 105.1h.01M486.1 120h.01M487.1 129.3h.01M518 102.8h.01M495.8 91.5h.01M512.7 133h.01M523.4 82.6h.01M507.4 101.6h.01M514.5 108h.01M523.8 83.8h.01M492.4 128.3h.01M489.3 116.3h.01M522.4 124h.01M488.4 121h.01M490.6 105.7h.01M495.4 127.1h.01M519.4 116.7h.01M517.6 128.6h.01M511.9 88.7h.01M529 111.1h.01M513.9 107.9h.01M516.1 80.8h.01M508.5 105.8h.01M523.1 103.6h.01M502.6 86h.01M506.9 111.6h.01M519.6 104.7h.01M513.3 112.9h.01M524.9 114.2h.01M506 118.4h.01M527.4 98.4h.01M506.4 101.2h.01M486.4 117h.01M519.8 113.4h.01M521.3 127h.01M514.7 133.3h.01M527.4 89.6h.01M520.4 121.2h.01M496.5 103.4h.01M509 128.3h.01M514.8 99.9h.01M522.9 98.3h.01M502.1 121.1h.01M492.4 107.8h.01M499.1 88.3h.01M497.3 100.8h.01M516.8 110.5h.01M517.7 114h.01M503.1 115.5h.01M505.9 109.1h.01M524 103h.01M527.8 95.2h.01M519.1 80.4h.01M492.8 130.7h.01M502.8 131.1h.01M502.8 86.6h.01M507.2 124.8h.01M527.6 86.4h.01M514.7 109.1h.01M506.6 116.6h.01M518.4 80.5h.01M504.7 83.9h.01M489.6 104.7h.01M526.1 107.8h.01M505.7 87.4h.01M485.1 107.4h.01M500.1 105.8h.01M487.2 119.6h.01M484.7 119.2h.01M487.9 128h.01M488.2 119.1h.01M511.8 115.7h.01M521.3 126.3h.01M486.3 124.3h.01M498.9 97.7h.01M502.7 119.3h.01M530.6 96.4h.01M490.3 137.3h.01M498.6 121.5h.01M529.3 101h.01M496.8 133.2h.01M512.2 81.3h.01M489.3 113h.01M491.9 147.8h.01M529.1 95.3h.01M508.7 138.8h.01M524 120.1h.01M494.9 114.6h.01M516.5 134h.01M516 136.3h.01M506.7 89.8h.01M530.7 100h.01M502.9 104.7h.01M498.2 96.9h.01M488.7 149.6h.01M509.3 101.7h.01M496.6 136.5h.01M497.6 100.6h.01M480.9 118.6h.01M499.5 146.1h.01M480.3 140.8h.01M519.1 113.9h.01M502.2 104.7h.01M483.1 123.4h.01M503.7 94.8h.01M510.7 120.8h.01M498.7 105.4h.01M486.5 138.8h.01M524 105.2h.01M491.4 142.2h.01M487.1 144.9h.01M503.7 132.9h.01M479.5 119h.01M503.1 130.6h.01M505.7 130.1h.01M488.8 131.4h.01M515.8 92.1h.01M489.4 112.1h.01M523.1 82.1h.01M478.8 122h.01M488.2 150.5h.01M489 102h.01M490.4 123.7h.01M506.3 146.4h.01M482.4 132.9h.01M486.4 114.2h.01M500.3 130.5h.01M483.7 136.1h.01M503.7 113.8h.01M511.5 90h.01M511 127h.01M494.7 148.7h.01M495.6 103h.01M495.7 134.3h.01M492.6 134.5h.01M523.5 85.8h.01M512.6 79.5h.01M504.9 102.8h.01M511.1 122.6h.01M491.8 140.6h.01M523.1 93.1h.01M491.4 118h.01M524.8 119.6h.01M499 120.1h.01M516.3 117.6h.01M513.4 106.5h.01M505.2 93.6h.01M519.3 106.1h.01M507.9 127.8h.01M527.1 84.4h.01M504 86.3h.01M493.8 132.2h.01M514.4 141.7h.01M517.3 129.7h.01M493.3 124.9h.01M479.1 119.7h.01M498 129.4h.01M502.1 87.9h.01M495.8 109.5h.01M513.5 108.4h.01M502.2 132.7h.01M490.6 105.8h.01M491.7 96.6h.01M523.1 104.7h.01M519.6 131.9h.01M515.5 122.6h.01M505 141.4h.01M511.8 102.7h.01M484.4 144.3h.01M506.9 102.4h.01M510.5 81.6h.01" stroke="#12b441" stroke-width="1.65" stroke-linecap="round" fill="none"/>
<path d="M395.7 158.6h.01M401 146.6h.01M400.9 162.7h.01M396.3 158.6h.01M390.3 163.1h.01M395.7 149.9h.01M403.3 152.4h.01M387.7 171h.01M414.1 145.4h.01M407.3 143.1h.01M408.6 143.4h.01M401.7 164.1h.01M404.7 171h.01M392.9 165.7h.01M398.1 154h.01M405 138.5h.01M411.4 140.1h.01M396.5 161.6h.01M408.2 140.8h.01M392.9 162.2h.01M400 173.9h.01M388.6 156.4h.01M393.6 163.7h.01M391.3 150.8h.01M408.3 151.3h.01M402.9 144.6h.01M412.6 146.3h.01M396.1 150.2h.01M390.8 174.2h.01M406.4 148h.01M402.6 162h.01M402.4 156.6h.01M409 145.1h.01M394.9 148.6h.01M390.2 161h.01M405.5 170.8h.01M401.8 161.4h.01M402.2 141.1h.01M410.4 142.9h.01M402.9 155.9h.01M405.2 159.2h.01M404 150.4h.01M392.1 148.9h.01M400 169.8h.01M412.8 150.2h.01M391.1 161.6h.01M390.1 174.9h.01M409.2 141.8h.01M390.4 170.7h.01M389.6 153.5h.01M387.2 167.4h.01M402.6 143.8h.01M393.9 145.6h.01M390.8 148h.01M411.1 162.2h.01M404.3 143h.01M405 152.3h.01M389.4 168.2h.01M407.7 147.8h.01M409.8 159.9h.01M403 159.5h.01M405.1 166.3h.01M394.7 163.5h.01M397.5 156.8h.01M413.6 150.6h.01M395.7 149.1h.01M391.4 168.9h.01M386.8 169.8h.01M411.8 156.1h.01M403.3 153.2h.01M401.7 165.9h.01M401.7 167.2h.01M411.7 159.5h.01M406 156.4h.01M399.8 158.7h.01M398.6 159.9h.01M395.6 152.3h.01M402.2 142.3h.01M398.3 148.9h.01M406.6 140.2h.01M404.3 143.3h.01M394.2 156.3h.01M406.3 162.8h.01M399.4 150.2h.01M413.7 145.3h.01M413 145.2h.01M396.1 155.2h.01M392 172.5h.01M403.9 157.4h.01M406.6 159.7h.01M390.2 166.2h.01M403.5 171.8h.01M387.6 170h.01M394 163.9h.01M398 176.3h.01M395.8 143.1h.01M405.7 165.1h.01M407.9 136.2h.01M404.2 155.7h.01M386 167.2h.01M391.2 147.4h.01M399.5 158.7h.01M406.8 155.7h.01M396.3 149.9h.01M394.5 143.1h.01M413.4 154.9h.01M392.3 174.1h.01M406.8 160.9h.01M406.7 155.6h.01M390.1 164.7h.01M394.2 173.1h.01M400.6 151.8h.01M403.5 155.4h.01M402.8 145.6h.01M400.6 160.6h.01M410.9 160.7h.01M388.7 156.6h.01M413.1 157.7h.01M396 152.3h.01M390 149.2h.01M406.2 140.4h.01M408.6 148.4h.01M393.4 145.6h.01M396.3 175.3h.01M407.6 162.1h.01M398.4 152.2h.01M409.3 153.5h.01M398.5 168.5h.01M397.4 147.4h.01M403.3 157.8h.01M402.2 150.4h.01M392.5 173.9h.01M413.7 145.4h.01M400.4 157.4h.01M407.2 141.9h.01M399.2 157.6h.01M394.5 158.1h.01M395.2 141.8h.01M399.3 160.9h.01M401.6 151.1h.01M396.5 169.1h.01M406.8 158.2h.01M392.4 166.9h.01M399.7 167.9h.01M402.9 146h.01M404.8 150.1h.01M403.7 168.6h.01M387.4 157.4h.01M403.8 170.2h.01M401.6 145.5h.01M401.9 169.9h.01M406.5 143.9h.01M390.1 155.2h.01M398.4 146.5h.01M398.3 169.4h.01M392.6 146.2h.01M409 159.7h.01M395.1 162.7h.01M399.1 141.4h.01M393.6 172.6h.01M407.2 159.4h.01M409.1 154.8h.01M400.8 138.8h.01M397.9 167.4h.01M402.9 157.1h.01M392.6 167.4h.01M406.8 141.2h.01M411.8 153.4h.01M402.9 157.6h.01M406.2 162.3h.01M431 138.2h.01M422.7 134h.01M428.2 132.1h.01M429.6 135.6h.01M420.4 131.9h.01M424.3 147.4h.01M428.8 137.1h.01M420.6 148.2h.01M423.6 137h.01M422.9 144.8h.01M425.9 134.3h.01M425.9 131.1h.01" stroke="#6199fb" stroke-width="1.6" stroke-linecap="round" fill="none"/>
<ellipse cx="431.1" cy="92.9" rx="37.6" ry="55.1" transform="rotate(-15.3 431.1 92.9)" fill="none" stroke="#f4441f" stroke-width="1.45"/>
<ellipse cx="504.5" cy="114.7" rx="26.2" ry="43" transform="rotate(24.4 504.5 114.7)" fill="none" stroke="#0fb14a" stroke-width="1.35"/>
<ellipse cx="402.1" cy="153.8" rx="19.3" ry="28.9" transform="rotate(23.6 402.1 153.8)" fill="none" stroke="#8aa8e4" stroke-width="1.05"/>
<text x="423.9" y="97.5" font-family="Liberation Sans, Arial, sans-serif" font-weight="700" font-size="14.5" textLength="6.6" lengthAdjust="spacingAndGlyphs">1</text>
<text x="497.2" y="123.2" font-family="Liberation Sans, Arial, sans-serif" font-weight="700" font-size="14.5" textLength="7.2" lengthAdjust="spacingAndGlyphs">2</text>
<text x="407.3" y="165.2" font-family="Liberation Sans, Arial, sans-serif" font-weight="700" font-size="14.5" textLength="7.4" lengthAdjust="spacingAndGlyphs">3</text>
<text x="546.8" y="83" font-family="Liberation Sans, Arial, sans-serif" font-size="5" fill="#222">groups</text>
<circle cx="550.5" cy="88.8" r="0.6" fill="#333"/>
<text x="555.7" y="90.2" font-family="Liberation Sans, Arial, sans-serif" font-size="4.4" fill="#333">LN</text>
<circle cx="550.5" cy="94" r="0.6" fill="#333"/>
<text x="555.7" y="95.4" font-family="Liberation Sans, Arial, sans-serif" font-size="4.4" fill="#333">LV</text>
<circle cx="550.5" cy="98.9" r="0.6" fill="#333"/>
<text x="555.7" y="100.3" font-family="Liberation Sans, Arial, sans-serif" font-size="4.4" fill="#333">SP</text>
<circle cx="550.5" cy="103.8" r="0.6" fill="#333"/>
<text x="555.7" y="105.2" font-family="Liberation Sans, Arial, sans-serif" font-size="4.4" fill="#333">TS0</text>
<circle cx="550.5" cy="108.7" r="0.6" fill="#333"/>
<text x="555.7" y="110.1" font-family="Liberation Sans, Arial, sans-serif" font-size="4.4" fill="#333">TS1</text>
<circle cx="550.5" cy="113.9" r="0.6" fill="#333"/>
<text x="555.7" y="115.3" font-family="Liberation Sans, Arial, sans-serif" font-size="4.4" fill="#333">TS2</text>
<rect x="375.8" y="210.2" width="181.1" height="122.6" fill="#fff" stroke="#000" stroke-width="1.4"/>
<text x="400.7" y="231.6" font-family="Liberation Sans, Arial, sans-serif" font-size="9.3" fill="#595959" text-anchor="end">1.5</text>
<text x="400.7" y="257.3" font-family="Liberation Sans, Arial, sans-serif" font-size="9.3" fill="#595959" text-anchor="end">1</text>
<text x="400.7" y="283.6" font-family="Liberation Sans, Arial, sans-serif" font-size="9.3" fill="#595959" text-anchor="end">0.5</text>
<text x="400.7" y="309.3" font-family="Liberation Sans, Arial, sans-serif" font-size="9.3" fill="#595959" text-anchor="end">0</text>
<path d="M412.3 306.3H542.3" stroke="#d0d0d0" stroke-width="0.8"/>
<rect x="418.5" y="298.7" width="8.4" height="7.3" fill="#ff5353"/>
<rect x="418.5" y="291.4" width="8.4" height="7.3" fill="#0bb050"/>
<rect x="418.5" y="251.7" width="8.4" height="39.7" fill="#8eaadb"/>
<rect x="440.4" y="300.7" width="8.4" height="5.3" fill="#ff5353"/>
<rect x="440.4" y="271.5" width="8.4" height="29.2" fill="#0bb050"/>
<rect x="462" y="269.2" width="8.7" height="36.8" fill="#ff5353"/>
<rect x="462" y="254.6" width="8.7" height="14.6" fill="#0bb050"/>
<rect x="462" y="249.6" width="8.7" height="5" fill="#8eaadb"/>
<rect x="483.9" y="302.5" width="8.1" height="3.5" fill="#8eaadb"/>
<rect x="505.5" y="305.5" width="8.4" height="0.5" fill="#ff5353"/>
<rect x="505.5" y="304.5" width="8.4" height="1" fill="#0bb050"/>
<rect x="505.5" y="301.3" width="8.4" height="3.2" fill="#8eaadb"/>
<rect x="527.1" y="305.2" width="8.4" height="0.8" fill="#bfe6cf"/>
<text x="422.6" y="248.5" font-family="Liberation Sans, Arial, sans-serif" font-weight="700" font-size="8.6" text-anchor="middle">336</text>
<text x="444.5" y="266.6" font-family="Liberation Sans, Arial, sans-serif" font-weight="700" font-size="8.6" text-anchor="middle">316</text>
<text x="465.5" y="248.5" font-family="Liberation Sans, Arial, sans-serif" font-weight="700" font-size="8.6" text-anchor="middle">812</text>
<text x="488.2" y="298.7" font-family="Liberation Sans, Arial, sans-serif" font-weight="700" font-size="8.6" text-anchor="middle">20</text>
<text x="510.1" y="297.2" font-family="Liberation Sans, Arial, sans-serif" font-weight="700" font-size="8.6" text-anchor="middle">35</text>
<text x="531.8" y="302.8" font-family="Liberation Sans, Arial, sans-serif" font-weight="700" font-size="8.6" text-anchor="middle">10</text>
<text x="417.4" y="324.1" font-family="Liberation Sans, Arial, sans-serif" font-size="10.2" fill="#595959" textLength="10.8" lengthAdjust="spacingAndGlyphs">LN</text>
<text x="439.2" y="324.1" font-family="Liberation Sans, Arial, sans-serif" font-size="10.2" fill="#595959" textLength="10.5" lengthAdjust="spacingAndGlyphs">LV</text>
<text x="460.9" y="324.1" font-family="Liberation Sans, Arial, sans-serif" font-size="10.2" fill="#595959" textLength="10.2" lengthAdjust="spacingAndGlyphs">SP</text>
<text x="480.1" y="324.1" font-family="Liberation Sans, Arial, sans-serif" font-size="10.2" fill="#595959" textLength="15.8" lengthAdjust="spacingAndGlyphs">TS0</text>
<text x="501.9" y="324.1" font-family="Liberation Sans, Arial, sans-serif" font-size="10.2" fill="#595959" textLength="15.5" lengthAdjust="spacingAndGlyphs">TS1</text>
<text x="523.8" y="324.1" font-family="Liberation Sans, Arial, sans-serif" font-size="10.2" fill="#595959" textLength="15.5" lengthAdjust="spacingAndGlyphs">TS2</text>
<rect x="419" y="340.1" width="10.9" height="8.2" fill="#ff5353"/>
<text x="432.6" y="349" font-family="Liberation Sans, Arial, sans-serif" font-size="12.3" textLength="6.2" lengthAdjust="spacingAndGlyphs">1</text>
<rect x="444.5" y="340.1" width="10.9" height="8.2" fill="#0bb050"/>
<text x="457.4" y="349" font-family="Liberation Sans, Arial, sans-serif" font-size="12.3" textLength="6.2" lengthAdjust="spacingAndGlyphs">2</text>
<rect x="469.3" y="340.1" width="10.9" height="8.2" fill="#8eaadb"/>
<text x="482.2" y="349" font-family="Liberation Sans, Arial, sans-serif" font-size="12.3" textLength="6.2" lengthAdjust="spacingAndGlyphs">3</text>
<rect x="579" y="16.4" width="105" height="104.4" fill="#fff" stroke="#222" stroke-width="1.15"/>
<text x="653.4" y="114.1" font-family="Liberation Sans, Arial, sans-serif" font-weight="700" font-size="13.8" textLength="14.8" lengthAdjust="spacingAndGlyphs">LN</text>
<path d="M612.1 38.5h.01M608.5 60h.01M596.1 24h.01M616.6 34.4h.01M601.4 57.4h.01M612.5 23.4h.01M604.4 35.8h.01M593 59.6h.01M590.3 38.4h.01M594.8 50h.01M623.4 27.2h.01M590.7 26.1h.01M611.8 31.5h.01M626.1 27.2h.01M603.8 22.7h.01M631.4 38.3h.01M614.5 59.9h.01M630.6 25.7h.01M621.6 31.2h.01M603.8 35.5h.01M631.6 24.9h.01M608.4 27.5h.01M632 41.4h.01M619.6 42.3h.01M622.3 35.3h.01M607.5 50.7h.01M619.6 56.2h.01M603.1 54.7h.01M621.1 44.3h.01M607.3 44h.01M593.4 26.3h.01M603.2 27.3h.01M592.2 49.7h.01M620.8 45.9h.01M598.8 49.9h.01M624.8 46h.01M599.7 44h.01M606.7 32.8h.01M596.4 55.3h.01M616.7 57.9h.01M597.4 32.6h.01M611.5 24.9h.01M602.8 43h.01M610.4 57h.01M614.4 46.7h.01M614.7 52.3h.01M605.5 22.6h.01M595.5 26.9h.01M599.5 47.5h.01M595.6 23.4h.01M610.9 22.9h.01M601 37.1h.01M598.8 22.7h.01M601.1 31.8h.01M603.8 38.3h.01M605.2 34.9h.01M590.9 54.3h.01M621.1 41.2h.01M590.3 31.4h.01M627.9 39.9h.01M598.8 53.6h.01M627.6 27.2h.01M611.2 43.8h.01M595.1 34.7h.01M616.1 48.1h.01M616.5 46.1h.01M606 25.2h.01M590.8 54.3h.01M593.3 51.7h.01M597.4 35.7h.01M598.6 55.1h.01M606.2 58h.01M601.1 44.3h.01M618.4 31.5h.01M606.2 26.4h.01M623.6 29.6h.01M595.9 33.1h.01M617 46.7h.01M612.2 54.9h.01M621.7 30.5h.01M612.6 29h.01M600.3 28.2h.01M593.4 35.9h.01M590.7 63.1h.01M594.1 69.4h.01M590.3 60.6h.01M593.9 70.8h.01M590.7 74.3h.01M591.8 70.6h.01M593.7 65.6h.01M596.5 66.7h.01M593 69.6h.01M595.8 78.6h.01M595.3 69.6h.01M595 71.6h.01M596.6 78.3h.01M595.2 63.1h.01M594 67.6h.01M591.7 74.5h.01M591.6 73h.01M593.4 67.3h.01M620.9 85.4h.01M626.9 92.3h.01M622.9 73.8h.01M620.1 79.6h.01M625.8 78.4h.01M613.6 67.8h.01M616 80.5h.01M612.6 69.8h.01M616.2 68.9h.01M609.7 78.3h.01M613.4 79.7h.01M617.2 76.9h.01M608.9 67.6h.01M617.8 91.5h.01" stroke="#f3776e" stroke-width="1.65" stroke-linecap="round" fill="none"/>
<path d="M642 32.3h.01M638.9 34.8h.01M632.6 28.8h.01M646.2 28.6h.01M644.6 32.4h.01M638.3 30.9h.01M649.2 27.5h.01M629.6 23.6h.01M638.1 24.1h.01M645.5 25.2h.01M657.4 30.9h.01M635.4 27.3h.01M651.9 31.3h.01M637.1 32.8h.01M640.3 37.7h.01M639.8 31h.01M646.3 26.7h.01M642.1 33.3h.01M645.9 28.3h.01M645.6 35.8h.01M648.4 30.5h.01M644.9 22h.01M643.8 26.5h.01M647.3 26h.01M645.6 24.1h.01M648.2 25.5h.01M642.9 30.9h.01M641.1 28.5h.01M649.2 35.8h.01M632.5 24.8h.01M646.9 32.4h.01M640.3 28.9h.01M641.9 37.9h.01M641.9 23.6h.01M634 23.2h.01M650.6 26.9h.01M654.3 31.1h.01M645.2 31.2h.01M647.6 32.3h.01M637.4 26.2h.01M639.8 28.9h.01M641.6 23.4h.01M639 35.9h.01M655.3 25h.01M645.2 28.4h.01M638.1 31.5h.01M642.6 35.4h.01M645.7 27.2h.01M627.7 28.1h.01M647.9 25.5h.01M648.2 31.3h.01M632.8 27.7h.01M644.9 31.6h.01M643.9 28.4h.01M641 27.3h.01M643 24.1h.01M646.8 27.2h.01M646.1 26.4h.01M645.4 29h.01M648.2 30.4h.01M648.4 27.8h.01M642.7 27.4h.01M635.7 28h.01M649.3 31.7h.01M638.1 29.7h.01M647.4 22.9h.01M645 29.9h.01M647.4 29.6h.01M654.5 26.9h.01M646.6 53h.01M637.8 35.1h.01M647.4 43.3h.01M641 47.2h.01M644.3 51.2h.01M626.5 33.1h.01M638.2 43.7h.01M643 42.6h.01M635.8 58.7h.01M647.4 52.2h.01M644.9 37.7h.01M636.5 43.1h.01M629 37.1h.01M638.3 34.6h.01M641.2 47.1h.01M635.4 41.1h.01M641.6 47.2h.01M639.9 34.5h.01M625 58.8h.01M632.3 40.9h.01M631.7 49.5h.01M634.1 40h.01M631.4 40.3h.01M625.4 45.6h.01M646.1 44.7h.01M633.1 53h.01M640.8 36h.01M632.9 39.1h.01M636.8 52.6h.01M631.9 42.5h.01M638 34.8h.01M633.6 48.2h.01M645.6 29.7h.01M642.4 41.4h.01M646.8 48.2h.01M651.8 45.9h.01M634.2 37.4h.01M626.5 47.7h.01M641 49.7h.01M639.8 32.5h.01M634.1 41.8h.01M638.3 49.3h.01M647.7 45.7h.01M628.2 45.4h.01M635.5 51.9h.01M645.2 40.2h.01M644.2 43.7h.01M640.6 53.6h.01M628.6 43.1h.01M648.6 37.9h.01M638.8 44.6h.01" stroke="#12b441" stroke-width="1.7" stroke-linecap="round" fill="none"/>
<path d="M611.8 103h.01M610.8 104.6h.01M617.3 110.2h.01M615.9 103.6h.01M615.1 109.7h.01M617.1 105.8h.01M616.3 115.4h.01M619.9 104.8h.01M609.2 102.3h.01M616.8 111.8h.01M614.6 105.1h.01M617.9 116.5h.01M613.2 108.5h.01M617.7 111.4h.01M618.2 107.2h.01M614.6 107.5h.01M611.2 107.7h.01M612.3 111.4h.01M612.2 109.4h.01M610.4 103.4h.01M618.5 104.6h.01M619.9 113.4h.01M605 106.1h.01M611.8 109.2h.01M612.7 106.3h.01M617.9 108.5h.01M616.8 105.9h.01M610.8 115.2h.01M612.3 104h.01M612.7 113.9h.01M612.7 105.8h.01M615.6 113.6h.01M612.6 107.6h.01M612.6 117.1h.01M612.8 110.9h.01M605.9 109.9h.01M613.5 107.6h.01M611.8 102.8h.01M607.9 109.8h.01M611 108.7h.01M612.7 106.8h.01M610.7 117.6h.01M609.3 106.7h.01M612.2 103.8h.01M609.8 113h.01M616.7 109.7h.01M625.1 112.9h.01M617.8 105.3h.01M617.3 116.8h.01M611.9 117.4h.01M610.4 103.9h.01M613.2 105.4h.01M615.6 104h.01M613.6 100.1h.01M613.2 113.9h.01M612.4 110.5h.01M617.3 104h.01M608.7 109.5h.01M614.3 107.9h.01M609.8 114.7h.01M609.1 107.9h.01M613.2 112.4h.01M611.7 105.3h.01M620.7 105.2h.01M616.2 108.4h.01M611.6 108.9h.01M612.4 110.5h.01M604 109h.01M613.6 104.6h.01M620.1 112h.01M614.2 107.7h.01M618.4 107h.01M610.3 112.3h.01M609.8 105.5h.01M618.6 101.7h.01M613.1 109.6h.01M614.3 102.4h.01M612.5 107.6h.01M620.3 113.7h.01M610.6 113.1h.01M615.7 108.6h.01M612.4 107.8h.01M607.7 106.2h.01M616.7 115.7h.01M620.1 107.4h.01M615.6 98h.01M612.3 103.3h.01M616.3 101.5h.01M609.5 104h.01M614.8 112.9h.01M610 117.4h.01M613.9 105.3h.01M614.6 109h.01M616.4 110.7h.01M621.3 114.4h.01M611 112.7h.01M616.1 104.5h.01M610.6 105.4h.01M604.3 112h.01M612.5 114.7h.01M611.3 109.4h.01M616 113.5h.01M614.5 104.3h.01M621.4 113.1h.01M618.3 116.5h.01M618.4 111h.01M615.1 112h.01M607.9 112.8h.01M609.8 111h.01M609.6 112.4h.01M614 111.4h.01M610 107.8h.01M613.1 107.8h.01M611.7 105.1h.01M616.1 107.3h.01M610.4 110.8h.01M610.4 108.3h.01M614.3 83h.01M615.4 83.9h.01M611.6 93.5h.01M615.1 78.6h.01M614.8 92.1h.01M617.7 93.7h.01M617.1 95.5h.01M614.4 84.1h.01M618.4 87.3h.01M616.2 95.9h.01M619.6 100.6h.01M613.7 87.6h.01M618.2 78.9h.01M611.6 95.6h.01M614 83.1h.01M619.1 95h.01M619.5 87.9h.01M615.1 87.8h.01M617.3 74h.01M613.7 96.4h.01M613.4 90.1h.01M616.6 94.9h.01M614.5 81.4h.01M625.3 84.8h.01M622.4 76.3h.01M616.6 89h.01M623.1 107.3h.01M619.7 82.3h.01M613.3 84.5h.01M614.3 92.8h.01M613.3 88.6h.01M621.5 102.4h.01M609.4 82.9h.01M614.8 101.2h.01M615 106.2h.01M617.5 102.3h.01M613.1 88.1h.01M619.9 95.3h.01M609.4 88.4h.01M616.9 95.8h.01M613.9 104.8h.01M616.7 102.4h.01M617.7 91.3h.01M615 81.1h.01M619.3 96.8h.01M626.2 75.6h.01M620.8 75.9h.01M620 71.8h.01M625.4 77.6h.01M617.8 74.4h.01M615.5 81.5h.01M624.8 75.4h.01M621.4 77.3h.01" stroke="#6199fb" stroke-width="1.65" stroke-linecap="round" fill="none"/>
<rect x="579" y="126.4" width="105" height="104.1" fill="#fff" stroke="#222" stroke-width="1.15"/>
<text x="653.4" y="225.4" font-family="Liberation Sans, Arial, sans-serif" font-weight="700" font-size="13.8" textLength="14.8" lengthAdjust="spacingAndGlyphs">LV</text>
<path d="M586.9 155.3h.01M586.7 152.2h.01M586.5 154.1h.01M587.8 154.7h.01M585.5 150.2h.01M589.2 154.1h.01M586.5 154.3h.01M588.7 153.3h.01M587.1 153.6h.01M587.8 150.8h.01M587.1 158.1h.01M588.8 156.6h.01M587.3 160h.01M588 159.4h.01M584.8 150.5h.01M588.1 153.5h.01M586.1 151h.01M589.3 150.2h.01M587 149.4h.01M586.5 162.5h.01M590.8 152.7h.01M585.1 160.2h.01M585.4 148h.01M587.4 150.6h.01M584.4 158.4h.01M585.6 150.6h.01M587.1 153.7h.01M588.7 154.8h.01M589.4 158.5h.01M589.7 158.4h.01M586.9 156.4h.01M586.8 148.9h.01M584.9 157.1h.01M582.9 151.5h.01M584.7 154.2h.01M585.1 155.3h.01M586.5 152.7h.01M585.4 146.5h.01M586.9 149.8h.01M586.3 155.7h.01M588.5 156.9h.01M589.2 149.3h.01M587.9 160h.01M587.5 150.5h.01M587.5 152.6h.01M585.8 158.2h.01M586.5 150.4h.01M585.7 161.4h.01M585.4 156.8h.01M587.1 158.6h.01M586.4 151h.01M585.8 150.7h.01M591.1 155.1h.01M586.3 158.9h.01M587.9 153.8h.01M590.3 145.8h.01M612.8 147.2h.01M603.2 148h.01M603.1 145.9h.01M593.4 142.4h.01M601.2 152.7h.01M595.1 143.7h.01M603.3 144.1h.01M607 149.1h.01M597.3 147.6h.01M609.7 139.1h.01M605.8 139.8h.01M593.7 147.5h.01M611.6 150.5h.01M590.3 142.6h.01M601.8 146.7h.01M613.4 139.5h.01M610.3 142.9h.01M596.4 142.5h.01M602 142.7h.01M603.6 144.1h.01M612.4 143.2h.01M593.1 142.4h.01M616.6 151.8h.01M598.9 146.2h.01M615.7 144.9h.01M594.2 151.3h.01M593.1 146.5h.01M609.9 147.1h.01M598.7 145.3h.01M590.9 141.8h.01M609.5 145.8h.01M602.5 152.1h.01M593.4 143.6h.01M614.6 148.9h.01M603.5 142.3h.01M593.3 144.1h.01M594.1 147.5h.01M606 142.3h.01M604.8 150.8h.01M612.1 151.3h.01M603 148.9h.01M606.5 145.6h.01M600.1 150.9h.01M609.1 143.4h.01M594.3 179.9h.01M586.4 176.3h.01M601.1 178.8h.01M595.1 171.8h.01M599.2 179.8h.01M588 172.8h.01M593.1 175.1h.01M593.1 163.8h.01M592.4 184.1h.01M596 183.6h.01M606.3 165.7h.01M601.3 158h.01M611.8 176.3h.01M589.1 173h.01M599.7 177.5h.01M594 184.5h.01M603.2 159.9h.01M608.6 183.8h.01M594.4 178.7h.01M609.8 183.7h.01M587.9 182.4h.01M592.8 181.3h.01M605 171.5h.01M610.9 181.4h.01M613.5 185.9h.01M601.8 179.4h.01M604.5 169.5h.01M599.8 172.7h.01M591.9 165.4h.01M609.3 182.6h.01M605.3 178h.01M600.1 174.6h.01M607.8 204.8h.01M622.9 183.8h.01M601.9 130.4h.01M598.9 132.1h.01M626.7 147.2h.01M621.7 147.4h.01" stroke="#f3776e" stroke-width="1.65" stroke-linecap="round" fill="none"/>
<path d="M663.9 150.4h.01M671.5 154.4h.01M672.6 158.5h.01M668 152.3h.01M664.2 156.9h.01M654.8 156.7h.01M662.1 160.6h.01M670.5 135.2h.01M663 151.9h.01M666.1 150.6h.01M668.7 154.8h.01M661.4 166.9h.01M663.2 157.2h.01M675.1 145.5h.01M671.2 154.4h.01M657.5 147.4h.01M660.3 157.8h.01M669.8 150.2h.01M657.5 156.4h.01M669.2 149.2h.01M665.9 162.5h.01M667.6 166.3h.01M675.7 163.6h.01M673.4 153.7h.01M660.5 143.1h.01M661.4 159.4h.01M664.9 160.1h.01M664.2 142.7h.01M668.3 138h.01M654.9 148.5h.01M661.9 168.5h.01M665.1 129.8h.01M665.2 162.6h.01M671.1 155.3h.01M654.9 149.2h.01M663.7 142.5h.01M666.4 142.5h.01M661.7 138h.01M667.9 131.6h.01M658.6 149.3h.01M670.7 153.2h.01M668.5 165.4h.01M654.1 158.3h.01M670 169h.01M663 149.7h.01M667.9 151.1h.01M673.2 159.4h.01M666.2 134.8h.01M667.3 154.2h.01M668.4 148.8h.01M668.1 154.7h.01M667.8 157.9h.01M668.7 159.8h.01M658 144.8h.01M676.9 154h.01M666.7 158.5h.01M664.4 166.8h.01M660.3 155.7h.01M666.5 147.3h.01M662.8 142.9h.01M657.5 152.5h.01M672.9 156.3h.01M658.5 148.3h.01M664.1 165.4h.01M658.4 136.5h.01M664.9 132.8h.01M666.2 142.4h.01M664.6 143.5h.01M665.2 164.3h.01M665.9 163h.01M658.3 154.4h.01M673 138.6h.01M661.5 138.4h.01M667.6 142.5h.01M664.6 148.7h.01M662.8 150.5h.01M671.2 143.3h.01M671.6 140.5h.01M659.6 143.4h.01M673.3 161.3h.01M664.1 165.2h.01M657.7 148.5h.01M668.9 155h.01M659.5 143.9h.01M671.4 147.9h.01M660.2 155.8h.01M671.2 158.4h.01M665.9 147.4h.01M669 145.3h.01M666.2 144.6h.01M660.3 151.4h.01M675.4 149.9h.01M666.9 160.7h.01M656.6 157.6h.01M662 149.6h.01M659.1 159.5h.01M674 160h.01M673.7 150.7h.01M654 151h.01M661.7 151.2h.01M667.5 146.8h.01M664.9 153.6h.01M669.3 167.9h.01M660.3 144.6h.01M668.6 136.6h.01M673.5 166.7h.01M662.6 149.4h.01M667.3 165.3h.01M671.6 132.5h.01M665.2 153.8h.01M670.6 156.2h.01M677.8 149.2h.01M662.1 150.6h.01M663.9 142.8h.01M666.7 152.6h.01M655.6 148.1h.01M661.8 166.1h.01M668.1 150.5h.01M664.9 163.3h.01M654.1 142.6h.01M671.6 136.6h.01M653.9 143.3h.01M659.5 152.6h.01M658.3 164.5h.01M667.3 142.6h.01M668.7 145h.01M668.5 144.2h.01M675.5 160.1h.01M661 154.2h.01M663 133.1h.01M664.6 153.2h.01M659.5 164.7h.01M659.8 148h.01M668.3 141h.01M662.9 163.5h.01M659.7 151.6h.01M657.4 151.2h.01M662.3 165.4h.01M665.5 145.3h.01M663.3 165.4h.01M671.1 148.7h.01M656.3 150.7h.01M673.1 152.8h.01M656.6 155h.01M664.2 151.3h.01M664.7 141.5h.01M660.1 161.2h.01M668.7 140.2h.01M654.5 162.6h.01M669.2 152.6h.01M656.3 147h.01M669.3 155.7h.01M669.2 136.1h.01M670.6 163.9h.01M662.5 162.1h.01M663.7 151h.01M665.6 149h.01M666.4 164.4h.01M674.3 158h.01M669.2 137.9h.01M664.4 156.2h.01M666.3 146.1h.01M659.9 161.5h.01M666.9 163.4h.01M669.3 169.4h.01M663 161.4h.01M670.8 132.2h.01M657.3 150.6h.01M672.5 140.6h.01M664.6 146.7h.01M674.7 140.6h.01M670.2 151.5h.01M654 150.1h.01M659.5 149.3h.01M661.6 149.6h.01M664.9 153.4h.01M669.4 140.4h.01M674.2 165.4h.01M662.9 165h.01M669.7 169.6h.01M668.1 139.8h.01M656.8 153.7h.01M667.8 136.3h.01M664.4 148.4h.01M658.7 150.7h.01M663.4 140.5h.01M668.1 145.5h.01M666.4 158.9h.01M668 161.9h.01M660.4 164.8h.01M659.6 143.3h.01M667.2 142.4h.01M663.5 152.6h.01M664 144.6h.01M661.3 139.1h.01M663.4 134h.01M663.5 144.4h.01M664 154.1h.01M658.6 152.9h.01M658.8 145.5h.01M664.7 147.3h.01M666.3 164h.01M668 147.5h.01M666.6 144.9h.01M662.8 154.2h.01M674.6 152.7h.01M665.2 147.9h.01M657.5 139.7h.01M666.2 161.2h.01M666.1 141.3h.01M664.8 161h.01M665.5 162.3h.01M656.1 154.6h.01M665.7 156.8h.01M668.8 163.7h.01M670.3 161.2h.01M662.9 145.9h.01M665.8 151.3h.01M658 162.1h.01M677 157.9h.01M668.8 156.6h.01M669.5 153.6h.01M660.1 153h.01M665.1 151.8h.01M671.2 154h.01M663.3 140.6h.01M663.8 163h.01M668 152.2h.01M668.9 151.8h.01M676.1 145.9h.01M664.2 150.2h.01M668 167.4h.01M668.5 158.4h.01M665.1 150.9h.01M669.8 140.9h.01M659.5 132.4h.01M664.4 141.7h.01M664.7 138h.01M668 162.6h.01M670.8 137.7h.01M661.6 170.5h.01M663.8 148.4h.01M668.2 154.5h.01M658.8 137h.01M659.1 144.7h.01M663.1 166.9h.01M670.7 145.7h.01M666.7 143.1h.01M663.9 149.3h.01M658.5 155.8h.01M659.4 140h.01M667.7 139.2h.01M674.3 157.9h.01M662.1 149.2h.01M661.4 167.6h.01M628.8 169.9h.01M631.1 170.9h.01M640.2 170.9h.01" stroke="#12b441" stroke-width="1.7" stroke-linecap="round" fill="none"/>
<path d="M611.1 216.2h.01" stroke="#6199fb" stroke-width="1.6" stroke-linecap="round" fill="none"/>
<rect x="579" y="235.9" width="105" height="104.1" fill="#fff" stroke="#222" stroke-width="1.15"/>
<text x="653.4" y="334.9" font-family="Liberation Sans, Arial, sans-serif" font-weight="700" font-size="13.8" textLength="14.8" lengthAdjust="spacingAndGlyphs">SP</text>
<path d="M621.1 264.2h.01M600.5 298.3h.01M605.6 259.8h.01M603.1 279.9h.01M609.8 261.4h.01M618.5 293.1h.01M611.1 279.5h.01M596.3 279.7h.01M609 280.7h.01M624 288.9h.01M623.2 263.4h.01M603.7 279.6h.01M621.4 242.7h.01M610.4 283.1h.01M618.5 265.2h.01M613.4 296.4h.01M603.2 292.1h.01M626.9 267.3h.01M609.8 276.4h.01M624 259.4h.01M598.9 269.2h.01M615.5 250.3h.01M619.1 270.7h.01M587.2 268.6h.01M611.9 245.2h.01M606.8 240.3h.01M597.1 264.8h.01M615.4 251.9h.01M607.9 259.5h.01M611.5 292.6h.01M609.4 297.5h.01M607.9 298.2h.01M615.4 238.5h.01M623.3 273.4h.01M606.6 277.5h.01M602.8 256.3h.01M617.3 287.7h.01M588.4 259.5h.01M599.2 283.9h.01M596.1 251.6h.01M606.1 260.6h.01M600 248.7h.01M605.5 266.9h.01M618.9 314.7h.01M605 289h.01M591.9 286.4h.01M592.3 251.2h.01M620.5 243.4h.01M614 239.9h.01M619.3 301h.01M602.5 264.1h.01M602.5 255.6h.01M606 262.7h.01M618.8 315.9h.01M624.7 269.8h.01M605.1 301.6h.01M620.2 293.9h.01M603.5 238.6h.01M609.8 266.2h.01M621.5 291.4h.01M616.4 276.7h.01M620.4 275.9h.01M611.4 301.8h.01M607.5 276.5h.01M619.3 296.3h.01M601.1 299.6h.01M616.5 268h.01M621.2 268.3h.01M601.9 272.4h.01M613.4 240.7h.01M626.3 283.4h.01M618.5 297.7h.01M595.8 277.6h.01M609.3 266.9h.01M608.1 274.3h.01M594 299.2h.01M613 282.7h.01M619.5 261.9h.01M616.7 267.3h.01M621.4 277.2h.01M609.7 289.3h.01M603.6 295.6h.01M623.7 266.8h.01M605 267.1h.01M601.5 270.7h.01M624.4 242.9h.01M611.3 288.9h.01M599.5 298.6h.01M603.3 277.6h.01M595.9 257.9h.01M624.6 288.9h.01M606.2 288.8h.01M602.1 283.6h.01M594.3 281h.01M600.7 258.9h.01M619.5 266.6h.01M619.6 297.4h.01M610.9 284h.01M617 281.5h.01M604.4 309.9h.01M613 238.8h.01M614.2 270.7h.01M624.2 262.7h.01M597.3 241h.01M590.8 259.3h.01M599 267.6h.01M615 266.1h.01M616.3 250h.01M618.8 248.7h.01M617.2 250.8h.01M604.5 242.5h.01M589.9 265.9h.01M620.1 288.6h.01M612.4 278.5h.01M615.7 277.4h.01M604 304.4h.01M604.3 291.9h.01M605.6 269.9h.01M595.5 266.2h.01M621.7 252.9h.01M607.6 260.6h.01M608 252.9h.01M615.2 291.8h.01M596 256.3h.01M599.7 264.1h.01M621.8 269.3h.01M606.7 254h.01M603.8 253.5h.01M624.2 261.9h.01M608 242.2h.01M617.2 278.8h.01M622.2 295.2h.01M619.7 258.9h.01M597.3 285.4h.01M618.6 277.2h.01M602.3 244.2h.01M607.2 300.8h.01M600.5 280.6h.01M612.5 273.7h.01M623 293.9h.01M623 258.1h.01M608.8 281.1h.01M612.4 239.3h.01M622.8 273.6h.01M611.2 296.7h.01M619.5 287.4h.01M601.1 251h.01M614.8 255.4h.01M593.9 280.9h.01M606.6 274.9h.01M597.4 245.3h.01M604.1 251.3h.01M607 251h.01M619.3 307.5h.01M620.2 276.3h.01M626.3 249.7h.01M618.6 309.9h.01M624.4 272.6h.01M609.1 305.3h.01M597.5 240.5h.01M595.2 249.2h.01M617.3 272.4h.01M590.7 267h.01M598.2 241.8h.01M621.7 285.2h.01M598.8 304.2h.01M603 292.8h.01M618.9 290h.01M620.5 253.4h.01M610.6 246.5h.01M624.4 271h.01M605.4 252.5h.01M605.3 286.2h.01M600.7 239.9h.01M616.1 292.5h.01M615.3 301.7h.01M590.2 251.4h.01M615 262.3h.01M608 278h.01M611.7 313h.01M619.9 281.3h.01M615.4 247.3h.01M615.1 265.6h.01M603.5 303.2h.01M619.8 273.4h.01M610.2 316.1h.01M613.5 244.3h.01M591.3 290.3h.01M594.8 297.8h.01M607.4 303.4h.01M617.5 244.7h.01M602.8 293.8h.01M602.5 251.3h.01M606.6 249.2h.01M607.5 245.9h.01M618.9 254.9h.01M614.6 289h.01M595 287.7h.01M610.8 286.8h.01M594.3 275.8h.01M623.8 287h.01M597 264.5h.01M607.6 278.7h.01M605.4 238.3h.01M606.6 261.2h.01M606.4 242.2h.01M620.4 253.7h.01M600.3 244.1h.01M600.4 279.3h.01M620.1 278.1h.01M611.7 241.5h.01M592 291.3h.01M611.1 285.3h.01M591.3 264.6h.01M602.7 296.5h.01M621.4 293.1h.01M594.1 274.6h.01M601.8 286.9h.01M617.3 274.6h.01M613.1 263.2h.01M620.2 294.7h.01M604.8 250.1h.01M620.6 293.6h.01M611.5 297.1h.01M626.9 262.9h.01M621.4 267.4h.01M606.7 284.6h.01M622.4 271h.01M626.7 255.2h.01M609.6 249.6h.01M593.7 261.1h.01M614.1 269.4h.01M622.1 281.3h.01M616.9 244.8h.01M600.9 239.7h.01M592.1 285.3h.01M603.1 291.3h.01M620.5 260.1h.01M600.8 279.5h.01M624.3 245.9h.01M612.8 270.3h.01M603.2 270.2h.01M618.4 273.1h.01M604.3 255.9h.01M613.1 242.4h.01M597.6 270h.01M604.8 294.2h.01M598.9 266.2h.01M608.8 256.8h.01M605.4 297.3h.01M588.5 265.7h.01M611.8 256.4h.01M603.5 282.4h.01M602.5 252.5h.01M611.1 281.2h.01M604.5 287.7h.01M626 263.3h.01M588.7 253.9h.01M625.8 285.5h.01M620.1 268.9h.01M600.6 292.7h.01M601.5 292.8h.01M627.1 275h.01M621.6 246.7h.01M614.9 264.1h.01M617.4 261.6h.01M594.4 259.4h.01M618.7 294.5h.01M627.3 270.8h.01M597.6 294.9h.01M608.1 273.2h.01M619.9 274.5h.01M604.1 280.3h.01M592.7 284h.01M598.2 268.3h.01M607 261h.01M593.7 290.9h.01M614.3 244.5h.01M596.1 260.4h.01M602.5 276.9h.01M612 287.5h.01M597.6 266.2h.01M606.1 308.3h.01M607.7 243.5h.01M602.2 302.8h.01M603.7 288.7h.01M617 247h.01M610 265.5h.01M611 269h.01M617.3 317.2h.01M607.1 267h.01M625.2 267.2h.01M616.8 252.1h.01M610.5 259.4h.01M627.4 267.1h.01M601.4 281.7h.01M623.3 282.9h.01M614 249.1h.01M623.6 288.8h.01M615.3 262.1h.01M620.5 279.8h.01M621 291.8h.01M624 293.2h.01M605.7 277.7h.01M623.6 285.2h.01M604.1 257.9h.01M613.5 266.1h.01M613.5 309.2h.01M623.8 275.2h.01M606 240.4h.01M600.5 275.6h.01M611.9 255.7h.01M615.2 288.7h.01M599.4 246.2h.01M599.1 255h.01M598.4 297.1h.01M612.5 305.5h.01M613.3 271.8h.01M623.2 280.3h.01M601.9 277.3h.01M607.3 252.9h.01M616.4 304.2h.01M620.7 248.4h.01M608.9 292.2h.01M610.2 264.2h.01M593.5 285.7h.01M609.7 295.3h.01M618.6 268h.01M617.7 293.4h.01M605.8 275.1h.01M618.4 250.1h.01M626.5 264.4h.01M626.2 249.5h.01M591.6 284.8h.01M596.9 272.9h.01M595 295.4h.01M619.4 292.4h.01M612.4 244.5h.01M618.4 281.4h.01M615.6 303.6h.01M599.1 242.9h.01M617.8 290.8h.01M614.6 278.6h.01M606.6 310.9h.01M620.5 309.1h.01M605.7 250.4h.01M608.3 276.9h.01M618.8 259.8h.01M604.5 275.3h.01M597.1 303.3h.01M587.1 272.9h.01M619.5 281.4h.01M616.9 258.8h.01M604.2 243.2h.01M603.8 297.6h.01M594.3 280.7h.01M590.9 272.3h.01M596.3 302.4h.01M599.8 280.8h.01M615.3 264.6h.01M614.5 271.5h.01M623.6 282.2h.01M618.9 283.5h.01M617.5 269h.01M592.6 266.9h.01M600.7 239.2h.01M620.8 279.6h.01M607.7 293.9h.01M618.4 241.3h.01M625.3 278.3h.01M604.4 265.3h.01M605.6 299h.01M618.6 316.6h.01M609.2 296.9h.01M608.3 284.1h.01M605 312.2h.01M611.7 282.3h.01M590.6 282.9h.01M621.1 258.2h.01M618.3 260.4h.01M624 279.5h.01M597 262.4h.01M611.1 296.8h.01M594 243.6h.01M596.4 288.3h.01M604.2 298.5h.01M602.6 284.8h.01M592.6 286.3h.01M615.3 256.8h.01M616.2 249h.01M595.7 296.1h.01M613.8 268h.01M617.4 298.3h.01M627.2 272.5h.01M601.6 253.2h.01M597 276.9h.01M592.5 256.9h.01M619.1 239.5h.01M613.7 270.4h.01M618.1 258.6h.01M607.6 254.9h.01M602.6 261.4h.01M628.3 267.4h.01M610.5 249.2h.01M604.6 307.4h.01M596.4 242.2h.01M591.8 289.6h.01M610.7 267.3h.01M618.2 255.5h.01M613.5 271.1h.01M620.4 272.7h.01M606.5 254.3h.01M592.3 293.2h.01M602.8 282.6h.01M602.6 259.2h.01M593.3 298.5h.01M592.9 256.2h.01M593.1 282.4h.01M621.2 240.5h.01M623.6 271.5h.01M605.7 245.5h.01M592.3 271.6h.01M623.7 262.7h.01M597 239.7h.01M610.1 281.6h.01M595.5 258.6h.01M614.6 251.7h.01M621.6 307.2h.01M591.9 283.3h.01M599.3 246.4h.01M618.1 282.4h.01M598.2 257.6h.01M618.8 310.7h.01M612.5 255.5h.01M607 284h.01M599.8 286h.01M610.5 241.5h.01M591.3 270.9h.01M592.6 281.3h.01M612.8 287.6h.01M626.1 286.2h.01M620.9 247.2h.01M612.8 303.6h.01M605.6 250.8h.01M607.7 294.6h.01M622 308.9h.01M586.8 271.8h.01M611.6 248.8h.01M592.7 285.2h.01M616.6 285.8h.01M601.9 269.5h.01M617.3 283h.01M597.5 261.9h.01M594.7 293.6h.01M617.4 267h.01M591.3 285.2h.01M601.2 281.7h.01M615.7 238.2h.01M596.1 271.8h.01M623.7 262.5h.01M613.2 315.1h.01M627.4 265.9h.01M598.4 299.2h.01M595.6 269.1h.01M620.9 283.5h.01M627.5 272.4h.01M606.3 251.3h.01M622.3 283.2h.01M599.6 238.2h.01M605.9 267.2h.01M616.7 260.7h.01M590.8 252.6h.01M597.9 253.3h.01M611.8 263h.01M602.7 238.3h.01M614 280.8h.01M602.6 281.1h.01M596.2 273.8h.01M610.6 316.6h.01M609.5 285.6h.01M624 264h.01M613.5 313.5h.01M611.6 264.9h.01M615.4 295.9h.01M616.8 291.6h.01M603.4 294.8h.01M601.9 256.5h.01M590.5 281.9h.01M593.7 260.4h.01M599.4 267.5h.01M609.8 281.6h.01M604.1 281.4h.01M622.8 279.5h.01M609.2 265.9h.01M594.3 254.9h.01M590 260.6h.01M587.8 271h.01M611.9 247.1h.01M620.2 273.9h.01M614.2 272.1h.01M622 291.9h.01M591.4 281.5h.01M597.9 297.2h.01M596.1 240.7h.01M588.3 270.6h.01M605.6 292h.01M600.4 244.8h.01M598.1 287.2h.01M612.6 269.7h.01M595.8 286.9h.01M588.6 277.9h.01M599 270.8h.01M613.6 296.4h.01M616.7 272.5h.01M601.3 287.7h.01M606.8 311.7h.01M612.5 290.8h.01M607.8 277.1h.01M616 285.6h.01M608.4 315.3h.01M611.1 262.2h.01M594 271h.01M605.3 272.3h.01M597.6 276.1h.01M612 246.1h.01M615.8 294.3h.01M594.8 257.8h.01M587.7 275.4h.01M616.5 270.7h.01M612.6 286h.01M608.9 311.3h.01M606.1 258.6h.01M591.9 289.3h.01M620.6 269.2h.01M589.8 260h.01M618 299.1h.01M626.2 268.9h.01M589.9 260.7h.01M603.8 276.2h.01M610 259h.01M616.1 242.6h.01M600 284.2h.01M604.8 255.3h.01M616.2 261.7h.01M614.5 256.5h.01M609 263.5h.01M627.1 276.8h.01M615.9 310h.01M598.8 266.5h.01M617.2 251.1h.01M597.5 253.4h.01M608.8 297.2h.01M606 279.3h.01M591.7 257.2h.01M601.5 266.3h.01M615.8 257.2h.01M621.4 311.9h.01M594.8 276.7h.01M596.3 276.3h.01M612.7 238.9h.01M597 296.8h.01M616.2 273.5h.01M611.8 279.9h.01M601.6 244.8h.01M619.6 299.3h.01M620.8 303.6h.01M606.4 299.7h.01M590.4 284.5h.01M601.3 267.9h.01M598.3 302.2h.01M599.5 296.8h.01M613.3 298.7h.01M607 284.8h.01M611.6 260.7h.01M599.8 301.4h.01M608.8 269.4h.01M617.9 289.5h.01M603.3 260.1h.01M605.3 269.3h.01M588.3 277.3h.01M626.7 260h.01M619.6 298.2h.01M613 257.8h.01M616.5 284.4h.01M602 309.9h.01M601.4 289.5h.01M592.9 253h.01M626 274.8h.01M622.3 255.1h.01M607.3 256.9h.01M622.3 285.4h.01M603.8 268.5h.01M595.5 254.7h.01M617.2 262.8h.01M590.7 268.6h.01M603.4 270h.01M606.7 269.6h.01M596.2 250.1h.01M607.4 288.8h.01M590.7 275.8h.01M593.8 285.7h.01M601.6 290.8h.01M621.4 270.1h.01M603.3 244.3h.01M595.5 287.3h.01M622.5 249h.01M602.5 280.8h.01M616.4 264.1h.01M602.6 295.2h.01M607.9 272.7h.01M611.5 247.3h.01M607.3 261.4h.01M593.5 279.6h.01M617.8 279.7h.01M608.6 291.1h.01M611.7 293.2h.01M603.3 269.7h.01M601.5 257.3h.01M611.5 274.5h.01M591.9 296.2h.01M610.1 316.6h.01M626.9 258.8h.01M593.9 293.9h.01M625.3 278.9h.01M606.4 315.1h.01M596.2 294h.01M603.4 274.8h.01M600.1 256h.01M599.7 259.7h.01M603.1 282.5h.01M622.7 291.8h.01M600.9 303.8h.01M587.4 268h.01M617.6 281.2h.01M589.9 277.6h.01M605.9 243.7h.01M597.1 299.1h.01M599.1 273.8h.01M603.4 290.8h.01M602.8 288.3h.01" stroke="#f3776e" stroke-width="1.65" stroke-linecap="round" fill="none"/>
<path d="M644.4 265.4h.01M646.7 265.9h.01M639.5 271.2h.01M647.1 269.2h.01M642.1 251.3h.01M635.3 267.1h.01M652 250.9h.01M658.2 265.1h.01M660 276.4h.01M644.2 267h.01M656.5 259h.01M652.3 256.3h.01M658.2 257.2h.01M628.6 286.6h.01M638 258.5h.01M639.2 264.1h.01M655.5 258.9h.01M642.4 264.7h.01M632.1 265.5h.01M637.8 265.8h.01M630.4 269.3h.01M654.6 260.9h.01M644.4 267.1h.01M636.4 256.4h.01M660 276.3h.01M650.7 266.3h.01M647 257.9h.01M634.3 252.9h.01M643.9 268.1h.01M626.8 273.8h.01M634.7 259.7h.01M655.4 273.2h.01M651 269.7h.01M650.3 258.5h.01M653.7 271h.01M638.5 266.1h.01M638.6 277.3h.01M647.7 263.9h.01M649.3 240.8h.01M656.8 255.3h.01M655.8 270h.01M632.1 263h.01M646.9 261h.01M637.1 267.4h.01M636.7 270.5h.01M645.7 280.8h.01M635.2 276.3h.01M649.8 276.6h.01M632.1 267.3h.01M657.5 246.9h.01M638 263.8h.01M638.2 281h.01M657.3 252.5h.01M630.9 258.6h.01M647.6 255.4h.01M639.5 241h.01M641.4 272.3h.01M646.5 263.3h.01M641.7 261.7h.01M639.4 268.6h.01M646.5 271.9h.01M645.6 275.7h.01M641.2 286.3h.01M650.9 254.3h.01M675.1 256.7h.01M654 243.6h.01M643.8 268.9h.01M653.6 257.6h.01M635.2 283.3h.01M643.2 269h.01M639.7 265.6h.01M632.4 279.3h.01M630.5 254.3h.01M647 261.2h.01M655.4 264.3h.01M630.8 271.4h.01M643.5 265.1h.01M633.3 272.3h.01M657.2 267.5h.01M660 260.3h.01M627.1 244.7h.01M661.4 260.9h.01M644.4 267.3h.01M647 259.2h.01M663.1 269.5h.01M649 254.1h.01M649.2 270.5h.01M647.5 253.8h.01M655 263.5h.01M647.2 256.9h.01M635.8 249.1h.01M641.2 261h.01M639.2 264.1h.01M640.4 267.3h.01M641.8 258.7h.01M641.5 264.5h.01M649.5 264.5h.01M636.6 260.2h.01M643.6 254.1h.01M658 251.9h.01M638.8 265.8h.01M635.6 263h.01M638.4 252.2h.01M644.1 262.7h.01M638.2 278.9h.01M650.6 270.6h.01M632.1 258.9h.01M625.9 259.9h.01M630.7 290.2h.01M639.3 269.2h.01M637.4 266.9h.01M634.1 272.3h.01M637 276.3h.01M658.9 262.5h.01M649.7 257.8h.01M649.8 250.9h.01M630.7 270.5h.01M645.2 276h.01M637.9 280.5h.01M630.9 259.5h.01M626.7 275.9h.01M630 276.1h.01M642.1 260.8h.01M640.8 246.8h.01M649.8 259.7h.01M638.6 269.8h.01M649.3 259.6h.01M638.5 276.1h.01M637.9 272h.01M657.3 268.1h.01M662.2 261.5h.01M643.7 261.7h.01M646.9 267.3h.01M674.3 248.9h.01M640.8 282.4h.01M631.5 283.5h.01M626.8 264.5h.01M637.2 265.6h.01M632.4 278.8h.01M647 276h.01M626.6 256.8h.01M648.9 257.8h.01M631.4 273.8h.01M657.3 240.8h.01M662.6 267.3h.01M627.7 268.9h.01M635.4 274.5h.01M662.9 275.7h.01M642.7 273.5h.01M645.7 263.9h.01M664.3 256.6h.01M659.2 255.9h.01M653.3 262.5h.01M639.6 259.4h.01M639.2 267.3h.01M638.1 264.3h.01M639.5 276.2h.01M640.3 265.1h.01M645.8 276.5h.01M643.1 279.5h.01M640.4 282.7h.01M647.1 256.2h.01M651.7 270.4h.01M633.1 269.2h.01M645.3 260.5h.01M640.4 266.6h.01M649 268.5h.01M656.1 251.5h.01M670.1 241.3h.01M659.7 251h.01M627.5 271h.01M643.7 275.4h.01M644.2 270.6h.01M650.1 268.6h.01M640.7 263.6h.01M661.1 269.9h.01M647.3 263h.01M642.6 287.3h.01M649.2 266.6h.01M629.9 280.5h.01M665.9 246.1h.01M646.8 278.2h.01M644.4 272.5h.01M657.5 241.4h.01M637.6 275.7h.01M644.4 263.9h.01M641.9 266.6h.01M644.7 258.1h.01M641.3 268.2h.01M634.2 275.6h.01M637.6 255.8h.01M651.7 245.6h.01M660.3 244.1h.01M654.5 255.4h.01M657.8 251.4h.01M651.8 254.6h.01M626.5 280.6h.01M649.1 264.3h.01M656.5 246.8h.01M630.2 276.4h.01M636 268.4h.01M640 257.9h.01M653.2 255.8h.01M661.3 253.9h.01M652.2 254.7h.01M634.8 264.8h.01M636.3 274.1h.01M640.4 254.8h.01M631 280.7h.01M629.7 267.8h.01M642 265.5h.01M650 267.6h.01M648 257.2h.01M656.5 258.7h.01M641.7 281.4h.01M633.4 276.5h.01M655.6 256.6h.01M646.9 263h.01M650.3 261.6h.01M645.7 270h.01M625.7 279.7h.01M647.4 282.2h.01M643.5 257.1h.01M648 256.8h.01M630.6 270.5h.01M652.3 270.4h.01M654 258.9h.01M642.3 267.2h.01M654.3 255h.01M651.4 250h.01M645.8 270.7h.01M650.6 261.1h.01M631.6 253.7h.01M635.7 260.7h.01M645 279.9h.01M638.7 276.6h.01M638.8 255.8h.01M646.9 269.7h.01M627.4 263.5h.01M642.1 272.9h.01M638.8 272h.01M647.5 261.3h.01M652 271.4h.01M642.4 268.4h.01M630.2 266.1h.01M645.1 271.6h.01M631.5 258.1h.01M660.6 276.8h.01M646 267.4h.01M635.2 273.7h.01M652.7 254.6h.01M650.6 260.4h.01M631.9 266.1h.01M642 279.2h.01" stroke="#12b441" stroke-width="1.7" stroke-linecap="round" fill="none"/>
<path d="M612.3 299.2h.01M613.3 299.8h.01M614 298.8h.01M612.8 300.5h.01M616.2 293h.01M597.7 306.4h.01M618.7 308.1h.01M615.3 312.3h.01M609.4 313.4h.01M612 315.6h.01M613.3 321.5h.01M615 325.4h.01M607.3 330.2h.01M610 331.9h.01M615 331.6h.01M614 306.4h.01" stroke="#6199fb" stroke-width="1.65" stroke-linecap="round" fill="none"/>
<path d="M570.8 296V350.8H598" stroke="#000" stroke-width="1" fill="none"/>
<path d="M570.8 289.5L567.3 296.4H574.3Z M603.6 350.8L596.8 347.3V354.3Z" fill="#000"/>
<text x="609.1" y="356" font-family="Liberation Sans, Arial, sans-serif" font-size="12" textLength="49.3" lengthAdjust="spacingAndGlyphs">UMAP_1</text>
<text transform="translate(573.4,282.9) rotate(-90)" font-family="Liberation Sans, Arial, sans-serif" font-size="12" textLength="49.4" lengthAdjust="spacingAndGlyphs">UMAP_2</text>
</g>
<g id="pc">
<text x="372.3" y="392.4" font-family="Liberation Sans, Arial, sans-serif" font-weight="700" font-size="20" textLength="9" lengthAdjust="spacingAndGlyphs">c</text>
<rect x="390.7" y="403.8" width="157.9" height="7.4" fill="#f8766d"/>
<rect x="549.2" y="403.8" width="62" height="7.4" fill="#00ba38"/>
<rect x="612" y="403.8" width="29.8" height="7.4" fill="#619cff"/>
<text x="475.5" y="398.4" font-family="Liberation Sans, Arial, sans-serif" font-size="9.6" text-anchor="middle">1</text>
<text x="582.2" y="398.4" font-family="Liberation Sans, Arial, sans-serif" font-size="9.6" text-anchor="middle">2</text>
<text x="627.4" y="398.4" font-family="Liberation Sans, Arial, sans-serif" font-size="9.6" text-anchor="middle">3</text>
<rect x="390.7" y="418.7" width="251.1" height="384.9" fill="#2a0a2a"/>
<defs><filter id="hb" x="-2%" y="-2%" width="104%" height="104%"><feGaussianBlur stdDeviation="0.5 0"/></filter><clipPath id="hc"><rect x="390.7" y="418.7" width="251.2" height="384.9"/></clipPath></defs>
<g clip-path="url(#hc)"><g filter="url(#hb)">
<path d="M391.5 418.70v12.83M395.5 418.70v12.83M402.5 418.70v12.83M411.5 418.70v12.83M416.5 418.70v12.83M417.5 418.70v12.83M435.5 418.70v12.83M456.5 418.70v12.83M471.5 418.70v12.83M496.5 418.70v12.83M526.5 418.70v12.83M546.5 418.70v12.83M407.5 431.53v12.83M442.5 431.53v12.83M447.5 431.53v12.83M476.5 431.53v12.83M499.5 431.53v12.83M500.5 431.53v12.83M501.5 431.53v12.83M543.5 431.53v12.83M444.5 444.36v12.83M429.5 470.02v12.83M479.5 470.02v12.83M506.5 470.02v12.83M398.5 482.85v12.83M424.5 482.85v12.83M445.5 482.85v12.83M524.5 482.85v12.83M398.5 495.68v12.83M401.5 495.68v12.83M437.5 495.68v12.83M465.5 495.68v12.83M468.5 495.68v12.83M531.5 495.68v12.83M536.5 495.68v12.83M540.5 495.68v12.83M392.5 521.34v12.83M423.5 521.34v12.83M512.5 521.34v12.83M461.5 534.17v12.83M532.5 547.00v12.83M589.5 547.00v12.83M596.5 547.00v12.83M601.5 547.00v12.83M604.5 547.00v12.83M606.5 547.00v12.83M463.5 559.83v12.83M572.5 559.83v12.83M574.5 559.83v12.83M577.5 559.83v12.83M595.5 559.83v12.83M611.5 559.83v12.83M552.5 572.66v12.83M567.5 572.66v12.83M568.5 572.66v12.83M590.5 572.66v12.83M433.5 585.49v12.83M508.5 585.49v12.83M564.5 585.49v12.83M572.5 585.49v12.83M583.5 585.49v12.83M584.5 585.49v12.83M603.5 585.49v12.83M462.5 598.32v12.83M514.5 598.32v12.83M573.5 598.32v12.83M588.5 598.32v12.83M589.5 598.32v12.83M605.5 598.32v12.83M606.5 598.32v12.83M610.5 598.32v12.83M417.5 611.15v12.83M564.5 611.15v12.83M575.5 611.15v12.83M599.5 611.15v12.83M602.5 611.15v12.83M570.5 623.98v12.83M571.5 623.98v12.83M610.5 623.98v12.83M564.5 636.81v12.83M565.5 636.81v12.83M592.5 636.81v12.83M599.5 636.81v12.83M609.5 636.81v12.83M553.5 649.64v12.83M556.5 649.64v12.83M557.5 649.64v12.83M569.5 649.64v12.83M576.5 649.64v12.83M616.5 675.30v12.83M626.5 675.30v12.83M627.5 675.30v12.83M628.5 675.30v12.83M630.5 675.30v12.83M633.5 675.30v12.83M497.5 688.13v12.83M613.5 688.13v12.83M615.5 688.13v12.83M625.5 688.13v12.83M631.5 688.13v12.83M591.5 700.96v12.83M395.5 713.79v12.83M409.5 713.79v12.83M427.5 713.79v12.83M627.5 713.79v12.83M639.5 713.79v12.83M613.5 726.62v12.83M639.5 726.62v12.83M612.5 739.45v12.83M626.5 739.45v12.83M627.5 739.45v12.83M443.5 752.28v12.83M629.5 752.28v12.83M639.5 752.28v12.83M531.5 765.11v12.83M538.5 765.11v12.83M617.5 765.11v12.83M639.5 765.11v12.83M483.5 777.94v12.83M485.5 777.94v12.83M524.5 777.94v12.83M537.5 777.94v12.83M593.5 777.94v12.83M637.5 777.94v12.83M437.5 790.77v12.83M487.5 790.77v12.83" stroke="#888800" stroke-width="1.02" fill="none"/>
<path d="M392.5 418.70v12.83M396.5 418.70v12.83M413.5 418.70v12.83M430.5 418.70v12.83M431.5 418.70v12.83M448.5 418.70v12.83M452.5 418.70v12.83M468.5 418.70v12.83M469.5 418.70v12.83M470.5 418.70v12.83M472.5 418.70v12.83M479.5 418.70v12.83M482.5 418.70v12.83M485.5 418.70v12.83M495.5 418.70v12.83M515.5 418.70v12.83M531.5 418.70v12.83M533.5 418.70v12.83M538.5 418.70v12.83M547.5 418.70v12.83M397.5 431.53v12.83M401.5 431.53v12.83M446.5 431.53v12.83M456.5 431.53v12.83M469.5 431.53v12.83M521.5 431.53v12.83M524.5 431.53v12.83M528.5 431.53v12.83M534.5 431.53v12.83M536.5 431.53v12.83M411.5 457.19v12.83M423.5 457.19v12.83M476.5 470.02v12.83M521.5 470.02v12.83M526.5 482.85v12.83M392.5 495.68v12.83M486.5 495.68v12.83M532.5 508.51v12.83M397.5 521.34v12.83M403.5 521.34v12.83M445.5 521.34v12.83M455.5 521.34v12.83M467.5 521.34v12.83M519.5 534.17v12.83M549.5 547.00v12.83M571.5 547.00v12.83M581.5 547.00v12.83M603.5 547.00v12.83M550.5 559.83v12.83M562.5 559.83v12.83M575.5 559.83v12.83M556.5 572.66v12.83M557.5 572.66v12.83M576.5 572.66v12.83M580.5 572.66v12.83M600.5 572.66v12.83M601.5 572.66v12.83M605.5 572.66v12.83M402.5 585.49v12.83M473.5 585.49v12.83M542.5 585.49v12.83M567.5 585.49v12.83M570.5 585.49v12.83M571.5 585.49v12.83M573.5 585.49v12.83M582.5 585.49v12.83M587.5 585.49v12.83M589.5 585.49v12.83M604.5 585.49v12.83M446.5 598.32v12.83M508.5 598.32v12.83M555.5 598.32v12.83M581.5 598.32v12.83M611.5 598.32v12.83M565.5 611.15v12.83M568.5 611.15v12.83M570.5 611.15v12.83M579.5 611.15v12.83M585.5 611.15v12.83M590.5 611.15v12.83M596.5 611.15v12.83M600.5 611.15v12.83M609.5 611.15v12.83M610.5 611.15v12.83M561.5 623.98v12.83M591.5 623.98v12.83M608.5 623.98v12.83M544.5 636.81v12.83M561.5 636.81v12.83M563.5 636.81v12.83M572.5 636.81v12.83M581.5 636.81v12.83M611.5 636.81v12.83M555.5 649.64v12.83M591.5 649.64v12.83M592.5 649.64v12.83M549.5 662.47v12.83M614.5 675.30v12.83M617.5 675.30v12.83M612.5 688.13v12.83M618.5 688.13v12.83M636.5 688.13v12.83M638.5 688.13v12.83M487.5 713.79v12.83M612.5 713.79v12.83M621.5 726.62v12.83M627.5 726.62v12.83M488.5 752.28v12.83M616.5 752.28v12.83M632.5 752.28v12.83M641.5 752.28v12.83M624.5 765.11v12.83M636.5 765.11v12.83M462.5 777.94v12.83M464.5 777.94v12.83M477.5 777.94v12.83M509.5 777.94v12.83M517.5 777.94v12.83M625.5 777.94v12.83M630.5 777.94v12.83M631.5 777.94v12.83M515.5 790.77v12.83" stroke="#999900" stroke-width="1.02" fill="none"/>
<path d="M393.5 418.70v12.83M427.5 418.70v12.83M471.5 482.85v12.83M512.5 482.85v12.83M479.5 495.68v12.83M496.5 495.68v12.83M632.5 495.68v12.83M452.5 521.34v12.83M583.5 559.83v12.83M462.5 585.49v12.83M464.5 585.49v12.83M588.5 585.49v12.83M446.5 611.15v12.83M508.5 611.15v12.83M572.5 611.15v12.83M616.5 700.96v12.83M622.5 700.96v12.83M638.5 700.96v12.83M623.5 713.79v12.83M540.5 726.62v12.83M399.5 777.94v12.83M513.5 777.94v12.83M547.5 777.94v12.83M629.5 790.77v12.83" stroke="#aa8822" stroke-width="1.02" fill="none"/>
<path d="M394.5 418.70v12.83M540.5 418.70v12.83M398.5 431.53v12.83M409.5 431.53v12.83M464.5 431.53v12.83M481.5 431.53v12.83M503.5 431.53v12.83M546.5 431.53v12.83M591.5 431.53v12.83M511.5 444.36v12.83M410.5 457.19v12.83M514.5 457.19v12.83M522.5 457.19v12.83M534.5 457.19v12.83M403.5 470.02v12.83M414.5 470.02v12.83M419.5 470.02v12.83M469.5 470.02v12.83M483.5 470.02v12.83M489.5 470.02v12.83M501.5 470.02v12.83M509.5 470.02v12.83M548.5 470.02v12.83M455.5 482.85v12.83M468.5 482.85v12.83M504.5 482.85v12.83M514.5 482.85v12.83M519.5 482.85v12.83M543.5 482.85v12.83M544.5 482.85v12.83M407.5 495.68v12.83M459.5 495.68v12.83M473.5 495.68v12.83M529.5 495.68v12.83M533.5 495.68v12.83M595.5 495.68v12.83M631.5 495.68v12.83M410.5 508.51v12.83M442.5 508.51v12.83M470.5 508.51v12.83M535.5 508.51v12.83M542.5 508.51v12.83M633.5 508.51v12.83M639.5 508.51v12.83M396.5 521.34v12.83M409.5 521.34v12.83M417.5 521.34v12.83M442.5 521.34v12.83M449.5 521.34v12.83M498.5 521.34v12.83M513.5 521.34v12.83M565.5 521.34v12.83M446.5 534.17v12.83M476.5 534.17v12.83M391.5 547.00v12.83M475.5 547.00v12.83M611.5 547.00v12.83M630.5 547.00v12.83M401.5 559.83v12.83M404.5 559.83v12.83M460.5 559.83v12.83M502.5 559.83v12.83M637.5 559.83v12.83M469.5 572.66v12.83M586.5 572.66v12.83M607.5 572.66v12.83M436.5 585.49v12.83M484.5 585.49v12.83M485.5 585.49v12.83M502.5 585.49v12.83M529.5 585.49v12.83M536.5 585.49v12.83M607.5 585.49v12.83M637.5 585.49v12.83M640.5 585.49v12.83M396.5 598.32v12.83M430.5 598.32v12.83M522.5 598.32v12.83M537.5 598.32v12.83M398.5 611.15v12.83M466.5 611.15v12.83M470.5 611.15v12.83M473.5 611.15v12.83M479.5 611.15v12.83M492.5 611.15v12.83M594.5 611.15v12.83M607.5 611.15v12.83M403.5 636.81v12.83M433.5 636.81v12.83M436.5 636.81v12.83M444.5 636.81v12.83M457.5 636.81v12.83M459.5 636.81v12.83M471.5 636.81v12.83M475.5 636.81v12.83M493.5 636.81v12.83M597.5 636.81v12.83M625.5 636.81v12.83M581.5 649.64v12.83M553.5 700.96v12.83M572.5 700.96v12.83M597.5 700.96v12.83M603.5 700.96v12.83M620.5 700.96v12.83M408.5 726.62v12.83M418.5 726.62v12.83M445.5 726.62v12.83M506.5 726.62v12.83M513.5 726.62v12.83M515.5 726.62v12.83M528.5 726.62v12.83M542.5 726.62v12.83M395.5 739.45v12.83M420.5 739.45v12.83M447.5 739.45v12.83M541.5 739.45v12.83M639.5 739.45v12.83M398.5 777.94v12.83M400.5 777.94v12.83M413.5 777.94v12.83M415.5 777.94v12.83M467.5 777.94v12.83M401.5 790.77v12.83M412.5 790.77v12.83M538.5 790.77v12.83M577.5 790.77v12.83M578.5 790.77v12.83" stroke="#774433" stroke-width="1.02" fill="none"/>
<path d="M397.5 418.70v12.83M419.5 431.53v12.83M477.5 431.53v12.83M566.5 431.53v12.83M614.5 431.53v12.83M470.5 444.36v12.83M526.5 444.36v12.83M444.5 457.19v12.83M530.5 457.19v12.83M535.5 457.19v12.83M548.5 457.19v12.83M416.5 470.02v12.83M430.5 470.02v12.83M462.5 470.02v12.83M574.5 470.02v12.83M477.5 482.85v12.83M500.5 482.85v12.83M510.5 482.85v12.83M453.5 495.68v12.83M462.5 495.68v12.83M469.5 495.68v12.83M501.5 495.68v12.83M548.5 495.68v12.83M629.5 495.68v12.83M416.5 508.51v12.83M537.5 508.51v12.83M581.5 508.51v12.83M421.5 521.34v12.83M504.5 521.34v12.83M519.5 521.34v12.83M449.5 534.17v12.83M545.5 534.17v12.83M435.5 547.00v12.83M445.5 547.00v12.83M501.5 547.00v12.83M584.5 547.00v12.83M559.5 559.83v12.83M565.5 559.83v12.83M580.5 559.83v12.83M609.5 559.83v12.83M563.5 572.66v12.83M608.5 572.66v12.83M420.5 585.49v12.83M437.5 585.49v12.83M532.5 585.49v12.83M533.5 585.49v12.83M562.5 585.49v12.83M625.5 585.49v12.83M494.5 598.32v12.83M553.5 598.32v12.83M580.5 598.32v12.83M585.5 598.32v12.83M587.5 598.32v12.83M604.5 598.32v12.83M608.5 598.32v12.83M632.5 598.32v12.83M399.5 611.15v12.83M400.5 611.15v12.83M555.5 623.98v12.83M415.5 636.81v12.83M438.5 636.81v12.83M483.5 636.81v12.83M497.5 636.81v12.83M553.5 636.81v12.83M555.5 636.81v12.83M590.5 636.81v12.83M554.5 649.64v12.83M558.5 649.64v12.83M539.5 675.30v12.83M639.5 675.30v12.83M396.5 688.13v12.83M534.5 688.13v12.83M539.5 688.13v12.83M616.5 688.13v12.83M440.5 713.79v12.83M484.5 713.79v12.83M546.5 713.79v12.83M553.5 713.79v12.83M569.5 713.79v12.83M427.5 726.62v12.83M547.5 726.62v12.83M437.5 739.45v12.83M536.5 739.45v12.83M398.5 752.28v12.83M404.5 752.28v12.83M421.5 752.28v12.83M470.5 752.28v12.83M486.5 752.28v12.83M517.5 752.28v12.83M542.5 752.28v12.83M544.5 765.11v12.83M466.5 777.94v12.83M481.5 777.94v12.83M484.5 777.94v12.83M496.5 777.94v12.83M536.5 777.94v12.83M565.5 777.94v12.83M569.5 777.94v12.83M434.5 790.77v12.83M461.5 790.77v12.83" stroke="#665511" stroke-width="1.02" fill="none"/>
<path d="M398.5 418.70v12.83M578.5 559.83v12.83M603.5 559.83v12.83M524.5 598.32v12.83M599.5 598.32v12.83M598.5 623.98v12.83M629.5 777.94v12.83M640.5 777.94v12.83M536.5 790.77v12.83" stroke="#888811" stroke-width="1.02" fill="none"/>
<path d="M399.5 418.70v12.83M428.5 418.70v12.83M433.5 418.70v12.83M443.5 418.70v12.83M527.5 418.70v12.83M532.5 418.70v12.83M545.5 418.70v12.83M399.5 431.53v12.83M471.5 431.53v12.83M489.5 431.53v12.83M532.5 431.53v12.83M404.5 470.02v12.83M488.5 482.85v12.83M461.5 508.51v12.83M429.5 521.34v12.83M441.5 521.34v12.83M491.5 521.34v12.83M501.5 521.34v12.83M534.5 521.34v12.83M586.5 559.83v12.83M573.5 572.66v12.83M463.5 585.49v12.83M559.5 585.49v12.83M563.5 585.49v12.83M574.5 585.49v12.83M585.5 585.49v12.83M414.5 598.32v12.83M442.5 598.32v12.83M486.5 598.32v12.83M552.5 598.32v12.83M393.5 611.15v12.83M420.5 611.15v12.83M550.5 611.15v12.83M583.5 611.15v12.83M421.5 636.81v12.83M425.5 636.81v12.83M480.5 636.81v12.83M567.5 636.81v12.83M569.5 636.81v12.83M594.5 636.81v12.83M598.5 636.81v12.83M605.5 636.81v12.83M599.5 649.64v12.83M634.5 675.30v12.83M641.5 700.96v12.83M621.5 713.79v12.83M638.5 713.79v12.83M411.5 777.94v12.83M419.5 777.94v12.83M423.5 777.94v12.83M439.5 777.94v12.83M480.5 777.94v12.83M490.5 777.94v12.83M494.5 777.94v12.83M498.5 777.94v12.83M511.5 777.94v12.83M548.5 777.94v12.83M628.5 777.94v12.83" stroke="#998811" stroke-width="1.02" fill="none"/>
<path d="M400.5 418.70v12.83M489.5 418.70v12.83M546.5 444.36v12.83M422.5 482.85v12.83M444.5 495.68v12.83M526.5 547.00v12.83M602.5 585.49v12.83M557.5 636.81v12.83M619.5 713.79v12.83M394.5 726.62v12.83M503.5 752.28v12.83M546.5 752.28v12.83M515.5 765.11v12.83M537.5 765.11v12.83M622.5 765.11v12.83" stroke="#776600" stroke-width="1.02" fill="none"/>
<path d="M401.5 418.70v12.83M419.5 418.70v12.83M422.5 418.70v12.83M519.5 418.70v12.83M631.5 418.70v12.83M425.5 431.53v12.83M439.5 431.53v12.83M490.5 431.53v12.83M494.5 431.53v12.83M506.5 431.53v12.83M522.5 431.53v12.83M583.5 431.53v12.83M407.5 457.19v12.83M418.5 457.19v12.83M473.5 457.19v12.83M517.5 457.19v12.83M576.5 457.19v12.83M405.5 470.02v12.83M412.5 470.02v12.83M496.5 470.02v12.83M507.5 470.02v12.83M513.5 470.02v12.83M514.5 470.02v12.83M407.5 482.85v12.83M511.5 482.85v12.83M522.5 482.85v12.83M536.5 482.85v12.83M442.5 495.68v12.83M467.5 495.68v12.83M481.5 495.68v12.83M487.5 495.68v12.83M498.5 495.68v12.83M475.5 508.51v12.83M479.5 508.51v12.83M503.5 508.51v12.83M454.5 521.34v12.83M484.5 521.34v12.83M507.5 521.34v12.83M540.5 534.17v12.83M404.5 547.00v12.83M427.5 547.00v12.83M458.5 547.00v12.83M525.5 547.00v12.83M557.5 547.00v12.83M431.5 559.83v12.83M432.5 559.83v12.83M490.5 559.83v12.83M561.5 585.49v12.83M615.5 585.49v12.83M635.5 585.49v12.83M404.5 598.32v12.83M456.5 598.32v12.83M483.5 598.32v12.83M404.5 611.15v12.83M411.5 611.15v12.83M448.5 611.15v12.83M548.5 611.15v12.83M577.5 611.15v12.83M448.5 636.81v12.83M478.5 636.81v12.83M482.5 636.81v12.83M512.5 636.81v12.83M583.5 636.81v12.83M618.5 700.96v12.83M467.5 726.62v12.83M479.5 726.62v12.83M481.5 726.62v12.83M497.5 726.62v12.83M518.5 726.62v12.83M539.5 726.62v12.83M616.5 726.62v12.83M448.5 739.45v12.83M533.5 739.45v12.83M628.5 739.45v12.83M454.5 777.94v12.83M463.5 777.94v12.83M464.5 790.77v12.83M465.5 790.77v12.83M494.5 790.77v12.83M510.5 790.77v12.83M613.5 790.77v12.83" stroke="#885533" stroke-width="1.02" fill="none"/>
<path d="M403.5 418.70v12.83M407.5 418.70v12.83M414.5 418.70v12.83M424.5 418.70v12.83M425.5 418.70v12.83M426.5 418.70v12.83M450.5 418.70v12.83M463.5 418.70v12.83M498.5 418.70v12.83M513.5 418.70v12.83M521.5 418.70v12.83M529.5 418.70v12.83M537.5 418.70v12.83M413.5 431.53v12.83M426.5 431.53v12.83M417.5 444.36v12.83M450.5 470.02v12.83M516.5 470.02v12.83M427.5 482.85v12.83M546.5 482.85v12.83M547.5 482.85v12.83M406.5 495.68v12.83M422.5 495.68v12.83M525.5 495.68v12.83M485.5 521.34v12.83M502.5 521.34v12.83M568.5 547.00v12.83M574.5 547.00v12.83M593.5 547.00v12.83M556.5 559.83v12.83M598.5 559.83v12.83M594.5 572.66v12.83M552.5 585.49v12.83M557.5 585.49v12.83M581.5 585.49v12.83M591.5 585.49v12.83M599.5 585.49v12.83M600.5 585.49v12.83M611.5 585.49v12.83M549.5 598.32v12.83M561.5 598.32v12.83M583.5 598.32v12.83M584.5 598.32v12.83M403.5 611.15v12.83M557.5 611.15v12.83M576.5 611.15v12.83M605.5 611.15v12.83M553.5 623.98v12.83M495.5 636.81v12.83M503.5 636.81v12.83M549.5 636.81v12.83M559.5 636.81v12.83M571.5 636.81v12.83M601.5 636.81v12.83M615.5 675.30v12.83M621.5 675.30v12.83M635.5 675.30v12.83M624.5 688.13v12.83M627.5 688.13v12.83M633.5 688.13v12.83M634.5 688.13v12.83M635.5 688.13v12.83M401.5 713.79v12.83M460.5 713.79v12.83M613.5 713.79v12.83M629.5 713.79v12.83M630.5 713.79v12.83M641.5 726.62v12.83M508.5 739.45v12.83M482.5 752.28v12.83M522.5 765.11v12.83M540.5 765.11v12.83M620.5 765.11v12.83M447.5 777.94v12.83M493.5 777.94v12.83M520.5 777.94v12.83M405.5 790.77v12.83M482.5 790.77v12.83" stroke="#aaaa00" stroke-width="1.02" fill="none"/>
<path d="M404.5 418.70v12.83M418.5 418.70v12.83M420.5 418.70v12.83M442.5 418.70v12.83M446.5 418.70v12.83M455.5 418.70v12.83M464.5 418.70v12.83M480.5 418.70v12.83M503.5 418.70v12.83M402.5 431.53v12.83M455.5 431.53v12.83M514.5 431.53v12.83M518.5 431.53v12.83M538.5 431.53v12.83M634.5 431.53v12.83M609.5 444.36v12.83M513.5 457.19v12.83M540.5 457.19v12.83M543.5 457.19v12.83M406.5 470.02v12.83M413.5 470.02v12.83M473.5 470.02v12.83M500.5 470.02v12.83M503.5 470.02v12.83M515.5 470.02v12.83M536.5 470.02v12.83M458.5 482.85v12.83M483.5 482.85v12.83M516.5 482.85v12.83M638.5 482.85v12.83M403.5 495.68v12.83M434.5 495.68v12.83M438.5 495.68v12.83M441.5 495.68v12.83M455.5 495.68v12.83M456.5 495.68v12.83M396.5 508.51v12.83M439.5 508.51v12.83M458.5 508.51v12.83M393.5 521.34v12.83M424.5 521.34v12.83M426.5 521.34v12.83M462.5 521.34v12.83M520.5 521.34v12.83M543.5 521.34v12.83M546.5 521.34v12.83M484.5 534.17v12.83M491.5 534.17v12.83M522.5 547.00v12.83M572.5 547.00v12.83M588.5 547.00v12.83M597.5 547.00v12.83M560.5 559.83v12.83M566.5 559.83v12.83M581.5 559.83v12.83M412.5 585.49v12.83M452.5 585.49v12.83M517.5 585.49v12.83M521.5 585.49v12.83M538.5 585.49v12.83M544.5 585.49v12.83M595.5 585.49v12.83M401.5 598.32v12.83M429.5 598.32v12.83M447.5 598.32v12.83M559.5 598.32v12.83M586.5 598.32v12.83M488.5 611.15v12.83M503.5 611.15v12.83M523.5 611.15v12.83M542.5 611.15v12.83M573.5 611.15v12.83M584.5 611.15v12.83M423.5 636.81v12.83M458.5 636.81v12.83M489.5 636.81v12.83M490.5 636.81v12.83M491.5 636.81v12.83M516.5 636.81v12.83M523.5 636.81v12.83M562.5 636.81v12.83M626.5 636.81v12.83M621.5 688.13v12.83M627.5 700.96v12.83M628.5 700.96v12.83M616.5 713.79v12.83M411.5 726.62v12.83M443.5 726.62v12.83M492.5 726.62v12.83M502.5 726.62v12.83M512.5 726.62v12.83M612.5 726.62v12.83M637.5 726.62v12.83M396.5 739.45v12.83M477.5 739.45v12.83M617.5 739.45v12.83M637.5 739.45v12.83M596.5 752.28v12.83M612.5 752.28v12.83M613.5 752.28v12.83M406.5 777.94v12.83M414.5 777.94v12.83M495.5 777.94v12.83M633.5 777.94v12.83M421.5 790.77v12.83M448.5 790.77v12.83M455.5 790.77v12.83M518.5 790.77v12.83M540.5 790.77v12.83" stroke="#886622" stroke-width="1.02" fill="none"/>
<path d="M405.5 418.70v12.83M447.5 418.70v12.83M490.5 418.70v12.83M497.5 418.70v12.83M502.5 418.70v12.83M504.5 418.70v12.83M524.5 418.70v12.83M534.5 418.70v12.83M535.5 418.70v12.83M553.5 418.70v12.83M412.5 431.53v12.83M418.5 431.53v12.83M480.5 431.53v12.83M436.5 444.36v12.83M494.5 444.36v12.83M518.5 444.36v12.83M521.5 444.36v12.83M537.5 444.36v12.83M442.5 457.19v12.83M453.5 457.19v12.83M459.5 457.19v12.83M545.5 457.19v12.83M426.5 470.02v12.83M457.5 482.85v12.83M542.5 482.85v12.83M548.5 482.85v12.83M412.5 495.68v12.83M427.5 495.68v12.83M445.5 495.68v12.83M447.5 495.68v12.83M542.5 495.68v12.83M399.5 508.51v12.83M471.5 508.51v12.83M507.5 508.51v12.83M510.5 508.51v12.83M472.5 521.34v12.83M477.5 521.34v12.83M525.5 521.34v12.83M536.5 521.34v12.83M398.5 534.17v12.83M554.5 547.00v12.83M577.5 547.00v12.83M583.5 547.00v12.83M590.5 547.00v12.83M591.5 547.00v12.83M576.5 559.83v12.83M579.5 559.83v12.83M560.5 572.66v12.83M565.5 572.66v12.83M570.5 572.66v12.83M575.5 572.66v12.83M583.5 572.66v12.83M589.5 572.66v12.83M603.5 572.66v12.83M553.5 585.49v12.83M554.5 585.49v12.83M555.5 585.49v12.83M558.5 585.49v12.83M560.5 585.49v12.83M568.5 585.49v12.83M593.5 585.49v12.83M594.5 585.49v12.83M598.5 585.49v12.83M610.5 585.49v12.83M473.5 598.32v12.83M511.5 598.32v12.83M565.5 598.32v12.83M576.5 598.32v12.83M600.5 598.32v12.83M428.5 611.15v12.83M447.5 611.15v12.83M520.5 611.15v12.83M533.5 611.15v12.83M549.5 611.15v12.83M559.5 611.15v12.83M604.5 611.15v12.83M557.5 623.98v12.83M578.5 623.98v12.83M580.5 623.98v12.83M607.5 623.98v12.83M393.5 636.81v12.83M552.5 636.81v12.83M591.5 636.81v12.83M631.5 675.30v12.83M638.5 675.30v12.83M619.5 700.96v12.83M406.5 713.79v12.83M407.5 713.79v12.83M444.5 713.79v12.83M477.5 713.79v12.83M540.5 713.79v12.83M634.5 713.79v12.83M485.5 726.62v12.83M486.5 726.62v12.83M412.5 739.45v12.83M613.5 739.45v12.83M640.5 739.45v12.83M408.5 752.28v12.83M429.5 752.28v12.83M446.5 752.28v12.83M498.5 752.28v12.83M619.5 752.28v12.83M635.5 752.28v12.83M637.5 752.28v12.83M394.5 765.11v12.83M402.5 765.11v12.83M423.5 765.11v12.83M430.5 765.11v12.83M456.5 765.11v12.83M482.5 765.11v12.83M616.5 765.11v12.83M621.5 765.11v12.83M629.5 765.11v12.83M632.5 765.11v12.83M634.5 765.11v12.83M635.5 765.11v12.83M638.5 765.11v12.83M640.5 765.11v12.83M472.5 777.94v12.83M515.5 777.94v12.83" stroke="#777700" stroke-width="1.02" fill="none"/>
<path d="M406.5 418.70v12.83M400.5 431.53v12.83M406.5 431.53v12.83M430.5 431.53v12.83M462.5 431.53v12.83M495.5 431.53v12.83M527.5 444.36v12.83M427.5 457.19v12.83M439.5 457.19v12.83M480.5 457.19v12.83M466.5 470.02v12.83M477.5 470.02v12.83M492.5 470.02v12.83M542.5 470.02v12.83M394.5 495.68v12.83M425.5 495.68v12.83M504.5 495.68v12.83M516.5 495.68v12.83M541.5 495.68v12.83M465.5 508.51v12.83M489.5 508.51v12.83M521.5 521.34v12.83M531.5 521.34v12.83M417.5 559.83v12.83M581.5 572.66v12.83M422.5 585.49v12.83M443.5 585.49v12.83M451.5 585.49v12.83M457.5 585.49v12.83M439.5 598.32v12.83M472.5 598.32v12.83M501.5 598.32v12.83M546.5 598.32v12.83M602.5 598.32v12.83M504.5 611.15v12.83M526.5 611.15v12.83M606.5 611.15v12.83M462.5 636.81v12.83M528.5 636.81v12.83M580.5 636.81v12.83M600.5 636.81v12.83M621.5 700.96v12.83M425.5 726.62v12.83M452.5 726.62v12.83M618.5 726.62v12.83M633.5 739.45v12.83M440.5 777.94v12.83M468.5 777.94v12.83M486.5 777.94v12.83M442.5 790.77v12.83M534.5 790.77v12.83" stroke="#997722" stroke-width="1.02" fill="none"/>
<path d="M408.5 418.70v12.83M466.5 431.53v12.83M511.5 431.53v12.83M538.5 457.19v12.83M421.5 470.02v12.83M469.5 636.81v12.83M636.5 752.28v12.83M525.5 777.94v12.83M615.5 777.94v12.83" stroke="#bbaa11" stroke-width="1.02" fill="none"/>
<path d="M409.5 418.70v12.83M429.5 418.70v12.83M439.5 418.70v12.83M451.5 418.70v12.83M460.5 418.70v12.83M462.5 418.70v12.83M473.5 418.70v12.83M500.5 418.70v12.83M505.5 418.70v12.83M508.5 418.70v12.83M509.5 418.70v12.83M522.5 418.70v12.83M523.5 418.70v12.83M440.5 431.53v12.83M479.5 431.53v12.83M504.5 431.53v12.83M539.5 431.53v12.83M482.5 482.85v12.83M397.5 495.68v12.83M410.5 495.68v12.83M415.5 495.68v12.83M420.5 521.34v12.83M503.5 521.34v12.83M555.5 547.00v12.83M560.5 547.00v12.83M576.5 547.00v12.83M580.5 547.00v12.83M585.5 547.00v12.83M608.5 547.00v12.83M553.5 572.66v12.83M551.5 585.49v12.83M565.5 585.49v12.83M579.5 585.49v12.83M596.5 598.32v12.83M556.5 611.15v12.83M561.5 611.15v12.83M574.5 611.15v12.83M582.5 611.15v12.83M593.5 611.15v12.83M595.5 611.15v12.83M597.5 611.15v12.83M611.5 611.15v12.83M569.5 623.98v12.83M586.5 623.98v12.83M599.5 623.98v12.83M637.5 675.30v12.83M629.5 688.13v12.83M640.5 688.13v12.83M620.5 726.62v12.83M631.5 726.62v12.83M636.5 726.62v12.83M623.5 752.28v12.83M627.5 765.11v12.83M637.5 765.11v12.83M616.5 777.94v12.83M621.5 777.94v12.83M636.5 777.94v12.83M638.5 777.94v12.83M460.5 790.77v12.83" stroke="#bbbb00" stroke-width="1.02" fill="none"/>
<path d="M410.5 418.70v12.83M434.5 418.70v12.83M436.5 418.70v12.83M492.5 418.70v12.83M529.5 521.34v12.83M600.5 559.83v12.83M515.5 585.49v12.83M456.5 611.15v12.83M465.5 611.15v12.83M404.5 636.81v12.83M629.5 700.96v12.83M623.5 777.94v12.83" stroke="#aa7733" stroke-width="1.02" fill="none"/>
<path d="M412.5 418.70v12.83M461.5 418.70v12.83M474.5 418.70v12.83M493.5 418.70v12.83M501.5 418.70v12.83M512.5 418.70v12.83M543.5 418.70v12.83M505.5 482.85v12.83M564.5 547.00v12.83M552.5 559.83v12.83M575.5 585.49v12.83M580.5 585.49v12.83M592.5 585.49v12.83M601.5 585.49v12.83M563.5 611.15v12.83M614.5 713.79v12.83M614.5 726.62v12.83M632.5 726.62v12.83M615.5 765.11v12.83" stroke="#cccc00" stroke-width="1.02" fill="none"/>
<path d="M415.5 418.70v12.83M438.5 418.70v12.83M457.5 418.70v12.83M476.5 418.70v12.83M511.5 418.70v12.83M517.5 418.70v12.83M544.5 418.70v12.83M548.5 418.70v12.83M609.5 418.70v12.83M515.5 431.53v12.83M531.5 431.53v12.83M396.5 444.36v12.83M428.5 444.36v12.83M460.5 444.36v12.83M502.5 444.36v12.83M514.5 444.36v12.83M535.5 444.36v12.83M541.5 444.36v12.83M409.5 470.02v12.83M436.5 470.02v12.83M527.5 470.02v12.83M397.5 482.85v12.83M432.5 482.85v12.83M463.5 482.85v12.83M499.5 482.85v12.83M518.5 482.85v12.83M529.5 482.85v12.83M541.5 482.85v12.83M408.5 495.68v12.83M463.5 495.68v12.83M393.5 508.51v12.83M428.5 508.51v12.83M491.5 508.51v12.83M408.5 521.34v12.83M500.5 521.34v12.83M538.5 521.34v12.83M428.5 534.17v12.83M458.5 534.17v12.83M521.5 534.17v12.83M543.5 534.17v12.83M438.5 547.00v12.83M477.5 547.00v12.83M556.5 547.00v12.83M559.5 547.00v12.83M598.5 547.00v12.83M612.5 547.00v12.83M557.5 559.83v12.83M561.5 559.83v12.83M596.5 559.83v12.83M509.5 572.66v12.83M584.5 572.66v12.83M588.5 572.66v12.83M449.5 585.49v12.83M511.5 585.49v12.83M576.5 585.49v12.83M596.5 585.49v12.83M510.5 598.32v12.83M563.5 598.32v12.83M601.5 598.32v12.83M507.5 611.15v12.83M554.5 611.15v12.83M562.5 611.15v12.83M588.5 611.15v12.83M635.5 611.15v12.83M551.5 623.98v12.83M554.5 623.98v12.83M562.5 623.98v12.83M567.5 623.98v12.83M568.5 623.98v12.83M574.5 623.98v12.83M583.5 623.98v12.83M584.5 623.98v12.83M588.5 623.98v12.83M592.5 623.98v12.83M593.5 623.98v12.83M611.5 623.98v12.83M408.5 636.81v12.83M575.5 636.81v12.83M579.5 636.81v12.83M590.5 649.64v12.83M611.5 649.64v12.83M575.5 662.47v12.83M622.5 675.30v12.83M624.5 675.30v12.83M636.5 675.30v12.83M507.5 688.13v12.83M617.5 688.13v12.83M622.5 688.13v12.83M630.5 688.13v12.83M639.5 688.13v12.83M399.5 713.79v12.83M456.5 713.79v12.83M461.5 713.79v12.83M466.5 713.79v12.83M486.5 713.79v12.83M509.5 713.79v12.83M516.5 713.79v12.83M524.5 713.79v12.83M537.5 713.79v12.83M545.5 713.79v12.83M625.5 713.79v12.83M628.5 713.79v12.83M451.5 739.45v12.83M412.5 752.28v12.83M416.5 752.28v12.83M442.5 752.28v12.83M450.5 752.28v12.83M451.5 752.28v12.83M494.5 752.28v12.83M502.5 752.28v12.83M506.5 752.28v12.83M625.5 752.28v12.83M407.5 765.11v12.83M417.5 765.11v12.83M434.5 765.11v12.83M505.5 765.11v12.83M509.5 765.11v12.83M535.5 765.11v12.83M623.5 765.11v12.83M625.5 765.11v12.83M641.5 765.11v12.83M426.5 777.94v12.83M443.5 777.94v12.83M518.5 777.94v12.83M540.5 777.94v12.83M613.5 777.94v12.83M498.5 790.77v12.83M530.5 790.77v12.83M641.5 790.77v12.83" stroke="#666600" stroke-width="1.02" fill="none"/>
<path d="M421.5 418.70v12.83M552.5 418.70v12.83M595.5 418.70v12.83M607.5 418.70v12.83M619.5 418.70v12.83M529.5 431.53v12.83M411.5 444.36v12.83M432.5 444.36v12.83M454.5 444.36v12.83M455.5 444.36v12.83M538.5 444.36v12.83M548.5 444.36v12.83M588.5 444.36v12.83M467.5 457.19v12.83M400.5 482.85v12.83M418.5 482.85v12.83M435.5 482.85v12.83M439.5 482.85v12.83M466.5 482.85v12.83M489.5 482.85v12.83M439.5 495.68v12.83M477.5 495.68v12.83M509.5 495.68v12.83M546.5 495.68v12.83M547.5 495.68v12.83M591.5 495.68v12.83M451.5 521.34v12.83M460.5 521.34v12.83M492.5 521.34v12.83M416.5 534.17v12.83M456.5 534.17v12.83M468.5 534.17v12.83M496.5 534.17v12.83M536.5 534.17v12.83M492.5 547.00v12.83M517.5 547.00v12.83M527.5 547.00v12.83M548.5 547.00v12.83M573.5 547.00v12.83M610.5 547.00v12.83M436.5 559.83v12.83M590.5 559.83v12.83M474.5 572.66v12.83M549.5 572.66v12.83M554.5 572.66v12.83M562.5 572.66v12.83M571.5 572.66v12.83M578.5 572.66v12.83M417.5 585.49v12.83M427.5 585.49v12.83M446.5 585.49v12.83M491.5 585.49v12.83M480.5 598.32v12.83M504.5 598.32v12.83M550.5 598.32v12.83M474.5 611.15v12.83M506.5 611.15v12.83M626.5 611.15v12.83M590.5 623.98v12.83M623.5 623.98v12.83M434.5 636.81v12.83M577.5 636.81v12.83M587.5 636.81v12.83M596.5 649.64v12.83M603.5 649.64v12.83M606.5 649.64v12.83M579.5 662.47v12.83M440.5 688.13v12.83M593.5 700.96v12.83M449.5 713.79v12.83M457.5 713.79v12.83M459.5 713.79v12.83M531.5 713.79v12.83M414.5 726.62v12.83M440.5 726.62v12.83M516.5 726.62v12.83M545.5 726.62v12.83M556.5 726.62v12.83M630.5 739.45v12.83M417.5 752.28v12.83M431.5 752.28v12.83M577.5 752.28v12.83M614.5 752.28v12.83M480.5 765.11v12.83M495.5 765.11v12.83M393.5 777.94v12.83M530.5 777.94v12.83M411.5 790.77v12.83" stroke="#554411" stroke-width="1.02" fill="none"/>
<path d="M423.5 418.70v12.83M441.5 418.70v12.83M634.5 418.70v12.83M588.5 431.53v12.83M426.5 444.36v12.83M435.5 444.36v12.83M439.5 444.36v12.83M469.5 444.36v12.83M480.5 444.36v12.83M496.5 444.36v12.83M503.5 444.36v12.83M405.5 457.19v12.83M523.5 457.19v12.83M511.5 495.68v12.83M517.5 495.68v12.83M533.5 508.51v12.83M391.5 521.34v12.83M412.5 521.34v12.83M539.5 521.34v12.83M410.5 534.17v12.83M481.5 534.17v12.83M497.5 534.17v12.83M514.5 534.17v12.83M526.5 534.17v12.83M582.5 559.83v12.83M582.5 572.66v12.83M479.5 585.49v12.83M509.5 585.49v12.83M622.5 598.32v12.83M412.5 623.98v12.83M438.5 623.98v12.83M455.5 623.98v12.83M521.5 623.98v12.83M530.5 623.98v12.83M566.5 623.98v12.83M581.5 623.98v12.83M585.5 623.98v12.83M437.5 636.81v12.83M594.5 662.47v12.83M511.5 688.13v12.83M520.5 688.13v12.83M527.5 688.13v12.83M538.5 688.13v12.83M541.5 688.13v12.83M392.5 713.79v12.83M420.5 713.79v12.83M432.5 713.79v12.83M474.5 713.79v12.83M475.5 713.79v12.83M488.5 713.79v12.83M501.5 713.79v12.83M517.5 713.79v12.83M541.5 713.79v12.83M636.5 713.79v12.83M391.5 752.28v12.83M402.5 752.28v12.83M454.5 752.28v12.83M478.5 752.28v12.83M484.5 752.28v12.83M501.5 752.28v12.83M511.5 752.28v12.83M631.5 752.28v12.83M426.5 765.11v12.83M435.5 765.11v12.83M446.5 765.11v12.83M447.5 765.11v12.83M457.5 765.11v12.83M458.5 765.11v12.83M465.5 765.11v12.83M471.5 765.11v12.83M488.5 765.11v12.83M520.5 765.11v12.83M525.5 765.11v12.83M542.5 765.11v12.83M614.5 765.11v12.83M628.5 765.11v12.83M578.5 777.94v12.83" stroke="#444400" stroke-width="1.02" fill="none"/>
<path d="M432.5 418.70v12.83M458.5 418.70v12.83M459.5 418.70v12.83M467.5 418.70v12.83M639.5 418.70v12.83M410.5 431.53v12.83M417.5 431.53v12.83M498.5 431.53v12.83M525.5 431.53v12.83M391.5 444.36v12.83M448.5 457.19v12.83M527.5 457.19v12.83M550.5 457.19v12.83M498.5 470.02v12.83M531.5 470.02v12.83M539.5 470.02v12.83M428.5 482.85v12.83M451.5 482.85v12.83M503.5 482.85v12.83M624.5 482.85v12.83M488.5 495.68v12.83M502.5 495.68v12.83M512.5 495.68v12.83M522.5 495.68v12.83M404.5 508.51v12.83M414.5 508.51v12.83M473.5 508.51v12.83M520.5 508.51v12.83M547.5 508.51v12.83M415.5 521.34v12.83M427.5 521.34v12.83M469.5 521.34v12.83M514.5 521.34v12.83M411.5 534.17v12.83M444.5 534.17v12.83M447.5 534.17v12.83M454.5 534.17v12.83M471.5 534.17v12.83M486.5 534.17v12.83M436.5 547.00v12.83M546.5 547.00v12.83M587.5 547.00v12.83M505.5 559.83v12.83M592.5 559.83v12.83M593.5 559.83v12.83M587.5 572.66v12.83M593.5 572.66v12.83M596.5 572.66v12.83M609.5 585.49v12.83M621.5 585.49v12.83M497.5 598.32v12.83M541.5 598.32v12.83M564.5 598.32v12.83M593.5 598.32v12.83M485.5 611.15v12.83M571.5 611.15v12.83M587.5 611.15v12.83M556.5 623.98v12.83M520.5 636.81v12.83M607.5 636.81v12.83M582.5 649.64v12.83M595.5 649.64v12.83M447.5 688.13v12.83M483.5 688.13v12.83M470.5 713.79v12.83M493.5 713.79v12.83M520.5 713.79v12.83M392.5 726.62v12.83M460.5 726.62v12.83M466.5 726.62v12.83M514.5 726.62v12.83M535.5 726.62v12.83M617.5 726.62v12.83M619.5 726.62v12.83M621.5 739.45v12.83M438.5 752.28v12.83M624.5 752.28v12.83M524.5 765.11v12.83M612.5 765.11v12.83M422.5 777.94v12.83M429.5 777.94v12.83M442.5 777.94v12.83M476.5 777.94v12.83M514.5 777.94v12.83M620.5 777.94v12.83M407.5 790.77v12.83M486.5 790.77v12.83M503.5 790.77v12.83M547.5 790.77v12.83" stroke="#776611" stroke-width="1.02" fill="none"/>
<path d="M437.5 418.70v12.83M530.5 418.70v12.83M460.5 431.53v12.83M507.5 431.53v12.83M415.5 470.02v12.83M517.5 482.85v12.83M564.5 559.83v12.83M553.5 611.15v12.83M446.5 777.94v12.83M469.5 777.94v12.83" stroke="#bb9922" stroke-width="1.02" fill="none"/>
<path d="M440.5 418.70v12.83M454.5 418.70v12.83M491.5 418.70v12.83M536.5 418.70v12.83M431.5 431.53v12.83M444.5 431.53v12.83M453.5 431.53v12.83M537.5 431.53v12.83M392.5 444.36v12.83M461.5 457.19v12.83M534.5 470.02v12.83M408.5 482.85v12.83M410.5 482.85v12.83M460.5 482.85v12.83M480.5 482.85v12.83M487.5 482.85v12.83M612.5 482.85v12.83M414.5 495.68v12.83M420.5 495.68v12.83M446.5 495.68v12.83M451.5 495.68v12.83M474.5 495.68v12.83M534.5 495.68v12.83M485.5 508.51v12.83M494.5 508.51v12.83M635.5 508.51v12.83M411.5 521.34v12.83M497.5 521.34v12.83M509.5 521.34v12.83M435.5 534.17v12.83M466.5 534.17v12.83M534.5 547.00v12.83M562.5 547.00v12.83M563.5 547.00v12.83M602.5 547.00v12.83M605.5 547.00v12.83M607.5 547.00v12.83M633.5 547.00v12.83M571.5 559.83v12.83M585.5 572.66v12.83M604.5 572.66v12.83M411.5 585.49v12.83M493.5 585.49v12.83M528.5 585.49v12.83M535.5 585.49v12.83M578.5 585.49v12.83M558.5 598.32v12.83M571.5 598.32v12.83M423.5 611.15v12.83M500.5 611.15v12.83M581.5 611.15v12.83M592.5 611.15v12.83M401.5 636.81v12.83M467.5 636.81v12.83M570.5 649.64v12.83M619.5 688.13v12.83M550.5 700.96v12.83M430.5 713.79v12.83M450.5 713.79v12.83M462.5 713.79v12.83M622.5 713.79v12.83M419.5 726.62v12.83M541.5 726.62v12.83M411.5 739.45v12.83M459.5 739.45v12.83M463.5 739.45v12.83M493.5 739.45v12.83M626.5 752.28v12.83M412.5 777.94v12.83M420.5 777.94v12.83M428.5 777.94v12.83M431.5 777.94v12.83M450.5 777.94v12.83M460.5 777.94v12.83M624.5 777.94v12.83M626.5 777.94v12.83" stroke="#887711" stroke-width="1.02" fill="none"/>
<path d="M444.5 418.70v12.83M597.5 418.70v12.83M507.5 457.19v12.83M436.5 495.68v12.83M477.5 534.17v12.83M395.5 547.00v12.83M445.5 585.49v12.83M504.5 585.49v12.83M603.5 611.15v12.83M416.5 739.45v12.83M453.5 777.94v12.83" stroke="#885522" stroke-width="1.02" fill="none"/>
<path d="M445.5 418.70v12.83M475.5 418.70v12.83M541.5 418.70v12.83M459.5 431.53v12.83M463.5 431.53v12.83M475.5 431.53v12.83M407.5 444.36v12.83M438.5 444.36v12.83M452.5 444.36v12.83M464.5 444.36v12.83M467.5 444.36v12.83M500.5 444.36v12.83M510.5 444.36v12.83M539.5 444.36v12.83M547.5 444.36v12.83M450.5 457.19v12.83M505.5 457.19v12.83M464.5 470.02v12.83M517.5 470.02v12.83M481.5 482.85v12.83M527.5 482.85v12.83M632.5 482.85v12.83M513.5 495.68v12.83M527.5 495.68v12.83M544.5 495.68v12.83M620.5 495.68v12.83M476.5 508.51v12.83M636.5 508.51v12.83M478.5 521.34v12.83M494.5 521.34v12.83M505.5 521.34v12.83M517.5 521.34v12.83M518.5 521.34v12.83M544.5 521.34v12.83M453.5 534.17v12.83M515.5 534.17v12.83M524.5 534.17v12.83M505.5 547.00v12.83M549.5 559.83v12.83M532.5 572.66v12.83M561.5 572.66v12.83M566.5 572.66v12.83M579.5 572.66v12.83M602.5 572.66v12.83M619.5 585.49v12.83M415.5 598.32v12.83M577.5 598.32v12.83M607.5 598.32v12.83M609.5 598.32v12.83M437.5 611.15v12.83M468.5 611.15v12.83M486.5 611.15v12.83M560.5 611.15v12.83M580.5 611.15v12.83M589.5 611.15v12.83M608.5 611.15v12.83M395.5 623.98v12.83M550.5 623.98v12.83M552.5 623.98v12.83M559.5 623.98v12.83M573.5 623.98v12.83M575.5 623.98v12.83M582.5 623.98v12.83M587.5 623.98v12.83M595.5 623.98v12.83M602.5 623.98v12.83M604.5 623.98v12.83M605.5 623.98v12.83M606.5 623.98v12.83M609.5 623.98v12.83M570.5 636.81v12.83M603.5 636.81v12.83M559.5 649.64v12.83M586.5 649.64v12.83M608.5 649.64v12.83M609.5 649.64v12.83M566.5 662.47v12.83M433.5 675.30v12.83M443.5 675.30v12.83M458.5 675.30v12.83M487.5 675.30v12.83M618.5 675.30v12.83M619.5 675.30v12.83M620.5 675.30v12.83M625.5 675.30v12.83M632.5 675.30v12.83M641.5 675.30v12.83M434.5 688.13v12.83M449.5 688.13v12.83M457.5 688.13v12.83M528.5 688.13v12.83M614.5 688.13v12.83M626.5 688.13v12.83M562.5 700.96v12.83M394.5 713.79v12.83M416.5 713.79v12.83M417.5 713.79v12.83M424.5 713.79v12.83M431.5 713.79v12.83M438.5 713.79v12.83M494.5 713.79v12.83M496.5 713.79v12.83M498.5 713.79v12.83M536.5 713.79v12.83M538.5 713.79v12.83M542.5 713.79v12.83M532.5 726.62v12.83M640.5 726.62v12.83M623.5 739.45v12.83M636.5 739.45v12.83M436.5 752.28v12.83M453.5 752.28v12.83M459.5 752.28v12.83M464.5 752.28v12.83M469.5 752.28v12.83M474.5 752.28v12.83M512.5 752.28v12.83M531.5 752.28v12.83M538.5 752.28v12.83M547.5 752.28v12.83M617.5 752.28v12.83M628.5 752.28v12.83M630.5 752.28v12.83M640.5 752.28v12.83M400.5 765.11v12.83M406.5 765.11v12.83M431.5 765.11v12.83M438.5 765.11v12.83M441.5 765.11v12.83M452.5 765.11v12.83M461.5 765.11v12.83M463.5 765.11v12.83M485.5 765.11v12.83M500.5 765.11v12.83M514.5 765.11v12.83M532.5 765.11v12.83M539.5 765.11v12.83M554.5 765.11v12.83M619.5 765.11v12.83M441.5 777.94v12.83M604.5 777.94v12.83M450.5 790.77v12.83M516.5 790.77v12.83" stroke="#555500" stroke-width="1.02" fill="none"/>
<path d="M449.5 418.70v12.83M478.5 431.53v12.83M541.5 431.53v12.83M493.5 457.19v12.83M501.5 457.19v12.83M503.5 495.68v12.83M408.5 508.51v12.83M616.5 547.00v12.83M488.5 559.83v12.83M490.5 726.62v12.83" stroke="#774444" stroke-width="1.02" fill="none"/>
<path d="M453.5 418.70v12.83M477.5 418.70v12.83M483.5 418.70v12.83M507.5 418.70v12.83M436.5 431.53v12.83M461.5 431.53v12.83M496.5 431.53v12.83M453.5 482.85v12.83M426.5 495.68v12.83M480.5 495.68v12.83M482.5 508.51v12.83M552.5 547.00v12.83M569.5 547.00v12.83M570.5 559.83v12.83M530.5 585.49v12.83M567.5 598.32v12.83M558.5 611.15v12.83M566.5 611.15v12.83M560.5 623.98v12.83M623.5 688.13v12.83M631.5 713.79v12.83M637.5 713.79v12.83M451.5 726.62v12.83M618.5 739.45v12.83M434.5 777.94v12.83M632.5 777.94v12.83M639.5 777.94v12.83M475.5 790.77v12.83M476.5 790.77v12.83" stroke="#aa9911" stroke-width="1.02" fill="none"/>
<path d="M465.5 418.70v12.83M423.5 431.53v12.83M458.5 431.53v12.83M486.5 431.53v12.83M400.5 457.19v12.83M489.5 457.19v12.83M624.5 457.19v12.83M475.5 470.02v12.83M499.5 470.02v12.83M415.5 482.85v12.83M523.5 495.68v12.83M571.5 495.68v12.83M506.5 521.34v12.83M403.5 547.00v12.83M424.5 547.00v12.83M392.5 559.83v12.83M491.5 559.83v12.83M640.5 572.66v12.83M440.5 585.49v12.83M534.5 585.49v12.83M448.5 598.32v12.83M518.5 598.32v12.83M396.5 611.15v12.83M405.5 611.15v12.83M432.5 611.15v12.83M433.5 611.15v12.83M444.5 611.15v12.83M528.5 611.15v12.83M450.5 636.81v12.83M623.5 636.81v12.83M636.5 636.81v12.83M436.5 662.47v12.83M507.5 662.47v12.83M403.5 739.45v12.83M435.5 739.45v12.83M439.5 739.45v12.83M449.5 739.45v12.83M519.5 739.45v12.83M530.5 739.45v12.83M570.5 739.45v12.83M391.5 777.94v12.83M407.5 777.94v12.83M432.5 790.77v12.83" stroke="#883355" stroke-width="1.02" fill="none"/>
<path d="M466.5 418.70v12.83M443.5 431.53v12.83M526.5 431.53v12.83M529.5 444.36v12.83M419.5 457.19v12.83M428.5 457.19v12.83M454.5 457.19v12.83M510.5 457.19v12.83M512.5 457.19v12.83M531.5 457.19v12.83M395.5 470.02v12.83M427.5 470.02v12.83M437.5 470.02v12.83M478.5 470.02v12.83M592.5 470.02v12.83M450.5 482.85v12.83M461.5 482.85v12.83M479.5 482.85v12.83M493.5 482.85v12.83M532.5 482.85v12.83M622.5 482.85v12.83M626.5 482.85v12.83M418.5 495.68v12.83M429.5 495.68v12.83M493.5 495.68v12.83M634.5 495.68v12.83M636.5 495.68v12.83M415.5 508.51v12.83M425.5 508.51v12.83M452.5 508.51v12.83M481.5 508.51v12.83M486.5 508.51v12.83M515.5 508.51v12.83M522.5 508.51v12.83M641.5 508.51v12.83M444.5 521.34v12.83M487.5 521.34v12.83M530.5 521.34v12.83M637.5 521.34v12.83M442.5 534.17v12.83M533.5 534.17v12.83M538.5 534.17v12.83M462.5 547.00v12.83M491.5 547.00v12.83M566.5 547.00v12.83M567.5 547.00v12.83M592.5 547.00v12.83M447.5 559.83v12.83M520.5 559.83v12.83M569.5 559.83v12.83M573.5 559.83v12.83M585.5 559.83v12.83M412.5 572.66v12.83M442.5 585.49v12.83M468.5 585.49v12.83M472.5 585.49v12.83M405.5 598.32v12.83M419.5 598.32v12.83M436.5 598.32v12.83M441.5 598.32v12.83M457.5 598.32v12.83M468.5 598.32v12.83M471.5 598.32v12.83M488.5 598.32v12.83M493.5 598.32v12.83M500.5 598.32v12.83M551.5 598.32v12.83M603.5 598.32v12.83M402.5 611.15v12.83M434.5 611.15v12.83M455.5 611.15v12.83M483.5 611.15v12.83M494.5 611.15v12.83M598.5 611.15v12.83M416.5 636.81v12.83M430.5 636.81v12.83M446.5 636.81v12.83M502.5 636.81v12.83M509.5 636.81v12.83M530.5 636.81v12.83M560.5 636.81v12.83M595.5 636.81v12.83M571.5 700.96v12.83M575.5 700.96v12.83M458.5 713.79v12.83M624.5 713.79v12.83M432.5 726.62v12.83M468.5 726.62v12.83M472.5 726.62v12.83M484.5 726.62v12.83M487.5 726.62v12.83M488.5 726.62v12.83M519.5 726.62v12.83M524.5 726.62v12.83M457.5 739.45v12.83M501.5 739.45v12.83M514.5 739.45v12.83M517.5 739.45v12.83M620.5 739.45v12.83M631.5 739.45v12.83M641.5 739.45v12.83M415.5 752.28v12.83M457.5 752.28v12.83M537.5 752.28v12.83M610.5 752.28v12.83M621.5 752.28v12.83M403.5 777.94v12.83M404.5 777.94v12.83M437.5 777.94v12.83M619.5 777.94v12.83M641.5 777.94v12.83M428.5 790.77v12.83M474.5 790.77v12.83M509.5 790.77v12.83M513.5 790.77v12.83M574.5 790.77v12.83M599.5 790.77v12.83" stroke="#664422" stroke-width="1.02" fill="none"/>
<path d="M478.5 418.70v12.83M519.5 431.53v12.83M488.5 457.19v12.83M529.5 470.02v12.83M425.5 482.85v12.83M472.5 495.68v12.83M489.5 495.68v12.83M538.5 495.68v12.83M434.5 521.34v12.83M605.5 559.83v12.83M399.5 636.81v12.83M460.5 636.81v12.83M574.5 636.81v12.83M516.5 739.45v12.83M471.5 777.94v12.83M528.5 777.94v12.83M399.5 790.77v12.83" stroke="#997711" stroke-width="1.02" fill="none"/>
<path d="M481.5 418.70v12.83M486.5 418.70v12.83M505.5 495.68v12.83M570.5 547.00v12.83" stroke="#999911" stroke-width="1.02" fill="none"/>
<path d="M484.5 418.70v12.83M542.5 418.70v12.83M432.5 431.53v12.83M457.5 431.53v12.83M487.5 431.53v12.83M509.5 431.53v12.83M523.5 431.53v12.83M448.5 444.36v12.83M531.5 444.36v12.83M532.5 444.36v12.83M536.5 444.36v12.83M432.5 457.19v12.83M445.5 457.19v12.83M490.5 457.19v12.83M499.5 457.19v12.83M585.5 457.19v12.83M425.5 470.02v12.83M472.5 470.02v12.83M393.5 482.85v12.83M405.5 482.85v12.83M419.5 482.85v12.83M449.5 482.85v12.83M459.5 482.85v12.83M496.5 482.85v12.83M509.5 482.85v12.83M515.5 482.85v12.83M534.5 482.85v12.83M639.5 482.85v12.83M640.5 482.85v12.83M396.5 495.68v12.83M417.5 495.68v12.83M476.5 495.68v12.83M490.5 495.68v12.83M510.5 495.68v12.83M520.5 495.68v12.83M539.5 495.68v12.83M565.5 495.68v12.83M575.5 495.68v12.83M638.5 495.68v12.83M420.5 508.51v12.83M421.5 508.51v12.83M447.5 508.51v12.83M449.5 508.51v12.83M548.5 508.51v12.83M401.5 521.34v12.83M422.5 521.34v12.83M450.5 521.34v12.83M481.5 521.34v12.83M527.5 521.34v12.83M402.5 534.17v12.83M473.5 534.17v12.83M393.5 547.00v12.83M482.5 547.00v12.83M490.5 547.00v12.83M497.5 547.00v12.83M578.5 547.00v12.83M586.5 547.00v12.83M638.5 547.00v12.83M429.5 559.83v12.83M487.5 572.66v12.83M572.5 572.66v12.83M397.5 585.49v12.83M408.5 585.49v12.83M478.5 585.49v12.83M483.5 585.49v12.83M501.5 585.49v12.83M569.5 585.49v12.83M586.5 585.49v12.83M597.5 585.49v12.83M606.5 585.49v12.83M449.5 598.32v12.83M568.5 598.32v12.83M572.5 598.32v12.83M594.5 598.32v12.83M631.5 598.32v12.83M453.5 611.15v12.83M457.5 611.15v12.83M495.5 611.15v12.83M501.5 611.15v12.83M515.5 611.15v12.83M517.5 611.15v12.83M551.5 611.15v12.83M586.5 611.15v12.83M591.5 611.15v12.83M525.5 636.81v12.83M550.5 636.81v12.83M551.5 636.81v12.83M558.5 636.81v12.83M566.5 636.81v12.83M573.5 636.81v12.83M576.5 636.81v12.83M584.5 636.81v12.83M562.5 649.64v12.83M485.5 662.47v12.83M611.5 662.47v12.83M624.5 700.96v12.83M557.5 713.79v12.83M626.5 713.79v12.83M398.5 726.62v12.83M436.5 726.62v12.83M437.5 726.62v12.83M499.5 726.62v12.83M517.5 726.62v12.83M543.5 726.62v12.83M450.5 739.45v12.83M472.5 739.45v12.83M494.5 739.45v12.83M568.5 739.45v12.83M619.5 739.45v12.83M635.5 739.45v12.83M424.5 752.28v12.83M618.5 752.28v12.83M421.5 777.94v12.83M427.5 777.94v12.83M456.5 777.94v12.83M523.5 777.94v12.83M532.5 777.94v12.83M524.5 790.77v12.83M528.5 790.77v12.83M618.5 790.77v12.83M622.5 790.77v12.83" stroke="#775522" stroke-width="1.02" fill="none"/>
<path d="M487.5 418.70v12.83M420.5 431.53v12.83M486.5 444.36v12.83M595.5 470.02v12.83M625.5 482.85v12.83M554.5 559.83v12.83M604.5 559.83v12.83M595.5 572.66v12.83M393.5 585.49v12.83M536.5 611.15v12.83M578.5 611.15v12.83M571.5 649.64v12.83M416.5 777.94v12.83M612.5 777.94v12.83" stroke="#777711" stroke-width="1.02" fill="none"/>
<path d="M488.5 418.70v12.83M594.5 547.00v12.83" stroke="#bb9911" stroke-width="1.02" fill="none"/>
<path d="M494.5 418.70v12.83M434.5 457.19v12.83M540.5 470.02v12.83M452.5 495.68v12.83M431.5 521.34v12.83M496.5 547.00v12.83M455.5 572.66v12.83M610.5 572.66v12.83M536.5 598.32v12.83M465.5 636.81v12.83M549.5 649.64v12.83M405.5 726.62v12.83M482.5 739.45v12.83" stroke="#666611" stroke-width="1.02" fill="none"/>
<path d="M499.5 418.70v12.83M600.5 418.70v12.83M512.5 431.53v12.83M425.5 444.36v12.83M542.5 457.19v12.83M493.5 470.02v12.83M446.5 482.85v12.83M464.5 495.68v12.83M616.5 495.68v12.83M399.5 547.00v12.83M459.5 547.00v12.83M504.5 572.66v12.83M512.5 585.49v12.83M626.5 585.49v12.83M544.5 598.32v12.83M613.5 598.32v12.83M538.5 611.15v12.83M392.5 636.81v12.83M476.5 636.81v12.83M567.5 700.96v12.83M612.5 700.96v12.83M633.5 726.62v12.83M537.5 739.45v12.83M632.5 739.45v12.83M534.5 765.11v12.83M402.5 777.94v12.83" stroke="#664433" stroke-width="1.02" fill="none"/>
<path d="M506.5 418.70v12.83M488.5 431.53v12.83M424.5 457.19v12.83M486.5 457.19v12.83M397.5 470.02v12.83M465.5 470.02v12.83M404.5 482.85v12.83M628.5 482.85v12.83M519.5 495.68v12.83M530.5 547.00v12.83M568.5 559.83v12.83M399.5 598.32v12.83M465.5 598.32v12.83M496.5 611.15v12.83M525.5 713.79v12.83M640.5 713.79v12.83M405.5 777.94v12.83M487.5 777.94v12.83M582.5 777.94v12.83M607.5 777.94v12.83M521.5 790.77v12.83M543.5 790.77v12.83M628.5 790.77v12.83" stroke="#886611" stroke-width="1.02" fill="none"/>
<path d="M510.5 418.70v12.83M434.5 444.36v12.83M442.5 482.85v12.83M497.5 495.68v12.83M514.5 495.68v12.83M599.5 547.00v12.83M597.5 559.83v12.83M514.5 611.15v12.83M500.5 713.79v12.83M495.5 726.62v12.83M622.5 726.62v12.83M628.5 726.62v12.83M616.5 739.45v12.83M453.5 790.77v12.83M493.5 790.77v12.83" stroke="#887722" stroke-width="1.02" fill="none"/>
<path d="M514.5 418.70v12.83M558.5 431.53v12.83M534.5 444.36v12.83M502.5 457.19v12.83M518.5 457.19v12.83M424.5 470.02v12.83M518.5 495.68v12.83M564.5 495.68v12.83M576.5 495.68v12.83M466.5 521.34v12.83M470.5 534.17v12.83M403.5 585.49v12.83M590.5 598.32v12.83M621.5 598.32v12.83M537.5 726.62v12.83M522.5 739.45v12.83M459.5 790.77v12.83M485.5 790.77v12.83" stroke="#774422" stroke-width="1.02" fill="none"/>
<path d="M516.5 418.70v12.83M415.5 431.53v12.83M437.5 431.53v12.83M440.5 444.36v12.83M491.5 457.19v12.83M396.5 482.85v12.83M412.5 482.85v12.83M587.5 482.85v12.83M414.5 521.34v12.83M394.5 547.00v12.83M629.5 559.83v12.83M450.5 572.66v12.83M574.5 572.66v12.83M427.5 598.32v12.83M406.5 611.15v12.83M454.5 611.15v12.83M582.5 636.81v12.83M604.5 636.81v12.83M441.5 649.64v12.83M548.5 726.62v12.83M532.5 752.28v12.83M508.5 777.94v12.83M516.5 777.94v12.83M517.5 790.77v12.83" stroke="#664411" stroke-width="1.02" fill="none"/>
<path d="M518.5 418.70v12.83M472.5 431.53v12.83M408.5 470.02v12.83M441.5 482.85v12.83M539.5 482.85v12.83M474.5 521.34v12.83M436.5 777.94v12.83M506.5 777.94v12.83M446.5 790.77v12.83M483.5 790.77v12.83" stroke="#998822" stroke-width="1.02" fill="none"/>
<path d="M520.5 418.70v12.83M626.5 418.70v12.83M611.5 444.36v12.83M512.5 470.02v12.83M602.5 521.34v12.83M504.5 534.17v12.83M613.5 611.15v12.83M565.5 623.98v12.83M601.5 623.98v12.83M494.5 649.64v12.83M561.5 649.64v12.83M408.5 662.47v12.83M491.5 688.13v12.83M504.5 688.13v12.83M478.5 713.79v12.83M447.5 752.28v12.83M449.5 765.11v12.83M529.5 777.94v12.83M590.5 777.94v12.83" stroke="#333311" stroke-width="1.02" fill="none"/>
<path d="M525.5 418.70v12.83M640.5 418.70v12.83M422.5 431.53v12.83M429.5 431.53v12.83M445.5 431.53v12.83M426.5 457.19v12.83M447.5 457.19v12.83M466.5 457.19v12.83M494.5 457.19v12.83M546.5 457.19v12.83M570.5 457.19v12.83M418.5 470.02v12.83M519.5 470.02v12.83M541.5 470.02v12.83M558.5 470.02v12.83M420.5 482.85v12.83M443.5 482.85v12.83M405.5 495.68v12.83M411.5 495.68v12.83M484.5 495.68v12.83M494.5 495.68v12.83M400.5 508.51v12.83M444.5 508.51v12.83M451.5 508.51v12.83M468.5 521.34v12.83M528.5 521.34v12.83M595.5 521.34v12.83M510.5 534.17v12.83M415.5 547.00v12.83M454.5 547.00v12.83M448.5 559.83v12.83M456.5 559.83v12.83M457.5 559.83v12.83M487.5 559.83v12.83M539.5 559.83v12.83M551.5 559.83v12.83M625.5 559.83v12.83M631.5 559.83v12.83M422.5 572.66v12.83M480.5 572.66v12.83M493.5 572.66v12.83M637.5 572.66v12.83M409.5 585.49v12.83M444.5 585.49v12.83M453.5 585.49v12.83M487.5 585.49v12.83M510.5 585.49v12.83M627.5 585.49v12.83M416.5 598.32v12.83M444.5 598.32v12.83M538.5 598.32v12.83M548.5 598.32v12.83M641.5 598.32v12.83M430.5 611.15v12.83M469.5 611.15v12.83M497.5 611.15v12.83M400.5 636.81v12.83M409.5 636.81v12.83M411.5 636.81v12.83M426.5 636.81v12.83M432.5 636.81v12.83M619.5 636.81v12.83M631.5 636.81v12.83M541.5 662.47v12.83M580.5 662.47v12.83M613.5 662.47v12.83M577.5 700.96v12.83M613.5 700.96v12.83M407.5 726.62v12.83M422.5 726.62v12.83M430.5 726.62v12.83M442.5 726.62v12.83M464.5 726.62v12.83M554.5 726.62v12.83M564.5 726.62v12.83M421.5 739.45v12.83M422.5 739.45v12.83M458.5 739.45v12.83M547.5 739.45v12.83M622.5 739.45v12.83M473.5 777.94v12.83M526.5 777.94v12.83M543.5 777.94v12.83M597.5 777.94v12.83M617.5 777.94v12.83M424.5 790.77v12.83M431.5 790.77v12.83M435.5 790.77v12.83M436.5 790.77v12.83M472.5 790.77v12.83M495.5 790.77v12.83M501.5 790.77v12.83M502.5 790.77v12.83M505.5 790.77v12.83M511.5 790.77v12.83M563.5 790.77v12.83M587.5 790.77v12.83" stroke="#773344" stroke-width="1.02" fill="none"/>
<path d="M528.5 418.70v12.83M408.5 431.53v12.83M454.5 431.53v12.83M491.5 431.53v12.83M535.5 431.53v12.83M619.5 431.53v12.83M471.5 444.36v12.83M593.5 444.36v12.83M403.5 457.19v12.83M413.5 457.19v12.83M433.5 457.19v12.83M438.5 457.19v12.83M456.5 457.19v12.83M462.5 457.19v12.83M463.5 457.19v12.83M481.5 457.19v12.83M606.5 457.19v12.83M393.5 470.02v12.83M417.5 470.02v12.83M494.5 470.02v12.83M538.5 470.02v12.83M580.5 470.02v12.83M604.5 470.02v12.83M641.5 470.02v12.83M413.5 482.85v12.83M414.5 482.85v12.83M452.5 482.85v12.83M486.5 482.85v12.83M501.5 482.85v12.83M508.5 482.85v12.83M513.5 482.85v12.83M531.5 482.85v12.83M537.5 482.85v12.83M592.5 482.85v12.83M619.5 482.85v12.83M448.5 495.68v12.83M475.5 495.68v12.83M627.5 495.68v12.83M391.5 508.51v12.83M412.5 508.51v12.83M422.5 508.51v12.83M431.5 508.51v12.83M434.5 508.51v12.83M455.5 508.51v12.83M467.5 508.51v12.83M483.5 508.51v12.83M484.5 508.51v12.83M502.5 508.51v12.83M508.5 508.51v12.83M540.5 508.51v12.83M402.5 521.34v12.83M439.5 521.34v12.83M592.5 521.34v12.83M629.5 521.34v12.83M464.5 534.17v12.83M500.5 534.17v12.83M535.5 534.17v12.83M398.5 547.00v12.83M402.5 547.00v12.83M405.5 547.00v12.83M495.5 547.00v12.83M535.5 547.00v12.83M558.5 547.00v12.83M424.5 559.83v12.83M439.5 559.83v12.83M465.5 559.83v12.83M506.5 559.83v12.83M521.5 559.83v12.83M528.5 559.83v12.83M547.5 559.83v12.83M555.5 559.83v12.83M567.5 559.83v12.83M439.5 572.66v12.83M468.5 572.66v12.83M488.5 572.66v12.83M502.5 572.66v12.83M510.5 572.66v12.83M407.5 585.49v12.83M424.5 585.49v12.83M432.5 585.49v12.83M467.5 585.49v12.83M498.5 585.49v12.83M520.5 585.49v12.83M537.5 585.49v12.83M420.5 598.32v12.83M435.5 598.32v12.83M466.5 598.32v12.83M475.5 598.32v12.83M535.5 598.32v12.83M614.5 598.32v12.83M413.5 611.15v12.83M511.5 611.15v12.83M451.5 636.81v12.83M486.5 636.81v12.83M498.5 636.81v12.83M547.5 636.81v12.83M556.5 636.81v12.83M588.5 636.81v12.83M629.5 636.81v12.83M562.5 662.47v12.83M588.5 662.47v12.83M630.5 662.47v12.83M590.5 700.96v12.83M441.5 713.79v12.83M539.5 713.79v12.83M402.5 726.62v12.83M409.5 726.62v12.83M461.5 726.62v12.83M483.5 726.62v12.83M493.5 726.62v12.83M629.5 726.62v12.83M634.5 726.62v12.83M401.5 739.45v12.83M406.5 739.45v12.83M433.5 739.45v12.83M445.5 739.45v12.83M453.5 739.45v12.83M532.5 739.45v12.83M423.5 752.28v12.83M433.5 777.94v12.83M452.5 777.94v12.83M489.5 777.94v12.83M542.5 777.94v12.83M420.5 790.77v12.83M440.5 790.77v12.83M443.5 790.77v12.83M637.5 790.77v12.83" stroke="#663333" stroke-width="1.02" fill="none"/>
<path d="M539.5 418.70v12.83M417.5 457.19v12.83M622.5 547.00v12.83M625.5 547.00v12.83M517.5 559.83v12.83M464.5 572.66v12.83M450.5 598.32v12.83M463.5 611.15v12.83M467.5 611.15v12.83M477.5 636.81v12.83M479.5 636.81v12.83M561.5 700.96v12.83M537.5 790.77v12.83" stroke="#882255" stroke-width="1.02" fill="none"/>
<path d="M549.5 418.70v12.83M557.5 418.70v12.83M564.5 418.70v12.83M567.5 418.70v12.83M576.5 418.70v12.83M583.5 418.70v12.83M611.5 418.70v12.83M614.5 418.70v12.83M615.5 418.70v12.83M617.5 418.70v12.83M621.5 418.70v12.83M635.5 418.70v12.83M467.5 431.53v12.83M551.5 431.53v12.83M557.5 431.53v12.83M563.5 431.53v12.83M572.5 431.53v12.83M582.5 431.53v12.83M602.5 431.53v12.83M608.5 431.53v12.83M617.5 431.53v12.83M641.5 431.53v12.83M405.5 444.36v12.83M423.5 444.36v12.83M550.5 444.36v12.83M571.5 444.36v12.83M572.5 444.36v12.83M587.5 444.36v12.83M591.5 444.36v12.83M568.5 457.19v12.83M574.5 457.19v12.83M580.5 457.19v12.83M594.5 457.19v12.83M596.5 457.19v12.83M597.5 457.19v12.83M611.5 457.19v12.83M625.5 457.19v12.83M448.5 470.02v12.83M520.5 470.02v12.83M553.5 470.02v12.83M562.5 470.02v12.83M564.5 470.02v12.83M583.5 470.02v12.83M605.5 470.02v12.83M622.5 470.02v12.83M635.5 470.02v12.83M636.5 470.02v12.83M402.5 482.85v12.83M421.5 482.85v12.83M549.5 482.85v12.83M563.5 482.85v12.83M568.5 482.85v12.83M576.5 482.85v12.83M580.5 482.85v12.83M629.5 482.85v12.83M634.5 482.85v12.83M507.5 495.68v12.83M558.5 495.68v12.83M563.5 495.68v12.83M579.5 495.68v12.83M598.5 495.68v12.83M599.5 495.68v12.83M606.5 495.68v12.83M607.5 495.68v12.83M566.5 508.51v12.83M580.5 508.51v12.83M595.5 508.51v12.83M598.5 508.51v12.83M600.5 508.51v12.83M473.5 521.34v12.83M479.5 521.34v12.83M559.5 521.34v12.83M560.5 521.34v12.83M567.5 521.34v12.83M568.5 521.34v12.83M570.5 521.34v12.83M575.5 521.34v12.83M593.5 521.34v12.83M596.5 521.34v12.83M604.5 521.34v12.83M405.5 534.17v12.83M426.5 534.17v12.83M434.5 534.17v12.83M574.5 534.17v12.83M588.5 534.17v12.83M397.5 547.00v12.83M407.5 547.00v12.83M408.5 547.00v12.83M413.5 547.00v12.83M420.5 547.00v12.83M450.5 547.00v12.83M500.5 547.00v12.83M502.5 547.00v12.83M511.5 547.00v12.83M518.5 547.00v12.83M434.5 559.83v12.83M535.5 559.83v12.83M616.5 559.83v12.83M617.5 559.83v12.83M633.5 559.83v12.83M392.5 572.66v12.83M395.5 572.66v12.83M401.5 572.66v12.83M413.5 572.66v12.83M415.5 572.66v12.83M429.5 572.66v12.83M436.5 572.66v12.83M443.5 572.66v12.83M444.5 572.66v12.83M446.5 572.66v12.83M452.5 572.66v12.83M461.5 572.66v12.83M485.5 572.66v12.83M495.5 572.66v12.83M512.5 572.66v12.83M519.5 572.66v12.83M539.5 572.66v12.83M541.5 572.66v12.83M614.5 572.66v12.83M616.5 572.66v12.83M630.5 572.66v12.83M635.5 572.66v12.83M631.5 585.49v12.83M391.5 598.32v12.83M416.5 611.15v12.83M431.5 611.15v12.83M441.5 611.15v12.83M638.5 611.15v12.83M431.5 636.81v12.83M507.5 636.81v12.83M630.5 636.81v12.83M396.5 662.47v12.83M403.5 662.47v12.83M409.5 662.47v12.83M410.5 662.47v12.83M419.5 662.47v12.83M429.5 662.47v12.83M437.5 662.47v12.83M438.5 662.47v12.83M451.5 662.47v12.83M453.5 662.47v12.83M454.5 662.47v12.83M455.5 662.47v12.83M457.5 662.47v12.83M459.5 662.47v12.83M464.5 662.47v12.83M466.5 662.47v12.83M467.5 662.47v12.83M470.5 662.47v12.83M471.5 662.47v12.83M473.5 662.47v12.83M475.5 662.47v12.83M478.5 662.47v12.83M481.5 662.47v12.83M488.5 662.47v12.83M498.5 662.47v12.83M499.5 662.47v12.83M500.5 662.47v12.83M504.5 662.47v12.83M520.5 662.47v12.83M525.5 662.47v12.83M526.5 662.47v12.83M531.5 662.47v12.83M535.5 662.47v12.83M536.5 662.47v12.83M538.5 662.47v12.83M542.5 662.47v12.83M544.5 662.47v12.83M550.5 662.47v12.83M573.5 662.47v12.83M583.5 662.47v12.83M589.5 662.47v12.83M602.5 662.47v12.83M609.5 662.47v12.83M629.5 662.47v12.83M640.5 662.47v12.83M464.5 688.13v12.83M550.5 688.13v12.83M558.5 688.13v12.83M567.5 688.13v12.83M568.5 688.13v12.83M587.5 688.13v12.83M601.5 688.13v12.83M604.5 688.13v12.83M458.5 700.96v12.83M467.5 700.96v12.83M469.5 700.96v12.83M473.5 700.96v12.83M515.5 700.96v12.83M536.5 700.96v12.83M544.5 700.96v12.83M555.5 700.96v12.83M560.5 700.96v12.83M554.5 713.79v12.83M555.5 713.79v12.83M556.5 713.79v12.83M561.5 713.79v12.83M562.5 713.79v12.83M568.5 713.79v12.83M570.5 713.79v12.83M572.5 713.79v12.83M573.5 713.79v12.83M578.5 713.79v12.83M587.5 713.79v12.83M588.5 713.79v12.83M589.5 713.79v12.83M591.5 713.79v12.83M592.5 713.79v12.83M596.5 713.79v12.83M597.5 713.79v12.83M601.5 713.79v12.83M602.5 713.79v12.83M604.5 713.79v12.83M423.5 726.62v12.83M426.5 726.62v12.83M453.5 726.62v12.83M458.5 726.62v12.83M520.5 726.62v12.83M525.5 726.62v12.83M602.5 726.62v12.83M414.5 739.45v12.83M427.5 739.45v12.83M566.5 739.45v12.83M551.5 752.28v12.83M553.5 752.28v12.83M560.5 752.28v12.83M562.5 752.28v12.83M565.5 752.28v12.83M583.5 752.28v12.83M586.5 752.28v12.83M592.5 752.28v12.83M603.5 752.28v12.83M445.5 777.94v12.83M478.5 777.94v12.83M535.5 777.94v12.83M546.5 777.94v12.83M557.5 777.94v12.83M560.5 777.94v12.83M576.5 777.94v12.83M577.5 777.94v12.83M588.5 777.94v12.83M589.5 777.94v12.83M395.5 790.77v12.83M426.5 790.77v12.83M467.5 790.77v12.83M555.5 790.77v12.83M571.5 790.77v12.83M592.5 790.77v12.83M611.5 790.77v12.83" stroke="#440044" stroke-width="1.02" fill="none"/>
<path d="M550.5 418.70v12.83M571.5 418.70v12.83M555.5 431.53v12.83M589.5 431.53v12.83M638.5 431.53v12.83M465.5 444.36v12.83M498.5 444.36v12.83M507.5 444.36v12.83M560.5 444.36v12.83M605.5 444.36v12.83M416.5 457.19v12.83M451.5 457.19v12.83M556.5 457.19v12.83M636.5 457.19v12.83M598.5 470.02v12.83M394.5 482.85v12.83M403.5 482.85v12.83M570.5 482.85v12.83M583.5 482.85v12.83M590.5 495.68v12.83M628.5 495.68v12.83M583.5 508.51v12.83M617.5 508.51v12.83M623.5 508.51v12.83M476.5 521.34v12.83M579.5 521.34v12.83M598.5 521.34v12.83M609.5 521.34v12.83M630.5 521.34v12.83M391.5 534.17v12.83M422.5 547.00v12.83M446.5 547.00v12.83M470.5 547.00v12.83M627.5 547.00v12.83M467.5 559.83v12.83M486.5 559.83v12.83M613.5 559.83v12.83M622.5 559.83v12.83M424.5 572.66v12.83M526.5 572.66v12.83M606.5 572.66v12.83M399.5 585.49v12.83M461.5 585.49v12.83M471.5 585.49v12.83M488.5 585.49v12.83M489.5 585.49v12.83M633.5 585.49v12.83M410.5 598.32v12.83M411.5 598.32v12.83M498.5 598.32v12.83M515.5 598.32v12.83M461.5 611.15v12.83M619.5 611.15v12.83M623.5 611.15v12.83M424.5 636.81v12.83M487.5 636.81v12.83M391.5 662.47v12.83M440.5 662.47v12.83M486.5 662.47v12.83M497.5 662.47v12.83M533.5 662.47v12.83M610.5 662.47v12.83M622.5 662.47v12.83M583.5 700.96v12.83M471.5 713.79v12.83M469.5 726.62v12.83M510.5 726.62v12.83M587.5 726.62v12.83M606.5 726.62v12.83M484.5 739.45v12.83M492.5 739.45v12.83M542.5 739.45v12.83M546.5 739.45v12.83M561.5 752.28v12.83M574.5 752.28v12.83M601.5 777.94v12.83M607.5 790.77v12.83" stroke="#441133" stroke-width="1.02" fill="none"/>
<path d="M551.5 418.70v12.83M581.5 418.70v12.83M623.5 418.70v12.83M403.5 431.53v12.83M517.5 431.53v12.83M520.5 431.53v12.83M549.5 431.53v12.83M581.5 431.53v12.83M585.5 431.53v12.83M592.5 431.53v12.83M598.5 431.53v12.83M603.5 431.53v12.83M605.5 431.53v12.83M606.5 431.53v12.83M398.5 444.36v12.83M402.5 444.36v12.83M485.5 444.36v12.83M491.5 444.36v12.83M583.5 444.36v12.83M544.5 457.19v12.83M552.5 457.19v12.83M586.5 457.19v12.83M599.5 457.19v12.83M604.5 457.19v12.83M605.5 457.19v12.83M607.5 457.19v12.83M532.5 470.02v12.83M638.5 470.02v12.83M490.5 482.85v12.83M502.5 482.85v12.83M530.5 482.85v12.83M554.5 482.85v12.83M564.5 482.85v12.83M589.5 482.85v12.83M604.5 482.85v12.83M613.5 482.85v12.83M627.5 482.85v12.83M635.5 482.85v12.83M530.5 495.68v12.83M553.5 495.68v12.83M560.5 495.68v12.83M572.5 495.68v12.83M586.5 495.68v12.83M640.5 495.68v12.83M613.5 508.51v12.83M614.5 508.51v12.83M410.5 521.34v12.83M418.5 521.34v12.83M435.5 521.34v12.83M551.5 521.34v12.83M554.5 521.34v12.83M558.5 521.34v12.83M583.5 521.34v12.83M606.5 521.34v12.83M406.5 534.17v12.83M414.5 534.17v12.83M436.5 534.17v12.83M499.5 534.17v12.83M507.5 534.17v12.83M508.5 534.17v12.83M525.5 534.17v12.83M448.5 547.00v12.83M508.5 547.00v12.83M545.5 547.00v12.83M553.5 547.00v12.83M626.5 547.00v12.83M629.5 547.00v12.83M640.5 547.00v12.83M395.5 559.83v12.83M406.5 559.83v12.83M494.5 559.83v12.83M402.5 572.66v12.83M403.5 572.66v12.83M448.5 572.66v12.83M506.5 572.66v12.83M514.5 572.66v12.83M517.5 572.66v12.83M527.5 572.66v12.83M599.5 572.66v12.83M612.5 572.66v12.83M500.5 585.49v12.83M562.5 598.32v12.83M509.5 611.15v12.83M545.5 611.15v12.83M628.5 611.15v12.83M637.5 611.15v12.83M397.5 636.81v12.83M419.5 636.81v12.83M435.5 636.81v12.83M452.5 636.81v12.83M454.5 636.81v12.83M510.5 649.64v12.83M518.5 649.64v12.83M598.5 649.64v12.83M610.5 649.64v12.83M461.5 662.47v12.83M558.5 662.47v12.83M574.5 662.47v12.83M576.5 662.47v12.83M581.5 662.47v12.83M614.5 662.47v12.83M408.5 688.13v12.83M416.5 688.13v12.83M505.5 688.13v12.83M563.5 688.13v12.83M405.5 713.79v12.83M428.5 713.79v12.83M447.5 713.79v12.83M593.5 713.79v12.83M607.5 713.79v12.83M504.5 726.62v12.83M434.5 739.45v12.83M496.5 739.45v12.83M526.5 739.45v12.83M403.5 752.28v12.83M405.5 752.28v12.83M434.5 752.28v12.83M471.5 752.28v12.83M516.5 752.28v12.83M572.5 752.28v12.83M580.5 752.28v12.83M585.5 752.28v12.83M613.5 765.11v12.83M512.5 777.94v12.83M545.5 777.94v12.83M550.5 777.94v12.83M567.5 777.94v12.83M573.5 777.94v12.83M603.5 777.94v12.83M425.5 790.77v12.83M598.5 790.77v12.83" stroke="#442222" stroke-width="1.02" fill="none"/>
<path d="M554.5 418.70v12.83M473.5 431.53v12.83M530.5 431.53v12.83M577.5 431.53v12.83M611.5 431.53v12.83M430.5 444.36v12.83M443.5 444.36v12.83M462.5 444.36v12.83M488.5 444.36v12.83M495.5 444.36v12.83M519.5 444.36v12.83M545.5 444.36v12.83M549.5 457.19v12.83M578.5 457.19v12.83M566.5 470.02v12.83M599.5 470.02v12.83M607.5 470.02v12.83M399.5 482.85v12.83M416.5 482.85v12.83M545.5 482.85v12.83M579.5 482.85v12.83M470.5 495.68v12.83M543.5 495.68v12.83M561.5 495.68v12.83M593.5 495.68v12.83M600.5 495.68v12.83M604.5 495.68v12.83M622.5 495.68v12.83M551.5 508.51v12.83M395.5 521.34v12.83M447.5 521.34v12.83M482.5 521.34v12.83M515.5 521.34v12.83M421.5 534.17v12.83M437.5 534.17v12.83M451.5 534.17v12.83M489.5 534.17v12.83M537.5 534.17v12.83M601.5 534.17v12.83M485.5 547.00v12.83M624.5 547.00v12.83M636.5 547.00v12.83M423.5 572.66v12.83M555.5 572.66v12.83M609.5 572.66v12.83M455.5 585.49v12.83M409.5 598.32v12.83M505.5 611.15v12.83M534.5 611.15v12.83M537.5 611.15v12.83M563.5 623.98v12.83M418.5 636.81v12.83M440.5 636.81v12.83M442.5 636.81v12.83M443.5 636.81v12.83M578.5 636.81v12.83M608.5 636.81v12.83M610.5 636.81v12.83M406.5 649.64v12.83M428.5 649.64v12.83M485.5 649.64v12.83M551.5 649.64v12.83M574.5 649.64v12.83M425.5 662.47v12.83M567.5 662.47v12.83M394.5 688.13v12.83M431.5 688.13v12.83M450.5 688.13v12.83M460.5 688.13v12.83M493.5 688.13v12.83M578.5 688.13v12.83M620.5 688.13v12.83M574.5 700.96v12.83M414.5 713.79v12.83M499.5 713.79v12.83M543.5 713.79v12.83M406.5 726.62v12.83M501.5 726.62v12.83M425.5 739.45v12.83M397.5 752.28v12.83M414.5 752.28v12.83M455.5 752.28v12.83M463.5 752.28v12.83M466.5 752.28v12.83M633.5 752.28v12.83M442.5 765.11v12.83M528.5 765.11v12.83M479.5 777.94v12.83M497.5 777.94v12.83M539.5 777.94v12.83M555.5 777.94v12.83M581.5 777.94v12.83M598.5 777.94v12.83M610.5 777.94v12.83" stroke="#443311" stroke-width="1.02" fill="none"/>
<path d="M555.5 418.70v12.83M559.5 418.70v12.83M589.5 418.70v12.83M593.5 418.70v12.83M602.5 418.70v12.83M633.5 418.70v12.83M636.5 418.70v12.83M416.5 431.53v12.83M474.5 431.53v12.83M573.5 431.53v12.83M575.5 431.53v12.83M625.5 431.53v12.83M637.5 431.53v12.83M600.5 444.36v12.83M422.5 457.19v12.83M511.5 457.19v12.83M579.5 457.19v12.83M420.5 470.02v12.83M432.5 470.02v12.83M461.5 470.02v12.83M463.5 470.02v12.83M487.5 470.02v12.83M522.5 470.02v12.83M577.5 470.02v12.83M578.5 470.02v12.83M603.5 470.02v12.83M632.5 470.02v12.83M426.5 482.85v12.83M436.5 482.85v12.83M492.5 482.85v12.83M402.5 495.68v12.83M471.5 495.68v12.83M483.5 495.68v12.83M552.5 495.68v12.83M588.5 495.68v12.83M594.5 495.68v12.83M615.5 495.68v12.83M445.5 508.51v12.83M498.5 508.51v12.83M525.5 508.51v12.83M528.5 508.51v12.83M538.5 508.51v12.83M567.5 508.51v12.83M612.5 508.51v12.83M632.5 508.51v12.83M399.5 521.34v12.83M493.5 521.34v12.83M511.5 521.34v12.83M601.5 521.34v12.83M611.5 521.34v12.83M394.5 534.17v12.83M430.5 534.17v12.83M400.5 547.00v12.83M429.5 547.00v12.83M439.5 547.00v12.83M451.5 547.00v12.83M452.5 547.00v12.83M453.5 547.00v12.83M476.5 547.00v12.83M487.5 547.00v12.83M499.5 547.00v12.83M542.5 547.00v12.83M575.5 547.00v12.83M614.5 547.00v12.83M391.5 559.83v12.83M402.5 559.83v12.83M416.5 559.83v12.83M503.5 559.83v12.83M512.5 559.83v12.83M513.5 559.83v12.83M394.5 572.66v12.83M416.5 572.66v12.83M418.5 572.66v12.83M428.5 572.66v12.83M496.5 572.66v12.83M499.5 572.66v12.83M615.5 572.66v12.83M404.5 585.49v12.83M416.5 585.49v12.83M482.5 585.49v12.83M400.5 598.32v12.83M489.5 598.32v12.83M496.5 598.32v12.83M525.5 598.32v12.83M612.5 598.32v12.83M620.5 598.32v12.83M397.5 611.15v12.83M618.5 611.15v12.83M622.5 611.15v12.83M414.5 636.81v12.83M505.5 636.81v12.83M519.5 636.81v12.83M546.5 636.81v12.83M617.5 636.81v12.83M620.5 636.81v12.83M551.5 662.47v12.83M554.5 662.47v12.83M563.5 662.47v12.83M619.5 662.47v12.83M433.5 688.13v12.83M523.5 688.13v12.83M599.5 700.96v12.83M550.5 713.79v12.83M563.5 713.79v12.83M428.5 726.62v12.83M439.5 726.62v12.83M441.5 726.62v12.83M449.5 726.62v12.83M471.5 726.62v12.83M505.5 726.62v12.83M536.5 726.62v12.83M415.5 739.45v12.83M446.5 739.45v12.83M469.5 739.45v12.83M479.5 739.45v12.83M527.5 739.45v12.83M476.5 752.28v12.83M609.5 752.28v12.83M392.5 777.94v12.83M396.5 777.94v12.83M499.5 777.94v12.83M500.5 777.94v12.83M541.5 777.94v12.83M572.5 777.94v12.83M608.5 777.94v12.83M611.5 777.94v12.83M451.5 790.77v12.83M606.5 790.77v12.83" stroke="#552233" stroke-width="1.02" fill="none"/>
<path d="M556.5 418.70v12.83M570.5 495.68v12.83M560.5 508.51v12.83M629.5 508.51v12.83M414.5 572.66v12.83M502.5 649.64v12.83M427.5 662.47v12.83M582.5 662.47v12.83M586.5 662.47v12.83M585.5 688.13v12.83M539.5 700.96v12.83M598.5 700.96v12.83M429.5 726.62v12.83M432.5 739.45v12.83M566.5 752.28v12.83" stroke="#331133" stroke-width="1.02" fill="none"/>
<path d="M558.5 418.70v12.83M579.5 418.70v12.83M585.5 418.70v12.83M588.5 418.70v12.83M620.5 418.70v12.83M395.5 431.53v12.83M554.5 431.53v12.83M567.5 431.53v12.83M626.5 431.53v12.83M484.5 444.36v12.83M490.5 444.36v12.83M499.5 444.36v12.83M513.5 444.36v12.83M552.5 444.36v12.83M567.5 444.36v12.83M607.5 444.36v12.83M584.5 470.02v12.83M606.5 470.02v12.83M433.5 482.85v12.83M616.5 482.85v12.83M521.5 495.68v12.83M554.5 495.68v12.83M618.5 508.51v12.83M562.5 521.34v12.83M401.5 534.17v12.83M404.5 534.17v12.83M448.5 534.17v12.83M450.5 534.17v12.83M467.5 534.17v12.83M469.5 534.17v12.83M483.5 534.17v12.83M509.5 534.17v12.83M544.5 534.17v12.83M552.5 534.17v12.83M416.5 547.00v12.83M430.5 547.00v12.83M641.5 559.83v12.83M410.5 572.66v12.83M484.5 572.66v12.83M489.5 572.66v12.83M413.5 585.49v12.83M542.5 623.98v12.83M612.5 623.98v12.83M402.5 636.81v12.83M514.5 636.81v12.83M392.5 649.64v12.83M394.5 649.64v12.83M496.5 649.64v12.83M501.5 649.64v12.83M567.5 649.64v12.83M578.5 649.64v12.83M584.5 649.64v12.83M587.5 649.64v12.83M601.5 649.64v12.83M604.5 649.64v12.83M607.5 649.64v12.83M400.5 662.47v12.83M472.5 662.47v12.83M543.5 662.47v12.83M555.5 662.47v12.83M593.5 662.47v12.83M600.5 662.47v12.83M623.5 662.47v12.83M457.5 675.30v12.83M629.5 675.30v12.83M411.5 688.13v12.83M494.5 688.13v12.83M503.5 688.13v12.83M536.5 688.13v12.83M632.5 688.13v12.83M594.5 700.96v12.83M396.5 713.79v12.83M404.5 713.79v12.83M425.5 713.79v12.83M453.5 713.79v12.83M454.5 713.79v12.83M473.5 713.79v12.83M476.5 713.79v12.83M491.5 713.79v12.83M495.5 713.79v12.83M526.5 713.79v12.83M447.5 726.62v12.83M509.5 726.62v12.83M394.5 752.28v12.83M413.5 752.28v12.83M427.5 752.28v12.83M432.5 752.28v12.83M437.5 752.28v12.83M500.5 752.28v12.83M513.5 752.28v12.83M527.5 752.28v12.83M545.5 752.28v12.83M548.5 752.28v12.83M563.5 752.28v12.83M594.5 752.28v12.83M602.5 752.28v12.83M615.5 752.28v12.83M453.5 765.11v12.83M506.5 765.11v12.83M576.5 765.11v12.83M577.5 765.11v12.83M533.5 777.94v12.83M556.5 777.94v12.83" stroke="#332211" stroke-width="1.02" fill="none"/>
<path d="M560.5 418.70v12.83M581.5 470.02v12.83M506.5 482.85v12.83M575.5 482.85v12.83M497.5 508.51v12.83M545.5 508.51v12.83M451.5 572.66v12.83M405.5 585.49v12.83M526.5 585.49v12.83M394.5 598.32v12.83M619.5 598.32v12.83M634.5 598.32v12.83M412.5 611.15v12.83M422.5 611.15v12.83M522.5 636.81v12.83M622.5 636.81v12.83M556.5 700.96v12.83M582.5 700.96v12.83M403.5 726.62v12.83M412.5 726.62v12.83M510.5 739.45v12.83M491.5 777.94v12.83M433.5 790.77v12.83M466.5 790.77v12.83M470.5 790.77v12.83M630.5 790.77v12.83" stroke="#552244" stroke-width="1.02" fill="none"/>
<path d="M561.5 418.70v12.83M570.5 418.70v12.83M578.5 418.70v12.83M594.5 418.70v12.83M605.5 418.70v12.83M405.5 431.53v12.83M570.5 431.53v12.83M596.5 431.53v12.83M395.5 444.36v12.83M475.5 444.36v12.83M477.5 444.36v12.83M481.5 444.36v12.83M493.5 444.36v12.83M504.5 444.36v12.83M460.5 457.19v12.83M477.5 457.19v12.83M520.5 457.19v12.83M587.5 457.19v12.83M634.5 457.19v12.83M443.5 470.02v12.83M505.5 470.02v12.83M591.5 470.02v12.83M430.5 482.85v12.83M438.5 482.85v12.83M469.5 482.85v12.83M484.5 482.85v12.83M637.5 482.85v12.83M499.5 495.68v12.83M440.5 508.51v12.83M448.5 508.51v12.83M456.5 508.51v12.83M457.5 508.51v12.83M436.5 521.34v12.83M438.5 521.34v12.83M461.5 521.34v12.83M471.5 521.34v12.83M499.5 521.34v12.83M532.5 521.34v12.83M432.5 534.17v12.83M472.5 534.17v12.83M513.5 534.17v12.83M547.5 534.17v12.83M466.5 547.00v12.83M486.5 547.00v12.83M494.5 547.00v12.83M528.5 547.00v12.83M635.5 547.00v12.83M504.5 559.83v12.83M544.5 559.83v12.83M607.5 559.83v12.83M397.5 572.66v12.83M507.5 572.66v12.83M515.5 572.66v12.83M518.5 572.66v12.83M523.5 572.66v12.83M591.5 572.66v12.83M611.5 572.66v12.83M435.5 585.49v12.83M470.5 585.49v12.83M545.5 585.49v12.83M618.5 585.49v12.83M424.5 598.32v12.83M431.5 598.32v12.83M437.5 598.32v12.83M507.5 598.32v12.83M516.5 598.32v12.83M517.5 598.32v12.83M526.5 598.32v12.83M575.5 598.32v12.83M392.5 611.15v12.83M421.5 611.15v12.83M460.5 611.15v12.83M476.5 611.15v12.83M480.5 611.15v12.83M502.5 611.15v12.83M512.5 611.15v12.83M601.5 611.15v12.83M420.5 636.81v12.83M455.5 636.81v12.83M481.5 636.81v12.83M488.5 636.81v12.83M602.5 636.81v12.83M606.5 636.81v12.83M635.5 636.81v12.83M575.5 649.64v12.83M572.5 662.47v12.83M398.5 688.13v12.83M404.5 688.13v12.83M564.5 688.13v12.83M588.5 688.13v12.83M611.5 688.13v12.83M462.5 700.96v12.83M463.5 713.79v12.83M481.5 713.79v12.83M538.5 726.62v12.83M576.5 726.62v12.83M577.5 726.62v12.83M584.5 726.62v12.83M585.5 726.62v12.83M615.5 726.62v12.83M442.5 739.45v12.83M515.5 739.45v12.83M544.5 739.45v12.83M393.5 752.28v12.83M444.5 752.28v12.83M521.5 752.28v12.83M607.5 752.28v12.83M627.5 752.28v12.83M401.5 777.94v12.83M562.5 777.94v12.83M566.5 777.94v12.83M499.5 790.77v12.83M539.5 790.77v12.83" stroke="#553322" stroke-width="1.02" fill="none"/>
<path d="M562.5 418.70v12.83M604.5 431.53v12.83M414.5 444.36v12.83M487.5 444.36v12.83M515.5 444.36v12.83M517.5 444.36v12.83M528.5 444.36v12.83M583.5 457.19v12.83M617.5 482.85v12.83M440.5 495.68v12.83M432.5 521.34v12.83M440.5 521.34v12.83M423.5 534.17v12.83M445.5 534.17v12.83M503.5 534.17v12.83M517.5 534.17v12.83M532.5 534.17v12.83M569.5 534.17v12.83M497.5 572.66v12.83M503.5 572.66v12.83M558.5 572.66v12.83M627.5 611.15v12.83M407.5 623.98v12.83M417.5 623.98v12.83M431.5 623.98v12.83M458.5 623.98v12.83M488.5 623.98v12.83M494.5 623.98v12.83M509.5 623.98v12.83M517.5 623.98v12.83M524.5 623.98v12.83M531.5 623.98v12.83M536.5 623.98v12.83M548.5 623.98v12.83M549.5 623.98v12.83M558.5 623.98v12.83M397.5 649.64v12.83M402.5 649.64v12.83M440.5 649.64v12.83M452.5 649.64v12.83M497.5 649.64v12.83M583.5 649.64v12.83M585.5 649.64v12.83M593.5 649.64v12.83M629.5 649.64v12.83M463.5 662.47v12.83M584.5 662.47v12.83M393.5 675.30v12.83M397.5 675.30v12.83M442.5 675.30v12.83M499.5 675.30v12.83M507.5 675.30v12.83M508.5 675.30v12.83M548.5 675.30v12.83M591.5 675.30v12.83M395.5 688.13v12.83M400.5 688.13v12.83M410.5 688.13v12.83M418.5 688.13v12.83M424.5 688.13v12.83M452.5 688.13v12.83M454.5 688.13v12.83M459.5 688.13v12.83M469.5 688.13v12.83M499.5 688.13v12.83M548.5 688.13v12.83M609.5 688.13v12.83M413.5 713.79v12.83M422.5 713.79v12.83M426.5 713.79v12.83M448.5 713.79v12.83M465.5 713.79v12.83M505.5 713.79v12.83M579.5 713.79v12.83M416.5 726.62v12.83M401.5 752.28v12.83M422.5 752.28v12.83M426.5 752.28v12.83M461.5 752.28v12.83M472.5 752.28v12.83M479.5 752.28v12.83M514.5 752.28v12.83M530.5 752.28v12.83M539.5 752.28v12.83M544.5 752.28v12.83M638.5 752.28v12.83M398.5 765.11v12.83M408.5 765.11v12.83M411.5 765.11v12.83M413.5 765.11v12.83M415.5 765.11v12.83M424.5 765.11v12.83M433.5 765.11v12.83M436.5 765.11v12.83M437.5 765.11v12.83M448.5 765.11v12.83M450.5 765.11v12.83M460.5 765.11v12.83M467.5 765.11v12.83M473.5 765.11v12.83M486.5 765.11v12.83M516.5 765.11v12.83M559.5 765.11v12.83M565.5 765.11v12.83M598.5 765.11v12.83M611.5 765.11v12.83M633.5 765.11v12.83" stroke="#222200" stroke-width="1.02" fill="none"/>
<path d="M563.5 418.70v12.83M569.5 418.70v12.83M409.5 444.36v12.83M421.5 444.36v12.83M445.5 444.36v12.83M453.5 444.36v12.83M459.5 444.36v12.83M506.5 444.36v12.83M512.5 444.36v12.83M523.5 444.36v12.83M559.5 444.36v12.83M474.5 482.85v12.83M572.5 482.85v12.83M419.5 495.68v12.83M622.5 508.51v12.83M397.5 534.17v12.83M419.5 534.17v12.83M433.5 534.17v12.83M480.5 534.17v12.83M482.5 534.17v12.83M494.5 534.17v12.83M528.5 534.17v12.83M571.5 534.17v12.83M418.5 547.00v12.83M479.5 547.00v12.83M541.5 547.00v12.83M558.5 559.83v12.83M591.5 559.83v12.83M460.5 572.66v12.83M483.5 572.66v12.83M516.5 585.49v12.83M542.5 598.32v12.83M395.5 611.15v12.83M424.5 611.15v12.83M493.5 611.15v12.83M631.5 611.15v12.83M632.5 611.15v12.83M428.5 623.98v12.83M449.5 623.98v12.83M529.5 623.98v12.83M572.5 623.98v12.83M596.5 623.98v12.83M597.5 623.98v12.83M589.5 636.81v12.83M408.5 649.64v12.83M552.5 649.64v12.83M565.5 649.64v12.83M566.5 649.64v12.83M568.5 649.64v12.83M580.5 649.64v12.83M588.5 649.64v12.83M602.5 649.64v12.83M613.5 649.64v12.83M616.5 649.64v12.83M625.5 649.64v12.83M578.5 662.47v12.83M595.5 662.47v12.83M401.5 675.30v12.83M405.5 675.30v12.83M424.5 675.30v12.83M449.5 675.30v12.83M455.5 675.30v12.83M456.5 675.30v12.83M485.5 675.30v12.83M493.5 675.30v12.83M517.5 675.30v12.83M640.5 675.30v12.83M399.5 688.13v12.83M420.5 688.13v12.83M435.5 688.13v12.83M442.5 688.13v12.83M470.5 688.13v12.83M514.5 688.13v12.83M545.5 688.13v12.83M402.5 713.79v12.83M403.5 713.79v12.83M411.5 713.79v12.83M415.5 713.79v12.83M421.5 713.79v12.83M445.5 713.79v12.83M482.5 713.79v12.83M483.5 713.79v12.83M508.5 713.79v12.83M514.5 713.79v12.83M523.5 713.79v12.83M409.5 752.28v12.83M419.5 752.28v12.83M435.5 752.28v12.83M440.5 752.28v12.83M477.5 752.28v12.83M483.5 752.28v12.83M529.5 752.28v12.83M535.5 752.28v12.83M622.5 752.28v12.83M392.5 765.11v12.83M412.5 765.11v12.83M414.5 765.11v12.83M420.5 765.11v12.83M421.5 765.11v12.83M444.5 765.11v12.83M451.5 765.11v12.83M455.5 765.11v12.83M466.5 765.11v12.83M470.5 765.11v12.83M475.5 765.11v12.83M476.5 765.11v12.83M477.5 765.11v12.83M487.5 765.11v12.83M490.5 765.11v12.83M498.5 765.11v12.83M499.5 765.11v12.83M501.5 765.11v12.83M503.5 765.11v12.83M517.5 765.11v12.83M527.5 765.11v12.83M530.5 765.11v12.83M536.5 765.11v12.83M543.5 765.11v12.83M547.5 765.11v12.83M626.5 765.11v12.83M630.5 765.11v12.83M583.5 777.94v12.83M592.5 777.94v12.83M594.5 777.94v12.83" stroke="#333300" stroke-width="1.02" fill="none"/>
<path d="M565.5 418.70v12.83M533.5 482.85v12.83M421.5 495.68v12.83M423.5 495.68v12.83M474.5 508.51v12.83M565.5 547.00v12.83M569.5 572.66v12.83M443.5 598.32v12.83M591.5 598.32v12.83M569.5 611.15v12.83M492.5 636.81v12.83M489.5 713.79v12.83M487.5 752.28v12.83M465.5 777.94v12.83M529.5 790.77v12.83" stroke="#555511" stroke-width="1.02" fill="none"/>
<path d="M566.5 418.70v12.83M599.5 418.70v12.83M627.5 418.70v12.83M574.5 431.53v12.83M610.5 431.53v12.83M394.5 444.36v12.83M424.5 444.36v12.83M429.5 444.36v12.83M431.5 444.36v12.83M450.5 444.36v12.83M479.5 444.36v12.83M482.5 444.36v12.83M501.5 444.36v12.83M520.5 444.36v12.83M582.5 444.36v12.83M594.5 444.36v12.83M596.5 444.36v12.83M553.5 457.19v12.83M561.5 482.85v12.83M600.5 482.85v12.83M618.5 482.85v12.83M555.5 508.51v12.83M564.5 508.51v12.83M572.5 508.51v12.83M575.5 508.51v12.83M585.5 508.51v12.83M588.5 508.51v12.83M592.5 508.51v12.83M599.5 508.51v12.83M601.5 508.51v12.83M605.5 508.51v12.83M606.5 508.51v12.83M607.5 508.51v12.83M549.5 521.34v12.83M576.5 521.34v12.83M597.5 521.34v12.83M603.5 521.34v12.83M396.5 534.17v12.83M408.5 534.17v12.83M413.5 534.17v12.83M441.5 534.17v12.83M455.5 534.17v12.83M529.5 534.17v12.83M553.5 534.17v12.83M554.5 534.17v12.83M557.5 534.17v12.83M560.5 534.17v12.83M563.5 534.17v12.83M566.5 534.17v12.83M573.5 534.17v12.83M575.5 534.17v12.83M580.5 534.17v12.83M585.5 534.17v12.83M586.5 534.17v12.83M590.5 534.17v12.83M591.5 534.17v12.83M593.5 534.17v12.83M598.5 534.17v12.83M608.5 534.17v12.83M609.5 534.17v12.83M610.5 534.17v12.83M611.5 534.17v12.83M619.5 534.17v12.83M622.5 534.17v12.83M628.5 534.17v12.83M632.5 534.17v12.83M640.5 534.17v12.83M393.5 572.66v12.83M440.5 572.66v12.83M456.5 572.66v12.83M465.5 572.66v12.83M429.5 611.15v12.83M435.5 611.15v12.83M633.5 611.15v12.83M393.5 623.98v12.83M400.5 623.98v12.83M403.5 623.98v12.83M404.5 623.98v12.83M410.5 623.98v12.83M418.5 623.98v12.83M419.5 623.98v12.83M424.5 623.98v12.83M425.5 623.98v12.83M427.5 623.98v12.83M440.5 623.98v12.83M444.5 623.98v12.83M450.5 623.98v12.83M453.5 623.98v12.83M459.5 623.98v12.83M464.5 623.98v12.83M467.5 623.98v12.83M472.5 623.98v12.83M473.5 623.98v12.83M478.5 623.98v12.83M491.5 623.98v12.83M507.5 623.98v12.83M515.5 623.98v12.83M520.5 623.98v12.83M526.5 623.98v12.83M533.5 623.98v12.83M539.5 623.98v12.83M541.5 623.98v12.83M619.5 623.98v12.83M631.5 623.98v12.83M632.5 623.98v12.83M637.5 623.98v12.83M401.5 649.64v12.83M404.5 649.64v12.83M407.5 649.64v12.83M412.5 649.64v12.83M416.5 649.64v12.83M435.5 649.64v12.83M445.5 649.64v12.83M449.5 649.64v12.83M456.5 649.64v12.83M465.5 649.64v12.83M468.5 649.64v12.83M471.5 649.64v12.83M472.5 649.64v12.83M475.5 649.64v12.83M486.5 649.64v12.83M489.5 649.64v12.83M491.5 649.64v12.83M499.5 649.64v12.83M504.5 649.64v12.83M512.5 649.64v12.83M515.5 649.64v12.83M521.5 649.64v12.83M527.5 649.64v12.83M530.5 649.64v12.83M536.5 649.64v12.83M539.5 649.64v12.83M541.5 649.64v12.83M545.5 649.64v12.83M546.5 649.64v12.83M547.5 649.64v12.83M550.5 649.64v12.83M573.5 649.64v12.83M594.5 649.64v12.83M615.5 649.64v12.83M617.5 649.64v12.83M626.5 649.64v12.83M632.5 649.64v12.83M404.5 662.47v12.83M441.5 662.47v12.83M456.5 662.47v12.83M503.5 662.47v12.83M565.5 662.47v12.83M395.5 675.30v12.83M398.5 675.30v12.83M402.5 675.30v12.83M406.5 675.30v12.83M414.5 675.30v12.83M420.5 675.30v12.83M421.5 675.30v12.83M448.5 675.30v12.83M466.5 675.30v12.83M492.5 675.30v12.83M510.5 675.30v12.83M527.5 675.30v12.83M536.5 675.30v12.83M545.5 675.30v12.83M546.5 675.30v12.83M567.5 675.30v12.83M598.5 675.30v12.83M599.5 675.30v12.83M613.5 675.30v12.83M392.5 688.13v12.83M393.5 688.13v12.83M401.5 688.13v12.83M412.5 688.13v12.83M414.5 688.13v12.83M415.5 688.13v12.83M422.5 688.13v12.83M423.5 688.13v12.83M425.5 688.13v12.83M439.5 688.13v12.83M446.5 688.13v12.83M448.5 688.13v12.83M456.5 688.13v12.83M461.5 688.13v12.83M462.5 688.13v12.83M467.5 688.13v12.83M471.5 688.13v12.83M473.5 688.13v12.83M475.5 688.13v12.83M478.5 688.13v12.83M480.5 688.13v12.83M487.5 688.13v12.83M492.5 688.13v12.83M495.5 688.13v12.83M498.5 688.13v12.83M500.5 688.13v12.83M510.5 688.13v12.83M513.5 688.13v12.83M515.5 688.13v12.83M516.5 688.13v12.83M524.5 688.13v12.83M530.5 688.13v12.83M535.5 688.13v12.83M543.5 688.13v12.83M569.5 688.13v12.83M590.5 688.13v12.83M596.5 688.13v12.83M459.5 700.96v12.83M408.5 713.79v12.83M410.5 713.79v12.83M435.5 713.79v12.83M436.5 713.79v12.83M437.5 713.79v12.83M439.5 713.79v12.83M442.5 713.79v12.83M446.5 713.79v12.83M479.5 713.79v12.83M492.5 713.79v12.83M497.5 713.79v12.83M528.5 713.79v12.83M529.5 713.79v12.83M564.5 713.79v12.83M574.5 713.79v12.83M594.5 713.79v12.83M397.5 726.62v12.83M599.5 726.62v12.83M425.5 752.28v12.83M462.5 752.28v12.83M465.5 752.28v12.83M467.5 752.28v12.83M468.5 752.28v12.83M519.5 752.28v12.83M526.5 752.28v12.83M573.5 752.28v12.83M591.5 752.28v12.83M599.5 752.28v12.83M396.5 765.11v12.83M409.5 765.11v12.83M410.5 765.11v12.83M428.5 765.11v12.83M454.5 765.11v12.83M464.5 765.11v12.83M474.5 765.11v12.83M491.5 765.11v12.83M502.5 765.11v12.83M508.5 765.11v12.83M511.5 765.11v12.83M513.5 765.11v12.83M533.5 765.11v12.83M549.5 765.11v12.83M557.5 765.11v12.83M566.5 765.11v12.83M567.5 765.11v12.83M574.5 765.11v12.83M581.5 765.11v12.83M583.5 765.11v12.83M589.5 765.11v12.83M591.5 765.11v12.83M597.5 765.11v12.83M603.5 765.11v12.83M606.5 765.11v12.83M607.5 765.11v12.83" stroke="#110011" stroke-width="1.02" fill="none"/>
<path d="M568.5 418.70v12.83M433.5 444.36v12.83M566.5 444.36v12.83M566.5 482.85v12.83M576.5 508.51v12.83M608.5 508.51v12.83M555.5 534.17v12.83M565.5 534.17v12.83M570.5 534.17v12.83M614.5 534.17v12.83M618.5 534.17v12.83M620.5 534.17v12.83M621.5 534.17v12.83M624.5 534.17v12.83M630.5 534.17v12.83M631.5 534.17v12.83M481.5 572.66v12.83M414.5 623.98v12.83M426.5 623.98v12.83M433.5 623.98v12.83M435.5 623.98v12.83M437.5 623.98v12.83M441.5 623.98v12.83M446.5 623.98v12.83M451.5 623.98v12.83M457.5 623.98v12.83M470.5 623.98v12.83M490.5 623.98v12.83M500.5 623.98v12.83M503.5 623.98v12.83M513.5 623.98v12.83M514.5 623.98v12.83M522.5 623.98v12.83M525.5 623.98v12.83M527.5 623.98v12.83M528.5 623.98v12.83M545.5 623.98v12.83M615.5 623.98v12.83M616.5 623.98v12.83M622.5 623.98v12.83M625.5 623.98v12.83M630.5 623.98v12.83M400.5 649.64v12.83M405.5 649.64v12.83M413.5 649.64v12.83M423.5 649.64v12.83M427.5 649.64v12.83M429.5 649.64v12.83M431.5 649.64v12.83M434.5 649.64v12.83M454.5 649.64v12.83M455.5 649.64v12.83M458.5 649.64v12.83M490.5 649.64v12.83M524.5 649.64v12.83M528.5 649.64v12.83M618.5 649.64v12.83M628.5 649.64v12.83M630.5 649.64v12.83M403.5 675.30v12.83M407.5 675.30v12.83M408.5 675.30v12.83M409.5 675.30v12.83M410.5 675.30v12.83M412.5 675.30v12.83M415.5 675.30v12.83M417.5 675.30v12.83M426.5 675.30v12.83M432.5 675.30v12.83M434.5 675.30v12.83M444.5 675.30v12.83M450.5 675.30v12.83M452.5 675.30v12.83M465.5 675.30v12.83M469.5 675.30v12.83M471.5 675.30v12.83M483.5 675.30v12.83M484.5 675.30v12.83M486.5 675.30v12.83M503.5 675.30v12.83M506.5 675.30v12.83M509.5 675.30v12.83M513.5 675.30v12.83M515.5 675.30v12.83M519.5 675.30v12.83M524.5 675.30v12.83M526.5 675.30v12.83M528.5 675.30v12.83M534.5 675.30v12.83M551.5 675.30v12.83M552.5 675.30v12.83M554.5 675.30v12.83M555.5 675.30v12.83M559.5 675.30v12.83M563.5 675.30v12.83M569.5 675.30v12.83M570.5 675.30v12.83M571.5 675.30v12.83M582.5 675.30v12.83M590.5 675.30v12.83M595.5 675.30v12.83M597.5 675.30v12.83M601.5 675.30v12.83M607.5 675.30v12.83M608.5 675.30v12.83M409.5 688.13v12.83M421.5 688.13v12.83M465.5 688.13v12.83M476.5 688.13v12.83M508.5 688.13v12.83M540.5 688.13v12.83M542.5 688.13v12.83M467.5 713.79v12.83M530.5 713.79v12.83M480.5 752.28v12.83M403.5 765.11v12.83M427.5 765.11v12.83M439.5 765.11v12.83M483.5 765.11v12.83M489.5 765.11v12.83M497.5 765.11v12.83M504.5 765.11v12.83M518.5 765.11v12.83M521.5 765.11v12.83M548.5 765.11v12.83M550.5 765.11v12.83M551.5 765.11v12.83M558.5 765.11v12.83M563.5 765.11v12.83M568.5 765.11v12.83M569.5 765.11v12.83M572.5 765.11v12.83M573.5 765.11v12.83M582.5 765.11v12.83M584.5 765.11v12.83M586.5 765.11v12.83M587.5 765.11v12.83M600.5 765.11v12.83M601.5 765.11v12.83M559.5 777.94v12.83" stroke="#110000" stroke-width="1.02" fill="none"/>
<path d="M572.5 418.70v12.83M596.5 418.70v12.83M470.5 431.53v12.83M618.5 444.36v12.83M406.5 457.19v12.83M414.5 457.19v12.83M435.5 457.19v12.83M437.5 457.19v12.83M468.5 457.19v12.83M469.5 457.19v12.83M515.5 457.19v12.83M519.5 457.19v12.83M525.5 457.19v12.83M539.5 457.19v12.83M626.5 457.19v12.83M434.5 470.02v12.83M440.5 470.02v12.83M459.5 470.02v12.83M491.5 470.02v12.83M530.5 470.02v12.83M625.5 470.02v12.83M448.5 482.85v12.83M399.5 495.68v12.83M454.5 495.68v12.83M485.5 495.68v12.83M492.5 495.68v12.83M567.5 495.68v12.83M613.5 495.68v12.83M637.5 495.68v12.83M424.5 508.51v12.83M462.5 508.51v12.83M464.5 508.51v12.83M495.5 508.51v12.83M518.5 508.51v12.83M521.5 508.51v12.83M523.5 508.51v12.83M619.5 508.51v12.83M625.5 508.51v12.83M573.5 521.34v12.83M623.5 521.34v12.83M625.5 521.34v12.83M437.5 547.00v12.83M483.5 547.00v12.83M613.5 547.00v12.83M623.5 547.00v12.83M594.5 559.83v12.83M615.5 559.83v12.83M638.5 559.83v12.83M454.5 572.66v12.83M470.5 572.66v12.83M525.5 572.66v12.83M636.5 572.66v12.83M639.5 572.66v12.83M410.5 585.49v12.83M418.5 585.49v12.83M480.5 585.49v12.83M513.5 585.49v12.83M523.5 585.49v12.83M525.5 585.49v12.83M403.5 598.32v12.83M432.5 598.32v12.83M520.5 598.32v12.83M539.5 598.32v12.83M582.5 598.32v12.83M617.5 598.32v12.83M491.5 611.15v12.83M541.5 611.15v12.83M391.5 636.81v12.83M412.5 636.81v12.83M529.5 636.81v12.83M531.5 636.81v12.83M532.5 636.81v12.83M533.5 636.81v12.83M628.5 636.81v12.83M433.5 700.96v12.83M581.5 700.96v12.83M587.5 700.96v12.83M608.5 700.96v12.83M470.5 726.62v12.83M546.5 726.62v12.83M392.5 739.45v12.83M489.5 739.45v12.83M498.5 739.45v12.83M511.5 739.45v12.83M523.5 739.45v12.83M569.5 739.45v12.83M624.5 739.45v12.83M571.5 777.94v12.83M396.5 790.77v12.83M398.5 790.77v12.83M406.5 790.77v12.83M427.5 790.77v12.83M445.5 790.77v12.83M447.5 790.77v12.83M523.5 790.77v12.83M544.5 790.77v12.83M545.5 790.77v12.83M626.5 790.77v12.83" stroke="#772255" stroke-width="1.02" fill="none"/>
<path d="M573.5 418.70v12.83M629.5 418.70v12.83M525.5 470.02v12.83M615.5 470.02v12.83M413.5 495.68v12.83M523.5 521.34v12.83M444.5 547.00v12.83M538.5 547.00v12.83M600.5 547.00v12.83M617.5 547.00v12.83M635.5 559.83v12.83M474.5 598.32v12.83M552.5 662.47v12.83M538.5 700.96v12.83M558.5 713.79v12.83M470.5 739.45v12.83M474.5 739.45v12.83M562.5 790.77v12.83M624.5 790.77v12.83" stroke="#661144" stroke-width="1.02" fill="none"/>
<path d="M574.5 418.70v12.83M562.5 431.53v12.83M410.5 444.36v12.83M577.5 444.36v12.83M621.5 482.85v12.83M605.5 495.68v12.83M527.5 534.17v12.83M425.5 572.66v12.83M467.5 598.32v12.83M467.5 649.64v12.83M564.5 662.47v12.83M438.5 688.13v12.83M562.5 688.13v12.83M565.5 713.79v12.83" stroke="#221122" stroke-width="1.02" fill="none"/>
<path d="M575.5 418.70v12.83M584.5 418.70v12.83M604.5 418.70v12.83M613.5 418.70v12.83M552.5 431.53v12.83M564.5 431.53v12.83M565.5 431.53v12.83M601.5 431.53v12.83M612.5 431.53v12.83M627.5 431.53v12.83M632.5 431.53v12.83M412.5 444.36v12.83M419.5 444.36v12.83M437.5 444.36v12.83M473.5 444.36v12.83M478.5 444.36v12.83M516.5 444.36v12.83M551.5 444.36v12.83M556.5 444.36v12.83M558.5 444.36v12.83M562.5 444.36v12.83M574.5 444.36v12.83M584.5 444.36v12.83M585.5 444.36v12.83M590.5 444.36v12.83M597.5 444.36v12.83M608.5 444.36v12.83M528.5 457.19v12.83M563.5 457.19v12.83M566.5 457.19v12.83M572.5 457.19v12.83M575.5 457.19v12.83M582.5 457.19v12.83M588.5 457.19v12.83M590.5 457.19v12.83M629.5 457.19v12.83M445.5 470.02v12.83M549.5 470.02v12.83M551.5 470.02v12.83M557.5 470.02v12.83M590.5 470.02v12.83M417.5 482.85v12.83M467.5 482.85v12.83M507.5 482.85v12.83M550.5 482.85v12.83M552.5 482.85v12.83M553.5 482.85v12.83M555.5 482.85v12.83M557.5 482.85v12.83M582.5 482.85v12.83M586.5 482.85v12.83M598.5 482.85v12.83M606.5 482.85v12.83M607.5 482.85v12.83M636.5 482.85v12.83M641.5 482.85v12.83M395.5 495.68v12.83M551.5 495.68v12.83M578.5 495.68v12.83M592.5 495.68v12.83M601.5 495.68v12.83M602.5 495.68v12.83M553.5 508.51v12.83M554.5 508.51v12.83M561.5 508.51v12.83M562.5 508.51v12.83M569.5 508.51v12.83M579.5 508.51v12.83M591.5 508.51v12.83M609.5 508.51v12.83M637.5 508.51v12.83M550.5 521.34v12.83M561.5 521.34v12.83M563.5 521.34v12.83M564.5 521.34v12.83M566.5 521.34v12.83M571.5 521.34v12.83M572.5 521.34v12.83M577.5 521.34v12.83M580.5 521.34v12.83M584.5 521.34v12.83M585.5 521.34v12.83M588.5 521.34v12.83M590.5 521.34v12.83M599.5 521.34v12.83M610.5 521.34v12.83M614.5 521.34v12.83M393.5 534.17v12.83M399.5 534.17v12.83M415.5 534.17v12.83M429.5 534.17v12.83M460.5 534.17v12.83M465.5 534.17v12.83M479.5 534.17v12.83M488.5 534.17v12.83M502.5 534.17v12.83M520.5 534.17v12.83M531.5 534.17v12.83M541.5 534.17v12.83M567.5 534.17v12.83M576.5 534.17v12.83M599.5 534.17v12.83M600.5 534.17v12.83M432.5 547.00v12.83M464.5 547.00v12.83M513.5 547.00v12.83M514.5 547.00v12.83M621.5 547.00v12.83M418.5 559.83v12.83M599.5 559.83v12.83M634.5 559.83v12.83M640.5 559.83v12.83M409.5 572.66v12.83M421.5 572.66v12.83M462.5 572.66v12.83M479.5 572.66v12.83M490.5 572.66v12.83M491.5 572.66v12.83M505.5 572.66v12.83M516.5 572.66v12.83M520.5 572.66v12.83M521.5 572.66v12.83M522.5 572.66v12.83M529.5 572.66v12.83M536.5 572.66v12.83M538.5 572.66v12.83M459.5 585.49v12.83M623.5 585.49v12.83M460.5 598.32v12.83M476.5 598.32v12.83M503.5 598.32v12.83M522.5 611.15v12.83M634.5 611.15v12.83M624.5 636.81v12.83M415.5 649.64v12.83M426.5 649.64v12.83M459.5 649.64v12.83M535.5 649.64v12.83M537.5 649.64v12.83M636.5 649.64v12.83M397.5 662.47v12.83M398.5 662.47v12.83M401.5 662.47v12.83M405.5 662.47v12.83M406.5 662.47v12.83M415.5 662.47v12.83M420.5 662.47v12.83M421.5 662.47v12.83M431.5 662.47v12.83M432.5 662.47v12.83M442.5 662.47v12.83M445.5 662.47v12.83M449.5 662.47v12.83M460.5 662.47v12.83M480.5 662.47v12.83M483.5 662.47v12.83M492.5 662.47v12.83M515.5 662.47v12.83M522.5 662.47v12.83M528.5 662.47v12.83M539.5 662.47v12.83M540.5 662.47v12.83M546.5 662.47v12.83M548.5 662.47v12.83M559.5 662.47v12.83M592.5 662.47v12.83M599.5 662.47v12.83M615.5 662.47v12.83M624.5 662.47v12.83M634.5 662.47v12.83M426.5 688.13v12.83M472.5 688.13v12.83M477.5 688.13v12.83M486.5 688.13v12.83M552.5 688.13v12.83M553.5 688.13v12.83M555.5 688.13v12.83M560.5 688.13v12.83M571.5 688.13v12.83M576.5 688.13v12.83M577.5 688.13v12.83M582.5 688.13v12.83M583.5 688.13v12.83M592.5 688.13v12.83M599.5 688.13v12.83M603.5 688.13v12.83M485.5 700.96v12.83M564.5 700.96v12.83M419.5 713.79v12.83M469.5 713.79v12.83M511.5 713.79v12.83M575.5 713.79v12.83M580.5 713.79v12.83M581.5 713.79v12.83M585.5 713.79v12.83M605.5 713.79v12.83M555.5 726.62v12.83M561.5 726.62v12.83M572.5 726.62v12.83M407.5 752.28v12.83M460.5 752.28v12.83M550.5 752.28v12.83M557.5 752.28v12.83M567.5 752.28v12.83M568.5 752.28v12.83M569.5 752.28v12.83M570.5 752.28v12.83M575.5 752.28v12.83M576.5 752.28v12.83M579.5 752.28v12.83M590.5 752.28v12.83M595.5 752.28v12.83M608.5 752.28v12.83M611.5 752.28v12.83M394.5 777.94v12.83M432.5 777.94v12.83M519.5 777.94v12.83M551.5 777.94v12.83M554.5 777.94v12.83M587.5 777.94v12.83M600.5 777.94v12.83M602.5 777.94v12.83M606.5 777.94v12.83M605.5 790.77v12.83M609.5 790.77v12.83" stroke="#330033" stroke-width="1.02" fill="none"/>
<path d="M577.5 418.70v12.83M586.5 418.70v12.83M603.5 418.70v12.83M625.5 418.70v12.83M571.5 431.53v12.83M590.5 431.53v12.83M628.5 431.53v12.83M636.5 431.53v12.83M397.5 444.36v12.83M406.5 444.36v12.83M451.5 444.36v12.83M489.5 444.36v12.83M492.5 444.36v12.83M522.5 444.36v12.83M533.5 444.36v12.83M554.5 444.36v12.83M557.5 444.36v12.83M563.5 444.36v12.83M564.5 444.36v12.83M578.5 444.36v12.83M580.5 444.36v12.83M581.5 444.36v12.83M598.5 444.36v12.83M599.5 444.36v12.83M603.5 444.36v12.83M604.5 444.36v12.83M610.5 444.36v12.83M609.5 457.19v12.83M560.5 470.02v12.83M569.5 470.02v12.83M588.5 470.02v12.83M406.5 482.85v12.83M556.5 482.85v12.83M560.5 482.85v12.83M562.5 482.85v12.83M571.5 482.85v12.83M573.5 482.85v12.83M574.5 482.85v12.83M590.5 482.85v12.83M597.5 482.85v12.83M609.5 482.85v12.83M611.5 482.85v12.83M555.5 495.68v12.83M550.5 508.51v12.83M552.5 508.51v12.83M556.5 508.51v12.83M565.5 508.51v12.83M568.5 508.51v12.83M570.5 508.51v12.83M573.5 508.51v12.83M574.5 508.51v12.83M584.5 508.51v12.83M589.5 508.51v12.83M590.5 508.51v12.83M593.5 508.51v12.83M594.5 508.51v12.83M597.5 508.51v12.83M603.5 508.51v12.83M604.5 508.51v12.83M490.5 521.34v12.83M557.5 521.34v12.83M574.5 521.34v12.83M600.5 521.34v12.83M607.5 521.34v12.83M624.5 521.34v12.83M400.5 534.17v12.83M407.5 534.17v12.83M412.5 534.17v12.83M422.5 534.17v12.83M427.5 534.17v12.83M438.5 534.17v12.83M459.5 534.17v12.83M475.5 534.17v12.83M478.5 534.17v12.83M485.5 534.17v12.83M487.5 534.17v12.83M493.5 534.17v12.83M518.5 534.17v12.83M534.5 534.17v12.83M549.5 534.17v12.83M561.5 534.17v12.83M562.5 534.17v12.83M572.5 534.17v12.83M578.5 534.17v12.83M581.5 534.17v12.83M582.5 534.17v12.83M583.5 534.17v12.83M584.5 534.17v12.83M587.5 534.17v12.83M589.5 534.17v12.83M602.5 534.17v12.83M605.5 534.17v12.83M606.5 534.17v12.83M607.5 534.17v12.83M442.5 547.00v12.83M407.5 559.83v12.83M400.5 572.66v12.83M406.5 572.66v12.83M430.5 572.66v12.83M445.5 572.66v12.83M449.5 572.66v12.83M473.5 572.66v12.83M501.5 572.66v12.83M513.5 572.66v12.83M542.5 572.66v12.83M616.5 611.15v12.83M625.5 611.15v12.83M629.5 611.15v12.83M630.5 611.15v12.83M641.5 611.15v12.83M416.5 623.98v12.83M502.5 623.98v12.83M393.5 649.64v12.83M409.5 649.64v12.83M418.5 649.64v12.83M419.5 649.64v12.83M430.5 649.64v12.83M432.5 649.64v12.83M438.5 649.64v12.83M442.5 649.64v12.83M444.5 649.64v12.83M446.5 649.64v12.83M457.5 649.64v12.83M463.5 649.64v12.83M473.5 649.64v12.83M479.5 649.64v12.83M481.5 649.64v12.83M482.5 649.64v12.83M507.5 649.64v12.83M509.5 649.64v12.83M513.5 649.64v12.83M516.5 649.64v12.83M520.5 649.64v12.83M522.5 649.64v12.83M525.5 649.64v12.83M526.5 649.64v12.83M529.5 649.64v12.83M534.5 649.64v12.83M542.5 649.64v12.83M589.5 649.64v12.83M612.5 649.64v12.83M614.5 649.64v12.83M640.5 649.64v12.83M399.5 662.47v12.83M407.5 662.47v12.83M411.5 662.47v12.83M412.5 662.47v12.83M424.5 662.47v12.83M430.5 662.47v12.83M433.5 662.47v12.83M434.5 662.47v12.83M484.5 662.47v12.83M490.5 662.47v12.83M494.5 662.47v12.83M506.5 662.47v12.83M509.5 662.47v12.83M511.5 662.47v12.83M512.5 662.47v12.83M545.5 662.47v12.83M571.5 662.47v12.83M585.5 662.47v12.83M605.5 662.47v12.83M607.5 662.47v12.83M616.5 662.47v12.83M620.5 662.47v12.83M636.5 662.47v12.83M638.5 662.47v12.83M639.5 662.47v12.83M402.5 688.13v12.83M417.5 688.13v12.83M428.5 688.13v12.83M441.5 688.13v12.83M458.5 688.13v12.83M490.5 688.13v12.83M518.5 688.13v12.83M519.5 688.13v12.83M522.5 688.13v12.83M547.5 688.13v12.83M549.5 688.13v12.83M556.5 688.13v12.83M559.5 688.13v12.83M581.5 688.13v12.83M584.5 688.13v12.83M589.5 688.13v12.83M595.5 688.13v12.83M597.5 688.13v12.83M602.5 688.13v12.83M605.5 688.13v12.83M606.5 688.13v12.83M608.5 688.13v12.83M402.5 700.96v12.83M592.5 700.96v12.83M393.5 713.79v12.83M412.5 713.79v12.83M434.5 713.79v12.83M452.5 713.79v12.83M464.5 713.79v12.83M472.5 713.79v12.83M567.5 713.79v12.83M571.5 713.79v12.83M576.5 713.79v12.83M577.5 713.79v12.83M584.5 713.79v12.83M599.5 713.79v12.83M606.5 713.79v12.83M608.5 713.79v12.83M566.5 726.62v12.83M624.5 726.62v12.83M452.5 752.28v12.83M490.5 752.28v12.83M492.5 752.28v12.83M504.5 752.28v12.83M507.5 752.28v12.83M524.5 752.28v12.83M525.5 752.28v12.83M536.5 752.28v12.83M554.5 752.28v12.83M555.5 752.28v12.83M558.5 752.28v12.83M559.5 752.28v12.83M581.5 752.28v12.83M582.5 752.28v12.83M584.5 752.28v12.83M589.5 752.28v12.83M597.5 752.28v12.83M601.5 752.28v12.83M605.5 752.28v12.83M606.5 752.28v12.83M404.5 765.11v12.83M552.5 777.94v12.83M568.5 777.94v12.83M596.5 777.94v12.83" stroke="#220022" stroke-width="1.02" fill="none"/>
<path d="M580.5 418.70v12.83M482.5 431.53v12.83M578.5 431.53v12.83M561.5 444.36v12.83M592.5 444.36v12.83M618.5 457.19v12.83M535.5 482.85v12.83M593.5 482.85v12.83M577.5 495.68v12.83M615.5 508.51v12.83M516.5 534.17v12.83M597.5 534.17v12.83M423.5 547.00v12.83M533.5 547.00v12.83M458.5 611.15v12.83M395.5 636.81v12.83M597.5 649.64v12.83M477.5 700.96v12.83M533.5 713.79v12.83M585.5 777.94v12.83" stroke="#441122" stroke-width="1.02" fill="none"/>
<path d="M582.5 418.70v12.83M608.5 418.70v12.83M483.5 431.53v12.83M533.5 431.53v12.83M547.5 431.53v12.83M607.5 431.53v12.83M631.5 431.53v12.83M639.5 431.53v12.83M399.5 457.19v12.83M425.5 457.19v12.83M443.5 457.19v12.83M455.5 457.19v12.83M497.5 457.19v12.83M532.5 457.19v12.83M536.5 457.19v12.83M547.5 457.19v12.83M564.5 457.19v12.83M584.5 457.19v12.83M601.5 457.19v12.83M617.5 457.19v12.83M457.5 470.02v12.83M471.5 470.02v12.83M535.5 470.02v12.83M571.5 470.02v12.83M576.5 470.02v12.83M620.5 470.02v12.83M631.5 470.02v12.83M392.5 482.85v12.83M495.5 482.85v12.83M433.5 495.68v12.83M568.5 495.68v12.83M611.5 495.68v12.83M614.5 495.68v12.83M624.5 495.68v12.83M395.5 508.51v12.83M406.5 508.51v12.83M411.5 508.51v12.83M417.5 508.51v12.83M516.5 508.51v12.83M524.5 508.51v12.83M558.5 508.51v12.83M406.5 521.34v12.83M437.5 521.34v12.83M446.5 521.34v12.83M456.5 521.34v12.83M542.5 521.34v12.83M589.5 521.34v12.83M621.5 521.34v12.83M628.5 521.34v12.83M396.5 547.00v12.83M463.5 547.00v12.83M467.5 547.00v12.83M489.5 547.00v12.83M507.5 547.00v12.83M521.5 547.00v12.83M628.5 547.00v12.83M442.5 559.83v12.83M458.5 559.83v12.83M470.5 559.83v12.83M509.5 559.83v12.83M515.5 559.83v12.83M601.5 559.83v12.83M396.5 572.66v12.83M408.5 572.66v12.83M431.5 572.66v12.83M442.5 572.66v12.83M545.5 572.66v12.83M624.5 572.66v12.83M634.5 572.66v12.83M395.5 585.49v12.83M431.5 585.49v12.83M492.5 585.49v12.83M518.5 585.49v12.83M469.5 598.32v12.83M478.5 598.32v12.83M484.5 598.32v12.83M487.5 598.32v12.83M502.5 598.32v12.83M545.5 598.32v12.83M624.5 598.32v12.83M635.5 598.32v12.83M415.5 611.15v12.83M418.5 611.15v12.83M442.5 611.15v12.83M472.5 611.15v12.83M482.5 611.15v12.83M518.5 611.15v12.83M531.5 611.15v12.83M546.5 611.15v12.83M636.5 611.15v12.83M427.5 636.81v12.83M496.5 636.81v12.83M501.5 636.81v12.83M526.5 636.81v12.83M537.5 636.81v12.83M633.5 636.81v12.83M461.5 649.64v12.83M556.5 662.47v12.83M598.5 662.47v12.83M426.5 700.96v12.83M568.5 700.96v12.83M578.5 700.96v12.83M606.5 700.96v12.83M636.5 700.96v12.83M618.5 713.79v12.83M395.5 726.62v12.83M476.5 726.62v12.83M477.5 726.62v12.83M503.5 726.62v12.83M598.5 726.62v12.83M630.5 726.62v12.83M394.5 739.45v12.83M431.5 739.45v12.83M483.5 739.45v12.83M500.5 739.45v12.83M521.5 739.45v12.83M529.5 739.45v12.83M538.5 739.45v12.83M599.5 739.45v12.83M444.5 777.94v12.83M448.5 777.94v12.83M457.5 777.94v12.83M458.5 777.94v12.83M505.5 777.94v12.83M622.5 777.94v12.83M402.5 790.77v12.83M423.5 790.77v12.83M469.5 790.77v12.83M491.5 790.77v12.83M497.5 790.77v12.83M506.5 790.77v12.83M531.5 790.77v12.83M586.5 790.77v12.83M590.5 790.77v12.83M616.5 790.77v12.83M640.5 790.77v12.83" stroke="#662244" stroke-width="1.02" fill="none"/>
<path d="M587.5 418.70v12.83M576.5 431.53v12.83M509.5 444.36v12.83M434.5 482.85v12.83M581.5 482.85v12.83M603.5 495.68v12.83M541.5 521.34v12.83M452.5 534.17v12.83M510.5 547.00v12.83M595.5 547.00v12.83M631.5 547.00v12.83M587.5 559.83v12.83M620.5 559.83v12.83M550.5 572.66v12.83M593.5 636.81v12.83M540.5 752.28v12.83" stroke="#552222" stroke-width="1.02" fill="none"/>
<path d="M590.5 418.70v12.83M408.5 444.36v12.83M472.5 457.19v12.83M399.5 470.02v12.83M478.5 495.68v12.83M401.5 508.51v12.83M460.5 508.51v12.83M578.5 508.51v12.83M428.5 547.00v12.83M529.5 547.00v12.83M634.5 547.00v12.83M406.5 636.81v12.83M448.5 726.62v12.83M490.5 790.77v12.83" stroke="#773333" stroke-width="1.02" fill="none"/>
<path d="M591.5 418.70v12.83M601.5 418.70v12.83M612.5 418.70v12.83M391.5 431.53v12.83M493.5 431.53v12.83M550.5 431.53v12.83M620.5 431.53v12.83M400.5 444.36v12.83M542.5 444.36v12.83M398.5 457.19v12.83M571.5 457.19v12.83M573.5 457.19v12.83M589.5 457.19v12.83M592.5 457.19v12.83M595.5 457.19v12.83M598.5 457.19v12.83M600.5 457.19v12.83M610.5 457.19v12.83M631.5 457.19v12.83M428.5 470.02v12.83M495.5 470.02v12.83M609.5 470.02v12.83M614.5 470.02v12.83M478.5 482.85v12.83M523.5 482.85v12.83M584.5 482.85v12.83M574.5 495.68v12.83M589.5 495.68v12.83M608.5 495.68v12.83M626.5 495.68v12.83M398.5 508.51v12.83M405.5 508.51v12.83M419.5 508.51v12.83M441.5 508.51v12.83M634.5 508.51v12.83M405.5 521.34v12.83M522.5 521.34v12.83M425.5 547.00v12.83M431.5 547.00v12.83M504.5 547.00v12.83M547.5 547.00v12.83M620.5 547.00v12.83M396.5 559.83v12.83M440.5 559.83v12.83M469.5 559.83v12.83M475.5 559.83v12.83M514.5 559.83v12.83M519.5 559.83v12.83M618.5 559.83v12.83M467.5 572.66v12.83M494.5 572.66v12.83M619.5 572.66v12.83M391.5 585.49v12.83M426.5 585.49v12.83M456.5 585.49v12.83M499.5 585.49v12.83M613.5 585.49v12.83M624.5 585.49v12.83M639.5 585.49v12.83M408.5 598.32v12.83M454.5 598.32v12.83M482.5 598.32v12.83M499.5 598.32v12.83M628.5 598.32v12.83M490.5 611.15v12.83M499.5 611.15v12.83M521.5 611.15v12.83M474.5 636.81v12.83M618.5 636.81v12.83M621.5 636.81v12.83M435.5 662.47v12.83M452.5 662.47v12.83M487.5 662.47v12.83M519.5 662.47v12.83M568.5 662.47v12.83M626.5 662.47v12.83M400.5 700.96v12.83M413.5 700.96v12.83M518.5 700.96v12.83M528.5 700.96v12.83M570.5 700.96v12.83M609.5 700.96v12.83M421.5 726.62v12.83M434.5 726.62v12.83M462.5 726.62v12.83M552.5 726.62v12.83M568.5 726.62v12.83M570.5 726.62v12.83M573.5 726.62v12.83M592.5 726.62v12.83M571.5 739.45v12.83M585.5 739.45v12.83M507.5 777.94v12.83M580.5 777.94v12.83M634.5 777.94v12.83M391.5 790.77v12.83M400.5 790.77v12.83M477.5 790.77v12.83M489.5 790.77v12.83M533.5 790.77v12.83M594.5 790.77v12.83M597.5 790.77v12.83" stroke="#551144" stroke-width="1.02" fill="none"/>
<path d="M592.5 418.70v12.83M559.5 431.53v12.83M568.5 431.53v12.83M629.5 431.53v12.83M630.5 431.53v12.83M633.5 431.53v12.83M418.5 444.36v12.83M446.5 444.36v12.83M461.5 444.36v12.83M474.5 444.36v12.83M576.5 444.36v12.83M458.5 457.19v12.83M567.5 470.02v12.83M626.5 470.02v12.83M565.5 482.85v12.83M588.5 482.85v12.83M599.5 482.85v12.83M601.5 482.85v12.83M404.5 495.68v12.83M435.5 495.68v12.83M562.5 495.68v12.83M569.5 495.68v12.83M573.5 495.68v12.83M617.5 495.68v12.83M596.5 508.51v12.83M611.5 508.51v12.83M620.5 508.51v12.83M394.5 521.34v12.83M480.5 521.34v12.83M552.5 521.34v12.83M392.5 534.17v12.83M443.5 534.17v12.83M530.5 534.17v12.83M411.5 547.00v12.83M641.5 547.00v12.83M391.5 572.66v12.83M404.5 572.66v12.83M405.5 572.66v12.83M477.5 572.66v12.83M528.5 572.66v12.83M534.5 572.66v12.83M540.5 572.66v12.83M564.5 572.66v12.83M450.5 585.49v12.83M494.5 585.49v12.83M491.5 598.32v12.83M614.5 611.15v12.83M620.5 611.15v12.83M639.5 611.15v12.83M422.5 636.81v12.83M616.5 636.81v12.83M514.5 649.64v12.83M623.5 649.64v12.83M450.5 662.47v12.83M458.5 662.47v12.83M474.5 662.47v12.83M451.5 688.13v12.83M506.5 688.13v12.83M554.5 688.13v12.83M572.5 688.13v12.83M600.5 688.13v12.83M490.5 700.96v12.83M433.5 713.79v12.83M396.5 726.62v12.83M441.5 752.28v12.83M449.5 752.28v12.83M518.5 752.28v12.83M552.5 752.28v12.83M593.5 752.28v12.83M553.5 777.94v12.83M591.5 777.94v12.83M609.5 777.94v12.83M634.5 790.77v12.83" stroke="#331122" stroke-width="1.02" fill="none"/>
<path d="M598.5 418.70v12.83M624.5 418.70v12.83M560.5 431.53v12.83M613.5 431.53v12.83M401.5 444.36v12.83M404.5 444.36v12.83M413.5 444.36v12.83M447.5 444.36v12.83M472.5 444.36v12.83M553.5 444.36v12.83M575.5 444.36v12.83M567.5 457.19v12.83M593.5 457.19v12.83M454.5 482.85v12.83M559.5 482.85v12.83M567.5 482.85v12.83M603.5 482.85v12.83M630.5 482.85v12.83M631.5 482.85v12.83M557.5 508.51v12.83M591.5 521.34v12.83M608.5 521.34v12.83M409.5 534.17v12.83M420.5 534.17v12.83M506.5 534.17v12.83M522.5 534.17v12.83M548.5 534.17v12.83M579.5 534.17v12.83M592.5 534.17v12.83M435.5 572.66v12.83M579.5 598.32v12.83M459.5 611.15v12.83M436.5 649.64v12.83M451.5 649.64v12.83M477.5 649.64v12.83M478.5 649.64v12.83M480.5 649.64v12.83M439.5 662.47v12.83M444.5 662.47v12.83M561.5 662.47v12.83M618.5 662.47v12.83M612.5 675.30v12.83M403.5 688.13v12.83M430.5 688.13v12.83M437.5 688.13v12.83M445.5 688.13v12.83M517.5 688.13v12.83M526.5 688.13v12.83M580.5 688.13v12.83M586.5 688.13v12.83M607.5 688.13v12.83M398.5 713.79v12.83M507.5 713.79v12.83M510.5 713.79v12.83M544.5 713.79v12.83M552.5 713.79v12.83M620.5 713.79v12.83M461.5 739.45v12.83M395.5 752.28v12.83M496.5 752.28v12.83M564.5 752.28v12.83M598.5 752.28v12.83M468.5 765.11v12.83M602.5 765.11v12.83M558.5 777.94v12.83M575.5 777.94v12.83" stroke="#221111" stroke-width="1.02" fill="none"/>
<path d="M606.5 418.70v12.83M543.5 444.36v12.83M589.5 444.36v12.83M602.5 444.36v12.83M565.5 457.19v12.83M552.5 470.02v12.83M597.5 470.02v12.83M549.5 495.68v12.83M602.5 508.51v12.83M594.5 521.34v12.83M618.5 521.34v12.83M443.5 547.00v12.83M455.5 547.00v12.83M534.5 559.83v12.83M432.5 572.66v12.83M500.5 572.66v12.83M402.5 598.32v12.83M413.5 662.47v12.83M443.5 662.47v12.83M489.5 662.47v12.83M491.5 662.47v12.83M505.5 662.47v12.83M523.5 662.47v12.83M524.5 662.47v12.83M398.5 700.96v12.83M488.5 700.96v12.83M549.5 713.79v12.83M560.5 713.79v12.83M595.5 713.79v12.83M609.5 713.79v12.83M420.5 726.62v12.83M534.5 726.62v12.83M561.5 777.94v12.83M570.5 790.77v12.83" stroke="#440033" stroke-width="1.02" fill="none"/>
<path d="M610.5 418.70v12.83M640.5 457.19v12.83M612.5 470.02v12.83M521.5 482.85v12.83M492.5 508.51v12.83M490.5 534.17v12.83M553.5 559.83v12.83M433.5 572.66v12.83M412.5 598.32v12.83M521.5 598.32v12.83M527.5 611.15v12.83M621.5 611.15v12.83M586.5 636.81v12.83M590.5 713.79v12.83M399.5 726.62v12.83M500.5 726.62v12.83M527.5 726.62v12.83M493.5 752.28v12.83M522.5 777.94v12.83M479.5 790.77v12.83" stroke="#554422" stroke-width="1.02" fill="none"/>
<path d="M616.5 418.70v12.83M632.5 457.19v12.83M449.5 470.02v12.83M499.5 508.51v12.83M512.5 508.51v12.83M446.5 559.83v12.83M450.5 559.83v12.83M496.5 585.49v12.83M410.5 636.81v12.83M558.5 726.62v12.83M404.5 739.45v12.83M413.5 739.45v12.83" stroke="#881166" stroke-width="1.02" fill="none"/>
<path d="M618.5 418.70v12.83M637.5 418.70v12.83M450.5 431.53v12.83M579.5 431.53v12.83M586.5 431.53v12.83M587.5 431.53v12.83M593.5 431.53v12.83M595.5 431.53v12.83M618.5 431.53v12.83M623.5 431.53v12.83M463.5 444.36v12.83M468.5 444.36v12.83M555.5 444.36v12.83M579.5 444.36v12.83M586.5 444.36v12.83M595.5 444.36v12.83M601.5 444.36v12.83M616.5 444.36v12.83M627.5 444.36v12.83M440.5 457.19v12.83M457.5 457.19v12.83M551.5 457.19v12.83M555.5 457.19v12.83M559.5 457.19v12.83M560.5 457.19v12.83M562.5 457.19v12.83M581.5 457.19v12.83M591.5 457.19v12.83M622.5 457.19v12.83M639.5 457.19v12.83M410.5 470.02v12.83M511.5 470.02v12.83M518.5 470.02v12.83M546.5 470.02v12.83M555.5 470.02v12.83M556.5 470.02v12.83M561.5 470.02v12.83M570.5 470.02v12.83M572.5 470.02v12.83M596.5 470.02v12.83M602.5 470.02v12.83M610.5 470.02v12.83M611.5 470.02v12.83M613.5 470.02v12.83M628.5 470.02v12.83M594.5 482.85v12.83M602.5 482.85v12.83M550.5 495.68v12.83M559.5 495.68v12.83M580.5 495.68v12.83M584.5 495.68v12.83M596.5 495.68v12.83M625.5 495.68v12.83M435.5 508.51v12.83M446.5 508.51v12.83M490.5 508.51v12.83M504.5 508.51v12.83M559.5 508.51v12.83M631.5 508.51v12.83M508.5 521.34v12.83M553.5 521.34v12.83M556.5 521.34v12.83M578.5 521.34v12.83M586.5 521.34v12.83M587.5 521.34v12.83M613.5 521.34v12.83M617.5 521.34v12.83M626.5 521.34v12.83M631.5 521.34v12.83M633.5 521.34v12.83M406.5 547.00v12.83M421.5 547.00v12.83M468.5 547.00v12.83M469.5 547.00v12.83M471.5 547.00v12.83M481.5 547.00v12.83M503.5 547.00v12.83M506.5 547.00v12.83M536.5 547.00v12.83M408.5 559.83v12.83M414.5 559.83v12.83M419.5 559.83v12.83M428.5 559.83v12.83M445.5 559.83v12.83M459.5 559.83v12.83M497.5 559.83v12.83M500.5 559.83v12.83M524.5 559.83v12.83M533.5 559.83v12.83M589.5 559.83v12.83M614.5 559.83v12.83M627.5 559.83v12.83M407.5 572.66v12.83M420.5 572.66v12.83M434.5 572.66v12.83M437.5 572.66v12.83M458.5 572.66v12.83M463.5 572.66v12.83M466.5 572.66v12.83M471.5 572.66v12.83M475.5 572.66v12.83M537.5 572.66v12.83M546.5 572.66v12.83M613.5 572.66v12.83M638.5 572.66v12.83M419.5 585.49v12.83M425.5 585.49v12.83M429.5 585.49v12.83M503.5 585.49v12.83M505.5 585.49v12.83M514.5 585.49v12.83M524.5 585.49v12.83M638.5 585.49v12.83M421.5 598.32v12.83M463.5 598.32v12.83M519.5 598.32v12.83M618.5 598.32v12.83M629.5 598.32v12.83M640.5 598.32v12.83M401.5 611.15v12.83M425.5 611.15v12.83M451.5 611.15v12.83M464.5 611.15v12.83M475.5 611.15v12.83M481.5 611.15v12.83M510.5 611.15v12.83M540.5 611.15v12.83M640.5 611.15v12.83M394.5 636.81v12.83M398.5 636.81v12.83M407.5 636.81v12.83M429.5 636.81v12.83M541.5 636.81v12.83M637.5 636.81v12.83M638.5 636.81v12.83M639.5 636.81v12.83M640.5 636.81v12.83M414.5 662.47v12.83M418.5 662.47v12.83M423.5 662.47v12.83M426.5 662.47v12.83M448.5 662.47v12.83M482.5 662.47v12.83M495.5 662.47v12.83M501.5 662.47v12.83M510.5 662.47v12.83M514.5 662.47v12.83M516.5 662.47v12.83M517.5 662.47v12.83M518.5 662.47v12.83M521.5 662.47v12.83M527.5 662.47v12.83M530.5 662.47v12.83M547.5 662.47v12.83M603.5 662.47v12.83M612.5 662.47v12.83M617.5 662.47v12.83M621.5 662.47v12.83M625.5 662.47v12.83M627.5 662.47v12.83M628.5 662.47v12.83M632.5 662.47v12.83M635.5 662.47v12.83M641.5 662.47v12.83M501.5 688.13v12.83M557.5 688.13v12.83M570.5 688.13v12.83M591.5 688.13v12.83M593.5 688.13v12.83M598.5 688.13v12.83M610.5 688.13v12.83M399.5 700.96v12.83M403.5 700.96v12.83M404.5 700.96v12.83M406.5 700.96v12.83M414.5 700.96v12.83M417.5 700.96v12.83M430.5 700.96v12.83M438.5 700.96v12.83M439.5 700.96v12.83M443.5 700.96v12.83M444.5 700.96v12.83M450.5 700.96v12.83M453.5 700.96v12.83M456.5 700.96v12.83M465.5 700.96v12.83M493.5 700.96v12.83M508.5 700.96v12.83M519.5 700.96v12.83M525.5 700.96v12.83M530.5 700.96v12.83M566.5 713.79v12.83M600.5 713.79v12.83M404.5 726.62v12.83M474.5 726.62v12.83M491.5 726.62v12.83M550.5 726.62v12.83M562.5 726.62v12.83M563.5 726.62v12.83M569.5 726.62v12.83M575.5 726.62v12.83M586.5 726.62v12.83M591.5 726.62v12.83M594.5 726.62v12.83M605.5 726.62v12.83M452.5 739.45v12.83M464.5 739.45v12.83M548.5 739.45v12.83M549.5 739.45v12.83M556.5 739.45v12.83M558.5 739.45v12.83M563.5 739.45v12.83M564.5 739.45v12.83M573.5 739.45v12.83M594.5 739.45v12.83M605.5 739.45v12.83M549.5 752.28v12.83M578.5 752.28v12.83M588.5 752.28v12.83M600.5 752.28v12.83M604.5 752.28v12.83M475.5 777.94v12.83M574.5 777.94v12.83M605.5 777.94v12.83M444.5 790.77v12.83M471.5 790.77v12.83M473.5 790.77v12.83M496.5 790.77v12.83M514.5 790.77v12.83M541.5 790.77v12.83M546.5 790.77v12.83M549.5 790.77v12.83M558.5 790.77v12.83M561.5 790.77v12.83M564.5 790.77v12.83M566.5 790.77v12.83M569.5 790.77v12.83M572.5 790.77v12.83M573.5 790.77v12.83M580.5 790.77v12.83M581.5 790.77v12.83M585.5 790.77v12.83M595.5 790.77v12.83M596.5 790.77v12.83M602.5 790.77v12.83M615.5 790.77v12.83M632.5 790.77v12.83" stroke="#550055" stroke-width="1.02" fill="none"/>
<path d="M622.5 418.70v12.83M427.5 431.53v12.83M544.5 470.02v12.83M545.5 470.02v12.83M517.5 508.51v12.83M533.5 521.34v12.83M411.5 559.83v12.83M426.5 559.83v12.83M526.5 559.83v12.83M459.5 598.32v12.83M427.5 611.15v12.83M464.5 636.81v12.83M506.5 636.81v12.83M511.5 636.81v12.83M585.5 636.81v12.83M549.5 700.96v12.83M424.5 726.62v12.83M397.5 777.94v12.83M425.5 777.94v12.83M525.5 790.77v12.83" stroke="#994455" stroke-width="1.02" fill="none"/>
<path d="M628.5 418.70v12.83M416.5 444.36v12.83M422.5 444.36v12.83M525.5 444.36v12.83M569.5 444.36v12.83M569.5 457.19v12.83M409.5 495.68v12.83M640.5 521.34v12.83M495.5 534.17v12.83M476.5 572.66v12.83M557.5 662.47v12.83M474.5 688.13v12.83M579.5 688.13v12.83M409.5 739.45v12.83M472.5 765.11v12.83M563.5 777.94v12.83" stroke="#332222" stroke-width="1.02" fill="none"/>
<path d="M630.5 418.70v12.83M622.5 431.53v12.83M637.5 444.36v12.83M415.5 457.19v12.83M430.5 457.19v12.83M436.5 457.19v12.83M471.5 457.19v12.83M516.5 457.19v12.83M615.5 457.19v12.83M423.5 470.02v12.83M528.5 470.02v12.83M608.5 470.02v12.83M627.5 470.02v12.83M416.5 495.68v12.83M623.5 495.68v12.83M496.5 508.51v12.83M536.5 508.51v12.83M630.5 508.51v12.83M433.5 521.34v12.83M426.5 547.00v12.83M403.5 559.83v12.83M498.5 559.83v12.83M499.5 559.83v12.83M542.5 559.83v12.83M630.5 559.83v12.83M636.5 559.83v12.83M447.5 572.66v12.83M631.5 572.66v12.83M614.5 585.49v12.83M636.5 585.49v12.83M395.5 598.32v12.83M417.5 598.32v12.83M625.5 598.32v12.83M409.5 611.15v12.83M462.5 611.15v12.83M615.5 636.81v12.83M440.5 700.96v12.83M565.5 700.96v12.83M588.5 700.96v12.83M607.5 700.96v12.83M400.5 726.62v12.83M417.5 726.62v12.83M431.5 726.62v12.83M596.5 726.62v12.83M600.5 726.62v12.83M397.5 739.45v12.83M440.5 739.45v12.83M473.5 739.45v12.83M588.5 739.45v12.83M592.5 739.45v12.83M456.5 790.77v12.83M603.5 790.77v12.83" stroke="#771166" stroke-width="1.02" fill="none"/>
<path d="M632.5 418.70v12.83M399.5 444.36v12.83M618.5 623.98v12.83M493.5 649.64v12.83M635.5 649.64v12.83M436.5 675.30v12.83M547.5 675.30v12.83M468.5 688.13v12.83M423.5 713.79v12.83M541.5 752.28v12.83M552.5 765.11v12.83M605.5 765.11v12.83" stroke="#111111" stroke-width="1.02" fill="none"/>
<path d="M638.5 418.70v12.83M428.5 431.53v12.83M553.5 431.53v12.83M556.5 431.53v12.83M561.5 431.53v12.83M584.5 431.53v12.83M597.5 431.53v12.83M616.5 431.53v12.83M621.5 431.53v12.83M624.5 431.53v12.83M573.5 444.36v12.83M614.5 444.36v12.83M624.5 444.36v12.83M631.5 444.36v12.83M632.5 444.36v12.83M633.5 444.36v12.83M401.5 457.19v12.83M464.5 457.19v12.83M484.5 457.19v12.83M485.5 457.19v12.83M504.5 457.19v12.83M521.5 457.19v12.83M554.5 457.19v12.83M612.5 457.19v12.83M623.5 457.19v12.83M633.5 457.19v12.83M391.5 470.02v12.83M398.5 470.02v12.83M458.5 470.02v12.83M468.5 470.02v12.83M484.5 470.02v12.83M547.5 470.02v12.83M550.5 470.02v12.83M563.5 470.02v12.83M575.5 470.02v12.83M601.5 470.02v12.83M616.5 470.02v12.83M629.5 470.02v12.83M633.5 470.02v12.83M639.5 470.02v12.83M401.5 482.85v12.83M473.5 482.85v12.83M475.5 482.85v12.83M476.5 482.85v12.83M633.5 482.85v12.83M556.5 495.68v12.83M581.5 495.68v12.83M609.5 495.68v12.83M621.5 495.68v12.83M394.5 508.51v12.83M501.5 508.51v12.83M509.5 508.51v12.83M527.5 508.51v12.83M539.5 508.51v12.83M495.5 521.34v12.83M582.5 521.34v12.83M612.5 521.34v12.83M615.5 521.34v12.83M616.5 521.34v12.83M619.5 521.34v12.83M620.5 521.34v12.83M638.5 521.34v12.83M498.5 534.17v12.83M410.5 547.00v12.83M414.5 547.00v12.83M449.5 547.00v12.83M473.5 547.00v12.83M484.5 547.00v12.83M488.5 547.00v12.83M498.5 547.00v12.83M512.5 547.00v12.83M519.5 547.00v12.83M520.5 547.00v12.83M537.5 547.00v12.83M539.5 547.00v12.83M639.5 547.00v12.83M393.5 559.83v12.83M415.5 559.83v12.83M420.5 559.83v12.83M423.5 559.83v12.83M427.5 559.83v12.83M433.5 559.83v12.83M435.5 559.83v12.83M444.5 559.83v12.83M451.5 559.83v12.83M452.5 559.83v12.83M453.5 559.83v12.83M461.5 559.83v12.83M471.5 559.83v12.83M478.5 559.83v12.83M483.5 559.83v12.83M523.5 559.83v12.83M541.5 559.83v12.83M545.5 559.83v12.83M546.5 559.83v12.83M624.5 559.83v12.83M419.5 572.66v12.83M426.5 572.66v12.83M441.5 572.66v12.83M482.5 572.66v12.83M508.5 572.66v12.83M617.5 572.66v12.83M623.5 572.66v12.83M626.5 572.66v12.83M627.5 572.66v12.83M396.5 585.49v12.83M434.5 585.49v12.83M447.5 585.49v12.83M454.5 585.49v12.83M477.5 585.49v12.83M506.5 585.49v12.83M522.5 585.49v12.83M540.5 585.49v12.83M541.5 585.49v12.83M546.5 585.49v12.83M632.5 585.49v12.83M392.5 598.32v12.83M418.5 598.32v12.83M453.5 598.32v12.83M479.5 598.32v12.83M512.5 598.32v12.83M616.5 598.32v12.83M626.5 598.32v12.83M627.5 598.32v12.83M636.5 598.32v12.83M407.5 611.15v12.83M436.5 611.15v12.83M443.5 611.15v12.83M612.5 611.15v12.83M449.5 636.81v12.83M485.5 636.81v12.83M499.5 636.81v12.83M504.5 636.81v12.83M515.5 636.81v12.83M540.5 636.81v12.83M614.5 636.81v12.83M394.5 662.47v12.83M462.5 662.47v12.83M465.5 662.47v12.83M479.5 662.47v12.83M502.5 662.47v12.83M508.5 662.47v12.83M532.5 662.47v12.83M570.5 662.47v12.83M631.5 662.47v12.83M396.5 700.96v12.83M409.5 700.96v12.83M411.5 700.96v12.83M421.5 700.96v12.83M423.5 700.96v12.83M442.5 700.96v12.83M446.5 700.96v12.83M447.5 700.96v12.83M468.5 700.96v12.83M475.5 700.96v12.83M476.5 700.96v12.83M479.5 700.96v12.83M483.5 700.96v12.83M486.5 700.96v12.83M489.5 700.96v12.83M496.5 700.96v12.83M498.5 700.96v12.83M501.5 700.96v12.83M504.5 700.96v12.83M507.5 700.96v12.83M509.5 700.96v12.83M517.5 700.96v12.83M520.5 700.96v12.83M521.5 700.96v12.83M523.5 700.96v12.83M524.5 700.96v12.83M527.5 700.96v12.83M535.5 700.96v12.83M537.5 700.96v12.83M541.5 700.96v12.83M545.5 700.96v12.83M579.5 700.96v12.83M393.5 726.62v12.83M478.5 726.62v12.83M494.5 726.62v12.83M508.5 726.62v12.83M521.5 726.62v12.83M529.5 726.62v12.83M549.5 726.62v12.83M553.5 726.62v12.83M560.5 726.62v12.83M567.5 726.62v12.83M571.5 726.62v12.83M574.5 726.62v12.83M578.5 726.62v12.83M580.5 726.62v12.83M581.5 726.62v12.83M597.5 726.62v12.83M607.5 726.62v12.83M410.5 739.45v12.83M429.5 739.45v12.83M475.5 739.45v12.83M486.5 739.45v12.83M499.5 739.45v12.83M502.5 739.45v12.83M504.5 739.45v12.83M513.5 739.45v12.83M540.5 739.45v12.83M552.5 739.45v12.83M553.5 739.45v12.83M555.5 739.45v12.83M557.5 739.45v12.83M572.5 739.45v12.83M579.5 739.45v12.83M580.5 739.45v12.83M581.5 739.45v12.83M582.5 739.45v12.83M591.5 739.45v12.83M597.5 739.45v12.83M604.5 739.45v12.83M606.5 739.45v12.83M611.5 739.45v12.83M439.5 790.77v12.83M449.5 790.77v12.83M463.5 790.77v12.83M504.5 790.77v12.83M526.5 790.77v12.83M553.5 790.77v12.83M559.5 790.77v12.83M565.5 790.77v12.83M568.5 790.77v12.83M576.5 790.77v12.83M579.5 790.77v12.83M582.5 790.77v12.83M588.5 790.77v12.83M589.5 790.77v12.83M601.5 790.77v12.83M604.5 790.77v12.83M608.5 790.77v12.83M625.5 790.77v12.83" stroke="#660066" stroke-width="1.02" fill="none"/>
<path d="M641.5 418.70v12.83M479.5 457.19v12.83M483.5 457.19v12.83M597.5 495.68v12.83M433.5 508.51v12.83M545.5 521.34v12.83M530.5 572.66v12.83M543.5 572.66v12.83M544.5 572.66v12.83M629.5 585.49v12.83M495.5 598.32v12.83M530.5 598.32v12.83M543.5 598.32v12.83M468.5 662.47v12.83M532.5 700.96v12.83" stroke="#550044" stroke-width="1.02" fill="none"/>
<path d="M392.5 431.53v12.83M487.5 457.19v12.83M624.5 470.02v12.83M634.5 470.02v12.83M640.5 470.02v12.83M431.5 482.85v12.83M437.5 482.85v12.83M478.5 508.51v12.83M547.5 521.34v12.83M447.5 547.00v12.83M492.5 559.83v12.83M430.5 585.49v12.83M438.5 585.49v12.83M497.5 585.49v12.83M539.5 585.49v12.83M405.5 636.81v12.83M548.5 636.81v12.83M428.5 662.47v12.83M433.5 726.62v12.83M522.5 726.62v12.83M426.5 739.45v12.83M430.5 739.45v12.83M468.5 739.45v12.83M505.5 739.45v12.83M501.5 777.94v12.83" stroke="#662255" stroke-width="1.02" fill="none"/>
<path d="M393.5 431.53v12.83M442.5 444.36v12.83M452.5 457.19v12.83M529.5 457.19v12.83M395.5 482.85v12.83M438.5 572.66v12.83M592.5 572.66v12.83M608.5 585.49v12.83M506.5 598.32v12.83M556.5 598.32v12.83M574.5 598.32v12.83M617.5 713.79v12.83M419.5 739.45v12.83M509.5 739.45v12.83M415.5 790.77v12.83" stroke="#775511" stroke-width="1.02" fill="none"/>
<path d="M394.5 431.53v12.83M508.5 431.53v12.83M433.5 470.02v12.83M435.5 470.02v12.83M502.5 470.02v12.83M464.5 482.85v12.83M449.5 495.68v12.83M513.5 508.51v12.83M431.5 534.17v12.83M440.5 547.00v12.83M440.5 611.15v12.83M524.5 636.81v12.83M485.5 739.45v12.83" stroke="#665522" stroke-width="1.02" fill="none"/>
<path d="M396.5 431.53v12.83M433.5 431.53v12.83M460.5 470.02v12.83M469.5 585.49v12.83M548.5 585.49v12.83M426.5 598.32v12.83M635.5 726.62v12.83M474.5 777.94v12.83M507.5 790.77v12.83" stroke="#885544" stroke-width="1.02" fill="none"/>
<path d="M404.5 431.53v12.83M421.5 431.53v12.83M465.5 457.19v12.83M533.5 457.19v12.83M391.5 495.68v12.83M398.5 585.49v12.83M456.5 726.62v12.83M400.5 739.45v12.83" stroke="#995533" stroke-width="1.02" fill="none"/>
<path d="M411.5 431.53v12.83M544.5 431.53v12.83M506.5 495.68v12.83M400.5 521.34v12.83M460.5 547.00v12.83M550.5 547.00v12.83M401.5 585.49v12.83M556.5 585.49v12.83M513.5 598.32v12.83M539.5 611.15v12.83M484.5 636.81v12.83M462.5 739.45v12.83M599.5 777.94v12.83M394.5 790.77v12.83" stroke="#884433" stroke-width="1.02" fill="none"/>
<path d="M414.5 431.53v12.83M434.5 431.53v12.83M468.5 431.53v12.83M397.5 457.19v12.83M409.5 457.19v12.83M420.5 457.19v12.83M495.5 457.19v12.83M496.5 457.19v12.83M526.5 457.19v12.83M630.5 457.19v12.83M400.5 470.02v12.83M411.5 470.02v12.83M467.5 470.02v12.83M485.5 470.02v12.83M423.5 482.85v12.83M429.5 482.85v12.83M430.5 495.68v12.83M432.5 495.68v12.83M491.5 495.68v12.83M587.5 495.68v12.83M407.5 508.51v12.83M426.5 508.51v12.83M427.5 508.51v12.83M465.5 521.34v12.83M475.5 521.34v12.83M548.5 521.34v12.83M615.5 547.00v12.83M398.5 559.83v12.83M438.5 559.83v12.83M480.5 559.83v12.83M495.5 559.83v12.83M588.5 559.83v12.83M602.5 559.83v12.83M623.5 559.83v12.83M392.5 585.49v12.83M474.5 585.49v12.83M531.5 585.49v12.83M543.5 585.49v12.83M566.5 585.49v12.83M620.5 585.49v12.83M393.5 598.32v12.83M477.5 598.32v12.83M505.5 598.32v12.83M527.5 598.32v12.83M532.5 598.32v12.83M554.5 598.32v12.83M560.5 598.32v12.83M598.5 598.32v12.83M450.5 611.15v12.83M413.5 636.81v12.83M510.5 636.81v12.83M536.5 636.81v12.83M545.5 636.81v12.83M436.5 700.96v12.83M605.5 700.96v12.83M625.5 700.96v12.83M626.5 700.96v12.83M615.5 713.79v12.83M438.5 726.62v12.83M455.5 726.62v12.83M417.5 739.45v12.83M455.5 739.45v12.83M465.5 739.45v12.83M438.5 777.94v12.83M458.5 790.77v12.83M520.5 790.77v12.83M532.5 790.77v12.83M535.5 790.77v12.83M542.5 790.77v12.83" stroke="#884444" stroke-width="1.02" fill="none"/>
<path d="M424.5 431.53v12.83M510.5 431.53v12.83M504.5 470.02v12.83M450.5 508.51v12.83M511.5 508.51v12.83M628.5 508.51v12.83M419.5 521.34v12.83M463.5 521.34v12.83M608.5 559.83v12.83M630.5 700.96v12.83M639.5 700.96v12.83M450.5 726.62v12.83M629.5 739.45v12.83M455.5 777.94v12.83M418.5 790.77v12.83M430.5 790.77v12.83" stroke="#aa6644" stroke-width="1.02" fill="none"/>
<path d="M435.5 431.53v12.83M492.5 431.53v12.83M476.5 444.36v12.83M506.5 457.19v12.83M456.5 482.85v12.83M498.5 482.85v12.83M431.5 495.68v12.83M453.5 521.34v12.83M561.5 547.00v12.83M551.5 572.66v12.83M559.5 572.66v12.83M578.5 598.32v12.83M463.5 636.81v12.83M475.5 726.62v12.83M531.5 726.62v12.83M533.5 726.62v12.83M503.5 777.94v12.83" stroke="#776622" stroke-width="1.02" fill="none"/>
<path d="M438.5 431.53v12.83M393.5 457.19v12.83M508.5 470.02v12.83M582.5 495.68v12.83M493.5 508.51v12.83M505.5 508.51v12.83M540.5 521.34v12.83M605.5 521.34v12.83M454.5 559.83v12.83M501.5 559.83v12.83M543.5 559.83v12.83M460.5 585.49v12.83M630.5 598.32v12.83M426.5 611.15v12.83M511.5 700.96v12.83" stroke="#773355" stroke-width="1.02" fill="none"/>
<path d="M441.5 431.53v12.83M448.5 431.53v12.83M542.5 431.53v12.83M548.5 431.53v12.83M403.5 444.36v12.83M439.5 470.02v12.83M391.5 482.85v12.83M540.5 482.85v12.83M428.5 495.68v12.83M429.5 508.51v12.83M541.5 508.51v12.83M448.5 521.34v12.83M489.5 521.34v12.83M417.5 534.17v12.83M563.5 559.83v12.83M415.5 585.49v12.83M486.5 585.49v12.83M428.5 598.32v12.83M566.5 598.32v12.83M439.5 611.15v12.83M529.5 611.15v12.83M543.5 611.15v12.83M542.5 636.81v12.83M596.5 636.81v12.83M623.5 700.96v12.83M640.5 700.96v12.83M632.5 713.79v12.83M635.5 713.79v12.83M418.5 739.45v12.83M424.5 739.45v12.83M614.5 739.45v12.83M634.5 752.28v12.83M435.5 777.94v12.83M482.5 777.94v12.83M488.5 777.94v12.83M404.5 790.77v12.83M441.5 790.77v12.83M481.5 790.77v12.83" stroke="#996633" stroke-width="1.02" fill="none"/>
<path d="M449.5 431.53v12.83M400.5 495.68v12.83M458.5 495.68v12.83M579.5 547.00v12.83M449.5 777.94v12.83M614.5 790.77v12.83" stroke="#bb8833" stroke-width="1.02" fill="none"/>
<path d="M451.5 431.53v12.83M502.5 431.53v12.83M505.5 431.53v12.83M569.5 431.53v12.83M635.5 431.53v12.83M570.5 444.36v12.83M394.5 457.19v12.83M421.5 457.19v12.83M470.5 457.19v12.83M541.5 457.19v12.83M488.5 470.02v12.83M524.5 470.02v12.83M568.5 470.02v12.83M582.5 470.02v12.83M587.5 470.02v12.83M600.5 470.02v12.83M618.5 470.02v12.83M465.5 482.85v12.83M610.5 495.68v12.83M402.5 508.51v12.83M432.5 508.51v12.83M519.5 508.51v12.83M531.5 508.51v12.83M626.5 508.51v12.83M407.5 521.34v12.83M459.5 521.34v12.83M464.5 521.34v12.83M412.5 547.00v12.83M465.5 547.00v12.83M474.5 547.00v12.83M515.5 547.00v12.83M523.5 547.00v12.83M544.5 547.00v12.83M484.5 559.83v12.83M621.5 559.83v12.83M626.5 559.83v12.83M535.5 572.66v12.83M628.5 572.66v12.83M475.5 585.49v12.83M495.5 585.49v12.83M547.5 585.49v12.83M628.5 585.49v12.83M413.5 598.32v12.83M423.5 598.32v12.83M438.5 598.32v12.83M440.5 598.32v12.83M452.5 598.32v12.83M455.5 598.32v12.83M633.5 598.32v12.83M408.5 611.15v12.83M530.5 611.15v12.83M466.5 636.81v12.83M472.5 636.81v12.83M527.5 636.81v12.83M613.5 636.81v12.83M627.5 636.81v12.83M641.5 636.81v12.83M529.5 662.47v12.83M560.5 662.47v12.83M448.5 700.96v12.83M492.5 700.96v12.83M559.5 700.96v12.83M573.5 700.96v12.83M585.5 700.96v12.83M604.5 700.96v12.83M410.5 726.62v12.83M435.5 726.62v12.83M457.5 726.62v12.83M498.5 726.62v12.83M511.5 726.62v12.83M544.5 726.62v12.83M408.5 739.45v12.83M423.5 739.45v12.83M436.5 739.45v12.83M471.5 739.45v12.83M478.5 739.45v12.83M577.5 739.45v12.83M608.5 739.45v12.83M634.5 739.45v12.83M395.5 777.94v12.83M570.5 777.94v12.83M409.5 790.77v12.83M454.5 790.77v12.83M462.5 790.77v12.83M519.5 790.77v12.83M554.5 790.77v12.83M560.5 790.77v12.83" stroke="#661155" stroke-width="1.02" fill="none"/>
<path d="M452.5 431.53v12.83M484.5 431.53v12.83M431.5 457.19v12.83M476.5 457.19v12.83M478.5 457.19v12.83M635.5 457.19v12.83M396.5 470.02v12.83M438.5 470.02v12.83M510.5 470.02v12.83M621.5 470.02v12.83M633.5 495.68v12.83M635.5 495.68v12.83M639.5 495.68v12.83M438.5 508.51v12.83M640.5 508.51v12.83M401.5 547.00v12.83M543.5 547.00v12.83M399.5 559.83v12.83M409.5 559.83v12.83M412.5 559.83v12.83M443.5 559.83v12.83M482.5 559.83v12.83M516.5 559.83v12.83M518.5 559.83v12.83M519.5 585.49v12.83M590.5 585.49v12.83M634.5 585.49v12.83M434.5 598.32v12.83M531.5 598.32v12.83M540.5 598.32v12.83M452.5 611.15v12.83M518.5 636.81v12.83M447.5 662.47v12.83M608.5 726.62v12.83M393.5 739.45v12.83M476.5 739.45v12.83M480.5 739.45v12.83M491.5 739.45v12.83M495.5 739.45v12.83M497.5 739.45v12.83M531.5 739.45v12.83M545.5 739.45v12.83M413.5 790.77v12.83M416.5 790.77v12.83M468.5 790.77v12.83M619.5 790.77v12.83M631.5 790.77v12.83M635.5 790.77v12.83" stroke="#882266" stroke-width="1.02" fill="none"/>
<path d="M465.5 431.53v12.83M580.5 431.53v12.83M600.5 431.53v12.83M549.5 444.36v12.83M565.5 444.36v12.83M606.5 444.36v12.83M524.5 457.19v12.83M577.5 482.85v12.83M524.5 495.68v12.83M555.5 521.34v12.83M637.5 547.00v12.83M478.5 572.66v12.83M511.5 572.66v12.83M421.5 585.49v12.83M476.5 585.49v12.83M637.5 598.32v12.83M544.5 611.15v12.83M590.5 662.47v12.83M481.5 688.13v12.83M497.5 752.28v12.83" stroke="#442211" stroke-width="1.02" fill="none"/>
<path d="M485.5 431.53v12.83M483.5 444.36v12.83M475.5 457.19v12.83M558.5 482.85v12.83M461.5 495.68v12.83M641.5 495.68v12.83M403.5 508.51v12.83M395.5 534.17v12.83M456.5 547.00v12.83M524.5 547.00v12.83M400.5 585.49v12.83M465.5 585.49v12.83M550.5 585.49v12.83M509.5 598.32v12.83M521.5 636.81v12.83M535.5 636.81v12.83M577.5 649.64v12.83M459.5 726.62v12.83M534.5 777.94v12.83M614.5 777.94v12.83M500.5 790.77v12.83" stroke="#663322" stroke-width="1.02" fill="none"/>
<path d="M497.5 431.53v12.83M612.5 444.36v12.83M617.5 444.36v12.83M625.5 444.36v12.83M628.5 444.36v12.83M641.5 444.36v12.83M603.5 457.19v12.83M619.5 457.19v12.83M451.5 470.02v12.83M497.5 470.02v12.83M397.5 508.51v12.83M437.5 508.51v12.83M488.5 508.51v12.83M543.5 508.51v12.83M531.5 547.00v12.83M397.5 559.83v12.83M413.5 559.83v12.83M421.5 559.83v12.83M468.5 559.83v12.83M472.5 559.83v12.83M477.5 559.83v12.83M479.5 559.83v12.83M481.5 559.83v12.83M511.5 559.83v12.83M620.5 572.66v12.83M625.5 572.66v12.83M641.5 572.66v12.83M433.5 598.32v12.83M639.5 598.32v12.83M394.5 611.15v12.83M419.5 611.15v12.83M456.5 636.81v12.83M632.5 636.81v12.83M476.5 662.47v12.83M391.5 700.96v12.83M415.5 700.96v12.83M416.5 700.96v12.83M429.5 700.96v12.83M431.5 700.96v12.83M437.5 700.96v12.83M441.5 700.96v12.83M451.5 700.96v12.83M452.5 700.96v12.83M455.5 700.96v12.83M464.5 700.96v12.83M491.5 700.96v12.83M499.5 700.96v12.83M500.5 700.96v12.83M503.5 700.96v12.83M533.5 700.96v12.83M547.5 700.96v12.83M566.5 700.96v12.83M596.5 700.96v12.83M601.5 700.96v12.83M602.5 700.96v12.83M551.5 726.62v12.83M557.5 726.62v12.83M559.5 726.62v12.83M579.5 726.62v12.83M603.5 726.62v12.83M604.5 726.62v12.83M405.5 739.45v12.83M520.5 739.45v12.83M559.5 739.45v12.83M560.5 739.45v12.83M562.5 739.45v12.83M575.5 739.45v12.83M576.5 739.45v12.83M586.5 739.45v12.83M589.5 739.45v12.83M414.5 790.77v12.83M492.5 790.77v12.83" stroke="#880088" stroke-width="1.02" fill="none"/>
<path d="M513.5 431.53v12.83M602.5 457.19v12.83M565.5 470.02v12.83M497.5 482.85v12.83M534.5 508.51v12.83M616.5 508.51v12.83M470.5 521.34v12.83M457.5 572.66v12.83M533.5 572.66v12.83M570.5 598.32v12.83M494.5 636.81v12.83M395.5 700.96v12.83M415.5 726.62v12.83M407.5 739.45v12.83M456.5 739.45v12.83M583.5 739.45v12.83M584.5 739.45v12.83M587.5 739.45v12.83M424.5 777.94v12.83M621.5 790.77v12.83" stroke="#772244" stroke-width="1.02" fill="none"/>
<path d="M516.5 431.53v12.83M447.5 470.02v12.83M538.5 482.85v12.83M466.5 559.83v12.83M527.5 559.83v12.83M478.5 611.15v12.83M443.5 739.45v12.83M481.5 739.45v12.83M601.5 739.45v12.83M627.5 790.77v12.83" stroke="#992277" stroke-width="1.02" fill="none"/>
<path d="M527.5 431.53v12.83M633.5 700.96v12.83" stroke="#993355" stroke-width="1.02" fill="none"/>
<path d="M540.5 431.53v12.83M615.5 431.53v12.83M640.5 431.53v12.83M392.5 457.19v12.83M456.5 470.02v12.83M623.5 482.85v12.83M393.5 495.68v12.83M418.5 508.51v12.83M639.5 521.34v12.83M459.5 572.66v12.83M422.5 598.32v12.83M528.5 598.32v12.83M534.5 636.81v12.83M518.5 739.45v12.83M571.5 752.28v12.83M595.5 777.94v12.83" stroke="#551133" stroke-width="1.02" fill="none"/>
<path d="M545.5 431.53v12.83M457.5 444.36v12.83M605.5 482.85v12.83M454.5 508.51v12.83M500.5 508.51v12.83M440.5 534.17v12.83M492.5 572.66v12.83M490.5 598.32v12.83M471.5 611.15v12.83M487.5 611.15v12.83M513.5 611.15v12.83M597.5 662.47v12.83M485.5 713.79v12.83M490.5 713.79v12.83M456.5 752.28v12.83M556.5 752.28v12.83M586.5 777.94v12.83" stroke="#553311" stroke-width="1.02" fill="none"/>
<path d="M594.5 431.53v12.83M456.5 444.36v12.83M458.5 444.36v12.83M596.5 482.85v12.83M577.5 508.51v12.83M587.5 508.51v12.83M424.5 534.17v12.83M501.5 534.17v12.83M417.5 572.66v12.83M531.5 572.66v12.83M577.5 572.66v12.83M516.5 611.15v12.83M470.5 649.64v12.83M488.5 649.64v12.83M393.5 662.47v12.83M417.5 662.47v12.83M513.5 662.47v12.83M419.5 688.13v12.83M444.5 688.13v12.83M485.5 688.13v12.83M561.5 688.13v12.83M594.5 688.13v12.83M502.5 713.79v12.83M603.5 713.79v12.83M611.5 713.79v12.83M454.5 726.62v12.83M582.5 726.62v12.83M593.5 726.62v12.83M522.5 752.28v12.83" stroke="#330022" stroke-width="1.02" fill="none"/>
<path d="M599.5 431.53v12.83M524.5 444.36v12.83M544.5 444.36v12.83M585.5 482.85v12.83M595.5 482.85v12.83M608.5 482.85v12.83M549.5 508.51v12.83M571.5 508.51v12.83M582.5 508.51v12.83M586.5 508.51v12.83M610.5 508.51v12.83M457.5 534.17v12.83M556.5 534.17v12.83M568.5 534.17v12.83M617.5 534.17v12.83M409.5 547.00v12.83M523.5 598.32v12.83M615.5 611.15v12.83M617.5 611.15v12.83M544.5 623.98v12.83M391.5 649.64v12.83M448.5 649.64v12.83M500.5 649.64v12.83M503.5 649.64v12.83M505.5 649.64v12.83M517.5 649.64v12.83M540.5 649.64v12.83M631.5 649.64v12.83M637.5 649.64v12.83M392.5 662.47v12.83M395.5 662.47v12.83M446.5 662.47v12.83M606.5 662.47v12.83M495.5 675.30v12.83M566.5 688.13v12.83M574.5 688.13v12.83M519.5 713.79v12.83M547.5 713.79v12.83M410.5 752.28v12.83M505.5 752.28v12.83M399.5 765.11v12.83M419.5 765.11v12.83M609.5 765.11v12.83M549.5 777.94v12.83" stroke="#220011" stroke-width="1.02" fill="none"/>
<path d="M609.5 431.53v12.83M610.5 482.85v12.83M486.5 572.66v12.83M396.5 623.98v12.83M434.5 623.98v12.83M443.5 623.98v12.83M499.5 623.98v12.83M589.5 623.98v12.83M603.5 623.98v12.83M492.5 649.64v12.83M532.5 649.64v12.83M605.5 649.64v12.83M622.5 649.64v12.83M638.5 649.64v12.83M639.5 649.64v12.83M521.5 675.30v12.83M405.5 688.13v12.83M443.5 688.13v12.83M488.5 688.13v12.83M512.5 688.13v12.83M575.5 688.13v12.83M391.5 713.79v12.83M518.5 713.79v12.83M534.5 713.79v12.83M392.5 752.28v12.83M439.5 752.28v12.83M481.5 752.28v12.83M489.5 752.28v12.83M508.5 752.28v12.83M533.5 752.28v12.83M543.5 752.28v12.83M469.5 765.11v12.83M618.5 765.11v12.83M579.5 777.94v12.83" stroke="#332200" stroke-width="1.02" fill="none"/>
<path d="M393.5 444.36v12.83M530.5 444.36v12.83M532.5 495.68v12.83M641.5 521.34v12.83M512.5 534.17v12.83M564.5 534.17v12.83M398.5 572.66v12.83M577.5 585.49v12.83M452.5 623.98v12.83M479.5 623.98v12.83M482.5 623.98v12.83M579.5 623.98v12.83M553.5 662.47v12.83M569.5 662.47v12.83M399.5 675.30v12.83M472.5 675.30v12.83M641.5 713.79v12.83M418.5 752.28v12.83M545.5 765.11v12.83" stroke="#443300" stroke-width="1.02" fill="none"/>
<path d="M415.5 444.36v12.83M446.5 457.19v12.83M539.5 534.17v12.83M392.5 547.00v12.83M493.5 547.00v12.83M609.5 547.00v12.83M506.5 713.79v12.83M551.5 713.79v12.83M399.5 752.28v12.83M411.5 752.28v12.83M534.5 752.28v12.83M494.5 765.11v12.83M410.5 777.94v12.83" stroke="#444411" stroke-width="1.02" fill="none"/>
<path d="M420.5 444.36v12.83M505.5 444.36v12.83M551.5 482.85v12.83M578.5 482.85v12.83M466.5 495.68v12.83M439.5 534.17v12.83M474.5 534.17v12.83M492.5 534.17v12.83M595.5 534.17v12.83M612.5 534.17v12.83M616.5 534.17v12.83M634.5 534.17v12.83M637.5 534.17v12.83M427.5 572.66v12.83M397.5 623.98v12.83M422.5 623.98v12.83M442.5 623.98v12.83M460.5 623.98v12.83M462.5 623.98v12.83M471.5 623.98v12.83M480.5 623.98v12.83M492.5 623.98v12.83M535.5 623.98v12.83M537.5 623.98v12.83M540.5 623.98v12.83M620.5 623.98v12.83M634.5 623.98v12.83M398.5 649.64v12.83M399.5 649.64v12.83M414.5 649.64v12.83M425.5 649.64v12.83M447.5 649.64v12.83M450.5 649.64v12.83M464.5 649.64v12.83M469.5 649.64v12.83M487.5 649.64v12.83M498.5 649.64v12.83M506.5 649.64v12.83M523.5 649.64v12.83M624.5 649.64v12.83M633.5 649.64v12.83M634.5 649.64v12.83M402.5 662.47v12.83M477.5 662.47v12.83M537.5 662.47v12.83M404.5 675.30v12.83M418.5 675.30v12.83M422.5 675.30v12.83M427.5 675.30v12.83M459.5 675.30v12.83M463.5 675.30v12.83M504.5 675.30v12.83M505.5 675.30v12.83M520.5 675.30v12.83M523.5 675.30v12.83M573.5 675.30v12.83M581.5 675.30v12.83M583.5 675.30v12.83M592.5 675.30v12.83M391.5 688.13v12.83M407.5 688.13v12.83M429.5 688.13v12.83M432.5 688.13v12.83M529.5 688.13v12.83M533.5 688.13v12.83M546.5 688.13v12.83M515.5 713.79v12.83M406.5 752.28v12.83M458.5 752.28v12.83M523.5 752.28v12.83M393.5 765.11v12.83M397.5 765.11v12.83M445.5 765.11v12.83M459.5 765.11v12.83M479.5 765.11v12.83M484.5 765.11v12.83M507.5 765.11v12.83M512.5 765.11v12.83M523.5 765.11v12.83M529.5 765.11v12.83M541.5 765.11v12.83" stroke="#111100" stroke-width="1.02" fill="none"/>
<path d="M427.5 444.36v12.83M497.5 444.36v12.83M540.5 444.36v12.83M568.5 444.36v12.83M569.5 482.85v12.83M403.5 534.17v12.83M550.5 534.17v12.83M551.5 534.17v12.83M558.5 534.17v12.83M577.5 534.17v12.83M594.5 534.17v12.83M596.5 534.17v12.83M603.5 534.17v12.83M604.5 534.17v12.83M613.5 534.17v12.83M615.5 534.17v12.83M623.5 534.17v12.83M625.5 534.17v12.83M626.5 534.17v12.83M627.5 534.17v12.83M629.5 534.17v12.83M633.5 534.17v12.83M635.5 534.17v12.83M636.5 534.17v12.83M638.5 534.17v12.83M639.5 534.17v12.83M641.5 534.17v12.83M547.5 572.66v12.83M414.5 611.15v12.83M391.5 623.98v12.83M392.5 623.98v12.83M394.5 623.98v12.83M398.5 623.98v12.83M399.5 623.98v12.83M401.5 623.98v12.83M402.5 623.98v12.83M405.5 623.98v12.83M406.5 623.98v12.83M408.5 623.98v12.83M409.5 623.98v12.83M411.5 623.98v12.83M413.5 623.98v12.83M415.5 623.98v12.83M420.5 623.98v12.83M421.5 623.98v12.83M423.5 623.98v12.83M429.5 623.98v12.83M430.5 623.98v12.83M432.5 623.98v12.83M436.5 623.98v12.83M439.5 623.98v12.83M445.5 623.98v12.83M447.5 623.98v12.83M448.5 623.98v12.83M454.5 623.98v12.83M456.5 623.98v12.83M461.5 623.98v12.83M463.5 623.98v12.83M465.5 623.98v12.83M466.5 623.98v12.83M468.5 623.98v12.83M469.5 623.98v12.83M475.5 623.98v12.83M476.5 623.98v12.83M477.5 623.98v12.83M481.5 623.98v12.83M483.5 623.98v12.83M485.5 623.98v12.83M487.5 623.98v12.83M495.5 623.98v12.83M496.5 623.98v12.83M497.5 623.98v12.83M498.5 623.98v12.83M501.5 623.98v12.83M504.5 623.98v12.83M505.5 623.98v12.83M506.5 623.98v12.83M508.5 623.98v12.83M510.5 623.98v12.83M511.5 623.98v12.83M512.5 623.98v12.83M516.5 623.98v12.83M518.5 623.98v12.83M519.5 623.98v12.83M523.5 623.98v12.83M532.5 623.98v12.83M534.5 623.98v12.83M538.5 623.98v12.83M543.5 623.98v12.83M546.5 623.98v12.83M547.5 623.98v12.83M576.5 623.98v12.83M613.5 623.98v12.83M614.5 623.98v12.83M617.5 623.98v12.83M621.5 623.98v12.83M624.5 623.98v12.83M626.5 623.98v12.83M627.5 623.98v12.83M628.5 623.98v12.83M629.5 623.98v12.83M633.5 623.98v12.83M635.5 623.98v12.83M636.5 623.98v12.83M638.5 623.98v12.83M639.5 623.98v12.83M640.5 623.98v12.83M641.5 623.98v12.83M396.5 649.64v12.83M403.5 649.64v12.83M410.5 649.64v12.83M411.5 649.64v12.83M417.5 649.64v12.83M420.5 649.64v12.83M421.5 649.64v12.83M422.5 649.64v12.83M424.5 649.64v12.83M433.5 649.64v12.83M437.5 649.64v12.83M439.5 649.64v12.83M460.5 649.64v12.83M462.5 649.64v12.83M466.5 649.64v12.83M474.5 649.64v12.83M476.5 649.64v12.83M483.5 649.64v12.83M484.5 649.64v12.83M508.5 649.64v12.83M511.5 649.64v12.83M519.5 649.64v12.83M531.5 649.64v12.83M533.5 649.64v12.83M538.5 649.64v12.83M543.5 649.64v12.83M544.5 649.64v12.83M548.5 649.64v12.83M563.5 649.64v12.83M619.5 649.64v12.83M620.5 649.64v12.83M621.5 649.64v12.83M627.5 649.64v12.83M641.5 649.64v12.83M534.5 662.47v12.83M591.5 662.47v12.83M391.5 675.30v12.83M392.5 675.30v12.83M394.5 675.30v12.83M396.5 675.30v12.83M400.5 675.30v12.83M411.5 675.30v12.83M413.5 675.30v12.83M416.5 675.30v12.83M419.5 675.30v12.83M423.5 675.30v12.83M425.5 675.30v12.83M428.5 675.30v12.83M429.5 675.30v12.83M430.5 675.30v12.83M431.5 675.30v12.83M435.5 675.30v12.83M437.5 675.30v12.83M438.5 675.30v12.83M439.5 675.30v12.83M440.5 675.30v12.83M441.5 675.30v12.83M445.5 675.30v12.83M446.5 675.30v12.83M447.5 675.30v12.83M451.5 675.30v12.83M453.5 675.30v12.83M454.5 675.30v12.83M460.5 675.30v12.83M461.5 675.30v12.83M462.5 675.30v12.83M464.5 675.30v12.83M467.5 675.30v12.83M468.5 675.30v12.83M470.5 675.30v12.83M473.5 675.30v12.83M474.5 675.30v12.83M475.5 675.30v12.83M476.5 675.30v12.83M477.5 675.30v12.83M478.5 675.30v12.83M479.5 675.30v12.83M480.5 675.30v12.83M481.5 675.30v12.83M482.5 675.30v12.83M488.5 675.30v12.83M489.5 675.30v12.83M490.5 675.30v12.83M491.5 675.30v12.83M494.5 675.30v12.83M496.5 675.30v12.83M497.5 675.30v12.83M498.5 675.30v12.83M500.5 675.30v12.83M501.5 675.30v12.83M502.5 675.30v12.83M511.5 675.30v12.83M512.5 675.30v12.83M514.5 675.30v12.83M516.5 675.30v12.83M518.5 675.30v12.83M522.5 675.30v12.83M525.5 675.30v12.83M529.5 675.30v12.83M530.5 675.30v12.83M531.5 675.30v12.83M532.5 675.30v12.83M533.5 675.30v12.83M535.5 675.30v12.83M537.5 675.30v12.83M538.5 675.30v12.83M540.5 675.30v12.83M541.5 675.30v12.83M542.5 675.30v12.83M543.5 675.30v12.83M544.5 675.30v12.83M549.5 675.30v12.83M550.5 675.30v12.83M553.5 675.30v12.83M556.5 675.30v12.83M557.5 675.30v12.83M558.5 675.30v12.83M560.5 675.30v12.83M561.5 675.30v12.83M562.5 675.30v12.83M564.5 675.30v12.83M565.5 675.30v12.83M566.5 675.30v12.83M568.5 675.30v12.83M572.5 675.30v12.83M574.5 675.30v12.83M575.5 675.30v12.83M577.5 675.30v12.83M578.5 675.30v12.83M579.5 675.30v12.83M580.5 675.30v12.83M584.5 675.30v12.83M585.5 675.30v12.83M586.5 675.30v12.83M587.5 675.30v12.83M588.5 675.30v12.83M589.5 675.30v12.83M593.5 675.30v12.83M594.5 675.30v12.83M596.5 675.30v12.83M600.5 675.30v12.83M602.5 675.30v12.83M603.5 675.30v12.83M604.5 675.30v12.83M605.5 675.30v12.83M606.5 675.30v12.83M609.5 675.30v12.83M610.5 675.30v12.83M611.5 675.30v12.83M397.5 688.13v12.83M427.5 688.13v12.83M453.5 688.13v12.83M463.5 688.13v12.83M466.5 688.13v12.83M482.5 688.13v12.83M484.5 688.13v12.83M489.5 688.13v12.83M496.5 688.13v12.83M502.5 688.13v12.83M509.5 688.13v12.83M521.5 688.13v12.83M525.5 688.13v12.83M537.5 688.13v12.83M551.5 688.13v12.83M565.5 688.13v12.83M573.5 688.13v12.83M397.5 713.79v12.83M400.5 713.79v12.83M429.5 713.79v12.83M443.5 713.79v12.83M451.5 713.79v12.83M455.5 713.79v12.83M468.5 713.79v12.83M480.5 713.79v12.83M512.5 713.79v12.83M513.5 713.79v12.83M522.5 713.79v12.83M535.5 713.79v12.83M548.5 713.79v12.83M559.5 713.79v12.83M583.5 713.79v12.83M396.5 752.28v12.83M420.5 752.28v12.83M430.5 752.28v12.83M445.5 752.28v12.83M473.5 752.28v12.83M475.5 752.28v12.83M485.5 752.28v12.83M587.5 752.28v12.83M391.5 765.11v12.83M395.5 765.11v12.83M401.5 765.11v12.83M405.5 765.11v12.83M416.5 765.11v12.83M418.5 765.11v12.83M422.5 765.11v12.83M425.5 765.11v12.83M429.5 765.11v12.83M432.5 765.11v12.83M440.5 765.11v12.83M443.5 765.11v12.83M462.5 765.11v12.83M481.5 765.11v12.83M492.5 765.11v12.83M493.5 765.11v12.83M496.5 765.11v12.83M510.5 765.11v12.83M526.5 765.11v12.83M555.5 765.11v12.83M556.5 765.11v12.83M560.5 765.11v12.83M561.5 765.11v12.83M562.5 765.11v12.83M564.5 765.11v12.83M570.5 765.11v12.83M571.5 765.11v12.83M575.5 765.11v12.83M578.5 765.11v12.83M579.5 765.11v12.83M580.5 765.11v12.83M585.5 765.11v12.83M588.5 765.11v12.83M590.5 765.11v12.83M592.5 765.11v12.83M593.5 765.11v12.83M594.5 765.11v12.83M595.5 765.11v12.83M596.5 765.11v12.83M599.5 765.11v12.83M604.5 765.11v12.83M608.5 765.11v12.83M610.5 765.11v12.83" stroke="#000000" stroke-width="1.02" fill="none"/>
<path d="M441.5 444.36v12.83M449.5 444.36v12.83M466.5 444.36v12.83M462.5 482.85v12.83M399.5 572.66v12.83M524.5 572.66v12.83M524.5 611.15v12.83M484.5 623.98v12.83M554.5 636.81v12.83M564.5 649.64v12.83M422.5 662.47v12.83M413.5 688.13v12.83M455.5 688.13v12.83M479.5 688.13v12.83M532.5 688.13v12.83M544.5 688.13v12.83M521.5 713.79v12.83M400.5 752.28v12.83M509.5 752.28v12.83M519.5 765.11v12.83" stroke="#222211" stroke-width="1.02" fill="none"/>
<path d="M508.5 444.36v12.83M537.5 457.19v12.83M480.5 470.02v12.83M554.5 470.02v12.83M618.5 495.68v12.83M510.5 521.34v12.83M425.5 534.17v12.83M463.5 534.17v12.83M441.5 547.00v12.83M507.5 585.49v12.83M438.5 611.15v12.83M532.5 611.15v12.83M543.5 636.81v12.83M596.5 662.47v12.83M406.5 688.13v12.83M582.5 713.79v12.83M465.5 726.62v12.83M460.5 739.45v12.83M525.5 739.45v12.83" stroke="#442233" stroke-width="1.02" fill="none"/>
<path d="M613.5 444.36v12.83M623.5 444.36v12.83M630.5 444.36v12.83M634.5 444.36v12.83M635.5 444.36v12.83M640.5 444.36v12.83M395.5 457.19v12.83M404.5 457.19v12.83M498.5 457.19v12.83M557.5 457.19v12.83M614.5 457.19v12.83M627.5 457.19v12.83M628.5 457.19v12.83M637.5 457.19v12.83M641.5 457.19v12.83M394.5 470.02v12.83M454.5 470.02v12.83M481.5 470.02v12.83M526.5 470.02v12.83M537.5 470.02v12.83M559.5 470.02v12.83M630.5 470.02v12.83M637.5 470.02v12.83M520.5 482.85v12.83M528.5 495.68v12.83M537.5 495.68v12.83M566.5 495.68v12.83M392.5 508.51v12.83M436.5 508.51v12.83M453.5 508.51v12.83M469.5 508.51v12.83M477.5 508.51v12.83M624.5 508.51v12.83M404.5 521.34v12.83M430.5 521.34v12.83M622.5 521.34v12.83M627.5 521.34v12.83M632.5 521.34v12.83M634.5 521.34v12.83M434.5 547.00v12.83M457.5 547.00v12.83M461.5 547.00v12.83M472.5 547.00v12.83M618.5 547.00v12.83M400.5 559.83v12.83M405.5 559.83v12.83M410.5 559.83v12.83M425.5 559.83v12.83M430.5 559.83v12.83M441.5 559.83v12.83M464.5 559.83v12.83M473.5 559.83v12.83M476.5 559.83v12.83M493.5 559.83v12.83M507.5 559.83v12.83M522.5 559.83v12.83M532.5 559.83v12.83M538.5 559.83v12.83M540.5 559.83v12.83M619.5 559.83v12.83M628.5 559.83v12.83M632.5 559.83v12.83M453.5 572.66v12.83M618.5 572.66v12.83M632.5 572.66v12.83M633.5 572.66v12.83M448.5 585.49v12.83M527.5 585.49v12.83M617.5 585.49v12.83M622.5 585.49v12.83M397.5 598.32v12.83M458.5 598.32v12.83M461.5 598.32v12.83M470.5 598.32v12.83M623.5 598.32v12.83M638.5 598.32v12.83M473.5 636.81v12.83M538.5 636.81v12.83M539.5 636.81v12.83M634.5 636.81v12.83M493.5 662.47v12.83M633.5 662.47v12.83M637.5 662.47v12.83M392.5 700.96v12.83M393.5 700.96v12.83M394.5 700.96v12.83M397.5 700.96v12.83M401.5 700.96v12.83M405.5 700.96v12.83M407.5 700.96v12.83M408.5 700.96v12.83M410.5 700.96v12.83M418.5 700.96v12.83M420.5 700.96v12.83M422.5 700.96v12.83M424.5 700.96v12.83M427.5 700.96v12.83M428.5 700.96v12.83M435.5 700.96v12.83M445.5 700.96v12.83M449.5 700.96v12.83M454.5 700.96v12.83M461.5 700.96v12.83M463.5 700.96v12.83M470.5 700.96v12.83M472.5 700.96v12.83M478.5 700.96v12.83M480.5 700.96v12.83M481.5 700.96v12.83M482.5 700.96v12.83M484.5 700.96v12.83M494.5 700.96v12.83M495.5 700.96v12.83M497.5 700.96v12.83M505.5 700.96v12.83M510.5 700.96v12.83M512.5 700.96v12.83M513.5 700.96v12.83M514.5 700.96v12.83M516.5 700.96v12.83M529.5 700.96v12.83M531.5 700.96v12.83M534.5 700.96v12.83M540.5 700.96v12.83M542.5 700.96v12.83M543.5 700.96v12.83M546.5 700.96v12.83M554.5 700.96v12.83M558.5 700.96v12.83M563.5 700.96v12.83M580.5 700.96v12.83M584.5 700.96v12.83M586.5 700.96v12.83M595.5 700.96v12.83M600.5 700.96v12.83M610.5 700.96v12.83M391.5 726.62v12.83M588.5 726.62v12.83M589.5 726.62v12.83M590.5 726.62v12.83M595.5 726.62v12.83M601.5 726.62v12.83M609.5 726.62v12.83M610.5 726.62v12.83M398.5 739.45v12.83M399.5 739.45v12.83M487.5 739.45v12.83M490.5 739.45v12.83M503.5 739.45v12.83M512.5 739.45v12.83M535.5 739.45v12.83M543.5 739.45v12.83M550.5 739.45v12.83M551.5 739.45v12.83M565.5 739.45v12.83M578.5 739.45v12.83M590.5 739.45v12.83M593.5 739.45v12.83M595.5 739.45v12.83M603.5 739.45v12.83M607.5 739.45v12.83M610.5 739.45v12.83M618.5 777.94v12.83M419.5 790.77v12.83M457.5 790.77v12.83M522.5 790.77v12.83M550.5 790.77v12.83M552.5 790.77v12.83M557.5 790.77v12.83M583.5 790.77v12.83M584.5 790.77v12.83M591.5 790.77v12.83M593.5 790.77v12.83M612.5 790.77v12.83M617.5 790.77v12.83M633.5 790.77v12.83M636.5 790.77v12.83M639.5 790.77v12.83" stroke="#770077" stroke-width="1.02" fill="none"/>
<path d="M615.5 444.36v12.83M508.5 495.68v12.83M530.5 508.51v12.83M551.5 700.96v12.83" stroke="#992266" stroke-width="1.02" fill="none"/>
<path d="M619.5 444.36v12.83M622.5 444.36v12.83" stroke="#bb00bb" stroke-width="1.02" fill="none"/>
<path d="M620.5 444.36v12.83M621.5 444.36v12.83M626.5 444.36v12.83M629.5 444.36v12.83M639.5 444.36v12.83M412.5 457.19v12.83M500.5 457.19v12.83M621.5 457.19v12.83M623.5 470.02v12.83M466.5 508.51v12.83M529.5 559.83v12.83M530.5 559.83v12.83M519.5 611.15v12.83M412.5 700.96v12.83M460.5 700.96v12.83M466.5 700.96v12.83M474.5 700.96v12.83M502.5 700.96v12.83M506.5 700.96v12.83M522.5 700.96v12.83M526.5 700.96v12.83M482.5 726.62v12.83M567.5 739.45v12.83M600.5 739.45v12.83M410.5 790.77v12.83" stroke="#990099" stroke-width="1.02" fill="none"/>
<path d="M636.5 444.36v12.83M613.5 457.19v12.83M548.5 572.66v12.83M417.5 636.81v12.83M589.5 700.96v12.83M554.5 739.45v12.83M574.5 739.45v12.83" stroke="#881177" stroke-width="1.02" fill="none"/>
<path d="M638.5 444.36v12.83M622.5 572.66v12.83M471.5 700.96v12.83M488.5 739.45v12.83M598.5 739.45v12.83" stroke="#aa00aa" stroke-width="1.02" fill="none"/>
<path d="M391.5 457.19v12.83M452.5 470.02v12.83M535.5 495.68v12.83M612.5 495.68v12.83M409.5 508.51v12.83M529.5 508.51v12.83M540.5 547.00v12.83M437.5 559.83v12.83M621.5 572.66v12.83M449.5 611.15v12.83M396.5 636.81v12.83M428.5 739.45v12.83M534.5 739.45v12.83" stroke="#772266" stroke-width="1.02" fill="none"/>
<path d="M396.5 457.19v12.83M408.5 457.19v12.83M589.5 470.02v12.83M621.5 508.51v12.83M631.5 700.96v12.83M602.5 739.45v12.83" stroke="#882277" stroke-width="1.02" fill="none"/>
<path d="M402.5 457.19v12.83M442.5 470.02v12.83M443.5 521.34v12.83M516.5 547.00v12.83M598.5 572.66v12.83M423.5 585.49v12.83M451.5 598.32v12.83M445.5 611.15v12.83M461.5 636.81v12.83M508.5 636.81v12.83M524.5 739.45v12.83" stroke="#886633" stroke-width="1.02" fill="none"/>
<path d="M429.5 457.19v12.83M495.5 495.68v12.83M632.5 700.96v12.83M413.5 726.62v12.83M496.5 726.62v12.83M506.5 739.45v12.83M393.5 790.77v12.83M623.5 790.77v12.83" stroke="#884455" stroke-width="1.02" fill="none"/>
<path d="M441.5 457.19v12.83M509.5 457.19v12.83M470.5 470.02v12.83M533.5 470.02v12.83M423.5 508.51v12.83M526.5 508.51v12.83M449.5 559.83v12.83M478.5 790.77v12.83M548.5 790.77v12.83" stroke="#aa5555" stroke-width="1.02" fill="none"/>
<path d="M449.5 457.19v12.83M402.5 470.02v12.83M453.5 470.02v12.83M455.5 470.02v12.83M617.5 470.02v12.83M443.5 508.51v12.83M638.5 508.51v12.83M537.5 521.34v12.83M635.5 521.34v12.83M474.5 559.83v12.83M414.5 585.49v12.83M445.5 598.32v12.83M477.5 611.15v12.83M535.5 611.15v12.83M624.5 611.15v12.83M428.5 636.81v12.83M445.5 636.81v12.83M500.5 636.81v12.83M568.5 636.81v12.83M454.5 739.45v12.83M466.5 739.45v12.83" stroke="#663344" stroke-width="1.02" fill="none"/>
<path d="M474.5 457.19v12.83M561.5 457.19v12.83M638.5 457.19v12.83M444.5 470.02v12.83M474.5 470.02v12.83M543.5 470.02v12.83M614.5 482.85v12.83M443.5 495.68v12.83M450.5 495.68v12.83M487.5 508.51v12.83M425.5 521.34v12.83M457.5 521.34v12.83M488.5 521.34v12.83M526.5 521.34v12.83M394.5 559.83v12.83M606.5 559.83v12.83M406.5 585.49v12.83M441.5 585.49v12.83M466.5 585.49v12.83M630.5 585.49v12.83M406.5 598.32v12.83M464.5 598.32v12.83M569.5 598.32v12.83M513.5 636.81v12.83M517.5 636.81v12.83M617.5 700.96v12.83M634.5 700.96v12.83M633.5 713.79v12.83M638.5 739.45v12.83M451.5 777.94v12.83M510.5 777.94v12.83M521.5 777.94v12.83M527.5 777.94v12.83M531.5 777.94v12.83M408.5 790.77v12.83M508.5 790.77v12.83M512.5 790.77v12.83" stroke="#995544" stroke-width="1.02" fill="none"/>
<path d="M482.5 457.19v12.83M416.5 521.34v12.83M467.5 739.45v12.83" stroke="#994444" stroke-width="1.02" fill="none"/>
<path d="M492.5 457.19v12.83M446.5 470.02v12.83M411.5 482.85v12.83M492.5 598.32v12.83M533.5 598.32v12.83M447.5 636.81v12.83M538.5 777.94v12.83M527.5 790.77v12.83" stroke="#996644" stroke-width="1.02" fill="none"/>
<path d="M503.5 457.19v12.83M557.5 495.68v12.83M627.5 508.51v12.83M525.5 559.83v12.83M472.5 572.66v12.83M469.5 662.47v12.83M565.5 726.62v12.83M397.5 790.77v12.83M620.5 790.77v12.83" stroke="#441144" stroke-width="1.02" fill="none"/>
<path d="M508.5 457.19v12.83" stroke="#aa3366" stroke-width="1.02" fill="none"/>
<path d="M558.5 457.19v12.83M494.5 482.85v12.83M511.5 534.17v12.83M559.5 534.17v12.83M411.5 572.66v12.83M486.5 623.98v12.83M489.5 623.98v12.83M493.5 623.98v12.83M395.5 649.64v12.83M453.5 649.64v12.83M495.5 649.64v12.83M579.5 649.64v12.83M576.5 675.30v12.83M531.5 688.13v12.83M418.5 713.79v12.83M532.5 713.79v12.83M510.5 752.28v12.83M546.5 765.11v12.83" stroke="#221100" stroke-width="1.02" fill="none"/>
<path d="M577.5 457.19v12.83M619.5 470.02v12.83M496.5 662.47v12.83M561.5 739.45v12.83" stroke="#770066" stroke-width="1.02" fill="none"/>
<path d="M608.5 457.19v12.83M496.5 559.83v12.83M629.5 572.66v12.83M615.5 598.32v12.83M439.5 636.81v12.83M453.5 636.81v12.83M601.5 662.47v12.83M615.5 700.96v12.83" stroke="#883366" stroke-width="1.02" fill="none"/>
<path d="M616.5 457.19v12.83M585.5 470.02v12.83M586.5 470.02v12.83M620.5 482.85v12.83M500.5 495.68v12.83M545.5 495.68v12.83M583.5 495.68v12.83M619.5 495.68v12.83M480.5 508.51v12.83M514.5 508.51v12.83M418.5 534.17v12.83M537.5 559.83v12.83M548.5 559.83v12.83M639.5 559.83v12.83M416.5 662.47v12.83M487.5 700.96v12.83M504.5 713.79v12.83M610.5 713.79v12.83M401.5 726.62v12.83M473.5 726.62v12.83M523.5 726.62v12.83M583.5 726.62v12.83M528.5 739.45v12.83M492.5 777.94v12.83" stroke="#662233" stroke-width="1.02" fill="none"/>
<path d="M620.5 457.19v12.83M573.5 470.02v12.83M636.5 521.34v12.83M509.5 547.00v12.83M632.5 547.00v12.83M462.5 559.83v12.83M419.5 700.96v12.83M457.5 700.96v12.83M596.5 739.45v12.83M610.5 790.77v12.83" stroke="#660055" stroke-width="1.02" fill="none"/>
<path d="M392.5 470.02v12.83M531.5 559.83v12.83" stroke="#993377" stroke-width="1.02" fill="none"/>
<path d="M401.5 470.02v12.83M523.5 470.02v12.83M625.5 739.45v12.83M461.5 777.94v12.83M417.5 790.77v12.83M488.5 790.77v12.83" stroke="#996622" stroke-width="1.02" fill="none"/>
<path d="M407.5 470.02v12.83M485.5 482.85v12.83M525.5 482.85v12.83M528.5 482.85v12.83M482.5 495.68v12.83M630.5 495.68v12.83M584.5 559.83v12.83M484.5 611.15v12.83M600.5 649.64v12.83M614.5 700.96v12.83M620.5 752.28v12.83M409.5 777.94v12.83M480.5 790.77v12.83" stroke="#775533" stroke-width="1.02" fill="none"/>
<path d="M422.5 470.02v12.83M594.5 470.02v12.83M409.5 482.85v12.83M424.5 495.68v12.83M460.5 495.68v12.83M483.5 521.34v12.83M542.5 534.17v12.83M419.5 547.00v12.83M498.5 572.66v12.83M490.5 585.49v12.83M481.5 598.32v12.83M608.5 662.47v12.83M569.5 700.96v12.83M463.5 726.62v12.83M530.5 726.62v12.83M441.5 739.45v12.83M539.5 739.45v12.83M520.5 752.28v12.83M470.5 777.94v12.83M504.5 777.94v12.83M392.5 790.77v12.83M556.5 790.77v12.83" stroke="#553333" stroke-width="1.02" fill="none"/>
<path d="M431.5 470.02v12.83M481.5 585.49v12.83M597.5 598.32v12.83M410.5 611.15v12.83M402.5 739.45v12.83" stroke="#997733" stroke-width="1.02" fill="none"/>
<path d="M441.5 470.02v12.83M585.5 495.68v12.83M413.5 508.51v12.83M459.5 508.51v12.83M463.5 508.51v12.83M472.5 508.51v12.83M458.5 521.34v12.83M486.5 521.34v12.83M485.5 559.83v12.83M508.5 559.83v12.83M428.5 585.49v12.83M612.5 585.49v12.83M534.5 598.32v12.83M547.5 611.15v12.83M612.5 636.81v12.83M557.5 700.96v12.83M438.5 739.45v12.83M507.5 739.45v12.83M430.5 777.94v12.83M551.5 790.77v12.83" stroke="#771155" stroke-width="1.02" fill="none"/>
<path d="M482.5 470.02v12.83M440.5 482.85v12.83M446.5 726.62v12.83" stroke="#995555" stroke-width="1.02" fill="none"/>
<path d="M486.5 470.02v12.83M615.5 482.85v12.83M498.5 611.15v12.83M525.5 611.15v12.83M548.5 700.96v12.83M611.5 700.96v12.83M391.5 739.45v12.83M567.5 790.77v12.83" stroke="#551155" stroke-width="1.02" fill="none"/>
<path d="M490.5 470.02v12.83M526.5 495.68v12.83M612.5 559.83v12.83M575.5 790.77v12.83" stroke="#994466" stroke-width="1.02" fill="none"/>
<path d="M579.5 470.02v12.83M563.5 508.51v12.83M569.5 521.34v12.83M610.5 559.83v12.83M616.5 585.49v12.83M489.5 611.15v12.83M474.5 623.98v12.83M443.5 649.64v12.83M436.5 688.13v12.83M598.5 713.79v12.83M495.5 752.28v12.83" stroke="#331111" stroke-width="1.02" fill="none"/>
<path d="M593.5 470.02v12.83M591.5 482.85v12.83M581.5 521.34v12.83M505.5 534.17v12.83M523.5 534.17v12.83M417.5 547.00v12.83M478.5 547.00v12.83M480.5 547.00v12.83M422.5 559.83v12.83M547.5 598.32v12.83M572.5 649.64v12.83M587.5 662.47v12.83M604.5 662.47v12.83M637.5 688.13v12.83M641.5 688.13v12.83M528.5 752.28v12.83M553.5 765.11v12.83M417.5 777.94v12.83M564.5 777.94v12.83M600.5 790.77v12.83" stroke="#443322" stroke-width="1.02" fill="none"/>
<path d="M444.5 482.85v12.83M557.5 598.32v12.83M567.5 611.15v12.83" stroke="#aa9900" stroke-width="1.02" fill="none"/>
<path d="M447.5 482.85v12.83M641.5 585.49v12.83M609.5 739.45v12.83" stroke="#771177" stroke-width="1.02" fill="none"/>
<path d="M470.5 482.85v12.83M398.5 521.34v12.83M516.5 521.34v12.83M462.5 534.17v12.83M592.5 598.32v12.83M564.5 623.98v12.83M594.5 623.98v12.83M503.5 713.79v12.83M527.5 713.79v12.83M515.5 752.28v12.83M478.5 765.11v12.83" stroke="#665500" stroke-width="1.02" fill="none"/>
<path d="M472.5 482.85v12.83M597.5 572.66v12.83M600.5 623.98v12.83M623.5 726.62v12.83" stroke="#887700" stroke-width="1.02" fill="none"/>
<path d="M491.5 482.85v12.83" stroke="#bb6644" stroke-width="1.02" fill="none"/>
<path d="M457.5 495.68v12.83M628.5 688.13v12.83M428.5 752.28v12.83" stroke="#998800" stroke-width="1.02" fill="none"/>
<path d="M515.5 495.68v12.83M506.5 508.51v12.83M619.5 547.00v12.83M529.5 598.32v12.83M555.5 611.15v12.83" stroke="#aa8811" stroke-width="1.02" fill="none"/>
<path d="M430.5 508.51v12.83" stroke="#aa2277" stroke-width="1.02" fill="none"/>
<path d="M468.5 508.51v12.83M496.5 521.34v12.83M524.5 521.34v12.83M510.5 559.83v12.83M407.5 598.32v12.83M470.5 636.81v12.83M432.5 700.96v12.83M552.5 700.96v12.83M637.5 700.96v12.83M444.5 726.62v12.83M422.5 790.77v12.83M452.5 790.77v12.83" stroke="#993366" stroke-width="1.02" fill="none"/>
<path d="M544.5 508.51v12.83M425.5 700.96v12.83M489.5 726.62v12.83" stroke="#991188" stroke-width="1.02" fill="none"/>
<path d="M546.5 508.51v12.83M429.5 790.77v12.83" stroke="#aa5544" stroke-width="1.02" fill="none"/>
<path d="M413.5 521.34v12.83M551.5 547.00v12.83M439.5 585.49v12.83M458.5 585.49v12.83M425.5 598.32v12.83M391.5 611.15v12.83M441.5 636.81v12.83M468.5 636.81v12.83M576.5 700.96v12.83M403.5 790.77v12.83" stroke="#883344" stroke-width="1.02" fill="none"/>
<path d="M428.5 521.34v12.83" stroke="#ccbb11" stroke-width="1.02" fill="none"/>
<path d="M535.5 521.34v12.83M582.5 547.00v12.83" stroke="#ccaa22" stroke-width="1.02" fill="none"/>
<path d="M546.5 534.17v12.83M560.5 649.64v12.83M623.5 675.30v12.83M586.5 713.79v12.83M433.5 752.28v12.83M491.5 752.28v12.83M499.5 752.28v12.83M631.5 765.11v12.83M584.5 777.94v12.83" stroke="#554400" stroke-width="1.02" fill="none"/>
<path d="M433.5 547.00v12.83M455.5 559.83v12.83M394.5 585.49v12.83M398.5 598.32v12.83M577.5 662.47v12.83M434.5 700.96v12.83" stroke="#661166" stroke-width="1.02" fill="none"/>
<path d="M489.5 559.83v12.83" stroke="#991177" stroke-width="1.02" fill="none"/>
<path d="M536.5 559.83v12.83M595.5 598.32v12.83M526.5 726.62v12.83M448.5 752.28v12.83M627.5 777.94v12.83" stroke="#aa9922" stroke-width="1.02" fill="none"/>
<path d="M549.5 585.49v12.83M638.5 790.77v12.83" stroke="#aa6633" stroke-width="1.02" fill="none"/>
<path d="M605.5 585.49v12.83" stroke="#bb7744" stroke-width="1.02" fill="none"/>
<path d="M485.5 598.32v12.83" stroke="#aa4466" stroke-width="1.02" fill="none"/>
<path d="M552.5 611.15v12.83M480.5 726.62v12.83" stroke="#bb8822" stroke-width="1.02" fill="none"/>
<path d="M577.5 623.98v12.83M408.5 777.94v12.83M635.5 777.94v12.83" stroke="#dddd00" stroke-width="1.02" fill="none"/>
<path d="M635.5 700.96v12.83" stroke="#992288" stroke-width="1.02" fill="none"/>
<path d="M507.5 726.62v12.83" stroke="#bb7733" stroke-width="1.02" fill="none"/>
<path d="M611.5 726.62v12.83" stroke="#aa4455" stroke-width="1.02" fill="none"/>
<path d="M625.5 726.62v12.83" stroke="#bb9933" stroke-width="1.02" fill="none"/>
<path d="M626.5 726.62v12.83" stroke="#dd9944" stroke-width="1.02" fill="none"/>
<path d="M638.5 726.62v12.83" stroke="#aa7722" stroke-width="1.02" fill="none"/>
<path d="M444.5 739.45v12.83" stroke="#cc9933" stroke-width="1.02" fill="none"/>
<path d="M615.5 739.45v12.83" stroke="#ccaa11" stroke-width="1.02" fill="none"/>
<path d="M418.5 777.94v12.83" stroke="#ddaa22" stroke-width="1.02" fill="none"/>
<path d="M459.5 777.94v12.83" stroke="#bbaa22" stroke-width="1.02" fill="none"/>
<path d="M502.5 777.94v12.83M544.5 777.94v12.83" stroke="#aa8833" stroke-width="1.02" fill="none"/>
<path d="M438.5 790.77v12.83" stroke="#bb8844" stroke-width="1.02" fill="none"/>
<path d="M484.5 790.77v12.83" stroke="#aaaa11" stroke-width="1.02" fill="none"/>
</g></g>
<path d="M548.9 418.7V803.6M611.6 418.7V803.6" stroke="#fff" stroke-width="0.9"/>
<text x="360" y="428.5" font-family="Liberation Sans, Arial, sans-serif" font-size="9.3" textLength="27.8" lengthAdjust="spacingAndGlyphs">Lgals1</text>
<text x="354.4" y="441.3" font-family="Liberation Sans, Arial, sans-serif" font-size="9.3" textLength="33.4" lengthAdjust="spacingAndGlyphs">S100a6</text>
<text x="348.7" y="454.1" font-family="Liberation Sans, Arial, sans-serif" font-size="9.3" textLength="39.1" lengthAdjust="spacingAndGlyphs">S100a11</text>
<text x="348.2" y="466.9" font-family="Liberation Sans, Arial, sans-serif" font-size="9.3" textLength="39.6" lengthAdjust="spacingAndGlyphs">Smpdl3a</text>
<text x="363.1" y="479.7" font-family="Liberation Sans, Arial, sans-serif" font-size="9.3" textLength="24.7" lengthAdjust="spacingAndGlyphs">Prr13</text>
<text x="362.7" y="492.4" font-family="Liberation Sans, Arial, sans-serif" font-size="9.3" textLength="25.1" lengthAdjust="spacingAndGlyphs">Lmo4</text>
<text x="364.1" y="505.2" font-family="Liberation Sans, Arial, sans-serif" font-size="9.3" textLength="23.7" lengthAdjust="spacingAndGlyphs">Crip1</text>
<text x="362.1" y="518" font-family="Liberation Sans, Arial, sans-serif" font-size="9.3" textLength="25.7" lengthAdjust="spacingAndGlyphs">Il18r1</text>
<text x="367.8" y="530.8" font-family="Liberation Sans, Arial, sans-serif" font-size="9.3" textLength="20" lengthAdjust="spacingAndGlyphs">Ccr2</text>
<text x="360" y="543.6" font-family="Liberation Sans, Arial, sans-serif" font-size="9.3" textLength="27.8" lengthAdjust="spacingAndGlyphs">Anxa2</text>
<text x="366.8" y="556.4" font-family="Liberation Sans, Arial, sans-serif" font-size="9.3" textLength="21" lengthAdjust="spacingAndGlyphs">Eil5a</text>
<text x="360" y="569.2" font-family="Liberation Sans, Arial, sans-serif" font-size="9.3" textLength="27.8" lengthAdjust="spacingAndGlyphs">Hspa8</text>
<text x="342.1" y="582" font-family="Liberation Sans, Arial, sans-serif" font-size="9.3" textLength="45.7" lengthAdjust="spacingAndGlyphs">Hsp90ab1</text>
<text x="373" y="594.8" font-family="Liberation Sans, Arial, sans-serif" font-size="9.3" textLength="14.8" lengthAdjust="spacingAndGlyphs">Mif</text>
<text x="360" y="607.6" font-family="Liberation Sans, Arial, sans-serif" font-size="9.3" textLength="27.8" lengthAdjust="spacingAndGlyphs">Hspe1</text>
<text x="359.6" y="620.4" font-family="Liberation Sans, Arial, sans-serif" font-size="9.3" textLength="28.2" lengthAdjust="spacingAndGlyphs">Hspd1</text>
<text x="373" y="633.1" font-family="Liberation Sans, Arial, sans-serif" font-size="9.3" textLength="14.8" lengthAdjust="spacingAndGlyphs">Irf8</text>
<text x="353.8" y="645.9" font-family="Liberation Sans, Arial, sans-serif" font-size="9.3" textLength="34" lengthAdjust="spacingAndGlyphs">Tuba1b</text>
<text x="354.8" y="658.7" font-family="Liberation Sans, Arial, sans-serif" font-size="9.3" textLength="33" lengthAdjust="spacingAndGlyphs">Bcl2l11</text>
<text x="368.9" y="671.5" font-family="Liberation Sans, Arial, sans-serif" font-size="9.3" textLength="18.9" lengthAdjust="spacingAndGlyphs">Xcl1</text>
<text x="361.6" y="684.3" font-family="Liberation Sans, Arial, sans-serif" font-size="9.3" textLength="26.2" lengthAdjust="spacingAndGlyphs">Dapl1</text>
<text x="350.7" y="697.1" font-family="Liberation Sans, Arial, sans-serif" font-size="9.3" textLength="37.1" lengthAdjust="spacingAndGlyphs">Tsc22d3</text>
<text x="367.2" y="709.9" font-family="Liberation Sans, Arial, sans-serif" font-size="9.3" textLength="20.6" lengthAdjust="spacingAndGlyphs">Junb</text>
<text x="367.8" y="722.7" font-family="Liberation Sans, Arial, sans-serif" font-size="9.3" textLength="20" lengthAdjust="spacingAndGlyphs">Ccr7</text>
<text x="368.9" y="735.5" font-family="Liberation Sans, Arial, sans-serif" font-size="9.3" textLength="18.9" lengthAdjust="spacingAndGlyphs">Lef1</text>
<text x="361" y="748.2" font-family="Liberation Sans, Arial, sans-serif" font-size="9.3" textLength="26.8" lengthAdjust="spacingAndGlyphs">Rgs10</text>
<text x="359" y="761" font-family="Liberation Sans, Arial, sans-serif" font-size="9.3" textLength="28.8" lengthAdjust="spacingAndGlyphs">Igfbp4</text>
<text x="373" y="773.8" font-family="Liberation Sans, Arial, sans-serif" font-size="9.3" textLength="14.8" lengthAdjust="spacingAndGlyphs">Sell</text>
<text x="348.7" y="786.6" font-family="Liberation Sans, Arial, sans-serif" font-size="9.3" textLength="39.1" lengthAdjust="spacingAndGlyphs">Gm8369</text>
<text x="349.7" y="799.4" font-family="Liberation Sans, Arial, sans-serif" font-size="9.3" textLength="38.1" lengthAdjust="spacingAndGlyphs">Ppp1r5a</text>
<defs><linearGradient id="ge" x1="0" y1="0" x2="0" y2="1"><stop offset="0" stop-color="#ffff00"/><stop offset="0.06" stop-color="#ffff00"/><stop offset="0.5" stop-color="#000"/><stop offset="0.94" stop-color="#ff00ff"/><stop offset="1" stop-color="#ff00ff"/></linearGradient>
<linearGradient id="ga" x1="0" y1="0" x2="1" y2="0"><stop offset="0" stop-color="#1a00ff"/><stop offset="1" stop-color="#dedaee"/></linearGradient></defs>
<text x="651.7" y="552.5" font-family="Liberation Sans, Arial, sans-serif" font-size="6.1" fill="#111" textLength="30.6" lengthAdjust="spacingAndGlyphs">Expression</text>
<rect x="651.7" y="556.4" width="9.6" height="52.4" fill="url(#ge)"/>
<text x="664.4" y="564.7" font-family="Liberation Sans, Arial, sans-serif" font-size="5" fill="#111">2</text>
<text x="664.4" y="574.7" font-family="Liberation Sans, Arial, sans-serif" font-size="5" fill="#111">1</text>
<text x="664.4" y="584.7" font-family="Liberation Sans, Arial, sans-serif" font-size="5" fill="#111">0</text>
<text x="664.4" y="594.7" font-family="Liberation Sans, Arial, sans-serif" font-size="5" fill="#111">-1</text>
<text x="664.4" y="604.7" font-family="Liberation Sans, Arial, sans-serif" font-size="5" fill="#111">-2</text>
</g>
<g id="lg">
<text x="372.8" y="842.7" font-family="Liberation Sans, Arial, sans-serif" font-size="12.6" fill="#111" textLength="112.9" lengthAdjust="spacingAndGlyphs">Average Expression</text>
<rect x="386.9" y="870.9" width="65.4" height="12.6" fill="url(#ga)"/>
<text transform="translate(397.5,864.6) rotate(-90)" font-family="Liberation Sans, Arial, sans-serif" font-size="9.3" fill="#222">2</text>
<path d="M394.6 870.9v2.2M394.6 883.5v-2.2" stroke="#fff" stroke-width="0.5" opacity="0.8"/>
<text transform="translate(410.8,864.6) rotate(-90)" font-family="Liberation Sans, Arial, sans-serif" font-size="9.3" fill="#222">1</text>
<path d="M407.9 870.9v2.2M407.9 883.5v-2.2" stroke="#fff" stroke-width="0.5" opacity="0.8"/>
<text transform="translate(424.1,864.6) rotate(-90)" font-family="Liberation Sans, Arial, sans-serif" font-size="9.3" fill="#222">0</text>
<path d="M421.2 870.9v2.2M421.2 883.5v-2.2" stroke="#fff" stroke-width="0.5" opacity="0.8"/>
<text transform="translate(437.6,864.6) rotate(-90)" font-family="Liberation Sans, Arial, sans-serif" font-size="9.3" fill="#222">-1</text>
<path d="M434.7 870.9v2.2M434.7 883.5v-2.2" stroke="#fff" stroke-width="0.5" opacity="0.8"/>
<text transform="translate(451.2,864.6) rotate(-90)" font-family="Liberation Sans, Arial, sans-serif" font-size="9.3" fill="#222">-2</text>
<path d="M448.3 870.9v2.2M448.3 883.5v-2.2" stroke="#fff" stroke-width="0.5" opacity="0.8"/>
<text x="371.7" y="912.3" font-family="Liberation Sans, Arial, sans-serif" font-size="14.2" fill="#111" textLength="121" lengthAdjust="spacingAndGlyphs">Percent Expressed</text>
<circle cx="389.9" cy="950.1" r="0.5" fill="#000"/>
<text transform="translate(393.3,936.3) rotate(-90)" font-family="Liberation Sans, Arial, sans-serif" font-size="10" fill="#222">0</text>
<circle cx="403.2" cy="950.1" r="1.9" fill="#000"/>
<text transform="translate(406.6,936.3) rotate(-90)" font-family="Liberation Sans, Arial, sans-serif" font-size="10" fill="#222">25</text>
<circle cx="416.5" cy="950.1" r="3.5" fill="#000"/>
<text transform="translate(419.9,936.3) rotate(-90)" font-family="Liberation Sans, Arial, sans-serif" font-size="10" fill="#222">50</text>
<circle cx="429.8" cy="950.1" r="5.1" fill="#000"/>
<text transform="translate(433.2,936.3) rotate(-90)" font-family="Liberation Sans, Arial, sans-serif" font-size="10" fill="#222">75</text>
<circle cx="444.1" cy="950.1" r="6.5" fill="#000"/>
<text transform="translate(447.5,936.3) rotate(-90)" font-family="Liberation Sans, Arial, sans-serif" font-size="10" fill="#222">100</text>
</g></svg></body></html>
